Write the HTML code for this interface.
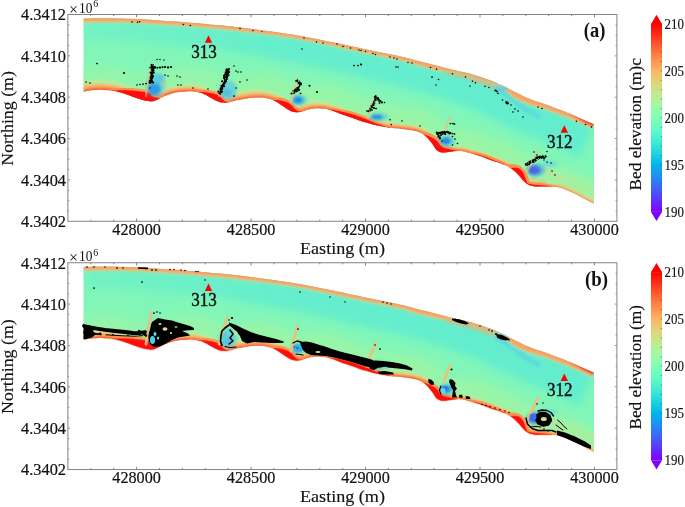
<!DOCTYPE html>
<html><head><meta charset="utf-8"><style>
    html,body{margin:0;padding:0;background:#fff;}
    svg{display:block;}
    text{font-family:"Liberation Serif",serif;fill:#111;}
    .tl{font-size:16px;stroke:#111;stroke-width:0.2px;}
    .ex{font-size:14px;}
    .sup{font-size:10px;}
    .at{font-size:17px;stroke:#111;stroke-width:0.15px;}
    .pl{font-size:20.5px;font-weight:bold;}
    .cl{font-size:15px;stroke:#111;stroke-width:0.15px;}
    .st{font-size:19.5px;stroke:#111;stroke-width:0.45px;}
    </style></head>
<body><svg width="685" height="507" viewBox="0 0 685 507">
<defs>
    <linearGradient id="upg" gradientUnits="userSpaceOnUse" x1="83" y1="0" x2="594" y2="0"><stop offset="0" stop-color="#50e8dc" stop-opacity="0.3"/><stop offset="0.4" stop-color="#50e8dc" stop-opacity="0.58"/><stop offset="1" stop-color="#50e8dc" stop-opacity="0.62"/></linearGradient>
    <linearGradient id="lowg" gradientUnits="userSpaceOnUse" x1="83" y1="0" x2="594" y2="0"><stop offset="0" stop-color="#a6f49c" stop-opacity="0.45"/><stop offset="0.5" stop-color="#a6f49c" stop-opacity="0.6"/><stop offset="1" stop-color="#a6f49c" stop-opacity="0.65"/></linearGradient>
    <filter id="blur6" x="-50%" y="-50%" width="200%" height="200%"><feGaussianBlur stdDeviation="6"/></filter>
    <filter id="blur4" x="-20%" y="-20%" width="140%" height="140%"><feGaussianBlur stdDeviation="4"/></filter>
    <filter id="blur08" x="-10%" y="-10%" width="120%" height="120%"><feGaussianBlur stdDeviation="0.8"/></filter>
    <filter id="blur1" x="-10%" y="-10%" width="120%" height="120%"><feGaussianBlur stdDeviation="1"/></filter>
    <filter id="blur05" x="-10%" y="-10%" width="120%" height="120%"><feGaussianBlur stdDeviation="0.5"/></filter>
    <filter id="blur15" x="-50%" y="-50%" width="200%" height="200%"><feGaussianBlur stdDeviation="1.5"/></filter>
    </defs>
<g>
<clipPath id="paclip"><path d="M83.50 18.60 C86.08 18.55 93.25 18.33 99.00 18.30 C104.75 18.27 111.67 18.28 118.00 18.40 C124.33 18.52 130.67 18.70 137.00 19.00 C143.33 19.30 149.67 19.78 156.00 20.20 C162.33 20.62 168.67 21.03 175.00 21.50 C181.33 21.97 188.17 22.52 194.00 23.00 C199.83 23.48 205.60 24.02 210.00 24.40 C214.40 24.78 215.25 24.77 220.40 25.30 C225.55 25.83 234.08 26.78 240.90 27.60 C247.72 28.42 254.50 29.32 261.30 30.20 C268.10 31.08 274.88 31.90 281.70 32.90 C288.52 33.90 295.38 34.98 302.20 36.20 C309.02 37.42 316.30 38.93 322.60 40.20 C328.90 41.47 334.60 42.67 340.00 43.80 C345.40 44.93 350.00 45.93 355.00 47.00 C360.00 48.07 365.83 49.33 370.00 50.20 C374.17 51.07 375.83 51.35 380.00 52.20 C384.17 53.05 390.33 54.30 395.00 55.30 C399.67 56.30 403.83 57.17 408.00 58.20 C412.17 59.23 416.33 60.55 420.00 61.50 C423.67 62.45 426.67 63.08 430.00 63.90 C433.33 64.72 435.83 65.35 440.00 66.40 C444.17 67.45 450.83 69.17 455.00 70.20 C459.17 71.23 461.67 71.75 465.00 72.60 C468.33 73.45 471.67 74.32 475.00 75.30 C478.33 76.28 481.67 77.35 485.00 78.50 C488.33 79.65 492.17 81.03 495.00 82.20 C497.83 83.37 499.50 84.28 502.00 85.50 C504.50 86.72 507.00 88.02 510.00 89.50 C513.00 90.98 516.67 92.82 520.00 94.40 C523.33 95.98 526.67 97.63 530.00 99.00 C533.33 100.37 536.67 101.45 540.00 102.60 C543.33 103.75 546.67 104.70 550.00 105.90 C553.33 107.10 556.67 108.48 560.00 109.80 C563.33 111.12 567.50 112.77 570.00 113.80 C572.50 114.83 573.33 115.25 575.00 116.00 C576.67 116.75 577.83 117.33 580.00 118.30 C582.17 119.27 585.67 120.80 588.00 121.80 C590.33 122.80 593.00 123.88 594.00 124.30 L594.00 203.60 C592.93 203.07 589.88 201.60 587.60 200.40 C585.32 199.20 582.73 197.67 580.30 196.40 C577.87 195.13 575.43 193.92 573.00 192.80 C570.57 191.68 568.13 190.63 565.70 189.70 C563.27 188.77 560.83 187.73 558.40 187.20 C555.97 186.67 553.78 186.62 551.10 186.50 C548.42 186.38 545.22 186.55 542.30 186.50 C539.38 186.45 536.03 186.57 533.60 186.20 C531.17 185.83 529.40 185.22 527.70 184.30 C526.00 183.38 524.85 182.17 523.40 180.70 C521.95 179.23 520.47 177.08 519.00 175.50 C517.53 173.92 516.55 172.77 514.60 171.20 C512.65 169.63 509.73 167.48 507.30 166.10 C504.87 164.72 502.22 163.72 500.00 162.90 C497.78 162.08 497.33 162.37 494.00 161.20 C490.67 160.03 484.37 157.37 480.00 155.90 C475.63 154.43 471.30 153.27 467.80 152.40 C464.30 151.53 462.22 150.78 459.00 150.70 C455.78 150.62 451.42 151.62 448.50 151.90 C445.58 152.18 443.53 152.75 441.50 152.40 C439.47 152.05 437.75 151.12 436.30 149.80 C434.85 148.48 434.18 146.38 432.80 144.50 C431.42 142.62 429.57 140.20 428.00 138.50 C426.43 136.80 425.13 135.48 423.40 134.30 C421.67 133.12 419.78 132.13 417.60 131.40 C415.42 130.67 412.73 130.32 410.30 129.90 C407.87 129.48 405.43 129.18 403.00 128.90 C400.57 128.62 398.13 128.45 395.70 128.20 C393.27 127.95 390.83 127.72 388.40 127.40 C385.97 127.08 383.53 126.73 381.10 126.30 C378.67 125.87 376.23 125.42 373.80 124.80 C371.37 124.18 368.93 123.33 366.50 122.60 C364.07 121.87 361.63 121.20 359.20 120.40 C356.77 119.60 354.33 118.65 351.90 117.80 C349.47 116.95 347.03 116.20 344.60 115.30 C342.17 114.40 339.40 113.22 337.30 112.40 C335.20 111.58 334.10 111.02 332.00 110.40 C329.90 109.78 327.13 109.07 324.70 108.70 C322.27 108.33 319.83 108.15 317.40 108.20 C314.97 108.25 312.53 108.50 310.10 109.00 C307.67 109.50 305.00 110.67 302.80 111.20 C300.60 111.73 298.85 112.20 296.90 112.20 C294.95 112.20 293.28 112.10 291.10 111.20 C288.92 110.30 286.23 108.38 283.80 106.80 C281.37 105.22 278.93 103.03 276.50 101.70 C274.07 100.37 271.63 99.48 269.20 98.80 C266.77 98.12 264.33 97.80 261.90 97.60 C259.47 97.40 257.03 97.45 254.60 97.60 C252.17 97.75 250.13 98.08 247.30 98.50 C244.47 98.92 240.43 99.53 237.60 100.10 C234.77 100.67 232.73 101.48 230.30 101.90 C227.87 102.32 225.43 102.85 223.00 102.60 C220.57 102.35 218.13 101.43 215.70 100.40 C213.27 99.37 210.83 97.67 208.40 96.40 C205.97 95.13 203.53 93.63 201.10 92.80 C198.67 91.97 196.23 91.63 193.80 91.40 C191.37 91.17 188.93 91.30 186.50 91.40 C184.07 91.50 181.63 91.67 179.20 92.00 C176.77 92.33 174.33 92.72 171.90 93.40 C169.47 94.08 167.03 95.05 164.60 96.10 C162.17 97.15 159.33 98.83 157.30 99.70 C155.27 100.57 154.00 101.08 152.40 101.30 C150.80 101.52 150.03 101.43 147.70 101.00 C145.37 100.57 141.90 99.77 138.40 98.70 C134.90 97.63 130.60 95.87 126.70 94.60 C122.80 93.33 118.88 91.88 115.00 91.10 C111.12 90.32 107.28 90.03 103.40 89.90 C99.52 89.77 95.02 90.00 91.70 90.30 C88.38 90.60 84.87 91.47 83.50 91.70 Z"/></clipPath>
<path d="M83.50 18.60 C86.08 18.55 93.25 18.33 99.00 18.30 C104.75 18.27 111.67 18.28 118.00 18.40 C124.33 18.52 130.67 18.70 137.00 19.00 C143.33 19.30 149.67 19.78 156.00 20.20 C162.33 20.62 168.67 21.03 175.00 21.50 C181.33 21.97 188.17 22.52 194.00 23.00 C199.83 23.48 205.60 24.02 210.00 24.40 C214.40 24.78 215.25 24.77 220.40 25.30 C225.55 25.83 234.08 26.78 240.90 27.60 C247.72 28.42 254.50 29.32 261.30 30.20 C268.10 31.08 274.88 31.90 281.70 32.90 C288.52 33.90 295.38 34.98 302.20 36.20 C309.02 37.42 316.30 38.93 322.60 40.20 C328.90 41.47 334.60 42.67 340.00 43.80 C345.40 44.93 350.00 45.93 355.00 47.00 C360.00 48.07 365.83 49.33 370.00 50.20 C374.17 51.07 375.83 51.35 380.00 52.20 C384.17 53.05 390.33 54.30 395.00 55.30 C399.67 56.30 403.83 57.17 408.00 58.20 C412.17 59.23 416.33 60.55 420.00 61.50 C423.67 62.45 426.67 63.08 430.00 63.90 C433.33 64.72 435.83 65.35 440.00 66.40 C444.17 67.45 450.83 69.17 455.00 70.20 C459.17 71.23 461.67 71.75 465.00 72.60 C468.33 73.45 471.67 74.32 475.00 75.30 C478.33 76.28 481.67 77.35 485.00 78.50 C488.33 79.65 492.17 81.03 495.00 82.20 C497.83 83.37 499.50 84.28 502.00 85.50 C504.50 86.72 507.00 88.02 510.00 89.50 C513.00 90.98 516.67 92.82 520.00 94.40 C523.33 95.98 526.67 97.63 530.00 99.00 C533.33 100.37 536.67 101.45 540.00 102.60 C543.33 103.75 546.67 104.70 550.00 105.90 C553.33 107.10 556.67 108.48 560.00 109.80 C563.33 111.12 567.50 112.77 570.00 113.80 C572.50 114.83 573.33 115.25 575.00 116.00 C576.67 116.75 577.83 117.33 580.00 118.30 C582.17 119.27 585.67 120.80 588.00 121.80 C590.33 122.80 593.00 123.88 594.00 124.30 L594.00 203.60 C592.93 203.07 589.88 201.60 587.60 200.40 C585.32 199.20 582.73 197.67 580.30 196.40 C577.87 195.13 575.43 193.92 573.00 192.80 C570.57 191.68 568.13 190.63 565.70 189.70 C563.27 188.77 560.83 187.73 558.40 187.20 C555.97 186.67 553.78 186.62 551.10 186.50 C548.42 186.38 545.22 186.55 542.30 186.50 C539.38 186.45 536.03 186.57 533.60 186.20 C531.17 185.83 529.40 185.22 527.70 184.30 C526.00 183.38 524.85 182.17 523.40 180.70 C521.95 179.23 520.47 177.08 519.00 175.50 C517.53 173.92 516.55 172.77 514.60 171.20 C512.65 169.63 509.73 167.48 507.30 166.10 C504.87 164.72 502.22 163.72 500.00 162.90 C497.78 162.08 497.33 162.37 494.00 161.20 C490.67 160.03 484.37 157.37 480.00 155.90 C475.63 154.43 471.30 153.27 467.80 152.40 C464.30 151.53 462.22 150.78 459.00 150.70 C455.78 150.62 451.42 151.62 448.50 151.90 C445.58 152.18 443.53 152.75 441.50 152.40 C439.47 152.05 437.75 151.12 436.30 149.80 C434.85 148.48 434.18 146.38 432.80 144.50 C431.42 142.62 429.57 140.20 428.00 138.50 C426.43 136.80 425.13 135.48 423.40 134.30 C421.67 133.12 419.78 132.13 417.60 131.40 C415.42 130.67 412.73 130.32 410.30 129.90 C407.87 129.48 405.43 129.18 403.00 128.90 C400.57 128.62 398.13 128.45 395.70 128.20 C393.27 127.95 390.83 127.72 388.40 127.40 C385.97 127.08 383.53 126.73 381.10 126.30 C378.67 125.87 376.23 125.42 373.80 124.80 C371.37 124.18 368.93 123.33 366.50 122.60 C364.07 121.87 361.63 121.20 359.20 120.40 C356.77 119.60 354.33 118.65 351.90 117.80 C349.47 116.95 347.03 116.20 344.60 115.30 C342.17 114.40 339.40 113.22 337.30 112.40 C335.20 111.58 334.10 111.02 332.00 110.40 C329.90 109.78 327.13 109.07 324.70 108.70 C322.27 108.33 319.83 108.15 317.40 108.20 C314.97 108.25 312.53 108.50 310.10 109.00 C307.67 109.50 305.00 110.67 302.80 111.20 C300.60 111.73 298.85 112.20 296.90 112.20 C294.95 112.20 293.28 112.10 291.10 111.20 C288.92 110.30 286.23 108.38 283.80 106.80 C281.37 105.22 278.93 103.03 276.50 101.70 C274.07 100.37 271.63 99.48 269.20 98.80 C266.77 98.12 264.33 97.80 261.90 97.60 C259.47 97.40 257.03 97.45 254.60 97.60 C252.17 97.75 250.13 98.08 247.30 98.50 C244.47 98.92 240.43 99.53 237.60 100.10 C234.77 100.67 232.73 101.48 230.30 101.90 C227.87 102.32 225.43 102.85 223.00 102.60 C220.57 102.35 218.13 101.43 215.70 100.40 C213.27 99.37 210.83 97.67 208.40 96.40 C205.97 95.13 203.53 93.63 201.10 92.80 C198.67 91.97 196.23 91.63 193.80 91.40 C191.37 91.17 188.93 91.30 186.50 91.40 C184.07 91.50 181.63 91.67 179.20 92.00 C176.77 92.33 174.33 92.72 171.90 93.40 C169.47 94.08 167.03 95.05 164.60 96.10 C162.17 97.15 159.33 98.83 157.30 99.70 C155.27 100.57 154.00 101.08 152.40 101.30 C150.80 101.52 150.03 101.43 147.70 101.00 C145.37 100.57 141.90 99.77 138.40 98.70 C134.90 97.63 130.60 95.87 126.70 94.60 C122.80 93.33 118.88 91.88 115.00 91.10 C111.12 90.32 107.28 90.03 103.40 89.90 C99.52 89.77 95.02 90.00 91.70 90.30 C88.38 90.60 84.87 91.47 83.50 91.70 Z" fill="#82f6b8"/>
<g clip-path="url(#paclip)">
<g filter="url(#blur4)">
<path d="M85.7 103.5 L86.7 103.3 L87.9 103.1 L89.1 102.8 L90.4 102.6 L91.7 102.4 L92.8 102.2 L94.3 102.1 L96.0 102.0 L97.8 101.9 L99.6 101.9 L101.4 101.9 L103.0 101.9 L104.7 102.0 L106.4 102.1 L108.0 102.2 L109.6 102.4 L111.1 102.6 L112.6 102.9 L114.0 103.2 L115.5 103.6 L117.2 104.1 L119.0 104.7 L121.0 105.3 L122.9 106.0 L124.7 106.6 L126.6 107.3 L128.6 108.0 L130.6 108.7 L132.7 109.5 L134.9 110.2 L136.9 110.8 L138.8 111.3 L140.7 111.7 L142.4 112.2 L144.0 112.5 L145.5 112.8 L146.7 113.0 L148.0 113.2 L149.5 113.4 L151.1 113.4 L152.6 113.3 L154.1 113.2 L155.6 112.9 L157.2 112.5 L158.6 112.1 L159.8 111.6 L160.9 111.2 L162.1 110.7 L163.6 110.0 L165.0 109.3 L166.3 108.6 L167.5 108.0 L168.6 107.5 L169.4 107.1 L170.4 106.7 L171.5 106.2 L172.5 105.8 L173.4 105.5 L174.3 105.2 L175.1 105.0 L175.9 104.7 L176.8 104.6 L177.7 104.4 L178.7 104.2 L179.7 104.0 L180.8 103.9 L181.8 103.8 L182.8 103.7 L183.8 103.6 L184.8 103.5 L185.9 103.4 L187.0 103.4 L188.2 103.3 L189.3 103.3 L190.3 103.3 L191.2 103.3 L192.0 103.3 L192.7 103.3 L193.7 103.4 L194.5 103.6 L195.3 103.7 L196.0 103.8 L196.7 104.0 L197.2 104.1 L197.6 104.3 L198.3 104.6 L199.2 105.1 L200.2 105.6 L201.5 106.3 L202.8 107.0 L203.7 107.5 L204.8 108.1 L206.0 108.8 L207.4 109.7 L209.1 110.6 L210.9 111.4 L212.4 112.0 L214.0 112.6 L215.7 113.2 L217.5 113.8 L219.6 114.2 L221.8 114.5 L224.1 114.7 L226.3 114.6 L228.1 114.4 L229.8 114.2 L231.2 113.9 L232.4 113.7 L234.1 113.4 L235.7 113.0 L237.0 112.6 L238.1 112.3 L239.1 112.1 L240.0 111.9 L241.3 111.6 L242.8 111.4 L244.4 111.1 L246.0 110.8 L247.6 110.6 L249.1 110.4 L250.4 110.2 L251.6 110.0 L252.7 109.8 L253.6 109.7 L254.5 109.6 L255.4 109.6 L256.4 109.5 L257.4 109.5 L258.3 109.5 L259.2 109.5 L260.1 109.5 L260.9 109.6 L261.9 109.6 L262.8 109.8 L263.7 109.9 L264.5 110.0 L265.3 110.2 L266.0 110.4 L266.8 110.6 L267.7 110.9 L268.5 111.2 L269.3 111.5 L270.0 111.8 L270.7 112.2 L271.2 112.5 L272.0 113.0 L273.0 113.8 L274.2 114.7 L275.6 115.7 L277.2 116.8 L278.4 117.6 L279.7 118.5 L281.1 119.4 L282.7 120.4 L284.5 121.3 L286.5 122.3 L288.5 123.0 L290.4 123.6 L292.3 123.9 L294.1 124.1 L295.6 124.2 L297.0 124.2 L298.8 124.1 L300.5 123.9 L302.0 123.7 L303.4 123.4 L304.5 123.1 L305.7 122.8 L307.4 122.4 L308.9 121.9 L310.2 121.5 L311.2 121.1 L312.0 120.9 L312.6 120.7 L313.3 120.6 L314.2 120.5 L315.0 120.4 L315.9 120.3 L316.8 120.2 L317.6 120.2 L318.5 120.2 L319.3 120.2 L320.2 120.3 L321.1 120.3 L322.0 120.4 L322.9 120.6 L323.7 120.7 L324.7 120.9 L325.7 121.1 L326.7 121.4 L327.7 121.6 L328.6 121.9 L329.2 122.1 L329.7 122.3 L330.2 122.5 L330.9 122.8 L331.8 123.1 L332.9 123.6 L333.9 124.0 L335.1 124.4 L336.3 124.9 L337.6 125.5 L339.0 126.0 L340.4 126.6 L341.8 127.1 L343.2 127.5 L344.4 128.0 L345.7 128.4 L346.8 128.7 L347.9 129.1 L349.1 129.5 L350.2 129.9 L351.4 130.4 L352.7 130.9 L354.1 131.3 L355.4 131.8 L356.8 132.2 L358.2 132.7 L359.5 133.0 L360.7 133.4 L361.9 133.7 L363.0 134.1 L364.1 134.4 L365.3 134.8 L366.6 135.2 L367.9 135.6 L369.3 136.0 L370.8 136.4 L372.3 136.8 L373.7 137.1 L375.1 137.4 L376.4 137.6 L377.7 137.9 L379.0 138.1 L380.3 138.3 L381.7 138.6 L383.0 138.8 L384.3 139.0 L385.6 139.1 L386.9 139.3 L388.2 139.5 L389.5 139.6 L390.8 139.8 L392.0 139.9 L393.3 140.0 L394.5 140.1 L395.8 140.3 L397.1 140.4 L398.3 140.5 L399.4 140.6 L400.6 140.7 L401.6 140.8 L402.8 141.0 L403.9 141.1 L405.1 141.2 L406.2 141.4 L407.2 141.6 L408.3 141.7 L409.6 141.9 L410.8 142.1 L411.9 142.3 L412.7 142.5 L413.4 142.7 L413.8 142.8 L414.3 143.0 L414.8 143.2 L415.3 143.4 L415.7 143.6 L416.2 143.9 L416.6 144.2 L416.9 144.4 L417.2 144.7 L417.6 145.0 L418.0 145.4 L418.5 145.9 L419.1 146.6 L419.7 147.2 L420.4 148.0 L421.1 148.9 L421.8 149.8 L422.5 150.7 L423.1 151.5 L423.2 151.8 L423.5 152.3 L424.1 153.3 L424.9 154.7 L426.3 156.6 L428.1 158.6 L429.7 159.9 L431.4 161.1 L433.2 162.2 L435.2 163.0 L437.3 163.7 L439.5 164.2 L442.1 164.5 L444.3 164.5 L446.1 164.3 L447.5 164.1 L448.6 164.0 L449.8 163.8 L451.7 163.6 L453.6 163.3 L455.4 163.0 L456.9 162.8 L458.1 162.7 L458.7 162.7 L459.3 162.7 L459.9 162.8 L460.7 163.0 L461.7 163.2 L463.1 163.6 L464.9 164.0 L466.6 164.5 L468.4 165.0 L470.3 165.5 L472.2 166.0 L474.2 166.6 L476.2 167.3 L478.2 168.0 L480.5 168.9 L483.0 169.8 L485.5 170.8 L487.8 171.7 L490.0 172.5 L492.0 173.2 L493.6 173.6 L494.8 173.9 L495.4 174.0 L495.6 174.1 L495.9 174.2 L496.9 174.6 L497.9 174.9 L498.9 175.3 L499.8 175.7 L500.6 176.1 L501.4 176.5 L502.2 177.0 L503.1 177.6 L504.2 178.4 L505.2 179.1 L506.2 179.9 L507.1 180.5 L507.6 181.0 L508.1 181.4 L508.4 181.8 L508.9 182.3 L509.5 182.9 L510.1 183.6 L510.6 184.1 L511.1 184.8 L511.8 185.6 L512.7 186.7 L513.7 187.8 L514.8 189.1 L515.6 189.9 L516.5 190.7 L517.5 191.7 L518.8 192.8 L520.3 193.8 L522.0 194.8 L523.5 195.6 L525.0 196.3 L526.6 196.9 L528.3 197.4 L530.1 197.8 L531.9 198.1 L533.9 198.3 L535.8 198.4 L537.6 198.5 L539.2 198.5 L540.8 198.5 L542.2 198.5 L543.8 198.5 L545.4 198.5 L546.9 198.5 L548.3 198.5 L549.6 198.5 L550.6 198.5 L551.9 198.5 L553.0 198.6 L553.9 198.7 L554.6 198.7 L555.3 198.8 L555.8 198.9 L556.4 199.1 L557.1 199.3 L558.0 199.6 L559.0 200.0 L560.1 200.4 L561.4 200.9 L562.5 201.3 L563.6 201.8 L564.6 202.2 L565.7 202.7 L566.9 203.2 L568.0 203.7 L569.1 204.2 L570.2 204.7 L571.3 205.3 L572.5 205.9 L573.6 206.4 L574.7 207.0 L575.8 207.6 L576.9 208.2 L578.1 208.9 L579.4 209.6 L580.7 210.3 L582.0 211.0 L583.3 211.7 L584.7 212.4 L585.9 213.0 L587.1 213.6 L588.0 214.0 L588.7 214.3 L602.9 185.7 L602.1 185.3 L601.2 184.8 L600.1 184.3 L599.0 183.8 L597.9 183.2 L596.9 182.7 L596.0 182.2 L595.0 181.6 L593.8 181.0 L592.5 180.2 L591.1 179.4 L589.6 178.6 L588.2 177.9 L586.9 177.3 L585.5 176.6 L584.2 175.9 L582.8 175.2 L581.4 174.6 L580.0 173.9 L578.6 173.3 L577.2 172.7 L575.8 172.1 L574.4 171.5 L573.0 170.9 L571.8 170.5 L570.5 169.9 L568.9 169.3 L567.1 168.7 L565.1 168.1 L562.7 167.5 L560.5 167.0 L558.4 166.7 L556.5 166.5 L554.8 166.4 L553.3 166.3 L551.9 166.2 L550.0 166.1 L548.2 166.1 L546.5 166.1 L545.0 166.1 L543.7 166.1 L542.5 166.1 L540.9 166.0 L539.4 166.0 L538.1 166.0 L537.1 165.9 L536.6 165.9 L536.6 165.9 L536.5 165.8 L536.6 165.8 L536.8 165.9 L537.1 166.0 L537.3 166.1 L537.6 166.2 L538.3 166.6 L538.8 167.0 L539.1 167.2 L539.1 167.2 L538.8 166.8 L538.3 166.3 L538.2 166.2 L538.0 165.9 L537.4 165.2 L536.6 164.2 L535.6 162.9 L534.4 161.5 L533.6 160.6 L532.8 159.8 L531.8 158.7 L530.6 157.5 L529.2 156.2 L527.7 155.0 L526.3 153.8 L524.8 152.7 L523.2 151.5 L521.5 150.3 L519.7 149.1 L517.7 147.8 L515.6 146.7 L513.6 145.7 L511.8 144.9 L510.1 144.2 L508.6 143.6 L507.2 143.0 L505.1 142.3 L503.1 141.8 L502.0 141.5 L501.7 141.4 L501.6 141.4 L501.0 141.2 L499.7 140.6 L497.6 139.8 L495.2 138.8 L492.5 137.7 L489.7 136.6 L486.9 135.6 L484.3 134.7 L481.8 133.9 L479.4 133.2 L477.2 132.5 L475.0 131.9 L473.1 131.4 L471.6 131.0 L470.0 130.6 L468.0 130.1 L465.6 129.6 L462.7 129.2 L459.5 129.0 L455.9 129.0 L452.9 129.3 L450.5 129.6 L448.5 129.9 L447.0 130.1 L446.1 130.2 L444.3 130.4 L442.8 130.6 L442.1 130.6 L442.3 130.6 L443.4 130.6 L445.1 130.8 L446.4 131.1 L447.6 131.4 L448.7 131.9 L449.6 132.5 L450.4 133.0 L451.3 133.7 L452.8 135.4 L453.6 136.5 L453.6 136.6 L453.1 135.7 L452.1 133.9 L450.6 131.7 L449.7 130.3 L448.7 129.1 L447.7 127.8 L446.6 126.4 L445.5 125.1 L444.2 123.7 L443.2 122.5 L442.1 121.4 L440.8 120.1 L439.3 118.8 L437.6 117.5 L435.8 116.2 L434.2 115.1 L432.4 114.0 L430.6 113.0 L428.7 112.1 L426.7 111.3 L424.5 110.5 L422.1 109.8 L420.0 109.3 L418.1 108.9 L416.4 108.6 L415.1 108.4 L413.9 108.2 L412.5 107.9 L411.0 107.7 L409.6 107.5 L408.2 107.3 L406.8 107.1 L405.5 106.9 L404.0 106.8 L402.6 106.6 L401.3 106.5 L400.1 106.3 L399.0 106.2 L397.9 106.1 L396.7 106.0 L395.5 105.8 L394.4 105.7 L393.3 105.5 L392.3 105.4 L391.3 105.2 L390.2 105.1 L389.1 104.9 L388.1 104.7 L387.0 104.5 L386.0 104.4 L385.0 104.2 L383.9 103.9 L382.9 103.7 L381.9 103.5 L381.0 103.3 L380.1 103.1 L379.4 102.8 L378.7 102.6 L377.9 102.4 L376.9 102.0 L375.8 101.6 L374.5 101.2 L373.1 100.7 L371.7 100.3 L370.5 99.9 L369.3 99.5 L368.3 99.2 L367.3 98.8 L366.4 98.5 L365.5 98.2 L364.6 97.8 L363.5 97.4 L362.3 96.9 L361.0 96.4 L359.6 95.9 L358.1 95.4 L356.8 94.9 L355.6 94.5 L354.5 94.1 L353.6 93.7 L352.7 93.4 L351.8 93.0 L350.8 92.6 L349.6 92.1 L348.4 91.6 L347.2 91.0 L345.9 90.5 L345.2 90.2 L344.4 89.9 L343.4 89.4 L342.1 88.9 L340.4 88.3 L338.7 87.7 L337.2 87.3 L335.7 86.8 L334.0 86.4 L332.2 86.0 L330.3 85.6 L328.3 85.2 L326.4 84.9 L324.6 84.7 L322.7 84.5 L320.8 84.4 L318.9 84.3 L316.9 84.3 L315.0 84.4 L313.1 84.5 L311.2 84.6 L309.2 84.9 L307.3 85.2 L305.1 85.6 L302.5 86.2 L300.4 86.8 L298.7 87.4 L297.6 87.7 L297.0 87.9 L296.9 87.9 L296.1 88.1 L295.5 88.3 L295.3 88.3 L295.5 88.3 L296.1 88.2 L296.7 88.2 L296.6 88.2 L296.9 88.2 L297.6 88.3 L298.5 88.5 L299.5 88.7 L300.3 89.0 L301.0 89.3 L300.9 89.3 L300.4 89.0 L299.5 88.4 L298.3 87.6 L297.1 86.8 L296.5 86.4 L295.7 85.8 L294.5 84.9 L292.9 83.7 L290.7 82.3 L288.1 80.7 L285.8 79.5 L283.7 78.5 L281.5 77.6 L279.5 76.9 L277.6 76.2 L275.6 75.7 L273.4 75.1 L271.3 74.7 L269.3 74.3 L267.3 74.0 L265.5 73.8 L263.8 73.7 L261.9 73.5 L260.0 73.5 L258.1 73.5 L256.4 73.5 L254.7 73.6 L253.1 73.6 L251.3 73.8 L249.6 74.0 L248.0 74.2 L246.5 74.4 L245.1 74.6 L243.8 74.8 L242.2 75.0 L240.5 75.3 L238.6 75.6 L236.7 75.9 L234.8 76.2 L232.8 76.6 L230.6 77.1 L228.7 77.6 L227.3 77.9 L226.5 78.2 L226.2 78.3 L226.0 78.3 L224.9 78.5 L224.0 78.6 L223.7 78.7 L223.8 78.7 L224.4 78.7 L225.4 78.7 L226.2 78.8 L226.6 78.9 L226.7 78.9 L226.4 78.8 L225.9 78.6 L225.2 78.4 L225.3 78.4 L224.9 78.2 L224.2 77.8 L223.0 77.1 L221.4 76.2 L219.7 75.2 L218.6 74.6 L217.4 74.0 L215.9 73.2 L214.0 72.2 L211.7 71.2 L208.9 70.1 L206.3 69.3 L203.9 68.7 L201.7 68.2 L199.6 67.9 L197.7 67.7 L196.0 67.5 L193.8 67.3 L191.7 67.3 L189.8 67.3 L188.2 67.3 L186.7 67.4 L185.5 67.4 L184.0 67.5 L182.5 67.6 L181.0 67.7 L179.3 67.8 L177.7 68.0 L176.0 68.2 L174.5 68.4 L172.9 68.7 L171.2 69.0 L169.4 69.3 L167.5 69.8 L165.4 70.3 L163.4 70.9 L161.6 71.5 L159.8 72.2 L158.1 72.8 L156.6 73.4 L155.0 74.1 L153.0 75.0 L151.2 75.9 L149.7 76.7 L148.6 77.3 L147.9 77.6 L147.7 77.7 L147.1 77.9 L146.8 78.1 L146.9 78.0 L147.4 77.9 L148.3 77.7 L149.1 77.5 L149.7 77.5 L150.8 77.4 L152.0 77.5 L152.7 77.5 L152.7 77.5 L152.1 77.4 L151.3 77.2 L150.3 77.0 L149.2 76.8 L147.9 76.5 L146.7 76.1 L145.4 75.8 L144.3 75.4 L142.8 74.9 L141.0 74.2 L138.9 73.4 L136.6 72.6 L134.2 71.8 L132.3 71.2 L130.3 70.5 L128.1 69.8 L125.6 69.0 L122.8 68.3 L119.8 67.6 L116.9 67.1 L114.1 66.7 L111.5 66.4 L109.0 66.2 L106.5 66.0 L104.2 65.9 L101.5 65.9 L98.9 65.9 L96.4 66.0 L94.0 66.1 L91.7 66.2 L89.4 66.4 L86.8 66.7 L84.4 67.1 L82.3 67.5 L80.7 67.8 L79.6 68.0 L79.2 68.1 Z" fill="url(#lowg)"/>
<path d="M83.2 6.6 L84.9 6.6 L87.1 6.5 L89.8 6.4 L92.8 6.4 L95.9 6.3 L98.9 6.3 L101.9 6.3 L105.1 6.3 L108.3 6.3 L111.6 6.3 L115.0 6.4 L118.2 6.4 L121.4 6.5 L124.6 6.5 L127.9 6.6 L131.1 6.7 L134.3 6.9 L137.6 7.0 L140.8 7.2 L144.1 7.4 L147.3 7.6 L150.5 7.8 L153.6 8.0 L156.8 8.2 L160.0 8.4 L163.1 8.6 L166.3 8.9 L169.5 9.1 L172.7 9.3 L175.9 9.5 L179.1 9.8 L182.4 10.0 L185.6 10.3 L188.9 10.5 L192.0 10.8 L195.0 11.0 L197.9 11.3 L200.8 11.5 L203.6 11.8 L206.3 12.0 L208.8 12.2 L211.0 12.4 L212.9 12.6 L214.4 12.7 L215.9 12.8 L217.4 13.0 L219.3 13.1 L221.6 13.4 L224.5 13.7 L227.8 14.0 L231.4 14.4 L235.1 14.8 L238.8 15.3 L242.3 15.7 L245.8 16.1 L249.2 16.5 L252.6 17.0 L256.1 17.4 L259.5 17.9 L262.8 18.3 L266.2 18.7 L269.6 19.2 L273.0 19.6 L276.5 20.1 L279.9 20.5 L283.4 21.0 L286.9 21.5 L290.4 22.1 L293.8 22.6 L297.3 23.2 L300.8 23.8 L304.3 24.4 L307.9 25.0 L311.4 25.7 L314.9 26.4 L318.4 27.1 L321.8 27.8 L325.0 28.4 L328.1 29.1 L331.1 29.7 L334.1 30.3 L336.9 30.9 L339.7 31.5 L342.5 32.1 L345.1 32.6 L347.7 33.2 L350.2 33.7 L352.6 34.2 L355.0 34.7 L357.5 35.3 L360.1 35.8 L362.7 36.4 L365.3 36.9 L367.9 37.5 L370.3 38.0 L372.4 38.5 L374.3 38.8 L375.9 39.1 L377.3 39.4 L378.8 39.7 L380.5 40.0 L382.4 40.4 L384.6 40.9 L387.1 41.4 L389.7 41.9 L392.4 42.5 L395.0 43.0 L397.5 43.6 L399.8 44.1 L402.0 44.5 L404.3 45.0 L406.5 45.5 L408.7 46.0 L410.9 46.6 L413.2 47.1 L415.4 47.7 L417.5 48.3 L419.5 48.9 L421.3 49.4 L423.0 49.9 L424.7 50.3 L426.3 50.7 L427.9 51.1 L429.5 51.4 L431.1 51.8 L432.8 52.2 L434.5 52.6 L436.0 53.0 L437.6 53.4 L439.2 53.8 L441.0 54.3 L442.9 54.8 L445.2 55.3 L447.8 56.0 L450.5 56.7 L453.1 57.4 L455.7 58.0 L457.9 58.6 L459.8 59.0 L461.5 59.4 L463.0 59.8 L464.6 60.2 L466.2 60.5 L468.0 61.0 L469.7 61.4 L471.4 61.9 L473.1 62.3 L474.8 62.8 L476.6 63.3 L478.4 63.8 L480.1 64.3 L481.9 64.9 L483.7 65.4 L485.4 66.0 L487.2 66.6 L488.9 67.2 L490.7 67.8 L492.5 68.4 L494.3 69.1 L496.1 69.8 L497.9 70.4 L499.6 71.1 L501.2 71.8 L502.6 72.4 L503.9 73.0 L505.0 73.6 L506.1 74.2 L507.3 74.7 L508.6 75.4 L509.9 76.0 L511.2 76.7 L512.5 77.4 L513.9 78.0 L515.3 78.7 L516.9 79.5 L518.5 80.3 L520.2 81.1 L521.9 82.0 L523.5 82.8 L525.2 83.6 L526.8 84.4 L528.5 85.2 L530.1 85.9 L531.6 86.6 L533.1 87.3 L534.6 87.9 L536.0 88.5 L537.5 89.0 L539.0 89.6 L540.6 90.1 L542.2 90.7 L543.9 91.2 L545.4 91.8 L547.0 92.3 L548.6 92.8 L550.4 93.4 L552.2 94.0 L554.1 94.6 L555.9 95.3 L557.7 96.0 L559.4 96.6 L561.1 97.3 L562.8 98.0 L564.4 98.6 L566.1 99.3 L567.9 100.0 L569.8 100.8 L571.5 101.5 L573.1 102.1 L574.6 102.7 L575.8 103.2 L576.8 103.7 L577.7 104.1 L578.5 104.4 L579.2 104.7 L579.9 105.1 L580.8 105.5 L581.6 105.8 L582.4 106.2 L583.2 106.6 L584.0 106.9 L584.9 107.3 L586.0 107.9 L587.4 108.4 L588.7 109.0 L590.2 109.7 L591.5 110.2 L592.7 110.8 L593.8 111.2 L595.0 111.7 L596.1 112.2 L597.1 112.6 L597.9 112.9 L598.6 113.2 L580.2 157.6 L579.7 157.3 L578.8 157.0 L577.7 156.5 L576.5 156.0 L575.2 155.5 L573.8 154.9 L572.5 154.3 L571.0 153.6 L569.5 153.0 L568.1 152.3 L566.7 151.7 L565.4 151.1 L564.1 150.5 L563.0 150.0 L562.1 149.5 L561.4 149.2 L560.8 148.9 L560.2 148.6 L559.4 148.2 L558.7 147.9 L558.2 147.6 L557.7 147.4 L557.2 147.1 L556.4 146.8 L555.2 146.3 L553.8 145.6 L552.1 144.9 L550.4 144.2 L548.7 143.4 L547.0 142.7 L545.2 142.0 L543.6 141.3 L542.0 140.6 L540.6 140.0 L539.3 139.4 L538.1 138.9 L537.1 138.5 L535.8 138.0 L534.4 137.5 L532.7 136.9 L530.8 136.2 L528.7 135.5 L527.1 134.9 L525.4 134.3 L523.5 133.5 L521.5 132.8 L519.3 131.9 L516.9 130.9 L514.6 129.9 L512.4 128.9 L510.4 127.9 L508.6 127.0 L506.9 126.1 L505.3 125.3 L503.4 124.4 L501.6 123.5 L499.8 122.5 L498.1 121.6 L496.4 120.8 L494.9 120.0 L493.3 119.2 L491.8 118.5 L490.5 117.8 L489.3 117.1 L488.1 116.6 L487.0 116.0 L485.7 115.4 L484.6 114.8 L483.8 114.4 L483.2 114.1 L482.7 113.9 L482.1 113.6 L481.1 113.2 L479.9 112.7 L478.5 112.1 L477.0 111.5 L475.5 110.9 L474.0 110.3 L472.6 109.7 L471.2 109.2 L469.8 108.6 L468.4 108.1 L467.0 107.5 L465.7 107.0 L464.3 106.5 L463.0 106.0 L461.5 105.5 L460.1 105.0 L458.6 104.5 L457.0 104.0 L455.7 103.5 L454.5 103.1 L453.0 102.7 L451.4 102.1 L449.5 101.6 L447.4 100.9 L445.1 100.1 L442.5 99.3 L439.8 98.4 L437.2 97.6 L434.7 96.8 L432.5 96.1 L430.6 95.5 L428.9 95.0 L427.3 94.5 L425.8 94.1 L424.4 93.6 L422.8 93.2 L421.4 92.8 L419.9 92.4 L418.3 92.0 L416.5 91.6 L414.6 91.1 L412.4 90.5 L410.2 89.9 L408.0 89.3 L406.0 88.7 L404.1 88.2 L402.4 87.7 L400.8 87.3 L399.0 86.8 L397.2 86.4 L395.3 85.9 L393.2 85.4 L391.1 84.9 L388.8 84.4 L386.4 83.9 L383.9 83.3 L381.3 82.7 L378.8 82.1 L376.3 81.6 L374.1 81.1 L372.3 80.7 L370.8 80.3 L369.4 80.0 L367.8 79.7 L366.1 79.3 L364.0 78.8 L361.8 78.3 L359.3 77.7 L356.7 77.1 L354.1 76.5 L351.5 75.8 L349.0 75.2 L346.5 74.6 L344.1 74.1 L341.6 73.5 L339.2 72.9 L336.7 72.3 L334.1 71.7 L331.4 71.1 L328.7 70.4 L325.9 69.8 L323.0 69.2 L320.1 68.5 L317.0 67.8 L313.8 67.1 L310.5 66.4 L307.1 65.7 L303.8 65.0 L300.5 64.4 L297.3 63.8 L294.0 63.2 L290.8 62.6 L287.5 62.0 L284.3 61.5 L281.0 60.9 L277.7 60.3 L274.5 59.7 L271.3 59.1 L268.0 58.5 L264.7 57.9 L261.3 57.3 L257.9 56.6 L254.5 56.0 L251.1 55.4 L247.8 54.7 L244.5 54.1 L241.2 53.5 L237.9 52.9 L234.4 52.3 L230.9 51.7 L227.3 51.1 L223.8 50.5 L220.6 50.0 L217.9 49.6 L215.8 49.3 L214.3 49.1 L213.0 49.0 L211.7 48.8 L210.0 48.6 L207.9 48.4 L205.6 48.2 L203.1 47.9 L200.4 47.7 L197.7 47.4 L194.9 47.2 L192.0 46.9 L189.1 46.6 L186.0 46.4 L182.8 46.1 L179.6 45.8 L176.4 45.5 L173.3 45.2 L170.1 44.9 L167.0 44.6 L163.9 44.4 L160.8 44.1 L157.6 43.8 L154.5 43.5 L151.3 43.2 L148.1 42.9 L145.0 42.6 L141.9 42.4 L138.9 42.1 L135.9 41.9 L132.9 41.6 L129.8 41.4 L126.8 41.3 L123.7 41.1 L120.7 41.0 L117.6 40.8 L114.5 40.7 L111.3 40.6 L108.2 40.5 L105.1 40.5 L102.0 40.4 L99.1 40.4 L96.3 40.4 L93.4 40.4 L90.6 40.5 L87.9 40.5 L85.7 40.6 L84.0 40.6 Z" fill="url(#upg)"/>
</g>
<g filter="url(#blur15)">
<path d="M497 88 L510 98 L525 109 L540 117" fill="none" stroke="#5ccce4" stroke-width="5" opacity="0.6"/>
<ellipse cx="578" cy="188" rx="22" ry="9" fill="#a8f09c" opacity="0.7" transform="rotate(25 578 188)"/>
<path d="M545 170 L553 174 L562 179" fill="none" stroke="#e8c890" stroke-width="3" opacity="0.6"/>
<ellipse cx="533" cy="178.5" rx="3" ry="2" fill="#f0b878" opacity="0.8"/>
<ellipse cx="542" cy="183" rx="5" ry="2" fill="#f4a870" opacity="0.8"/>
</g>
<g filter="url(#blur08)">
<path d="M84.0 94.7 L84.9 94.5 L86.1 94.2 L87.4 94.0 L88.9 93.7 L90.4 93.5 L92.0 93.3 L93.7 93.1 L95.5 93.0 L97.5 92.9 L99.4 92.9 L101.4 92.9 L103.3 92.9 L105.2 93.0 L107.1 93.1 L108.9 93.2 L110.8 93.4 L112.6 93.7 L114.4 94.0 L116.2 94.5 L118.1 95.0 L119.9 95.5 L121.9 96.2 L123.8 96.8 L125.8 97.4 L127.7 98.1 L129.7 98.8 L131.7 99.5 L133.7 100.3 L135.6 101.0 L137.5 101.6 L139.3 102.1 L141.1 102.6 L142.8 103.0 L144.4 103.4 L145.8 103.7 L147.1 103.9 L148.2 104.1 L149.2 104.3 L150.1 104.4 L151.0 104.4 L151.9 104.4 L152.8 104.3 L153.8 104.1 L154.7 103.9 L155.7 103.6 L156.6 103.2 L157.5 102.9 L158.5 102.5 L159.7 101.9 L160.9 101.3 L162.2 100.6 L163.4 100.0 L164.7 99.4 L165.8 98.8 L167.0 98.4 L168.1 97.9 L169.3 97.4 L170.5 97.0 L171.6 96.6 L172.7 96.3 L173.8 96.0 L175.0 95.7 L176.1 95.5 L177.2 95.3 L178.4 95.1 L179.6 95.0 L180.8 94.8 L181.9 94.7 L183.1 94.6 L184.3 94.5 L185.4 94.5 L186.6 94.4 L187.8 94.3 L189.0 94.3 L190.2 94.3 L191.3 94.3 L192.4 94.3 L193.5 94.4 L194.7 94.5 L195.8 94.7 L196.9 94.8 L198.0 95.0 L199.1 95.3 L200.1 95.6 L201.1 96.0 L202.2 96.5 L203.4 97.1 L204.5 97.7 L205.8 98.4 L207.0 99.0 L208.1 99.7 L209.3 100.4 L210.5 101.1 L211.8 101.8 L213.1 102.5 L214.5 103.2 L215.8 103.7 L217.1 104.2 L218.4 104.7 L219.8 105.1 L221.2 105.4 L222.7 105.6 L224.2 105.7 L225.6 105.6 L227.0 105.5 L228.3 105.3 L229.6 105.1 L230.8 104.9 L232.2 104.6 L233.4 104.3 L234.6 103.9 L235.8 103.6 L237.0 103.3 L238.2 103.0 L239.6 102.8 L241.2 102.5 L242.9 102.2 L244.6 101.9 L246.2 101.7 L247.7 101.5 L249.1 101.3 L250.3 101.1 L251.5 100.9 L252.6 100.8 L253.7 100.7 L254.8 100.6 L256.0 100.5 L257.1 100.5 L258.3 100.5 L259.4 100.5 L260.5 100.5 L261.7 100.6 L262.8 100.7 L264.0 100.8 L265.1 101.0 L266.2 101.2 L267.3 101.4 L268.4 101.7 L269.5 102.0 L270.6 102.4 L271.8 102.8 L272.9 103.3 L274.0 103.8 L275.0 104.3 L276.1 105.0 L277.2 105.7 L278.4 106.6 L279.6 107.5 L280.8 108.4 L282.1 109.3 L283.4 110.1 L284.6 111.0 L285.9 111.8 L287.3 112.6 L288.6 113.3 L289.9 114.0 L291.2 114.4 L292.5 114.8 L293.6 115.0 L294.8 115.1 L295.9 115.2 L296.9 115.2 L298.1 115.2 L299.2 115.0 L300.3 114.8 L301.4 114.6 L302.4 114.4 L303.5 114.1 L304.8 113.8 L306.1 113.4 L307.3 112.9 L308.5 112.5 L309.7 112.2 L310.7 111.9 L311.8 111.7 L312.9 111.6 L314.1 111.4 L315.2 111.3 L316.3 111.2 L317.5 111.2 L318.6 111.2 L319.7 111.2 L320.8 111.3 L322.0 111.4 L323.1 111.5 L324.2 111.7 L325.4 111.9 L326.6 112.1 L327.8 112.4 L329.0 112.7 L330.1 113.0 L331.1 113.3 L332.0 113.6 L332.8 113.8 L333.5 114.1 L334.3 114.4 L335.2 114.8 L336.2 115.2 L337.3 115.6 L338.5 116.1 L339.7 116.6 L341.0 117.1 L342.3 117.6 L343.6 118.1 L344.8 118.6 L346.1 119.0 L347.3 119.4 L348.5 119.8 L349.7 120.2 L350.9 120.6 L352.1 121.1 L353.3 121.5 L354.5 121.9 L355.8 122.4 L357.0 122.8 L358.3 123.2 L359.5 123.7 L360.8 124.0 L362.0 124.4 L363.2 124.8 L364.4 125.1 L365.6 125.5 L366.8 125.8 L368.0 126.2 L369.3 126.6 L370.5 127.0 L371.8 127.4 L373.1 127.7 L374.3 128.0 L375.6 128.3 L376.9 128.6 L378.1 128.8 L379.3 129.0 L380.6 129.3 L381.8 129.5 L383.1 129.7 L384.3 129.9 L385.5 130.0 L386.8 130.2 L388.0 130.4 L389.3 130.5 L390.5 130.7 L391.7 130.8 L393.0 130.9 L394.2 131.1 L395.4 131.2 L396.6 131.3 L397.9 131.4 L399.1 131.5 L400.3 131.6 L401.5 131.8 L402.7 131.9 L403.9 132.0 L405.1 132.2 L406.3 132.3 L407.4 132.5 L408.6 132.7 L409.8 132.9 L411.0 133.1 L412.3 133.3 L413.5 133.5 L414.6 133.7 L415.7 134.0 L416.7 134.2 L417.6 134.6 L418.5 135.0 L419.3 135.4 L420.1 135.8 L420.9 136.3 L421.7 136.8 L422.4 137.3 L423.1 137.8 L423.7 138.4 L424.4 139.0 L425.1 139.7 L425.8 140.5 L426.5 141.4 L427.3 142.3 L428.1 143.3 L428.9 144.3 L429.7 145.3 L430.4 146.3 L430.9 147.0 L431.4 147.9 L431.9 148.8 L432.5 149.9 L433.3 151.0 L434.3 152.0 L435.2 152.8 L436.2 153.5 L437.3 154.1 L438.5 154.7 L439.7 155.1 L441.0 155.4 L442.4 155.5 L443.7 155.5 L445.0 155.4 L446.3 155.2 L447.5 155.0 L448.8 154.9 L450.5 154.7 L452.3 154.4 L454.1 154.1 L455.8 153.9 L457.5 153.7 L458.9 153.7 L460.2 153.8 L461.4 153.9 L462.6 154.2 L463.9 154.5 L465.4 154.9 L467.1 155.3 L468.9 155.8 L470.8 156.3 L472.8 156.8 L474.8 157.4 L476.9 158.1 L479.0 158.7 L481.3 159.5 L483.8 160.5 L486.3 161.5 L488.8 162.4 L491.0 163.3 L493.0 164.0 L494.6 164.5 L495.8 164.9 L496.8 165.1 L497.5 165.3 L498.2 165.4 L499.0 165.7 L500.1 166.1 L501.2 166.6 L502.4 167.1 L503.6 167.6 L504.7 168.1 L505.8 168.7 L507.0 169.4 L508.2 170.2 L509.4 171.0 L510.6 171.9 L511.7 172.7 L512.7 173.5 L513.5 174.2 L514.2 174.8 L514.8 175.5 L515.5 176.1 L516.1 176.8 L516.8 177.5 L517.4 178.3 L518.1 179.1 L518.9 180.0 L519.6 181.0 L520.4 181.9 L521.2 182.8 L522.0 183.5 L522.7 184.2 L523.5 185.0 L524.3 185.7 L525.2 186.3 L526.3 186.9 L527.3 187.4 L528.3 187.9 L529.4 188.3 L530.6 188.7 L531.8 188.9 L533.2 189.2 L534.6 189.3 L536.2 189.4 L537.7 189.5 L539.3 189.5 L540.8 189.5 L542.3 189.5 L543.8 189.5 L545.3 189.5 L546.8 189.5 L548.3 189.5 L549.7 189.5 L551.0 189.5 L552.3 189.6 L553.5 189.6 L554.6 189.7 L555.7 189.8 L556.7 189.9 L557.8 190.1 L558.8 190.4 L559.9 190.7 L561.0 191.1 L562.2 191.6 L563.4 192.0 L564.6 192.5 L565.8 193.0 L567.0 193.4 L568.2 193.9 L569.4 194.5 L570.6 195.0 L571.7 195.5 L572.9 196.1 L574.1 196.6 L575.3 197.2 L576.5 197.8 L577.7 198.4 L578.9 199.1 L580.1 199.7 L581.3 200.4 L582.5 201.0 L583.8 201.7 L585.0 202.4 L586.2 203.1 L587.4 203.7 L588.7 204.3 L589.9 204.9 L591.1 205.5 L592.0 206.0 L592.7 206.3 L595.6 200.5 L594.9 200.1 L593.9 199.7 L592.8 199.1 L591.6 198.5 L590.4 197.9 L589.2 197.3 L588.1 196.7 L587.0 196.0 L585.7 195.3 L584.5 194.6 L583.2 193.9 L582.0 193.2 L580.7 192.6 L579.5 191.9 L578.3 191.3 L577.0 190.7 L575.8 190.0 L574.5 189.4 L573.3 188.9 L572.1 188.3 L570.8 187.7 L569.6 187.2 L568.3 186.7 L567.1 186.1 L565.9 185.7 L564.6 185.2 L563.4 184.7 L562.0 184.2 L560.7 183.8 L559.2 183.4 L557.8 183.1 L556.5 182.9 L555.2 182.8 L553.9 182.7 L552.6 182.6 L551.3 182.5 L549.8 182.5 L548.3 182.5 L546.7 182.5 L545.2 182.5 L543.8 182.5 L542.3 182.5 L540.8 182.4 L539.3 182.4 L537.8 182.4 L536.5 182.3 L535.2 182.2 L534.2 182.0 L533.3 181.8 L532.5 181.6 L531.7 181.3 L531.1 181.0 L530.5 180.7 L529.8 180.4 L529.4 180.0 L528.9 179.7 L528.5 179.3 L528.0 178.8 L527.4 178.1 L526.8 177.4 L526.2 176.8 L525.6 176.0 L524.9 175.2 L524.2 174.2 L523.4 173.2 L522.6 172.2 L521.9 171.4 L521.2 170.7 L520.5 169.9 L519.7 169.1 L518.7 168.2 L517.7 167.3 L516.6 166.4 L515.4 165.5 L514.0 164.5 L512.6 163.5 L511.2 162.6 L509.8 161.8 L508.3 161.0 L506.9 160.3 L505.5 159.7 L504.2 159.1 L502.9 158.6 L501.7 158.2 L500.4 157.8 L499.4 157.5 L498.5 157.3 L497.8 157.1 L496.9 156.9 L495.7 156.5 L493.9 155.8 L491.7 155.0 L489.2 154.0 L486.6 153.0 L484.0 152.0 L481.6 151.2 L479.3 150.4 L477.1 149.7 L474.9 149.1 L472.8 148.5 L470.9 148.0 L469.0 147.6 L467.4 147.1 L465.9 146.7 L464.4 146.4 L462.8 146.1 L461.0 145.8 L459.1 145.7 L457.0 145.7 L454.9 145.9 L452.9 146.1 L451.0 146.4 L449.3 146.6 L447.9 146.7 L446.4 146.8 L445.1 146.9 L444.0 147.0 L443.3 147.0 L442.7 147.0 L442.4 146.9 L442.0 146.8 L441.6 146.6 L441.3 146.4 L440.9 146.2 L440.5 145.9 L440.2 145.6 L440.2 145.5 L439.9 145.1 L439.6 144.5 L439.1 143.6 L438.4 142.4 L437.6 141.1 L436.8 140.0 L436.0 138.9 L435.1 137.8 L434.2 136.6 L433.3 135.5 L432.4 134.5 L431.6 133.6 L430.7 132.7 L429.9 131.8 L428.9 131.0 L427.9 130.1 L426.8 129.4 L425.7 128.6 L424.6 128.0 L423.4 127.3 L422.1 126.7 L420.8 126.2 L419.5 125.7 L418.0 125.3 L416.6 124.9 L415.1 124.6 L413.8 124.4 L412.5 124.2 L411.3 124.0 L410.0 123.8 L408.7 123.6 L407.4 123.4 L406.2 123.2 L404.9 123.1 L403.7 122.9 L402.4 122.8 L401.1 122.7 L399.9 122.6 L398.7 122.5 L397.5 122.3 L396.3 122.2 L395.1 122.1 L393.9 122.0 L392.7 121.9 L391.5 121.7 L390.3 121.6 L389.2 121.4 L388.0 121.3 L386.8 121.1 L385.6 120.9 L384.5 120.7 L383.3 120.5 L382.2 120.3 L381.0 120.1 L379.8 119.9 L378.7 119.6 L377.5 119.4 L376.4 119.1 L375.3 118.8 L374.3 118.5 L373.2 118.2 L372.0 117.8 L370.8 117.4 L369.6 117.0 L368.3 116.5 L367.1 116.1 L365.9 115.7 L364.7 115.4 L363.5 115.0 L362.4 114.6 L361.2 114.2 L360.1 113.8 L359.0 113.4 L357.8 112.9 L356.6 112.4 L355.4 112.0 L354.1 111.5 L352.8 111.0 L351.6 110.6 L350.4 110.1 L349.2 109.7 L348.1 109.3 L347.0 108.9 L345.8 108.4 L344.6 107.9 L343.4 107.4 L342.2 106.9 L341.0 106.4 L339.8 105.9 L338.9 105.6 L338.1 105.2 L337.2 104.8 L336.3 104.5 L335.2 104.1 L334.0 103.7 L332.8 103.3 L331.5 103.0 L330.1 102.6 L328.7 102.3 L327.2 101.9 L325.8 101.6 L324.4 101.3 L323.0 101.1 L321.6 100.9 L320.1 100.7 L318.7 100.6 L317.2 100.5 L315.8 100.5 L314.4 100.5 L312.9 100.6 L311.4 100.7 L310.0 100.9 L308.4 101.2 L306.8 101.6 L305.2 102.0 L303.8 102.5 L302.6 102.9 L301.6 103.2 L300.8 103.4 L299.9 103.7 L299.0 103.9 L298.3 104.0 L297.7 104.1 L297.3 104.2 L296.8 104.2 L296.2 104.2 L295.6 104.2 L295.3 104.1 L294.9 104.1 L294.6 104.0 L294.2 103.8 L293.6 103.6 L292.8 103.1 L291.8 102.5 L290.7 101.8 L289.5 100.9 L288.2 100.1 L287.2 99.5 L286.2 98.7 L284.9 97.7 L283.6 96.7 L282.1 95.7 L280.4 94.7 L278.8 93.9 L277.3 93.2 L275.7 92.6 L274.3 92.0 L272.8 91.5 L271.3 91.1 L269.8 90.7 L268.3 90.3 L266.8 90.0 L265.4 89.7 L263.9 89.5 L262.6 89.3 L261.1 89.1 L259.6 88.9 L258.2 88.8 L256.8 88.7 L255.4 88.6 L254.0 88.6 L252.6 88.6 L251.2 88.6 L249.9 88.6 L248.6 88.7 L247.2 88.8 L245.9 88.9 L244.3 89.0 L242.6 89.2 L240.9 89.4 L239.1 89.7 L237.3 90.0 L235.6 90.3 L233.9 90.7 L232.4 91.2 L231.1 91.5 L230.1 91.9 L229.3 92.1 L228.6 92.4 L227.4 92.6 L226.3 92.9 L225.5 93.1 L224.8 93.2 L224.3 93.4 L223.9 93.4 L223.5 93.4 L222.8 93.4 L222.1 93.3 L221.2 93.1 L220.2 92.8 L219.2 92.4 L218.3 92.2 L217.4 91.7 L216.3 91.2 L215.1 90.6 L213.7 89.8 L212.3 89.1 L211.1 88.6 L209.8 88.0 L208.5 87.3 L207.0 86.6 L205.4 85.9 L203.7 85.2 L202.0 84.7 L200.4 84.3 L198.9 84.0 L197.4 83.8 L195.9 83.6 L194.5 83.4 L193.0 83.3 L191.5 83.3 L190.0 83.3 L188.7 83.3 L187.4 83.4 L186.2 83.4 L184.9 83.5 L183.6 83.5 L182.2 83.6 L180.9 83.8 L179.5 83.9 L178.1 84.1 L176.8 84.3 L175.5 84.5 L174.1 84.7 L172.7 85.0 L171.2 85.3 L169.7 85.7 L168.3 86.1 L166.8 86.6 L165.4 87.1 L164.1 87.7 L162.7 88.2 L161.4 88.8 L159.9 89.5 L158.4 90.2 L157.1 90.8 L155.9 91.4 L154.9 91.9 L154.1 92.2 L153.2 92.6 L152.5 92.8 L152.0 93.0 L151.7 93.0 L151.5 93.1 L151.3 93.1 L151.0 93.1 L150.9 93.0 L150.9 93.0 L150.7 92.9 L150.2 92.8 L149.3 92.6 L148.2 92.3 L146.9 92.0 L145.6 91.5 L144.1 91.1 L142.6 90.6 L141.1 90.0 L139.5 89.4 L137.8 88.7 L135.9 87.9 L133.9 87.0 L131.9 86.2 L129.7 85.4 L127.9 84.7 L125.9 83.9 L123.8 83.2 L121.7 82.5 L119.4 81.9 L117.0 81.3 L114.7 80.9 L112.4 80.5 L110.2 80.2 L108.0 80.0 L105.8 79.8 L103.7 79.6 L101.5 79.5 L99.2 79.4 L96.9 79.4 L94.7 79.4 L92.7 79.4 L90.7 79.5 L88.6 79.7 L86.6 80.0 L84.8 80.3 L83.3 80.5 L82.2 80.8 L81.5 80.9 Z" fill="#b4f09a" opacity="0.8"/>
<path d="M84.0 94.7 L84.9 94.5 L86.1 94.2 L87.4 94.0 L88.9 93.7 L90.4 93.5 L92.0 93.3 L93.7 93.1 L95.5 93.0 L97.5 92.9 L99.4 92.9 L101.4 92.9 L103.3 92.9 L105.2 93.0 L107.1 93.1 L108.9 93.2 L110.8 93.4 L112.6 93.7 L114.4 94.0 L116.2 94.5 L118.1 95.0 L119.9 95.5 L121.9 96.2 L123.8 96.8 L125.8 97.4 L127.7 98.1 L129.7 98.8 L131.7 99.5 L133.7 100.3 L135.6 101.0 L137.5 101.6 L139.3 102.1 L141.1 102.6 L142.8 103.0 L144.4 103.4 L145.8 103.7 L147.1 103.9 L148.2 104.1 L149.2 104.3 L150.1 104.4 L151.0 104.4 L151.9 104.4 L152.8 104.3 L153.8 104.1 L154.7 103.9 L155.7 103.6 L156.6 103.2 L157.5 102.9 L158.5 102.5 L159.7 101.9 L160.9 101.3 L162.2 100.6 L163.4 100.0 L164.7 99.4 L165.8 98.8 L167.0 98.4 L168.1 97.9 L169.3 97.4 L170.5 97.0 L171.6 96.6 L172.7 96.3 L173.8 96.0 L175.0 95.7 L176.1 95.5 L177.2 95.3 L178.4 95.1 L179.6 95.0 L180.8 94.8 L181.9 94.7 L183.1 94.6 L184.3 94.5 L185.4 94.5 L186.6 94.4 L187.8 94.3 L189.0 94.3 L190.2 94.3 L191.3 94.3 L192.4 94.3 L193.5 94.4 L194.7 94.5 L195.8 94.7 L196.9 94.8 L198.0 95.0 L199.1 95.3 L200.1 95.6 L201.1 96.0 L202.2 96.5 L203.4 97.1 L204.5 97.7 L205.8 98.4 L207.0 99.0 L208.1 99.7 L209.3 100.4 L210.5 101.1 L211.8 101.8 L213.1 102.5 L214.5 103.2 L215.8 103.7 L217.1 104.2 L218.4 104.7 L219.8 105.1 L221.2 105.4 L222.7 105.6 L224.2 105.7 L225.6 105.6 L227.0 105.5 L228.3 105.3 L229.6 105.1 L230.8 104.9 L232.2 104.6 L233.4 104.3 L234.6 103.9 L235.8 103.6 L237.0 103.3 L238.2 103.0 L239.6 102.8 L241.2 102.5 L242.9 102.2 L244.6 101.9 L246.2 101.7 L247.7 101.5 L249.1 101.3 L250.3 101.1 L251.5 100.9 L252.6 100.8 L253.7 100.7 L254.8 100.6 L256.0 100.5 L257.1 100.5 L258.3 100.5 L259.4 100.5 L260.5 100.5 L261.7 100.6 L262.8 100.7 L264.0 100.8 L265.1 101.0 L266.2 101.2 L267.3 101.4 L268.4 101.7 L269.5 102.0 L270.6 102.4 L271.8 102.8 L272.9 103.3 L274.0 103.8 L275.0 104.3 L276.1 105.0 L277.2 105.7 L278.4 106.6 L279.6 107.5 L280.8 108.4 L282.1 109.3 L283.4 110.1 L284.6 111.0 L285.9 111.8 L287.3 112.6 L288.6 113.3 L289.9 114.0 L291.2 114.4 L292.5 114.8 L293.6 115.0 L294.8 115.1 L295.9 115.2 L296.9 115.2 L298.1 115.2 L299.2 115.0 L300.3 114.8 L301.4 114.6 L302.4 114.4 L303.5 114.1 L304.8 113.8 L306.1 113.4 L307.3 112.9 L308.5 112.5 L309.7 112.2 L310.7 111.9 L311.8 111.7 L312.9 111.6 L314.1 111.4 L315.2 111.3 L316.3 111.2 L317.5 111.2 L318.6 111.2 L319.7 111.2 L320.8 111.3 L322.0 111.4 L323.1 111.5 L324.2 111.7 L325.4 111.9 L326.6 112.1 L327.8 112.4 L329.0 112.7 L330.1 113.0 L331.1 113.3 L332.0 113.6 L332.8 113.8 L333.5 114.1 L334.3 114.4 L335.2 114.8 L336.2 115.2 L337.3 115.6 L338.5 116.1 L339.7 116.6 L341.0 117.1 L342.3 117.6 L343.6 118.1 L344.8 118.6 L346.1 119.0 L347.3 119.4 L348.5 119.8 L349.7 120.2 L350.9 120.6 L352.1 121.1 L353.3 121.5 L354.5 121.9 L355.8 122.4 L357.0 122.8 L358.3 123.2 L359.5 123.7 L360.8 124.0 L362.0 124.4 L363.2 124.8 L364.4 125.1 L365.6 125.5 L366.8 125.8 L368.0 126.2 L369.3 126.6 L370.5 127.0 L371.8 127.4 L373.1 127.7 L374.3 128.0 L375.6 128.3 L376.9 128.6 L378.1 128.8 L379.3 129.0 L380.6 129.3 L381.8 129.5 L383.1 129.7 L384.3 129.9 L385.5 130.0 L386.8 130.2 L388.0 130.4 L389.3 130.5 L390.5 130.7 L391.7 130.8 L393.0 130.9 L394.2 131.1 L395.4 131.2 L396.6 131.3 L397.9 131.4 L399.1 131.5 L400.3 131.6 L401.5 131.8 L402.7 131.9 L403.9 132.0 L405.1 132.2 L406.3 132.3 L407.4 132.5 L408.6 132.7 L409.8 132.9 L411.0 133.1 L412.3 133.3 L413.5 133.5 L414.6 133.7 L415.7 134.0 L416.7 134.2 L417.6 134.6 L418.5 135.0 L419.3 135.4 L420.1 135.8 L420.9 136.3 L421.7 136.8 L422.4 137.3 L423.1 137.8 L423.7 138.4 L424.4 139.0 L425.1 139.7 L425.8 140.5 L426.5 141.4 L427.3 142.3 L428.1 143.3 L428.9 144.3 L429.7 145.3 L430.4 146.3 L430.9 147.0 L431.4 147.9 L431.9 148.8 L432.5 149.9 L433.3 151.0 L434.3 152.0 L435.2 152.8 L436.2 153.5 L437.3 154.1 L438.5 154.7 L439.7 155.1 L441.0 155.4 L442.4 155.5 L443.7 155.5 L445.0 155.4 L446.3 155.2 L447.5 155.0 L448.8 154.9 L450.5 154.7 L452.3 154.4 L454.1 154.1 L455.8 153.9 L457.5 153.7 L458.9 153.7 L460.2 153.8 L461.4 153.9 L462.6 154.2 L463.9 154.5 L465.4 154.9 L467.1 155.3 L468.9 155.8 L470.8 156.3 L472.8 156.8 L474.8 157.4 L476.9 158.1 L479.0 158.7 L481.3 159.5 L483.8 160.5 L486.3 161.5 L488.8 162.4 L491.0 163.3 L493.0 164.0 L494.6 164.5 L495.8 164.9 L496.8 165.1 L497.5 165.3 L498.2 165.4 L499.0 165.7 L500.1 166.1 L501.2 166.6 L502.4 167.1 L503.6 167.6 L504.7 168.1 L505.8 168.7 L507.0 169.4 L508.2 170.2 L509.4 171.0 L510.6 171.9 L511.7 172.7 L512.7 173.5 L513.5 174.2 L514.2 174.8 L514.8 175.5 L515.5 176.1 L516.1 176.8 L516.8 177.5 L517.4 178.3 L518.1 179.1 L518.9 180.0 L519.6 181.0 L520.4 181.9 L521.2 182.8 L522.0 183.5 L522.7 184.2 L523.5 185.0 L524.3 185.7 L525.2 186.3 L526.3 186.9 L527.3 187.4 L528.3 187.9 L529.4 188.3 L530.6 188.7 L531.8 188.9 L533.2 189.2 L534.6 189.3 L536.2 189.4 L537.7 189.5 L539.3 189.5 L540.8 189.5 L542.3 189.5 L543.8 189.5 L545.3 189.5 L546.8 189.5 L548.3 189.5 L549.7 189.5 L551.0 189.5 L552.3 189.6 L553.5 189.6 L554.6 189.7 L555.7 189.8 L556.7 189.9 L557.8 190.1 L558.8 190.4 L559.9 190.7 L561.0 191.1 L562.2 191.6 L563.4 192.0 L564.6 192.5 L565.8 193.0 L567.0 193.4 L568.2 193.9 L569.4 194.5 L570.6 195.0 L571.7 195.5 L572.9 196.1 L574.1 196.6 L575.3 197.2 L576.5 197.8 L577.7 198.4 L578.9 199.1 L580.1 199.7 L581.3 200.4 L582.5 201.0 L583.8 201.7 L585.0 202.4 L586.2 203.1 L587.4 203.7 L588.7 204.3 L589.9 204.9 L591.1 205.5 L592.0 206.0 L592.7 206.3 L595.1 201.4 L594.4 201.0 L593.5 200.6 L592.4 200.0 L591.2 199.4 L589.9 198.8 L588.8 198.2 L587.6 197.6 L586.5 196.9 L585.2 196.2 L584.0 195.5 L582.7 194.8 L581.5 194.1 L580.3 193.5 L579.0 192.9 L577.8 192.2 L576.6 191.6 L575.3 191.0 L574.1 190.4 L572.9 189.8 L571.6 189.3 L570.4 188.7 L569.2 188.2 L567.9 187.7 L566.7 187.2 L565.5 186.7 L564.2 186.2 L563.0 185.7 L561.7 185.3 L560.4 184.9 L559.0 184.5 L557.6 184.3 L556.3 184.1 L555.1 183.9 L553.8 183.8 L552.5 183.8 L551.2 183.7 L549.8 183.7 L548.3 183.7 L546.7 183.7 L545.2 183.7 L543.8 183.7 L542.3 183.7 L540.8 183.7 L539.3 183.6 L537.8 183.6 L536.4 183.5 L535.1 183.4 L534.0 183.3 L533.0 183.0 L532.1 182.8 L531.3 182.5 L530.6 182.2 L529.9 181.9 L529.2 181.5 L528.6 181.2 L528.1 180.8 L527.6 180.3 L527.0 179.8 L526.4 179.1 L525.7 178.4 L525.1 177.7 L524.5 176.9 L523.8 176.1 L523.1 175.1 L522.3 174.2 L521.5 173.2 L520.8 172.4 L520.1 171.7 L519.4 170.9 L518.6 170.2 L517.8 169.3 L516.8 168.5 L515.7 167.6 L514.5 166.7 L513.2 165.7 L511.8 164.8 L510.4 163.9 L509.0 163.1 L507.7 162.3 L506.3 161.7 L504.9 161.1 L503.6 160.5 L502.4 160.1 L501.2 159.6 L500.0 159.2 L499.0 159.0 L498.2 158.8 L497.4 158.6 L496.5 158.3 L495.2 157.9 L493.4 157.2 L491.1 156.4 L488.7 155.4 L486.1 154.4 L483.5 153.4 L481.1 152.6 L478.9 151.9 L476.7 151.2 L474.5 150.6 L472.5 150.0 L470.5 149.5 L468.7 149.0 L467.0 148.6 L465.5 148.2 L464.1 147.8 L462.5 147.5 L460.9 147.3 L459.1 147.2 L457.1 147.2 L455.1 147.4 L453.1 147.7 L451.3 147.9 L449.6 148.1 L448.1 148.3 L446.6 148.4 L445.3 148.6 L444.2 148.7 L443.4 148.8 L442.7 148.8 L442.1 148.7 L441.5 148.5 L441.0 148.3 L440.4 148.1 L439.9 147.7 L439.4 147.4 L438.9 147.0 L438.7 146.7 L438.3 146.2 L437.9 145.4 L437.4 144.5 L436.8 143.4 L436.0 142.2 L435.2 141.2 L434.4 140.1 L433.6 139.0 L432.7 137.9 L431.8 136.8 L430.9 135.8 L430.1 134.9 L429.3 134.1 L428.5 133.3 L427.6 132.5 L426.7 131.7 L425.7 131.0 L424.6 130.3 L423.6 129.7 L422.5 129.1 L421.3 128.6 L420.1 128.1 L418.9 127.6 L417.5 127.2 L416.1 126.9 L414.8 126.6 L413.5 126.4 L412.2 126.2 L411.0 126.0 L409.7 125.7 L408.4 125.6 L407.2 125.4 L405.9 125.2 L404.7 125.1 L403.5 124.9 L402.2 124.8 L400.9 124.7 L399.7 124.6 L398.5 124.4 L397.3 124.3 L396.1 124.2 L394.9 124.1 L393.7 124.0 L392.5 123.8 L391.3 123.7 L390.1 123.6 L388.9 123.4 L387.7 123.3 L386.5 123.1 L385.3 122.9 L384.2 122.7 L383.0 122.5 L381.8 122.3 L380.6 122.1 L379.4 121.9 L378.2 121.6 L377.1 121.4 L375.9 121.1 L374.8 120.8 L373.7 120.5 L372.6 120.2 L371.4 119.8 L370.2 119.4 L369.0 119.0 L367.7 118.6 L366.5 118.2 L365.2 117.9 L364.0 117.5 L362.9 117.1 L361.7 116.7 L360.5 116.4 L359.4 115.9 L358.2 115.5 L357.0 115.1 L355.8 114.6 L354.6 114.2 L353.3 113.7 L352.1 113.3 L350.9 112.8 L349.6 112.4 L348.5 112.0 L347.3 111.6 L346.1 111.1 L345.0 110.7 L343.7 110.2 L342.5 109.7 L341.3 109.2 L340.1 108.7 L338.9 108.2 L338.0 107.9 L337.2 107.5 L336.3 107.2 L335.4 106.8 L334.4 106.4 L333.3 106.1 L332.1 105.7 L330.8 105.4 L329.5 105.1 L328.2 104.7 L326.8 104.4 L325.4 104.2 L324.1 103.9 L322.7 103.8 L321.4 103.6 L320.0 103.5 L318.7 103.4 L317.3 103.4 L315.9 103.4 L314.6 103.4 L313.2 103.5 L311.8 103.7 L310.5 103.8 L309.1 104.1 L307.5 104.5 L306.1 104.9 L304.8 105.3 L303.5 105.7 L302.5 106.1 L301.6 106.3 L300.5 106.5 L299.6 106.8 L298.8 106.9 L298.1 107.0 L297.5 107.1 L296.9 107.1 L296.1 107.0 L295.4 107.0 L294.8 106.9 L294.3 106.8 L293.7 106.6 L293.1 106.4 L292.4 106.0 L291.4 105.5 L290.4 104.8 L289.2 104.0 L288.0 103.2 L286.8 102.3 L285.7 101.6 L284.6 100.7 L283.4 99.8 L282.1 98.8 L280.7 97.9 L279.1 96.9 L277.7 96.2 L276.3 95.5 L274.8 94.9 L273.4 94.4 L272.1 93.9 L270.7 93.5 L269.2 93.1 L267.8 92.8 L266.4 92.6 L265.0 92.3 L263.7 92.2 L262.3 92.0 L261.0 91.9 L259.6 91.8 L258.2 91.8 L256.9 91.8 L255.6 91.8 L254.2 91.9 L252.9 91.9 L251.6 92.0 L250.3 92.2 L249.1 92.3 L247.8 92.5 L246.4 92.6 L244.9 92.8 L243.2 93.1 L241.5 93.3 L239.7 93.6 L238.0 93.9 L236.4 94.2 L234.8 94.6 L233.4 95.0 L232.2 95.3 L231.1 95.7 L230.2 95.9 L229.3 96.1 L228.1 96.4 L226.9 96.6 L225.9 96.8 L225.0 96.9 L224.3 97.0 L223.6 97.0 L222.8 97.0 L222.0 96.8 L221.0 96.6 L220.0 96.3 L218.9 95.9 L217.8 95.5 L216.9 95.1 L215.8 94.6 L214.7 94.0 L213.5 93.3 L212.2 92.6 L210.8 91.9 L209.6 91.3 L208.4 90.6 L207.1 90.0 L205.7 89.3 L204.3 88.7 L202.7 88.1 L201.2 87.6 L199.8 87.2 L198.3 87.0 L196.9 86.7 L195.6 86.6 L194.3 86.4 L192.8 86.3 L191.4 86.3 L190.1 86.3 L188.8 86.3 L187.5 86.4 L186.3 86.4 L185.0 86.5 L183.7 86.5 L182.5 86.6 L181.2 86.7 L179.8 86.9 L178.5 87.0 L177.3 87.2 L176.0 87.4 L174.6 87.7 L173.3 87.9 L171.9 88.2 L170.5 88.6 L169.2 89.0 L167.8 89.4 L166.5 89.9 L165.2 90.4 L163.9 91.0 L162.6 91.5 L161.2 92.2 L159.8 92.8 L158.5 93.5 L157.3 94.1 L156.2 94.6 L155.3 95.0 L154.4 95.4 L153.6 95.7 L153.0 95.9 L152.5 96.0 L152.1 96.1 L151.7 96.1 L151.2 96.1 L150.9 96.1 L150.7 96.1 L150.3 96.0 L149.6 95.9 L148.7 95.7 L147.5 95.4 L146.2 95.1 L144.8 94.7 L143.3 94.2 L141.7 93.7 L140.1 93.1 L138.5 92.5 L136.7 91.8 L134.8 91.0 L132.8 90.2 L130.7 89.4 L128.7 88.6 L126.8 87.9 L124.8 87.2 L122.8 86.5 L120.7 85.9 L118.5 85.2 L116.3 84.7 L114.1 84.3 L111.9 84.0 L109.8 83.7 L107.7 83.5 L105.7 83.4 L103.6 83.3 L101.4 83.2 L99.3 83.1 L97.1 83.2 L95.0 83.2 L92.9 83.3 L91.0 83.4 L89.1 83.6 L87.2 83.9 L85.5 84.2 L84.1 84.5 L83.0 84.7 L82.2 84.8 Z" fill="#ecc67e"/>
<path d="M84.0 94.7 L84.9 94.5 L86.1 94.2 L87.4 94.0 L88.9 93.7 L90.4 93.5 L92.0 93.3 L93.7 93.1 L95.5 93.0 L97.5 92.9 L99.4 92.9 L101.4 92.9 L103.3 92.9 L105.2 93.0 L107.1 93.1 L108.9 93.2 L110.8 93.4 L112.6 93.7 L114.4 94.0 L116.2 94.5 L118.1 95.0 L119.9 95.5 L121.9 96.2 L123.8 96.8 L125.8 97.4 L127.7 98.1 L129.7 98.8 L131.7 99.5 L133.7 100.3 L135.6 101.0 L137.5 101.6 L139.3 102.1 L141.1 102.6 L142.8 103.0 L144.4 103.4 L145.8 103.7 L147.1 103.9 L148.2 104.1 L149.2 104.3 L150.1 104.4 L151.0 104.4 L151.9 104.4 L152.8 104.3 L153.8 104.1 L154.7 103.9 L155.7 103.6 L156.6 103.2 L157.5 102.9 L158.5 102.5 L159.7 101.9 L160.9 101.3 L162.2 100.6 L163.4 100.0 L164.7 99.4 L165.8 98.8 L167.0 98.4 L168.1 97.9 L169.3 97.4 L170.5 97.0 L171.6 96.6 L172.7 96.3 L173.8 96.0 L175.0 95.7 L176.1 95.5 L177.2 95.3 L178.4 95.1 L179.6 95.0 L180.8 94.8 L181.9 94.7 L183.1 94.6 L184.3 94.5 L185.4 94.5 L186.6 94.4 L187.8 94.3 L189.0 94.3 L190.2 94.3 L191.3 94.3 L192.4 94.3 L193.5 94.4 L194.7 94.5 L195.8 94.7 L196.9 94.8 L198.0 95.0 L199.1 95.3 L200.1 95.6 L201.1 96.0 L202.2 96.5 L203.4 97.1 L204.5 97.7 L205.8 98.4 L207.0 99.0 L208.1 99.7 L209.3 100.4 L210.5 101.1 L211.8 101.8 L213.1 102.5 L214.5 103.2 L215.8 103.7 L217.1 104.2 L218.4 104.7 L219.8 105.1 L221.2 105.4 L222.7 105.6 L224.2 105.7 L225.6 105.6 L227.0 105.5 L228.3 105.3 L229.6 105.1 L230.8 104.9 L232.2 104.6 L233.4 104.3 L234.6 103.9 L235.8 103.6 L237.0 103.3 L238.2 103.0 L239.6 102.8 L241.2 102.5 L242.9 102.2 L244.6 101.9 L246.2 101.7 L247.7 101.5 L249.1 101.3 L250.3 101.1 L251.5 100.9 L252.6 100.8 L253.7 100.7 L254.8 100.6 L256.0 100.5 L257.1 100.5 L258.3 100.5 L259.4 100.5 L260.5 100.5 L261.7 100.6 L262.8 100.7 L264.0 100.8 L265.1 101.0 L266.2 101.2 L267.3 101.4 L268.4 101.7 L269.5 102.0 L270.6 102.4 L271.8 102.8 L272.9 103.3 L274.0 103.8 L275.0 104.3 L276.1 105.0 L277.2 105.7 L278.4 106.6 L279.6 107.5 L280.8 108.4 L282.1 109.3 L283.4 110.1 L284.6 111.0 L285.9 111.8 L287.3 112.6 L288.6 113.3 L289.9 114.0 L291.2 114.4 L292.5 114.8 L293.6 115.0 L294.8 115.1 L295.9 115.2 L296.9 115.2 L298.1 115.2 L299.2 115.0 L300.3 114.8 L301.4 114.6 L302.4 114.4 L303.5 114.1 L304.8 113.8 L306.1 113.4 L307.3 112.9 L308.5 112.5 L309.7 112.2 L310.7 111.9 L311.8 111.7 L312.9 111.6 L314.1 111.4 L315.2 111.3 L316.3 111.2 L317.5 111.2 L318.6 111.2 L319.7 111.2 L320.8 111.3 L322.0 111.4 L323.1 111.5 L324.2 111.7 L325.4 111.9 L326.6 112.1 L327.8 112.4 L329.0 112.7 L330.1 113.0 L331.1 113.3 L332.0 113.6 L332.8 113.8 L333.5 114.1 L334.3 114.4 L335.2 114.8 L336.2 115.2 L337.3 115.6 L338.5 116.1 L339.7 116.6 L341.0 117.1 L342.3 117.6 L343.6 118.1 L344.8 118.6 L346.1 119.0 L347.3 119.4 L348.5 119.8 L349.7 120.2 L350.9 120.6 L352.1 121.1 L353.3 121.5 L354.5 121.9 L355.8 122.4 L357.0 122.8 L358.3 123.2 L359.5 123.7 L360.8 124.0 L362.0 124.4 L363.2 124.8 L364.4 125.1 L365.6 125.5 L366.8 125.8 L368.0 126.2 L369.3 126.6 L370.5 127.0 L371.8 127.4 L373.1 127.7 L374.3 128.0 L375.6 128.3 L376.9 128.6 L378.1 128.8 L379.3 129.0 L380.6 129.3 L381.8 129.5 L383.1 129.7 L384.3 129.9 L385.5 130.0 L386.8 130.2 L388.0 130.4 L389.3 130.5 L390.5 130.7 L391.7 130.8 L393.0 130.9 L394.2 131.1 L395.4 131.2 L396.6 131.3 L397.9 131.4 L399.1 131.5 L400.3 131.6 L401.5 131.8 L402.7 131.9 L403.9 132.0 L405.1 132.2 L406.3 132.3 L407.4 132.5 L408.6 132.7 L409.8 132.9 L411.0 133.1 L412.3 133.3 L413.5 133.5 L414.6 133.7 L415.7 134.0 L416.7 134.2 L417.6 134.6 L418.5 135.0 L419.3 135.4 L420.1 135.8 L420.9 136.3 L421.7 136.8 L422.4 137.3 L423.1 137.8 L423.7 138.4 L424.4 139.0 L425.1 139.7 L425.8 140.5 L426.5 141.4 L427.3 142.3 L428.1 143.3 L428.9 144.3 L429.7 145.3 L430.4 146.3 L430.9 147.0 L431.4 147.9 L431.9 148.8 L432.5 149.9 L433.3 151.0 L434.3 152.0 L435.2 152.8 L436.2 153.5 L437.3 154.1 L438.5 154.7 L439.7 155.1 L441.0 155.4 L442.4 155.5 L443.7 155.5 L445.0 155.4 L446.3 155.2 L447.5 155.0 L448.8 154.9 L450.5 154.7 L452.3 154.4 L454.1 154.1 L455.8 153.9 L457.5 153.7 L458.9 153.7 L460.2 153.8 L461.4 153.9 L462.6 154.2 L463.9 154.5 L465.4 154.9 L467.1 155.3 L468.9 155.8 L470.8 156.3 L472.8 156.8 L474.8 157.4 L476.9 158.1 L479.0 158.7 L481.3 159.5 L483.8 160.5 L486.3 161.5 L488.8 162.4 L491.0 163.3 L493.0 164.0 L494.6 164.5 L495.8 164.9 L496.8 165.1 L497.5 165.3 L498.2 165.4 L499.0 165.7 L500.1 166.1 L501.2 166.6 L502.4 167.1 L503.6 167.6 L504.7 168.1 L505.8 168.7 L507.0 169.4 L508.2 170.2 L509.4 171.0 L510.6 171.9 L511.7 172.7 L512.7 173.5 L513.5 174.2 L514.2 174.8 L514.8 175.5 L515.5 176.1 L516.1 176.8 L516.8 177.5 L517.4 178.3 L518.1 179.1 L518.9 180.0 L519.6 181.0 L520.4 181.9 L521.2 182.8 L522.0 183.5 L522.7 184.2 L523.5 185.0 L524.3 185.7 L525.2 186.3 L526.3 186.9 L527.3 187.4 L528.3 187.9 L529.4 188.3 L530.6 188.7 L531.8 188.9 L533.2 189.2 L534.6 189.3 L536.2 189.4 L537.7 189.5 L539.3 189.5 L540.8 189.5 L542.3 189.5 L543.8 189.5 L545.3 189.5 L546.8 189.5 L548.3 189.5 L549.7 189.5 L551.0 189.5 L552.3 189.6 L553.5 189.6 L554.6 189.7 L555.7 189.8 L556.7 189.9 L557.8 190.1 L558.8 190.4 L559.9 190.7 L561.0 191.1 L562.2 191.6 L563.4 192.0 L564.6 192.5 L565.8 193.0 L567.0 193.4 L568.2 193.9 L569.4 194.5 L570.6 195.0 L571.7 195.5 L572.9 196.1 L574.1 196.6 L575.3 197.2 L576.5 197.8 L577.7 198.4 L578.9 199.1 L580.1 199.7 L581.3 200.4 L582.5 201.0 L583.8 201.7 L585.0 202.4 L586.2 203.1 L587.4 203.7 L588.7 204.3 L589.9 204.9 L591.1 205.5 L592.0 206.0 L592.7 206.3 L594.4 202.7 L593.8 202.4 L592.8 201.9 L591.7 201.4 L590.5 200.8 L589.2 200.1 L588.1 199.5 L586.9 198.9 L585.7 198.2 L584.5 197.6 L583.3 196.9 L582.0 196.2 L580.8 195.5 L579.5 194.9 L578.3 194.3 L577.1 193.6 L575.9 193.0 L574.6 192.5 L573.4 191.9 L572.2 191.3 L571.0 190.8 L569.7 190.3 L568.5 189.7 L567.3 189.2 L566.1 188.7 L564.9 188.2 L563.7 187.7 L562.4 187.2 L561.2 186.8 L559.9 186.3 L558.7 186.0 L557.4 185.7 L556.2 185.5 L555.0 185.3 L553.7 185.2 L552.5 185.1 L551.2 185.0 L549.7 184.9 L548.3 184.9 L546.8 184.9 L545.3 184.9 L543.8 184.9 L542.3 184.9 L540.8 184.9 L539.3 184.8 L537.8 184.8 L536.4 184.7 L535.0 184.6 L533.9 184.5 L532.8 184.3 L531.8 184.0 L530.9 183.7 L530.1 183.4 L529.4 183.0 L528.6 182.6 L527.9 182.2 L527.3 181.8 L526.7 181.2 L526.1 180.7 L525.5 180.0 L524.8 179.3 L524.2 178.6 L523.5 177.8 L522.8 176.9 L522.1 175.9 L521.3 175.0 L520.6 174.1 L519.9 173.3 L519.2 172.6 L518.5 171.8 L517.8 171.1 L516.9 170.3 L516.0 169.5 L514.9 168.6 L513.7 167.7 L512.4 166.8 L511.1 165.9 L509.7 165.0 L508.4 164.2 L507.1 163.5 L505.7 162.8 L504.4 162.3 L503.1 161.7 L501.9 161.3 L500.7 160.8 L499.6 160.5 L498.7 160.2 L497.9 160.0 L497.1 159.8 L496.1 159.6 L494.7 159.1 L492.9 158.4 L490.7 157.6 L488.2 156.6 L485.6 155.6 L483.1 154.7 L480.7 153.8 L478.5 153.1 L476.3 152.4 L474.2 151.8 L472.1 151.2 L470.2 150.7 L468.3 150.3 L466.7 149.9 L465.2 149.5 L463.8 149.1 L462.3 148.8 L460.7 148.6 L459.0 148.5 L457.2 148.5 L455.2 148.7 L453.3 148.9 L451.5 149.2 L449.7 149.4 L448.2 149.6 L446.8 149.7 L445.5 149.8 L444.4 150.0 L443.4 150.0 L442.6 150.0 L441.9 149.9 L441.2 149.7 L440.5 149.5 L439.9 149.1 L439.2 148.8 L438.7 148.3 L438.1 147.9 L437.7 147.4 L437.3 146.8 L436.9 146.0 L436.4 145.1 L435.7 144.0 L435.0 142.9 L434.3 141.9 L433.5 140.8 L432.6 139.7 L431.8 138.6 L430.9 137.6 L430.1 136.6 L429.3 135.8 L428.5 134.9 L427.7 134.2 L426.8 133.4 L425.9 132.7 L425.0 132.0 L424.0 131.3 L423.0 130.7 L421.9 130.2 L420.8 129.7 L419.7 129.2 L418.5 128.7 L417.2 128.4 L415.9 128.0 L414.6 127.8 L413.3 127.5 L412.0 127.3 L410.8 127.1 L409.5 126.9 L408.3 126.7 L407.0 126.6 L405.8 126.4 L404.6 126.3 L403.3 126.1 L402.1 126.0 L400.8 125.9 L399.6 125.7 L398.4 125.6 L397.2 125.5 L396.0 125.4 L394.8 125.3 L393.6 125.2 L392.3 125.0 L391.1 124.9 L390.0 124.8 L388.8 124.6 L387.6 124.5 L386.4 124.3 L385.2 124.1 L384.0 123.9 L382.8 123.7 L381.6 123.5 L380.4 123.3 L379.2 123.1 L378.0 122.9 L376.8 122.6 L375.7 122.3 L374.5 122.1 L373.4 121.7 L372.2 121.4 L371.0 121.0 L369.8 120.6 L368.6 120.2 L367.3 119.9 L366.1 119.5 L364.9 119.1 L363.7 118.8 L362.5 118.4 L361.3 118.0 L360.1 117.6 L358.9 117.2 L357.8 116.8 L356.6 116.4 L355.3 115.9 L354.1 115.5 L352.9 115.0 L351.6 114.6 L350.4 114.2 L349.2 113.8 L348.0 113.4 L346.8 112.9 L345.6 112.5 L344.4 112.1 L343.2 111.6 L341.9 111.1 L340.7 110.5 L339.5 110.1 L338.4 109.6 L337.5 109.2 L336.6 108.9 L335.8 108.5 L334.9 108.2 L333.9 107.9 L332.9 107.5 L331.7 107.2 L330.5 106.9 L329.2 106.5 L327.8 106.2 L326.5 105.9 L325.2 105.7 L323.9 105.5 L322.6 105.3 L321.3 105.2 L320.0 105.1 L318.7 105.1 L317.3 105.1 L316.0 105.1 L314.7 105.2 L313.4 105.3 L312.1 105.4 L310.8 105.6 L309.4 105.9 L308.0 106.2 L306.6 106.6 L305.3 107.0 L304.1 107.5 L303.0 107.8 L302.0 108.1 L301.0 108.3 L300.0 108.5 L299.1 108.7 L298.4 108.8 L297.6 108.9 L296.9 108.9 L296.0 108.9 L295.3 108.9 L294.6 108.8 L293.9 108.6 L293.2 108.4 L292.4 108.1 L291.5 107.7 L290.5 107.1 L289.3 106.4 L288.2 105.6 L286.9 104.8 L285.7 104.0 L284.6 103.2 L283.4 102.3 L282.2 101.4 L280.9 100.4 L279.6 99.5 L278.2 98.7 L276.8 97.9 L275.5 97.3 L274.1 96.7 L272.8 96.3 L271.5 95.8 L270.1 95.4 L268.8 95.1 L267.4 94.8 L266.1 94.6 L264.8 94.4 L263.5 94.2 L262.2 94.1 L260.9 94.0 L259.5 94.0 L258.2 93.9 L256.9 94.0 L255.7 94.0 L254.4 94.1 L253.1 94.1 L251.9 94.3 L250.6 94.4 L249.4 94.6 L248.1 94.8 L246.8 95.0 L245.3 95.2 L243.6 95.4 L241.9 95.7 L240.1 96.0 L238.5 96.3 L236.9 96.6 L235.4 96.9 L234.1 97.3 L232.8 97.6 L231.7 97.9 L230.7 98.2 L229.7 98.4 L228.5 98.6 L227.3 98.9 L226.2 99.0 L225.2 99.2 L224.2 99.2 L223.3 99.2 L222.4 99.1 L221.4 98.8 L220.4 98.6 L219.3 98.2 L218.2 97.8 L217.0 97.3 L216.0 96.9 L214.9 96.3 L213.7 95.6 L212.5 94.9 L211.2 94.2 L209.9 93.5 L208.7 92.9 L207.5 92.3 L206.2 91.6 L204.9 90.9 L203.6 90.3 L202.1 89.8 L200.7 89.3 L199.4 89.0 L198.0 88.7 L196.7 88.5 L195.4 88.3 L194.1 88.2 L192.7 88.1 L191.4 88.1 L190.1 88.1 L188.8 88.1 L187.6 88.2 L186.4 88.2 L185.1 88.3 L183.9 88.3 L182.6 88.4 L181.3 88.5 L180.0 88.7 L178.8 88.8 L177.5 89.0 L176.3 89.2 L175.0 89.4 L173.7 89.7 L172.4 90.0 L171.0 90.3 L169.7 90.7 L168.4 91.1 L167.1 91.6 L165.8 92.1 L164.6 92.6 L163.3 93.2 L162.0 93.8 L160.6 94.4 L159.3 95.1 L158.1 95.7 L157.0 96.3 L156.0 96.7 L155.1 97.1 L154.3 97.4 L153.6 97.6 L153.0 97.8 L152.5 97.9 L151.9 98.0 L151.4 98.1 L151.0 98.1 L150.6 98.0 L150.0 98.0 L149.3 97.8 L148.3 97.6 L147.1 97.4 L145.8 97.1 L144.3 96.7 L142.7 96.2 L141.1 95.7 L139.5 95.2 L137.8 94.6 L135.9 93.9 L134.0 93.2 L132.0 92.4 L129.9 91.6 L127.9 90.9 L126.0 90.2 L124.0 89.6 L122.0 88.9 L120.0 88.2 L117.9 87.7 L115.8 87.2 L113.7 86.8 L111.6 86.5 L109.6 86.3 L107.6 86.1 L105.5 85.9 L103.5 85.8 L101.4 85.8 L99.3 85.8 L97.2 85.8 L95.1 85.9 L93.1 86.0 L91.3 86.2 L89.5 86.4 L87.7 86.6 L86.1 86.9 L84.7 87.2 L83.5 87.4 L82.7 87.6 Z" fill="#fd9c5a"/>
<path d="M84.0 94.7 L84.9 94.5 L86.1 94.2 L87.4 94.0 L88.9 93.7 L90.4 93.5 L92.0 93.3 L93.7 93.1 L95.5 93.0 L97.5 92.9 L99.4 92.9 L101.4 92.9 L103.3 92.9 L105.2 93.0 L107.1 93.1 L108.9 93.2 L110.8 93.4 L112.6 93.7 L114.4 94.0 L116.2 94.5 L118.1 95.0 L119.9 95.5 L121.9 96.2 L123.8 96.8 L125.8 97.4 L127.7 98.1 L129.7 98.8 L131.7 99.5 L133.7 100.3 L135.6 101.0 L137.5 101.6 L139.3 102.1 L141.1 102.6 L142.8 103.0 L144.4 103.4 L145.8 103.7 L147.1 103.9 L148.2 104.1 L149.2 104.3 L150.1 104.4 L151.0 104.4 L151.9 104.4 L152.8 104.3 L153.8 104.1 L154.7 103.9 L155.7 103.6 L156.6 103.2 L157.5 102.9 L158.5 102.5 L159.7 101.9 L160.9 101.3 L162.2 100.6 L163.4 100.0 L164.7 99.4 L165.8 98.8 L167.0 98.4 L168.1 97.9 L169.3 97.4 L170.5 97.0 L171.6 96.6 L172.7 96.3 L173.8 96.0 L175.0 95.7 L176.1 95.5 L177.2 95.3 L178.4 95.1 L179.6 95.0 L180.8 94.8 L181.9 94.7 L183.1 94.6 L184.3 94.5 L185.4 94.5 L186.6 94.4 L187.8 94.3 L189.0 94.3 L190.2 94.3 L191.3 94.3 L192.4 94.3 L193.5 94.4 L194.7 94.5 L195.8 94.7 L196.9 94.8 L198.0 95.0 L199.1 95.3 L200.1 95.6 L201.1 96.0 L202.2 96.5 L203.4 97.1 L204.5 97.7 L205.8 98.4 L207.0 99.0 L208.1 99.7 L209.3 100.4 L210.5 101.1 L211.8 101.8 L213.1 102.5 L214.5 103.2 L215.8 103.7 L217.1 104.2 L218.4 104.7 L219.8 105.1 L221.2 105.4 L222.7 105.6 L224.2 105.7 L225.6 105.6 L227.0 105.5 L228.3 105.3 L229.6 105.1 L230.8 104.9 L232.2 104.6 L233.4 104.3 L234.6 103.9 L235.8 103.6 L237.0 103.3 L238.2 103.0 L239.6 102.8 L241.2 102.5 L242.9 102.2 L244.6 101.9 L246.2 101.7 L247.7 101.5 L249.1 101.3 L250.3 101.1 L251.5 100.9 L252.6 100.8 L253.7 100.7 L254.8 100.6 L256.0 100.5 L257.1 100.5 L258.3 100.5 L259.4 100.5 L260.5 100.5 L261.7 100.6 L262.8 100.7 L264.0 100.8 L265.1 101.0 L266.2 101.2 L267.3 101.4 L268.4 101.7 L269.5 102.0 L270.6 102.4 L271.8 102.8 L272.9 103.3 L274.0 103.8 L275.0 104.3 L276.1 105.0 L277.2 105.7 L278.4 106.6 L279.6 107.5 L280.8 108.4 L282.1 109.3 L283.4 110.1 L284.6 111.0 L285.9 111.8 L287.3 112.6 L288.6 113.3 L289.9 114.0 L291.2 114.4 L292.5 114.8 L293.6 115.0 L294.8 115.1 L295.9 115.2 L296.9 115.2 L298.1 115.2 L299.2 115.0 L300.3 114.8 L301.4 114.6 L302.4 114.4 L303.5 114.1 L304.8 113.8 L306.1 113.4 L307.3 112.9 L308.5 112.5 L309.7 112.2 L310.7 111.9 L311.8 111.7 L312.9 111.6 L314.1 111.4 L315.2 111.3 L316.3 111.2 L317.5 111.2 L318.6 111.2 L319.7 111.2 L320.8 111.3 L322.0 111.4 L323.1 111.5 L324.2 111.7 L325.4 111.9 L326.6 112.1 L327.8 112.4 L329.0 112.7 L330.1 113.0 L331.1 113.3 L332.0 113.6 L332.8 113.8 L333.5 114.1 L334.3 114.4 L335.2 114.8 L336.2 115.2 L337.3 115.6 L338.5 116.1 L339.7 116.6 L341.0 117.1 L342.3 117.6 L343.6 118.1 L344.8 118.6 L346.1 119.0 L347.3 119.4 L348.5 119.8 L349.7 120.2 L350.9 120.6 L352.1 121.1 L353.3 121.5 L354.5 121.9 L355.8 122.4 L357.0 122.8 L358.3 123.2 L359.5 123.7 L360.8 124.0 L362.0 124.4 L363.2 124.8 L364.4 125.1 L365.6 125.5 L366.8 125.8 L368.0 126.2 L369.3 126.6 L370.5 127.0 L371.8 127.4 L373.1 127.7 L374.3 128.0 L375.6 128.3 L376.9 128.6 L378.1 128.8 L379.3 129.0 L380.6 129.3 L381.8 129.5 L383.1 129.7 L384.3 129.9 L385.5 130.0 L386.8 130.2 L388.0 130.4 L389.3 130.5 L390.5 130.7 L391.7 130.8 L393.0 130.9 L394.2 131.1 L395.4 131.2 L396.6 131.3 L397.9 131.4 L399.1 131.5 L400.3 131.6 L401.5 131.8 L402.7 131.9 L403.9 132.0 L405.1 132.2 L406.3 132.3 L407.4 132.5 L408.6 132.7 L409.8 132.9 L411.0 133.1 L412.3 133.3 L413.5 133.5 L414.6 133.7 L415.7 134.0 L416.7 134.2 L417.6 134.6 L418.5 135.0 L419.3 135.4 L420.1 135.8 L420.9 136.3 L421.7 136.8 L422.4 137.3 L423.1 137.8 L423.7 138.4 L424.4 139.0 L425.1 139.7 L425.8 140.5 L426.5 141.4 L427.3 142.3 L428.1 143.3 L428.9 144.3 L429.7 145.3 L430.4 146.3 L430.9 147.0 L431.4 147.9 L431.9 148.8 L432.5 149.9 L433.3 151.0 L434.3 152.0 L435.2 152.8 L436.2 153.5 L437.3 154.1 L438.5 154.7 L439.7 155.1 L441.0 155.4 L442.4 155.5 L443.7 155.5 L445.0 155.4 L446.3 155.2 L447.5 155.0 L448.8 154.9 L450.5 154.7 L452.3 154.4 L454.1 154.1 L455.8 153.9 L457.5 153.7 L458.9 153.7 L460.2 153.8 L461.4 153.9 L462.6 154.2 L463.9 154.5 L465.4 154.9 L467.1 155.3 L468.9 155.8 L470.8 156.3 L472.8 156.8 L474.8 157.4 L476.9 158.1 L479.0 158.7 L481.3 159.5 L483.8 160.5 L486.3 161.5 L488.8 162.4 L491.0 163.3 L493.0 164.0 L494.6 164.5 L495.8 164.9 L496.8 165.1 L497.5 165.3 L498.2 165.4 L499.0 165.7 L500.1 166.1 L501.2 166.6 L502.4 167.1 L503.6 167.6 L504.7 168.1 L505.8 168.7 L507.0 169.4 L508.2 170.2 L509.4 171.0 L510.6 171.9 L511.7 172.7 L512.7 173.5 L513.5 174.2 L514.2 174.8 L514.8 175.5 L515.5 176.1 L516.1 176.8 L516.8 177.5 L517.4 178.3 L518.1 179.1 L518.9 180.0 L519.6 181.0 L520.4 181.9 L521.2 182.8 L522.0 183.5 L522.7 184.2 L523.5 185.0 L524.3 185.7 L525.2 186.3 L526.3 186.9 L527.3 187.4 L528.3 187.9 L529.4 188.3 L530.6 188.7 L531.8 188.9 L533.2 189.2 L534.6 189.3 L536.2 189.4 L537.7 189.5 L539.3 189.5 L540.8 189.5 L542.3 189.5 L543.8 189.5 L545.3 189.5 L546.8 189.5 L548.3 189.5 L549.7 189.5 L551.0 189.5 L552.3 189.6 L553.5 189.6 L554.6 189.7 L555.7 189.8 L556.7 189.9 L557.8 190.1 L558.8 190.4 L559.9 190.7 L561.0 191.1 L562.2 191.6 L563.4 192.0 L564.6 192.5 L565.8 193.0 L567.0 193.4 L568.2 193.9 L569.4 194.5 L570.6 195.0 L571.7 195.5 L572.9 196.1 L574.1 196.6 L575.3 197.2 L576.5 197.8 L577.7 198.4 L578.9 199.1 L580.1 199.7 L581.3 200.4 L582.5 201.0 L583.8 201.7 L585.0 202.4 L586.2 203.1 L587.4 203.7 L588.7 204.3 L589.9 204.9 L591.1 205.5 L592.0 206.0 L592.7 206.3 L593.8 204.0 L593.1 203.7 L592.2 203.2 L591.0 202.7 L589.8 202.1 L588.6 201.5 L587.4 200.8 L586.2 200.2 L585.0 199.5 L583.8 198.9 L582.5 198.2 L581.3 197.5 L580.1 196.8 L578.9 196.2 L577.6 195.6 L576.4 195.0 L575.2 194.4 L574.0 193.8 L572.8 193.3 L571.6 192.7 L570.4 192.2 L569.2 191.6 L567.9 191.1 L566.7 190.6 L565.5 190.2 L564.3 189.7 L563.1 189.2 L561.9 188.7 L560.7 188.2 L559.5 187.8 L558.3 187.4 L557.2 187.1 L556.0 186.9 L554.8 186.7 L553.7 186.5 L552.4 186.4 L551.1 186.2 L549.7 186.1 L548.3 186.0 L546.8 186.0 L545.3 186.0 L543.8 186.0 L542.3 186.0 L540.8 186.0 L539.3 186.0 L537.8 185.9 L536.3 185.9 L534.9 185.8 L533.7 185.6 L532.6 185.4 L531.5 185.2 L530.6 184.9 L529.7 184.5 L528.8 184.2 L528.0 183.7 L527.3 183.3 L526.6 182.8 L525.9 182.2 L525.3 181.6 L524.6 180.9 L523.9 180.2 L523.2 179.4 L522.5 178.6 L521.8 177.7 L521.0 176.8 L520.3 175.9 L519.6 175.0 L518.9 174.2 L518.2 173.5 L517.5 172.8 L516.8 172.1 L516.0 171.4 L515.1 170.6 L514.0 169.7 L512.9 168.8 L511.6 167.9 L510.3 167.0 L509.0 166.2 L507.7 165.4 L506.4 164.7 L505.2 164.1 L503.9 163.6 L502.6 163.0 L501.4 162.6 L500.3 162.1 L499.2 161.8 L498.4 161.6 L497.6 161.4 L496.7 161.2 L495.7 160.9 L494.3 160.4 L492.4 159.8 L490.2 158.9 L487.7 157.9 L485.1 156.9 L482.6 156.0 L480.3 155.1 L478.1 154.4 L475.9 153.8 L473.8 153.2 L471.8 152.6 L469.8 152.1 L468.0 151.6 L466.4 151.2 L464.9 150.8 L463.5 150.5 L462.1 150.2 L460.6 150.0 L459.0 149.9 L457.3 149.9 L455.4 150.1 L453.5 150.4 L451.7 150.6 L450.0 150.9 L448.4 151.1 L447.0 151.2 L445.7 151.4 L444.6 151.5 L443.5 151.6 L442.6 151.6 L441.6 151.5 L440.8 151.3 L439.9 151.0 L439.1 150.6 L438.3 150.2 L437.6 149.7 L436.9 149.1 L436.4 148.5 L435.9 147.7 L435.4 146.9 L434.8 145.9 L434.3 144.9 L433.6 143.9 L432.9 142.9 L432.1 141.9 L431.2 140.8 L430.4 139.8 L429.6 138.8 L428.7 137.8 L428.0 137.0 L427.2 136.2 L426.4 135.5 L425.7 134.8 L424.8 134.1 L424.0 133.5 L423.0 132.9 L422.1 132.3 L421.1 131.8 L420.1 131.3 L419.0 130.9 L417.9 130.5 L416.7 130.1 L415.5 129.8 L414.2 129.5 L413.0 129.3 L411.7 129.1 L410.5 128.9 L409.2 128.7 L408.0 128.5 L406.8 128.4 L405.6 128.2 L404.3 128.1 L403.1 127.9 L401.9 127.8 L400.7 127.7 L399.4 127.5 L398.2 127.4 L397.0 127.3 L395.8 127.2 L394.6 127.1 L393.4 127.0 L392.2 126.8 L390.9 126.7 L389.7 126.6 L388.5 126.4 L387.3 126.2 L386.1 126.1 L384.9 125.9 L383.7 125.7 L382.5 125.5 L381.3 125.3 L380.1 125.1 L378.9 124.8 L377.7 124.6 L376.5 124.3 L375.3 124.1 L374.1 123.8 L372.9 123.5 L371.7 123.1 L370.5 122.7 L369.3 122.3 L368.0 121.9 L366.8 121.5 L365.6 121.2 L364.4 120.8 L363.2 120.4 L362.0 120.1 L360.8 119.7 L359.6 119.3 L358.4 118.9 L357.2 118.5 L356.0 118.0 L354.7 117.6 L353.5 117.1 L352.3 116.7 L351.1 116.2 L349.9 115.8 L348.6 115.4 L347.4 115.0 L346.2 114.6 L345.0 114.1 L343.8 113.7 L342.6 113.2 L341.3 112.6 L340.1 112.1 L338.9 111.6 L337.8 111.2 L336.8 110.8 L336.0 110.5 L335.1 110.1 L334.3 109.8 L333.4 109.5 L332.4 109.2 L331.2 108.8 L330.0 108.5 L328.8 108.2 L327.5 107.9 L326.2 107.7 L324.9 107.5 L323.6 107.3 L322.4 107.2 L321.1 107.1 L319.9 107.1 L318.6 107.1 L317.4 107.1 L316.1 107.2 L314.9 107.3 L313.6 107.4 L312.4 107.6 L311.1 107.8 L309.9 108.0 L308.6 108.3 L307.3 108.7 L306.0 109.1 L304.8 109.5 L303.6 109.9 L302.6 110.2 L301.5 110.5 L300.5 110.7 L299.6 110.9 L298.7 111.0 L297.8 111.1 L296.9 111.1 L296.0 111.1 L295.1 111.1 L294.2 111.0 L293.4 110.8 L292.5 110.6 L291.5 110.2 L290.5 109.7 L289.3 109.1 L288.1 108.3 L286.9 107.5 L285.7 106.7 L284.4 105.8 L283.3 105.0 L282.1 104.1 L280.8 103.2 L279.6 102.3 L278.4 101.4 L277.1 100.7 L275.8 100.0 L274.5 99.4 L273.3 98.9 L272.0 98.4 L270.8 98.0 L269.5 97.6 L268.3 97.3 L267.0 97.1 L265.7 96.8 L264.5 96.7 L263.2 96.5 L262.0 96.4 L260.7 96.3 L259.5 96.3 L258.2 96.3 L257.0 96.3 L255.8 96.3 L254.5 96.4 L253.3 96.5 L252.1 96.6 L250.9 96.8 L249.7 96.9 L248.5 97.1 L247.1 97.3 L245.6 97.5 L244.0 97.8 L242.3 98.1 L240.5 98.3 L238.9 98.6 L237.4 98.9 L236.0 99.2 L234.7 99.6 L233.5 99.9 L232.3 100.2 L231.2 100.5 L230.1 100.7 L228.9 100.9 L227.7 101.1 L226.5 101.3 L225.3 101.4 L224.2 101.4 L223.1 101.4 L222.0 101.2 L220.9 100.9 L219.7 100.6 L218.6 100.2 L217.4 99.7 L216.2 99.2 L215.1 98.7 L213.9 98.1 L212.7 97.4 L211.5 96.7 L210.3 95.9 L209.0 95.3 L207.8 94.6 L206.6 94.0 L205.4 93.3 L204.1 92.7 L202.8 92.1 L201.5 91.6 L200.2 91.2 L199.0 90.8 L197.7 90.6 L196.4 90.4 L195.2 90.2 L193.9 90.1 L192.6 90.0 L191.4 90.0 L190.1 90.0 L188.9 90.0 L187.7 90.0 L186.4 90.1 L185.2 90.1 L184.0 90.2 L182.7 90.3 L181.5 90.4 L180.3 90.5 L179.0 90.6 L177.8 90.8 L176.5 91.0 L175.3 91.2 L174.0 91.5 L172.8 91.7 L171.5 92.1 L170.3 92.4 L169.0 92.9 L167.8 93.3 L166.5 93.8 L165.3 94.3 L164.0 94.8 L162.7 95.4 L161.4 96.1 L160.2 96.7 L158.9 97.4 L157.8 97.9 L156.7 98.4 L155.8 98.8 L155.0 99.1 L154.2 99.4 L153.5 99.6 L152.9 99.8 L152.2 99.9 L151.5 100.0 L151.0 100.0 L150.4 100.0 L149.8 99.9 L149.0 99.8 L148.0 99.6 L146.7 99.4 L145.3 99.0 L143.8 98.7 L142.2 98.3 L140.5 97.8 L138.8 97.3 L137.1 96.7 L135.2 96.1 L133.2 95.3 L131.2 94.6 L129.2 93.9 L127.2 93.2 L125.2 92.5 L123.3 91.9 L121.3 91.2 L119.3 90.6 L117.3 90.1 L115.3 89.6 L113.3 89.3 L111.3 89.0 L109.3 88.8 L107.4 88.6 L105.4 88.5 L103.4 88.4 L101.4 88.3 L99.3 88.3 L97.3 88.4 L95.3 88.5 L93.3 88.6 L91.6 88.7 L89.8 88.9 L88.1 89.2 L86.6 89.5 L85.2 89.7 L84.0 90.0 L83.2 90.1 Z" fill="#ff4a2c"/>
<path d="M83.4 15.6 L85.1 15.6 L87.3 15.5 L90.0 15.4 L92.9 15.4 L96.0 15.3 L99.0 15.3 L102.0 15.3 L105.1 15.3 L108.3 15.3 L111.6 15.3 L114.8 15.4 L118.1 15.4 L121.2 15.5 L124.4 15.5 L127.6 15.6 L130.8 15.7 L134.0 15.9 L137.1 16.0 L140.3 16.2 L143.5 16.4 L146.7 16.6 L149.9 16.8 L153.0 17.0 L156.2 17.2 L159.4 17.4 L162.5 17.6 L165.7 17.8 L168.9 18.1 L172.0 18.3 L175.2 18.5 L178.4 18.7 L181.7 19.0 L184.9 19.3 L188.1 19.5 L191.3 19.8 L194.2 20.0 L197.2 20.3 L200.0 20.5 L202.8 20.7 L205.5 21.0 L208.0 21.2 L210.3 21.4 L212.2 21.6 L213.7 21.7 L215.2 21.8 L216.7 21.9 L218.4 22.1 L220.7 22.3 L223.6 22.6 L226.8 23.0 L230.4 23.4 L234.0 23.8 L237.7 24.2 L241.3 24.6 L244.7 25.0 L248.1 25.5 L251.5 25.9 L254.9 26.3 L258.3 26.8 L261.7 27.2 L265.1 27.7 L268.5 28.1 L271.9 28.5 L275.3 29.0 L278.7 29.4 L282.1 29.9 L285.6 30.4 L289.0 31.0 L292.4 31.5 L295.9 32.1 L299.3 32.6 L302.7 33.2 L306.2 33.9 L309.7 34.6 L313.2 35.2 L316.6 35.9 L320.0 36.6 L323.2 37.3 L326.3 37.9 L329.3 38.5 L332.2 39.1 L335.1 39.7 L337.9 40.3 L340.6 40.9 L343.3 41.4 L345.8 42.0 L348.3 42.5 L350.7 43.0 L353.2 43.5 L355.6 44.1 L358.2 44.6 L360.8 45.2 L363.4 45.7 L366.0 46.3 L368.4 46.8 L370.6 47.3 L372.5 47.6 L374.1 48.0 L375.6 48.3 L377.1 48.6 L378.7 48.9 L380.6 49.3 L382.8 49.7 L385.3 50.2 L387.9 50.8 L390.6 51.3 L393.2 51.8 L395.6 52.4 L397.9 52.9 L400.1 53.3 L402.3 53.8 L404.5 54.3 L406.6 54.8 L408.7 55.3 L410.9 55.8 L413.0 56.4 L415.0 57.0 L417.0 57.6 L418.9 58.1 L420.8 58.6 L422.5 59.0 L424.2 59.4 L425.8 59.8 L427.4 60.2 L429.0 60.6 L430.7 61.0 L432.3 61.4 L433.9 61.8 L435.4 62.2 L437.0 62.6 L438.8 63.0 L440.7 63.5 L443.0 64.1 L445.6 64.7 L448.2 65.4 L450.9 66.1 L453.5 66.7 L455.7 67.3 L457.7 67.8 L459.4 68.2 L461.0 68.5 L462.5 68.9 L464.1 69.3 L465.7 69.7 L467.4 70.1 L469.1 70.6 L470.8 71.0 L472.5 71.5 L474.2 71.9 L475.8 72.4 L477.5 72.9 L479.2 73.4 L480.9 74.0 L482.6 74.5 L484.3 75.1 L486.0 75.7 L487.7 76.3 L489.5 76.9 L491.2 77.5 L493.0 78.2 L494.6 78.8 L496.1 79.4 L497.5 80.0 L498.8 80.6 L499.9 81.1 L501.0 81.7 L502.1 82.2 L503.3 82.8 L504.6 83.4 L505.9 84.1 L507.2 84.7 L508.5 85.4 L509.9 86.1 L511.3 86.8 L512.9 87.6 L514.5 88.4 L516.2 89.2 L517.9 90.1 L519.6 90.9 L521.3 91.7 L523.0 92.5 L524.6 93.3 L526.3 94.1 L527.9 94.8 L529.5 95.5 L531.1 96.2 L532.7 96.9 L534.4 97.5 L536.0 98.1 L537.6 98.6 L539.3 99.2 L541.0 99.8 L542.6 100.3 L544.2 100.8 L545.9 101.4 L547.6 101.9 L549.3 102.5 L551.0 103.1 L552.7 103.7 L554.4 104.4 L556.1 105.0 L557.8 105.7 L559.4 106.4 L561.1 107.0 L562.8 107.7 L564.6 108.4 L566.4 109.1 L568.2 109.8 L569.8 110.5 L571.1 111.0 L572.3 111.5 L573.2 111.9 L574.0 112.3 L574.8 112.6 L575.5 112.9 L576.2 113.3 L577.1 113.6 L577.8 114.0 L578.6 114.4 L579.4 114.7 L580.2 115.1 L581.2 115.6 L582.4 116.1 L583.7 116.7 L585.1 117.3 L586.6 117.9 L587.9 118.5 L589.2 119.0 L590.4 119.5 L591.5 120.0 L592.6 120.5 L593.7 120.9 L594.5 121.3 L595.1 121.5 L592.0 129.1 L591.4 128.8 L590.5 128.5 L589.5 128.1 L588.4 127.6 L587.2 127.1 L586.0 126.6 L584.7 126.0 L583.3 125.4 L581.9 124.8 L580.4 124.2 L579.1 123.6 L577.9 123.0 L576.8 122.6 L575.9 122.2 L575.1 121.8 L574.4 121.4 L573.6 121.1 L572.9 120.7 L572.1 120.4 L571.4 120.1 L570.7 119.8 L569.9 119.4 L569.1 119.1 L568.0 118.7 L566.6 118.1 L565.1 117.5 L563.3 116.9 L561.5 116.2 L559.7 115.5 L558.0 114.8 L556.3 114.2 L554.7 113.5 L553.0 112.9 L551.3 112.3 L549.7 111.7 L548.1 111.1 L546.5 110.6 L544.9 110.1 L543.3 109.6 L541.6 109.1 L539.9 108.6 L538.1 108.0 L536.4 107.6 L534.7 107.1 L533.0 106.6 L531.2 106.0 L529.4 105.4 L527.6 104.7 L525.9 104.0 L524.1 103.3 L522.3 102.5 L520.6 101.8 L518.9 101.1 L517.2 100.3 L515.4 99.5 L513.8 98.6 L512.2 97.3 L510.8 95.9 L509.4 94.6 L508.1 93.4 L506.7 92.5 L505.3 91.7 L504.1 90.7 L503.0 89.7 L502.0 88.7 L500.9 87.7 L499.8 86.9 L498.7 86.3 L497.7 85.8 L496.6 85.2 L495.5 84.6 L494.3 84.0 L492.8 83.4 L491.2 82.9 L489.4 82.4 L487.6 82.0 L485.8 81.6 L484.1 81.1 L482.5 80.5 L480.8 79.9 L479.2 79.4 L477.5 78.9 L475.9 78.4 L474.2 77.9 L472.6 77.4 L471.0 77.0 L469.3 76.5 L467.6 76.1 L466.0 75.6 L464.3 75.2 L462.8 74.8 L461.2 74.5 L459.7 74.1 L458.1 73.7 L456.3 73.3 L454.4 72.8 L452.1 72.3 L449.5 71.8 L446.6 71.8 L443.7 71.9 L441.0 72.0 L438.7 71.6 L436.7 71.1 L435.0 70.7 L433.4 70.3 L431.9 69.9 L430.3 69.5 L428.7 69.0 L427.1 68.6 L425.5 68.2 L423.9 67.8 L422.3 67.4 L420.5 67.0 L418.7 66.5 L416.7 66.0 L414.8 65.4 L412.8 64.8 L410.8 64.1 L408.8 63.5 L406.8 62.9 L404.8 62.3 L402.8 61.8 L400.7 61.2 L398.6 60.8 L396.3 60.3 L394.0 59.8 L391.6 59.3 L389.0 58.7 L386.4 58.2 L383.8 57.7 L381.3 57.2 L379.1 56.7 L377.2 56.3 L375.6 56.0 L374.1 55.7 L372.6 55.4 L371.0 55.1 L369.1 54.7 L366.8 54.2 L364.4 53.7 L361.8 53.2 L359.2 52.6 L356.6 52.0 L354.0 51.5 L351.6 51.0 L349.1 50.4 L346.7 49.9 L344.2 49.4 L341.7 48.9 L339.1 48.3 L336.3 47.7 L333.5 47.1 L330.7 46.5 L327.8 45.9 L324.8 45.3 L321.7 44.6 L318.5 44.0 L315.1 43.3 L311.7 42.5 L308.3 41.8 L304.8 41.2 L301.4 40.5 L298.0 39.9 L294.7 39.4 L291.3 38.8 L287.9 38.3 L284.5 37.8 L281.1 37.3 L277.7 36.8 L274.3 36.3 L270.9 35.9 L267.5 35.5 L264.1 35.1 L260.7 34.6 L257.3 34.2 L253.9 33.8 L250.5 33.3 L247.1 32.9 L243.8 32.5 L240.4 32.1 L236.8 31.7 L233.2 31.3 L229.5 30.9 L226.0 30.5 L222.7 30.1 L219.9 29.9 L217.7 29.6 L216.0 29.5 L214.6 29.4 L213.2 29.3 L211.6 29.1 L209.6 29.0 L207.3 28.8 L204.8 28.6 L202.1 28.3 L199.4 28.1 L196.5 27.8 L193.6 27.6 L190.6 27.4 L187.5 27.1 L184.3 26.9 L181.1 26.6 L177.8 26.4 L174.7 26.2 L171.5 26.0 L168.3 25.8 L165.2 25.6 L162.0 25.4 L158.9 25.2 L155.7 25.0 L152.5 24.8 L149.3 24.6 L146.2 24.3 L143.0 24.1 L139.9 24.0 L136.8 23.8 L133.6 23.7 L130.5 23.5 L127.4 23.4 L124.2 23.3 L121.1 23.3 L117.9 23.2 L114.7 23.1 L111.5 23.1 L108.3 23.1 L105.1 23.1 L102.0 23.1 L99.0 23.1 L96.1 23.1 L93.1 23.2 L90.2 23.2 L87.5 23.3 L85.3 23.4 L83.6 23.4 Z" fill="#d8d890" opacity="0.7"/>
<path d="M83.4 15.6 L85.1 15.6 L87.3 15.5 L90.0 15.4 L92.9 15.4 L96.0 15.3 L99.0 15.3 L102.0 15.3 L105.1 15.3 L108.3 15.3 L111.6 15.3 L114.8 15.4 L118.1 15.4 L121.2 15.5 L124.4 15.5 L127.6 15.6 L130.8 15.7 L134.0 15.9 L137.1 16.0 L140.3 16.2 L143.5 16.4 L146.7 16.6 L149.9 16.8 L153.0 17.0 L156.2 17.2 L159.4 17.4 L162.5 17.6 L165.7 17.8 L168.9 18.1 L172.0 18.3 L175.2 18.5 L178.4 18.7 L181.7 19.0 L184.9 19.3 L188.1 19.5 L191.3 19.8 L194.2 20.0 L197.2 20.3 L200.0 20.5 L202.8 20.7 L205.5 21.0 L208.0 21.2 L210.3 21.4 L212.2 21.6 L213.7 21.7 L215.2 21.8 L216.7 21.9 L218.4 22.1 L220.7 22.3 L223.6 22.6 L226.8 23.0 L230.4 23.4 L234.0 23.8 L237.7 24.2 L241.3 24.6 L244.7 25.0 L248.1 25.5 L251.5 25.9 L254.9 26.3 L258.3 26.8 L261.7 27.2 L265.1 27.7 L268.5 28.1 L271.9 28.5 L275.3 29.0 L278.7 29.4 L282.1 29.9 L285.6 30.4 L289.0 31.0 L292.4 31.5 L295.9 32.1 L299.3 32.6 L302.7 33.2 L306.2 33.9 L309.7 34.6 L313.2 35.2 L316.6 35.9 L320.0 36.6 L323.2 37.3 L326.3 37.9 L329.3 38.5 L332.2 39.1 L335.1 39.7 L337.9 40.3 L340.6 40.9 L343.3 41.4 L345.8 42.0 L348.3 42.5 L350.7 43.0 L353.2 43.5 L355.6 44.1 L358.2 44.6 L360.8 45.2 L363.4 45.7 L366.0 46.3 L368.4 46.8 L370.6 47.3 L372.5 47.6 L374.1 48.0 L375.6 48.3 L377.1 48.6 L378.7 48.9 L380.6 49.3 L382.8 49.7 L385.3 50.2 L387.9 50.8 L390.6 51.3 L393.2 51.8 L395.6 52.4 L397.9 52.9 L400.1 53.3 L402.3 53.8 L404.5 54.3 L406.6 54.8 L408.7 55.3 L410.9 55.8 L413.0 56.4 L415.0 57.0 L417.0 57.6 L418.9 58.1 L420.8 58.6 L422.5 59.0 L424.2 59.4 L425.8 59.8 L427.4 60.2 L429.0 60.6 L430.7 61.0 L432.3 61.4 L433.9 61.8 L435.4 62.2 L437.0 62.6 L438.8 63.0 L440.7 63.5 L443.0 64.1 L445.6 64.7 L448.2 65.4 L450.9 66.1 L453.5 66.7 L455.7 67.3 L457.7 67.8 L459.4 68.2 L461.0 68.5 L462.5 68.9 L464.1 69.3 L465.7 69.7 L467.4 70.1 L469.1 70.6 L470.8 71.0 L472.5 71.5 L474.2 71.9 L475.8 72.4 L477.5 72.9 L479.2 73.4 L480.9 74.0 L482.6 74.5 L484.3 75.1 L486.0 75.7 L487.7 76.3 L489.5 76.9 L491.2 77.5 L493.0 78.2 L494.6 78.8 L496.1 79.4 L497.5 80.0 L498.8 80.6 L499.9 81.1 L501.0 81.7 L502.1 82.2 L503.3 82.8 L504.6 83.4 L505.9 84.1 L507.2 84.7 L508.5 85.4 L509.9 86.1 L511.3 86.8 L512.9 87.6 L514.5 88.4 L516.2 89.2 L517.9 90.1 L519.6 90.9 L521.3 91.7 L523.0 92.5 L524.6 93.3 L526.3 94.1 L527.9 94.8 L529.5 95.5 L531.1 96.2 L532.7 96.9 L534.4 97.5 L536.0 98.1 L537.6 98.6 L539.3 99.2 L541.0 99.8 L542.6 100.3 L544.2 100.8 L545.9 101.4 L547.6 101.9 L549.3 102.5 L551.0 103.1 L552.7 103.7 L554.4 104.4 L556.1 105.0 L557.8 105.7 L559.4 106.4 L561.1 107.0 L562.8 107.7 L564.6 108.4 L566.4 109.1 L568.2 109.8 L569.8 110.5 L571.1 111.0 L572.3 111.5 L573.2 111.9 L574.0 112.3 L574.8 112.6 L575.5 112.9 L576.2 113.3 L577.1 113.6 L577.8 114.0 L578.6 114.4 L579.4 114.7 L580.2 115.1 L581.2 115.6 L582.4 116.1 L583.7 116.7 L585.1 117.3 L586.6 117.9 L587.9 118.5 L589.2 119.0 L590.4 119.5 L591.5 120.0 L592.6 120.5 L593.7 120.9 L594.5 121.3 L595.1 121.5 L592.6 127.6 L592.0 127.4 L591.1 127.0 L590.1 126.6 L589.0 126.1 L587.8 125.6 L586.6 125.1 L585.3 124.6 L583.9 124.0 L582.5 123.3 L581.1 122.7 L579.7 122.1 L578.5 121.6 L577.5 121.1 L576.6 120.7 L575.8 120.3 L575.0 120.0 L574.3 119.6 L573.5 119.3 L572.7 118.9 L572.0 118.6 L571.3 118.3 L570.6 118.0 L569.7 117.6 L568.6 117.2 L567.2 116.6 L565.7 116.0 L563.9 115.4 L562.1 114.7 L560.3 114.0 L558.6 113.3 L556.9 112.7 L555.2 112.0 L553.6 111.4 L551.9 110.8 L550.3 110.2 L548.7 109.6 L547.1 109.1 L545.4 108.6 L543.8 108.0 L542.1 107.5 L540.4 107.0 L538.7 106.5 L537.0 106.1 L535.3 105.6 L533.5 105.1 L531.8 104.5 L530.0 103.9 L528.3 103.3 L526.5 102.5 L524.7 101.8 L523.0 101.1 L521.3 100.4 L519.5 99.6 L517.9 98.9 L516.1 98.1 L514.5 97.1 L512.9 95.9 L511.5 94.5 L510.1 93.2 L508.8 92.0 L507.4 91.0 L506.1 90.3 L504.8 89.3 L503.7 88.3 L502.7 87.3 L501.6 86.3 L500.5 85.5 L499.4 84.9 L498.3 84.5 L497.1 84.1 L495.9 83.8 L494.5 83.4 L493.0 82.9 L491.4 82.4 L489.6 81.9 L487.8 81.5 L486.0 81.1 L484.3 80.6 L482.6 80.0 L481.0 79.5 L479.3 78.9 L477.7 78.4 L476.0 77.9 L474.4 77.4 L472.7 76.9 L471.1 76.5 L469.4 76.0 L467.8 75.6 L466.1 75.2 L464.5 74.7 L462.9 74.3 L461.3 74.0 L459.8 73.6 L458.2 73.2 L456.4 72.8 L454.5 72.3 L452.2 71.8 L449.6 71.2 L446.8 70.9 L444.0 70.8 L441.4 70.5 L439.1 70.1 L437.1 69.6 L435.4 69.1 L433.8 68.7 L432.2 68.3 L430.7 67.9 L429.1 67.5 L427.5 67.1 L425.9 66.7 L424.3 66.3 L422.6 65.9 L420.9 65.4 L419.1 65.0 L417.2 64.5 L415.2 63.9 L413.2 63.2 L411.2 62.6 L409.2 61.9 L407.2 61.3 L405.2 60.7 L403.1 60.2 L401.0 59.7 L398.9 59.2 L396.7 58.7 L394.4 58.2 L391.9 57.7 L389.4 57.2 L386.7 56.6 L384.1 56.1 L381.6 55.6 L379.4 55.1 L377.5 54.8 L375.9 54.4 L374.4 54.2 L372.9 53.9 L371.3 53.5 L369.4 53.1 L367.2 52.7 L364.7 52.2 L362.2 51.6 L359.6 51.0 L356.9 50.5 L354.4 49.9 L351.9 49.4 L349.5 48.9 L347.0 48.4 L344.6 47.8 L342.0 47.3 L339.4 46.7 L336.7 46.2 L333.9 45.6 L331.0 45.0 L328.1 44.3 L325.1 43.7 L322.0 43.1 L318.8 42.4 L315.5 41.7 L312.0 41.0 L308.6 40.3 L305.1 39.6 L301.7 39.0 L298.3 38.4 L294.9 37.8 L291.5 37.2 L288.1 36.7 L284.7 36.2 L281.3 35.7 L277.9 35.2 L274.5 34.8 L271.1 34.3 L267.7 33.9 L264.3 33.5 L260.9 33.0 L257.5 32.6 L254.1 32.2 L250.7 31.7 L247.3 31.3 L243.9 30.9 L240.6 30.5 L237.0 30.1 L233.4 29.7 L229.7 29.3 L226.2 28.9 L222.9 28.6 L220.1 28.3 L217.9 28.0 L216.1 27.9 L214.7 27.8 L213.3 27.7 L211.7 27.5 L209.7 27.4 L207.4 27.2 L204.9 27.0 L202.3 26.7 L199.5 26.5 L196.6 26.2 L193.8 26.0 L190.8 25.8 L187.6 25.5 L184.4 25.3 L181.2 25.0 L178.0 24.8 L174.8 24.6 L171.6 24.4 L168.4 24.2 L165.3 24.0 L162.1 23.8 L159.0 23.6 L155.8 23.4 L152.6 23.2 L149.4 23.0 L146.3 22.7 L143.1 22.5 L140.0 22.4 L136.8 22.2 L133.7 22.1 L130.6 21.9 L127.4 21.8 L124.2 21.7 L121.1 21.7 L117.9 21.6 L114.8 21.5 L111.5 21.5 L108.3 21.5 L105.1 21.5 L102.0 21.5 L99.0 21.5 L96.1 21.5 L93.1 21.6 L90.1 21.6 L87.5 21.7 L85.2 21.8 L83.6 21.8 Z" fill="#fca262"/>
<path d="M83.4 15.6 L85.1 15.6 L87.3 15.5 L90.0 15.4 L92.9 15.4 L96.0 15.3 L99.0 15.3 L102.0 15.3 L105.1 15.3 L108.3 15.3 L111.6 15.3 L114.8 15.4 L118.1 15.4 L121.2 15.5 L124.4 15.5 L127.6 15.6 L130.8 15.7 L134.0 15.9 L137.1 16.0 L140.3 16.2 L143.5 16.4 L146.7 16.6 L149.9 16.8 L153.0 17.0 L156.2 17.2 L159.4 17.4 L162.5 17.6 L165.7 17.8 L168.9 18.1 L172.0 18.3 L175.2 18.5 L178.4 18.7 L181.7 19.0 L184.9 19.3 L188.1 19.5 L191.3 19.8 L194.2 20.0 L197.2 20.3 L200.0 20.5 L202.8 20.7 L205.5 21.0 L208.0 21.2 L210.3 21.4 L212.2 21.6 L213.7 21.7 L215.2 21.8 L216.7 21.9 L218.4 22.1 L220.7 22.3 L223.6 22.6 L226.8 23.0 L230.4 23.4 L234.0 23.8 L237.7 24.2 L241.3 24.6 L244.7 25.0 L248.1 25.5 L251.5 25.9 L254.9 26.3 L258.3 26.8 L261.7 27.2 L265.1 27.7 L268.5 28.1 L271.9 28.5 L275.3 29.0 L278.7 29.4 L282.1 29.9 L285.6 30.4 L289.0 31.0 L292.4 31.5 L295.9 32.1 L299.3 32.6 L302.7 33.2 L306.2 33.9 L309.7 34.6 L313.2 35.2 L316.6 35.9 L320.0 36.6 L323.2 37.3 L326.3 37.9 L329.3 38.5 L332.2 39.1 L335.1 39.7 L337.9 40.3 L340.6 40.9 L343.3 41.4 L345.8 42.0 L348.3 42.5 L350.7 43.0 L353.2 43.5 L355.6 44.1 L358.2 44.6 L360.8 45.2 L363.4 45.7 L366.0 46.3 L368.4 46.8 L370.6 47.3 L372.5 47.6 L374.1 48.0 L375.6 48.3 L377.1 48.6 L378.7 48.9 L380.6 49.3 L382.8 49.7 L385.3 50.2 L387.9 50.8 L390.6 51.3 L393.2 51.8 L395.6 52.4 L397.9 52.9 L400.1 53.3 L402.3 53.8 L404.5 54.3 L406.6 54.8 L408.7 55.3 L410.9 55.8 L413.0 56.4 L415.0 57.0 L417.0 57.6 L418.9 58.1 L420.8 58.6 L422.5 59.0 L424.2 59.4 L425.8 59.8 L427.4 60.2 L429.0 60.6 L430.7 61.0 L432.3 61.4 L433.9 61.8 L435.4 62.2 L437.0 62.6 L438.8 63.0 L440.7 63.5 L443.0 64.1 L445.6 64.7 L448.2 65.4 L450.9 66.1 L453.5 66.7 L455.7 67.3 L457.7 67.8 L459.4 68.2 L461.0 68.5 L462.5 68.9 L464.1 69.3 L465.7 69.7 L467.4 70.1 L469.1 70.6 L470.8 71.0 L472.5 71.5 L474.2 71.9 L475.8 72.4 L477.5 72.9 L479.2 73.4 L480.9 74.0 L482.6 74.5 L484.3 75.1 L486.0 75.7 L487.7 76.3 L489.5 76.9 L491.2 77.5 L493.0 78.2 L494.6 78.8 L496.1 79.4 L497.5 80.0 L498.8 80.6 L499.9 81.1 L501.0 81.7 L502.1 82.2 L503.3 82.8 L504.6 83.4 L505.9 84.1 L507.2 84.7 L508.5 85.4 L509.9 86.1 L511.3 86.8 L512.9 87.6 L514.5 88.4 L516.2 89.2 L517.9 90.1 L519.6 90.9 L521.3 91.7 L523.0 92.5 L524.6 93.3 L526.3 94.1 L527.9 94.8 L529.5 95.5 L531.1 96.2 L532.7 96.9 L534.4 97.5 L536.0 98.1 L537.6 98.6 L539.3 99.2 L541.0 99.8 L542.6 100.3 L544.2 100.8 L545.9 101.4 L547.6 101.9 L549.3 102.5 L551.0 103.1 L552.7 103.7 L554.4 104.4 L556.1 105.0 L557.8 105.7 L559.4 106.4 L561.1 107.0 L562.8 107.7 L564.6 108.4 L566.4 109.1 L568.2 109.8 L569.8 110.5 L571.1 111.0 L572.3 111.5 L573.2 111.9 L574.0 112.3 L574.8 112.6 L575.5 112.9 L576.2 113.3 L577.1 113.6 L577.8 114.0 L578.6 114.4 L579.4 114.7 L580.2 115.1 L581.2 115.6 L582.4 116.1 L583.7 116.7 L585.1 117.3 L586.6 117.9 L587.9 118.5 L589.2 119.0 L590.4 119.5 L591.5 120.0 L592.6 120.5 L593.7 120.9 L594.5 121.3 L595.1 121.5 L593.0 126.7 L592.4 126.4 L591.5 126.0 L590.6 125.5 L589.5 125.0 L588.3 124.3 L587.2 123.7 L585.9 123.1 L584.6 122.5 L583.2 121.7 L581.9 120.8 L580.7 119.9 L579.6 119.2 L578.6 118.6 L577.8 118.2 L577.0 117.8 L576.2 117.4 L575.5 117.0 L574.8 116.5 L574.0 116.0 L573.4 115.6 L572.7 115.2 L572.0 114.7 L571.2 114.1 L570.2 113.4 L568.9 112.6 L567.4 111.8 L565.7 111.0 L563.9 110.3 L562.1 109.6 L560.4 108.9 L558.7 108.2 L557.0 107.5 L555.4 106.9 L553.7 106.2 L552.0 105.6 L550.3 105.0 L548.7 104.4 L547.0 103.8 L545.3 103.3 L543.6 102.7 L542.0 102.2 L540.3 101.7 L538.7 101.1 L537.0 100.5 L535.3 99.9 L533.7 99.3 L532.0 98.7 L530.4 98.1 L528.7 97.4 L527.1 96.6 L525.4 95.9 L523.8 95.1 L522.1 94.3 L520.4 93.5 L518.7 92.7 L517.0 91.9 L515.3 91.0 L513.6 90.2 L512.0 89.4 L510.4 88.6 L509.0 87.9 L507.6 87.2 L506.3 86.5 L505.0 85.9 L503.7 85.2 L502.4 84.6 L501.3 84.0 L500.1 83.5 L499.1 82.9 L497.9 82.4 L496.7 81.8 L495.4 81.3 L493.9 80.7 L492.2 80.0 L490.5 79.4 L488.8 78.8 L487.0 78.1 L485.3 77.6 L483.7 77.0 L482.0 76.4 L480.3 75.9 L478.6 75.4 L477.0 74.8 L475.3 74.3 L473.6 73.9 L471.9 73.4 L470.3 72.9 L468.6 72.5 L466.9 72.1 L465.2 71.6 L463.6 71.2 L462.1 70.9 L460.5 70.5 L458.9 70.1 L457.2 69.7 L455.2 69.2 L453.0 68.7 L450.4 68.0 L447.7 67.3 L445.1 66.7 L442.5 66.0 L440.2 65.4 L438.3 64.9 L436.5 64.5 L434.9 64.1 L433.4 63.7 L431.8 63.3 L430.2 62.9 L428.6 62.5 L427.0 62.2 L425.4 61.8 L423.7 61.4 L422.0 61.0 L420.3 60.5 L418.4 60.0 L416.5 59.5 L414.5 58.9 L412.4 58.3 L410.3 57.8 L408.2 57.2 L406.1 56.7 L404.0 56.2 L401.9 55.8 L399.7 55.3 L397.5 54.8 L395.2 54.3 L392.8 53.8 L390.2 53.3 L387.5 52.7 L384.9 52.2 L382.4 51.7 L380.2 51.2 L378.3 50.8 L376.7 50.5 L375.2 50.2 L373.7 49.9 L372.1 49.6 L370.2 49.2 L368.0 48.8 L365.6 48.2 L363.0 47.7 L360.4 47.1 L357.8 46.6 L355.2 46.0 L352.7 45.5 L350.3 45.0 L347.9 44.4 L345.4 43.9 L342.8 43.4 L340.2 42.8 L337.5 42.2 L334.7 41.7 L331.8 41.1 L328.9 40.5 L325.9 39.8 L322.8 39.2 L319.6 38.6 L316.2 37.9 L312.8 37.2 L309.3 36.5 L305.8 35.8 L302.4 35.2 L299.0 34.6 L295.5 34.0 L292.1 33.5 L288.7 32.9 L285.3 32.4 L281.8 31.9 L278.4 31.4 L275.0 31.0 L271.6 30.5 L268.2 30.1 L264.8 29.6 L261.4 29.2 L258.0 28.8 L254.6 28.3 L251.2 27.9 L247.8 27.4 L244.4 27.0 L241.0 26.6 L237.5 26.2 L233.8 25.8 L230.1 25.3 L226.6 25.0 L223.3 24.6 L220.5 24.3 L218.2 24.1 L216.5 23.9 L215.0 23.8 L213.6 23.7 L212.0 23.6 L210.1 23.4 L207.8 23.2 L205.3 23.0 L202.6 22.7 L199.9 22.5 L197.0 22.2 L194.1 22.0 L191.1 21.8 L188.0 21.5 L184.8 21.2 L181.5 21.0 L178.3 20.7 L175.1 20.5 L171.9 20.3 L168.7 20.1 L165.6 19.8 L162.4 19.6 L159.2 19.4 L156.1 19.2 L152.9 19.0 L149.7 18.8 L146.6 18.6 L143.4 18.4 L140.2 18.2 L137.0 18.0 L133.9 17.9 L130.7 17.7 L127.5 17.6 L124.4 17.5 L121.2 17.5 L118.0 17.4 L114.8 17.3 L111.5 17.3 L108.3 17.3 L105.1 17.3 L102.0 17.3 L99.0 17.3 L96.0 17.3 L93.0 17.4 L90.0 17.4 L87.4 17.5 L85.1 17.6 L83.5 17.6 Z" fill="#ff3a22"/>
<path d="M446 72.8 L455 75 L465 77.4 L475 80.3 L485 83.5 L492 86.2 L497 89" fill="none" stroke="#f8aa68" stroke-width="2"/>
</g>
<g filter="url(#blur05)">
<path d="M106.13 93.03 L107.06 93.09 L107.99 93.16 L108.91 93.24 L109.83 93.34 L110.75 93.45 L111.67 93.57 L112.58 93.71 L113.49 93.87 L114.40 94.04 L115.30 94.23 L116.21 94.45 L117.13 94.69 L118.06 94.96 L118.99 95.23 L119.94 95.53 L120.89 95.84 L121.85 96.15 L122.82 96.47 L123.80 96.80 L124.78 97.13 L125.76 97.45 L126.72 97.77 L127.69 98.10 L128.67 98.45 L129.66 98.81 L130.67 99.17 L131.67 99.54 L132.67 99.91 L133.67 100.27 L134.65 100.62 L135.63 100.96 L136.59 101.27 L137.52 101.57 L138.43 101.84 L139.33 102.10 L140.22 102.34 L141.09 102.58 L141.94 102.80 L142.78 103.00 L143.59 103.20 L144.37 103.38 L145.12 103.54 L145.84 103.69 L146.52 103.83 L147.15 103.95 L147.72 104.05 L148.25 104.15 L148.74 104.23 L149.21 104.29 L149.66 104.35 L150.12 104.39 L150.57 104.41 L151.01 104.41 L151.46 104.40 L151.91 104.37 L152.35 104.33 L152.81 104.27 L153.30 104.20 L153.79 104.10 L154.27 103.99 L154.74 103.87 L155.20 103.73 L155.66 103.58 L156.11 103.42 L156.57 103.25 L157.02 103.07 L157.49 102.88 L157.97 102.67 L158.50 102.45 L159.08 102.19 L159.68 101.91 L160.30 101.60 L160.92 101.28 L161.55 100.96 L162.19 100.63 L162.82 100.30 L163.44 99.98 L164.06 99.67 L164.66 99.37 L165.24 99.10 L165.80 98.85 L166.38 98.60 L166.97 98.35 L167.56 98.11 L166.36 95.17 L165.64 95.16 L164.90 95.12 L164.14 95.06 L163.35 94.99 L162.51 94.92 L161.66 94.85 L160.79 94.78 L159.92 94.71 L159.06 94.63 L158.23 94.55 L157.42 94.46 L156.67 94.36 L155.97 94.23 L155.36 94.09 L154.80 93.94 L154.23 93.82 L153.69 93.71 L153.20 93.60 L152.78 93.48 L152.41 93.36 L152.11 93.22 L151.86 93.07 L151.66 92.91 L151.50 92.74 L151.38 92.57 L151.27 92.39 L151.14 92.22 L150.98 92.07 L150.88 91.93 L150.86 91.79 L150.91 91.66 L150.97 91.54 L151.02 91.43 L151.02 91.32 L150.93 91.20 L150.76 91.07 L150.48 90.92 L150.11 90.76 L149.65 90.59 L149.15 90.43 L148.60 90.28 L148.01 90.15 L147.37 90.02 L146.70 89.89 L146.00 89.76 L145.27 89.63 L144.51 89.50 L143.74 89.38 L142.95 89.26 L142.15 89.15 L141.36 89.05 L140.57 88.96 L139.72 88.86 L138.81 88.75 L137.84 88.63 L136.82 88.50 L135.76 88.38 L134.66 88.27 L133.53 88.16 L132.38 88.07 L131.22 87.99 L130.05 87.93 L128.91 87.90 L127.83 87.90 L126.77 87.91 L125.68 87.92 L124.57 87.93 L123.46 87.95 L122.33 87.97 L121.19 88.01 L120.06 88.06 L118.92 88.13 L117.78 88.22 L116.65 88.33 L115.54 88.46 L114.45 88.62 L113.38 88.79 L112.33 88.97 L111.30 89.16 L110.28 89.35 L109.27 89.54 L108.27 89.72 L107.29 89.88 L106.31 90.00 Z" fill="#ff8a48" opacity="0.9"/>
<path d="M191.32 94.27 L191.88 94.29 L192.43 94.31 L192.98 94.34 L193.53 94.39 L194.10 94.44 L194.68 94.51 L195.25 94.58 L195.81 94.65 L196.37 94.74 L196.92 94.83 L197.47 94.93 L198.01 95.05 L198.55 95.17 L199.08 95.31 L199.60 95.47 L200.12 95.64 L200.63 95.82 L201.15 96.03 L201.68 96.27 L202.23 96.52 L202.79 96.80 L203.36 97.10 L203.94 97.41 L204.54 97.73 L205.14 98.06 L205.76 98.39 L206.38 98.73 L206.99 99.05 L207.57 99.36 L208.14 99.67 L208.72 100.01 L209.31 100.36 L209.92 100.71 L210.54 101.08 L211.17 101.44 L211.81 101.81 L212.47 102.17 L213.14 102.51 L213.82 102.85 L214.51 103.15 L215.16 103.43 L215.80 103.69 L216.44 103.94 L217.10 104.19 L217.76 104.43 L218.44 104.65 L219.12 104.86 L219.81 105.05 L220.52 105.22 L221.23 105.37 L221.96 105.49 L222.70 105.58 L223.45 105.64 L224.20 105.66 L224.93 105.65 L225.64 105.61 L226.34 105.55 L227.02 105.48 L227.69 105.38 L228.34 105.28 L228.98 105.18 L229.60 105.07 L230.21 104.96 L230.83 104.85 L231.49 104.73 L232.15 104.59 L232.79 104.43 L233.41 104.27 L234.02 104.11 L234.61 103.95 L235.19 103.78 L235.77 103.62 L234.99 100.73 L234.38 100.85 L233.77 100.93 L233.15 100.97 L232.53 100.96 L231.92 100.91 L231.30 100.81 L230.68 100.67 L230.04 100.48 L229.38 100.25 L228.71 100.01 L228.05 99.75 L227.41 99.47 L226.78 99.17 L226.19 98.85 L225.63 98.50 L225.12 98.14 L224.66 97.77 L224.25 97.38 L223.91 96.99 L223.61 96.60 L223.31 96.22 L223.02 95.84 L222.71 95.46 L222.40 95.10 L222.06 94.76 L221.71 94.42 L221.32 94.10 L220.91 93.80 L220.47 93.51 L220.00 93.24 L219.49 92.99 L219.00 92.79 L218.59 92.63 L218.18 92.48 L217.71 92.31 L217.19 92.12 L216.63 91.92 L216.01 91.71 L215.35 91.49 L214.65 91.27 L213.92 91.05 L213.14 90.84 L212.33 90.64 L211.54 90.48 L210.83 90.38 L210.14 90.30 L209.41 90.21 L208.66 90.12 L207.89 90.03 L207.10 89.95 L206.29 89.87 L205.48 89.80 L204.65 89.75 L203.82 89.72 L202.98 89.71 L202.16 89.74 L201.36 89.79 L200.59 89.88 L199.85 89.98 L199.12 90.09 L198.41 90.22 L197.72 90.35 L197.05 90.48 L196.39 90.61 L195.74 90.73 L195.09 90.85 L194.46 90.95 L193.83 91.04 L193.21 91.12 L192.59 91.18 L191.98 91.23 L191.37 91.26 Z" fill="#ff8a48" opacity="0.9"/>
<path d="M265.65 101.07 L266.20 101.18 L266.75 101.29 L267.30 101.41 L267.85 101.54 L268.40 101.69 L268.96 101.85 L269.52 102.02 L270.09 102.20 L270.65 102.39 L271.21 102.59 L271.76 102.80 L272.32 103.02 L272.87 103.26 L273.42 103.50 L273.96 103.76 L274.51 104.04 L275.05 104.32 L275.56 104.62 L276.09 104.95 L276.63 105.31 L277.19 105.71 L277.77 106.12 L278.35 106.56 L278.96 107.01 L279.57 107.47 L280.20 107.94 L280.84 108.41 L281.49 108.87 L282.14 109.30 L282.76 109.71 L283.38 110.11 L284.00 110.53 L284.64 110.95 L285.29 111.37 L285.94 111.79 L286.60 112.20 L287.26 112.60 L287.93 112.98 L288.60 113.34 L289.27 113.67 L289.95 113.97 L290.60 114.22 L291.23 114.44 L291.86 114.63 L292.47 114.78 L293.06 114.91 L293.65 115.01 L294.22 115.08 L294.78 115.13 L295.32 115.17 L295.86 115.19 L296.38 115.20 L296.92 115.20 L297.50 115.19 L298.09 115.15 L298.66 115.10 L299.23 115.03 L299.78 114.94 L300.32 114.85 L300.85 114.74 L301.38 114.62 L301.91 114.50 L302.44 114.38 L302.97 114.25 L303.53 114.11 L304.16 113.95 L304.80 113.76 L305.44 113.56 L306.08 113.35 L306.70 113.14 L307.32 112.93 L307.93 112.73 L308.52 112.53 L307.61 109.65 L306.95 109.76 L306.28 109.83 L305.60 109.88 L304.92 109.89 L304.26 109.87 L303.61 109.81 L302.99 109.73 L302.40 109.61 L301.81 109.48 L301.23 109.35 L300.67 109.21 L300.13 109.06 L299.63 108.89 L299.15 108.72 L298.70 108.53 L298.28 108.33 L297.90 108.11 L297.54 107.88 L297.21 107.64 L296.87 107.38 L296.48 107.12 L296.10 106.86 L295.76 106.60 L295.47 106.35 L295.22 106.10 L295.00 105.85 L294.81 105.60 L294.64 105.35 L294.48 105.10 L294.32 104.85 L294.14 104.59 L293.96 104.32 L293.77 104.05 L293.53 103.76 L293.22 103.43 L292.84 103.07 L292.41 102.70 L291.93 102.31 L291.41 101.91 L290.85 101.51 L290.24 101.11 L289.60 100.73 L288.92 100.36 L288.28 100.05 L287.71 99.81 L287.14 99.60 L286.51 99.36 L285.83 99.11 L285.09 98.84 L284.32 98.57 L283.50 98.31 L282.65 98.05 L281.76 97.81 L280.84 97.59 L279.90 97.41 L278.95 97.27 L278.05 97.20 L277.19 97.18 L276.34 97.18 L275.50 97.22 L274.68 97.28 L273.88 97.35 L273.10 97.44 L272.33 97.54 L271.59 97.65 L270.86 97.75 L270.14 97.85 L269.44 97.94 L268.75 98.01 L268.08 98.08 L267.42 98.12 L266.78 98.14 L266.16 98.11 Z" fill="#ff8a48" opacity="0.9"/>
<path d="M321.97 111.38 L322.54 111.44 L323.11 111.51 L323.68 111.58 L324.25 111.67 L324.81 111.76 L325.39 111.86 L325.98 111.97 L326.57 112.10 L327.17 112.23 L327.78 112.37 L328.37 112.52 L328.96 112.67 L329.54 112.82 L330.10 112.98 L330.64 113.13 L331.15 113.28 L331.61 113.42 L332.03 113.55 L332.42 113.69 L332.80 113.82 L333.16 113.96 L333.54 114.11 L333.92 114.26 L334.32 114.43 L334.74 114.60 L335.19 114.79 L335.68 114.99 L336.20 115.19 L336.73 115.40 L337.28 115.62 L337.86 115.85 L338.46 116.09 L339.07 116.34 L339.70 116.60 L340.34 116.86 L340.98 117.12 L341.63 117.37 L342.28 117.63 L342.92 117.87 L343.56 118.11 L344.19 118.34 L344.82 118.57 L345.44 118.79 L346.07 119.00 L346.68 119.21 L347.30 119.41 L347.91 119.62 L348.52 119.82 L349.12 120.02 L349.72 120.22 L350.32 120.43 L350.91 120.63 L351.50 120.84 L352.10 121.05 L352.70 121.27 L353.30 121.49 L353.91 121.71 L354.52 121.94 L355.14 122.16 L355.75 122.38 L356.38 122.60 L357.00 122.82 L357.63 123.04 L358.26 123.25 L358.89 123.45 L359.52 123.65 L360.15 123.85 L360.77 124.04 L361.39 124.22 L362.00 124.40 L362.61 124.58 L363.22 124.76 L363.83 124.94 L364.44 125.12 L365.04 125.29 L365.63 125.47 L366.23 125.65 L366.82 125.84 L367.42 126.03 L368.03 126.22 L368.64 126.41 L369.25 126.61 L369.88 126.80 L370.50 126.99 L371.13 127.18 L371.77 127.36 L372.41 127.54 L373.06 127.71 L373.70 127.87 L374.34 128.02 L374.97 128.16 L375.60 128.30 L376.23 128.43 L376.86 128.56 L377.49 128.68 L378.11 128.80 L378.73 128.92 L379.35 129.03 L379.96 129.14 L380.58 129.25 L381.20 129.36 L381.82 129.47 L382.44 129.57 L383.07 129.67 L383.69 129.77 L384.31 129.86 L384.93 129.95 L385.55 130.04 L386.16 130.13 L386.78 130.21 L387.40 130.29 L388.02 130.38 L388.64 130.45 L389.26 130.53 L389.88 130.60 L390.50 130.67 L391.12 130.74 L391.73 130.81 L392.35 130.87 L392.96 130.94 L393.57 131.00 L394.18 131.06 L394.79 131.12 L395.40 131.18 L395.70 128.17 L395.10 128.03 L394.50 127.88 L393.90 127.72 L393.31 127.56 L392.71 127.39 L392.11 127.22 L391.52 127.04 L390.93 126.86 L390.34 126.67 L389.75 126.48 L389.16 126.28 L388.57 126.08 L387.98 125.88 L387.39 125.68 L386.81 125.47 L386.22 125.26 L385.64 125.05 L385.06 124.83 L384.48 124.62 L383.90 124.40 L383.32 124.18 L382.74 123.96 L382.17 123.73 L381.60 123.50 L381.02 123.27 L380.44 123.04 L379.86 122.81 L379.29 122.58 L378.72 122.35 L378.15 122.12 L377.59 121.89 L377.03 121.65 L376.48 121.42 L375.93 121.18 L375.38 120.94 L374.84 120.69 L374.32 120.45 L373.79 120.20 L373.25 119.94 L372.70 119.67 L372.15 119.41 L371.59 119.14 L371.02 118.86 L370.45 118.59 L369.86 118.31 L369.26 118.04 L368.65 117.77 L368.04 117.50 L367.43 117.25 L366.83 117.00 L366.23 116.75 L365.64 116.52 L365.05 116.28 L364.46 116.05 L363.88 115.83 L363.31 115.61 L362.74 115.39 L362.18 115.17 L361.62 114.95 L361.06 114.74 L360.51 114.52 L359.95 114.30 L359.39 114.08 L358.81 113.85 L358.23 113.63 L357.63 113.40 L357.03 113.17 L356.42 112.94 L355.81 112.72 L355.18 112.50 L354.54 112.28 L353.90 112.08 L353.25 111.88 L352.61 111.70 L351.97 111.52 L351.34 111.36 L350.71 111.20 L350.09 111.06 L349.48 110.92 L348.86 110.78 L348.26 110.66 L347.65 110.53 L347.05 110.41 L346.45 110.29 L345.85 110.17 L345.22 110.04 L344.57 109.91 L343.91 109.77 L343.24 109.64 L342.57 109.51 L341.90 109.38 L341.24 109.25 L340.58 109.13 L339.93 109.01 L339.31 108.91 L338.71 108.81 L338.18 108.73 L337.68 108.66 L337.21 108.59 L336.75 108.52 L336.30 108.44 L335.83 108.37 L335.36 108.30 L334.88 108.23 L334.37 108.16 L333.84 108.11 L333.29 108.06 L332.70 108.03 L332.10 108.01 L331.48 107.99 L330.84 107.98 L330.18 107.98 L329.51 107.98 L328.83 107.99 L328.14 108.00 L327.45 108.02 L326.77 108.05 L326.09 108.08 L325.43 108.12 L324.78 108.17 L324.15 108.22 L323.52 108.27 L322.89 108.32 L322.27 108.36 Z" fill="#ff8a48" opacity="0.9"/>
<path d="M416.19 134.10 L416.65 134.25 L417.12 134.41 L417.58 134.58 L418.03 134.76 L418.46 134.95 L418.89 135.15 L419.32 135.36 L419.73 135.57 L420.14 135.80 L420.54 136.03 L420.93 136.27 L421.32 136.52 L421.70 136.77 L422.06 137.03 L422.41 137.28 L422.74 137.55 L423.07 137.82 L423.39 138.10 L423.71 138.40 L424.04 138.71 L424.37 139.04 L424.71 139.38 L425.06 139.75 L425.42 140.13 L425.79 140.53 L426.15 140.93 L426.53 141.36 L426.92 141.82 L427.31 142.30 L427.71 142.79 L428.12 143.29 L428.51 143.80 L428.91 144.31 L429.30 144.82 L429.67 145.32 L430.04 145.81 L430.36 146.25 L430.64 146.64 L430.89 147.03 L431.13 147.45 L431.38 147.89 L431.64 148.35 L431.91 148.84 L432.21 149.35 L432.52 149.87 L432.88 150.41 L433.29 150.95 L433.75 151.49 L434.26 152.00 L434.74 152.42 L435.22 152.80 L435.72 153.17 L436.23 153.51 L436.76 153.84 L437.32 154.13 L437.89 154.41 L438.48 154.66 L439.08 154.88 L439.70 155.07 L440.34 155.23 L441.01 155.36 L441.70 155.45 L442.41 155.50 L443.09 155.51 L443.75 155.48 L444.39 155.43 L445.02 155.37 L445.64 155.29 L446.25 155.21 L446.87 155.12 L447.49 155.04 L448.13 154.96 L448.83 154.88 L449.62 154.79 L450.49 154.68 L451.37 154.55 L452.26 154.41 L453.17 154.27 L454.07 154.13 L454.97 154.00 L455.85 153.89 L456.69 153.80 L457.50 153.73 L458.24 153.70 L458.94 153.70 L459.60 153.73 L460.23 153.78 L460.84 153.85 L461.43 153.94 L462.03 154.05 L462.64 154.18 L463.27 154.33 L463.98 151.42 L463.31 151.19 L462.65 150.93 L461.99 150.65 L461.31 150.36 L460.60 150.06 L459.84 149.75 L459.03 149.43 L458.14 149.12 L457.19 148.81 L456.20 148.51 L455.18 148.22 L454.15 147.94 L453.12 147.66 L452.11 147.39 L451.13 147.12 L450.21 146.87 L449.35 146.61 L448.59 146.36 L447.87 146.12 L447.09 145.92 L446.30 145.75 L445.57 145.60 L444.91 145.46 L444.33 145.33 L443.83 145.20 L443.43 145.07 L443.13 144.93 L442.93 144.80 L442.83 144.66 L442.82 144.53 L442.83 144.42 L442.80 144.30 L442.74 144.19 L442.69 144.09 L442.65 144.00 L442.61 143.92 L442.57 143.84 L442.52 143.77 L442.47 143.70 L442.41 143.62 L442.33 143.54 L442.25 143.46 L442.23 143.43 L442.33 143.54 L442.43 143.66 L442.44 143.69 L442.36 143.61 L442.22 143.42 L442.01 143.13 L441.75 142.73 L441.43 142.24 L441.05 141.67 L440.59 141.03 L440.06 140.34 L439.50 139.69 L438.99 139.17 L438.50 138.71 L437.98 138.24 L437.43 137.77 L436.86 137.31 L436.27 136.85 L435.66 136.40 L435.04 135.96 L434.41 135.53 L433.77 135.12 L433.13 134.73 L432.50 134.38 L431.90 134.08 L431.32 133.80 L430.74 133.53 L430.16 133.27 L429.57 133.02 L428.97 132.78 L428.36 132.55 L427.74 132.34 L427.11 132.16 L426.47 131.99 L425.82 131.84 L425.16 131.73 L424.51 131.64 L423.87 131.57 L423.22 131.51 L422.58 131.47 L421.94 131.43 L421.31 131.41 L420.68 131.40 L420.06 131.39 L419.44 131.39 L418.83 131.37 L418.23 131.35 L417.63 131.31 L417.04 131.22 Z" fill="#ff8a48" opacity="0.9"/>
<path d="M465.40 154.88 L466.21 155.09 L467.07 155.31 L467.96 155.53 L468.87 155.76 L469.81 156.01 L470.77 156.26 L471.75 156.53 L472.76 156.81 L473.78 157.10 L474.82 157.41 L475.87 157.72 L476.92 158.05 L477.98 158.39 L479.04 158.74 L480.13 159.12 L481.29 159.54 L482.50 159.99 L483.75 160.47 L485.02 160.96 L486.29 161.46 L487.55 161.95 L488.77 162.43 L489.94 162.88 L491.04 163.31 L492.07 163.69 L493.01 164.03 L493.84 164.31 L494.58 164.55 L495.23 164.73 L495.81 164.89 L496.32 165.01 L496.77 165.11 L497.16 165.20 L497.51 165.27 L497.83 165.35 L498.16 165.45 L498.53 165.56 L498.98 165.72 L499.52 165.92 L500.08 166.13 L500.66 166.35 L501.23 166.58 L501.82 166.81 L502.40 167.05 L502.98 167.30 L503.57 167.56 L504.14 167.83 L504.71 168.11 L505.27 168.41 L505.82 168.71 L506.38 169.03 L506.96 169.39 L507.56 169.77 L508.17 170.18 L508.78 170.60 L510.56 168.03 L509.99 167.47 L509.42 166.91 L508.85 166.37 L508.28 165.85 L507.72 165.36 L507.15 164.89 L506.58 164.44 L505.99 164.00 L505.40 163.57 L504.81 163.16 L504.21 162.77 L503.62 162.39 L503.03 162.02 L502.46 161.67 L501.89 161.34 L501.34 161.02 L500.79 160.72 L500.24 160.43 L499.73 160.19 L499.25 159.99 L498.80 159.82 L498.39 159.67 L498.01 159.53 L497.63 159.38 L497.24 159.23 L496.81 159.05 L496.31 158.83 L495.72 158.57 L495.03 158.26 L494.21 157.88 L493.27 157.45 L492.22 156.98 L491.09 156.49 L489.88 155.99 L488.63 155.50 L487.33 155.02 L486.02 154.57 L484.70 154.16 L483.40 153.79 L482.13 153.46 L480.92 153.19 L479.75 152.96 L478.59 152.77 L477.43 152.60 L476.29 152.46 L475.16 152.34 L474.05 152.24 L472.96 152.16 L471.89 152.10 L470.85 152.05 L469.83 152.02 L468.85 151.99 L467.91 151.98 L467.01 151.96 L466.17 151.94 Z" fill="#ff8a48" opacity="0.9"/>
<path d="M502.98 167.30 L503.57 167.56 L504.14 167.83 L504.71 168.11 L505.27 168.41 L505.82 168.71 L506.38 169.03 L506.96 169.39 L507.56 169.77 L508.17 170.18 L508.78 170.60 L509.40 171.03 L510.00 171.46 L510.59 171.90 L511.17 172.33 L511.72 172.75 L512.24 173.15 L512.72 173.53 L513.15 173.89 L513.53 174.22 L513.89 174.53 L514.22 174.84 L514.54 175.15 L514.85 175.45 L515.15 175.76 L515.46 176.09 L515.77 176.42 L516.09 176.77 L516.44 177.15 L516.78 177.52 L517.12 177.89 L517.45 178.27 L517.79 178.68 L518.14 179.11 L518.50 179.56 L518.87 180.02 L519.24 180.49 L519.63 180.96 L520.02 181.43 L520.42 181.90 L520.84 182.36 L521.25 182.79 L521.62 183.17 L521.98 183.53 L522.34 183.89 L522.70 184.24 L523.08 184.60 L523.47 184.96 L523.88 185.31 L524.31 185.65 L524.76 185.99 L525.24 186.32 L525.75 186.64 L526.26 186.93 L526.77 187.20 L527.28 187.45 L527.80 187.68 L528.33 187.91 L528.88 188.11 L529.44 188.31 L530.02 188.49 L530.61 188.65 L531.21 188.80 L531.84 188.94 L532.49 189.06 L533.17 189.17 L533.89 189.26 L534.64 189.34 L534.89 186.33 L534.25 186.11 L533.66 185.80 L533.12 185.45 L532.62 185.08 L532.17 184.69 L531.75 184.29 L531.37 183.89 L531.02 183.48 L530.71 183.07 L530.42 182.66 L530.16 182.25 L529.92 181.85 L529.69 181.44 L529.48 181.03 L529.33 180.65 L529.21 180.30 L529.10 179.95 L529.01 179.61 L528.91 179.27 L528.80 178.92 L528.68 178.56 L528.54 178.17 L528.38 177.77 L528.19 177.34 L527.98 176.88 L527.79 176.44 L527.64 176.05 L527.50 175.66 L527.33 175.23 L527.14 174.77 L526.91 174.28 L526.66 173.77 L526.38 173.24 L526.08 172.69 L525.74 172.12 L525.38 171.55 L524.97 170.97 L524.57 170.42 L524.22 169.97 L523.91 169.57 L523.58 169.17 L523.24 168.76 L522.86 168.35 L522.46 167.93 L522.02 167.51 L521.53 167.08 L521.01 166.67 L520.44 166.27 L519.82 165.90 L519.15 165.55 L518.45 165.26 L517.70 165.00 L516.89 164.77 L516.02 164.58 L515.11 164.42 L514.16 164.31 L513.18 164.24 L512.18 164.20 L511.19 164.20 L510.20 164.22 L509.24 164.26 L508.31 164.32 L507.42 164.39 L506.56 164.47 L505.73 164.53 L504.94 164.56 L504.21 164.52 Z" fill="#ff8a48" opacity="0.9"/>
<path d="M516.09 176.77 L516.44 177.15 L516.78 177.52 L517.12 177.89 L517.45 178.27 L517.79 178.68 L518.14 179.11 L518.50 179.56 L518.87 180.02 L519.24 180.49 L519.63 180.96 L520.02 181.43 L520.42 181.90 L520.84 182.36 L521.25 182.79 L521.62 183.17 L521.98 183.53 L522.34 183.89 L522.70 184.24 L523.08 184.60 L523.47 184.96 L523.88 185.31 L524.31 185.65 L524.76 185.99 L525.24 186.32 L525.75 186.64 L526.26 186.93 L526.77 187.20 L527.28 187.45 L527.80 187.68 L528.33 187.91 L528.88 188.11 L529.44 188.31 L530.02 188.49 L530.61 188.65 L531.21 188.80 L531.84 188.94 L532.49 189.06 L533.17 189.17 L533.89 189.26 L534.64 189.34 L535.40 189.39 L536.17 189.43 L536.94 189.45 L537.72 189.47 L538.50 189.48 L539.28 189.48 L540.04 189.48 L540.80 189.49 L541.53 189.49 L542.26 189.50 L543.02 189.51 L543.79 189.51 L544.55 189.50 L545.32 189.50 L546.08 189.49 L546.83 189.47 L547.57 189.47 L548.29 189.46 L549.00 189.46 L549.68 189.46 L550.34 189.48 L550.98 189.50 L551.63 189.53 L552.27 189.55 L552.89 189.58 L553.48 189.61 L554.05 189.64 L554.61 189.68 L555.15 189.73 L555.68 189.79 L556.20 189.85 L556.72 189.93 L557.23 190.02 L557.81 187.02 L557.24 186.76 L556.66 186.51 L556.08 186.28 L555.50 186.06 L554.91 185.86 L554.31 185.66 L553.71 185.46 L553.09 185.27 L552.47 185.09 L551.83 184.90 L551.17 184.71 L550.47 184.53 L549.75 184.35 L549.01 184.18 L548.26 184.02 L547.51 183.87 L546.75 183.73 L545.99 183.59 L545.24 183.46 L544.50 183.34 L543.77 183.22 L543.06 183.10 L542.34 182.99 L541.60 182.88 L540.83 182.79 L540.06 182.70 L539.30 182.62 L538.56 182.56 L537.83 182.49 L537.13 182.43 L536.45 182.38 L535.82 182.32 L535.23 182.27 L534.69 182.21 L534.19 182.15 L533.71 182.08 L533.24 182.02 L532.80 181.97 L532.37 181.91 L531.97 181.86 L531.57 181.80 L531.19 181.75 L530.81 181.68 L530.44 181.62 L530.06 181.54 L529.68 181.46 L529.30 181.37 L528.95 181.28 L528.62 181.19 L528.29 181.09 L527.96 180.96 L527.62 180.82 L527.27 180.65 L526.91 180.46 L526.54 180.26 L526.15 180.03 L525.74 179.78 L525.32 179.52 L524.89 179.26 L524.46 179.00 L524.03 178.72 L523.59 178.40 L523.13 178.07 L522.67 177.72 L522.20 177.35 L521.72 176.98 L521.24 176.61 L520.75 176.24 L520.26 175.88 L519.78 175.54 L519.30 175.23 L518.83 174.94 L518.39 174.66 Z" fill="#ff8a48" opacity="0.9"/>
<path d="M111.67 93.57 L112.58 93.71 L113.49 93.87 L114.40 94.04 L115.30 94.23 L116.21 94.45 L117.13 94.69 L118.06 94.96 L118.99 95.23 L119.94 95.53 L120.89 95.84 L121.85 96.15 L122.82 96.47 L123.80 96.80 L124.78 97.13 L125.76 97.45 L126.72 97.77 L127.69 98.10 L128.67 98.45 L129.66 98.81 L130.67 99.17 L131.67 99.54 L132.67 99.91 L133.67 100.27 L134.65 100.62 L135.63 100.96 L136.59 101.27 L137.52 101.57 L138.43 101.84 L139.33 102.10 L140.22 102.34 L141.09 102.58 L141.94 102.80 L142.78 103.00 L143.59 103.20 L144.37 103.38 L145.12 103.54 L145.84 103.69 L146.52 103.83 L147.15 103.95 L147.72 104.05 L148.25 104.15 L148.74 104.23 L149.21 104.29 L149.66 104.35 L150.12 104.39 L150.57 104.41 L151.01 104.41 L151.46 104.40 L151.91 104.37 L152.35 104.33 L152.81 104.27 L153.30 104.20 L153.79 104.10 L154.27 103.99 L154.74 103.87 L155.20 103.73 L155.66 103.58 L156.11 103.42 L156.57 103.25 L157.02 103.07 L157.49 102.88 L157.97 102.67 L158.50 102.45 L159.08 102.19 L159.68 101.91 L160.30 101.60 L160.92 101.28 L161.55 100.96 L162.19 100.63 L160.78 97.92 L160.01 97.99 L159.24 97.99 L158.47 97.94 L157.72 97.85 L157.03 97.73 L156.38 97.58 L155.76 97.42 L155.17 97.28 L154.63 97.13 L154.13 96.97 L153.68 96.80 L153.28 96.63 L152.92 96.44 L152.60 96.25 L152.32 96.04 L152.06 95.83 L151.83 95.61 L151.58 95.38 L151.32 95.17 L151.13 94.97 L151.01 94.79 L150.93 94.61 L150.88 94.44 L150.82 94.27 L150.73 94.10 L150.57 93.92 L150.35 93.73 L150.04 93.53 L149.65 93.32 L149.18 93.11 L148.66 92.91 L148.10 92.73 L147.48 92.59 L146.83 92.46 L146.13 92.32 L145.41 92.19 L144.65 92.06 L143.87 91.93 L143.08 91.81 L142.26 91.69 L141.44 91.58 L140.62 91.48 L139.79 91.38 L138.91 91.27 L137.97 91.16 L136.97 91.04 L135.94 90.92 L134.87 90.80 L133.77 90.69 L132.65 90.59 L131.51 90.51 L130.37 90.43 L129.22 90.38 L128.10 90.35 L127.03 90.34 L125.96 90.33 L124.88 90.33 L123.78 90.32 L122.69 90.31 L121.59 90.31 L120.49 90.32 L119.40 90.33 L118.31 90.36 L117.23 90.39 L116.17 90.43 L115.12 90.49 L114.10 90.54 L113.09 90.59 L112.10 90.59 Z" fill="#ff0a0a"/>
<path d="M196.92 94.83 L197.47 94.93 L198.01 95.05 L198.55 95.17 L199.08 95.31 L199.60 95.47 L200.12 95.64 L200.63 95.82 L201.15 96.03 L201.68 96.27 L202.23 96.52 L202.79 96.80 L203.36 97.10 L203.94 97.41 L204.54 97.73 L205.14 98.06 L205.76 98.39 L206.38 98.73 L206.99 99.05 L207.57 99.36 L208.14 99.67 L208.72 100.01 L209.31 100.36 L209.92 100.71 L210.54 101.08 L211.17 101.44 L211.81 101.81 L212.47 102.17 L213.14 102.51 L213.82 102.85 L214.51 103.15 L215.16 103.43 L215.80 103.69 L216.44 103.94 L217.10 104.19 L217.76 104.43 L218.44 104.65 L219.12 104.86 L219.81 105.05 L220.52 105.22 L221.23 105.37 L221.96 105.49 L222.70 105.58 L223.45 105.64 L224.20 105.66 L224.93 105.65 L225.64 105.61 L226.34 105.55 L227.02 105.48 L227.69 105.38 L228.34 105.28 L228.98 105.18 L228.47 102.18 L227.84 102.16 L227.21 102.07 L226.58 101.92 L225.95 101.70 L225.35 101.42 L224.77 101.09 L224.23 100.71 L223.73 100.29 L223.28 99.85 L222.85 99.38 L222.44 98.90 L222.05 98.42 L221.66 97.94 L221.27 97.49 L220.87 97.05 L220.45 96.63 L220.01 96.25 L219.55 95.90 L219.06 95.58 L218.53 95.30 L218.00 95.08 L217.53 94.90 L217.05 94.72 L216.53 94.54 L215.96 94.35 L215.35 94.15 L214.70 93.95 L214.03 93.75 L213.31 93.55 L212.58 93.36 L211.81 93.19 L211.03 93.03 L210.26 92.90 L209.53 92.82 L208.81 92.74 L208.08 92.66 L207.33 92.57 L206.58 92.49 L205.81 92.40 L205.05 92.32 L204.30 92.24 L203.54 92.18 L202.80 92.12 L202.07 92.08 L201.36 92.04 L200.67 92.02 L200.00 92.01 L199.34 91.99 L198.70 91.96 L198.07 91.92 L197.45 91.86 Z" fill="#ff0a0a"/>
<path d="M271.21 102.59 L271.76 102.80 L272.32 103.02 L272.87 103.26 L273.42 103.50 L273.96 103.76 L274.51 104.04 L275.05 104.32 L275.56 104.62 L276.09 104.95 L276.63 105.31 L277.19 105.71 L277.77 106.12 L278.35 106.56 L278.96 107.01 L279.57 107.47 L280.20 107.94 L280.84 108.41 L281.49 108.87 L282.14 109.30 L282.76 109.71 L283.38 110.11 L284.00 110.53 L284.64 110.95 L285.29 111.37 L285.94 111.79 L286.60 112.20 L287.26 112.60 L287.93 112.98 L288.60 113.34 L289.27 113.67 L289.95 113.97 L290.60 114.22 L291.23 114.44 L291.86 114.63 L292.47 114.78 L293.06 114.91 L293.65 115.01 L294.22 115.08 L294.78 115.13 L295.32 115.17 L295.86 115.19 L296.38 115.20 L296.92 115.20 L297.50 115.19 L298.09 115.15 L298.66 115.10 L299.23 115.03 L299.78 114.94 L300.32 114.85 L300.85 114.74 L301.38 114.62 L301.91 114.50 L302.44 114.38 L301.73 111.44 L301.20 111.49 L300.68 111.49 L300.17 111.46 L299.66 111.40 L299.17 111.31 L298.68 111.19 L298.22 111.03 L297.76 110.85 L297.32 110.64 L296.89 110.41 L296.44 110.15 L296.01 109.90 L295.61 109.63 L295.23 109.36 L294.89 109.08 L294.57 108.79 L294.27 108.49 L293.99 108.18 L293.72 107.87 L293.45 107.54 L293.18 107.20 L292.91 106.86 L292.63 106.50 L292.31 106.12 L291.95 105.72 L291.54 105.30 L291.08 104.87 L290.59 104.44 L290.05 104.02 L289.47 103.60 L288.86 103.20 L288.21 102.82 L287.52 102.48 L286.85 102.20 L286.22 101.98 L285.57 101.78 L284.88 101.58 L284.13 101.37 L283.35 101.16 L282.54 100.96 L281.70 100.76 L280.84 100.58 L279.97 100.42 L279.10 100.29 L278.23 100.18 L277.38 100.11 L276.56 100.08 L275.78 100.05 L275.02 100.03 L274.29 100.00 L273.58 99.96 L272.90 99.88 L272.25 99.76 Z" fill="#ff0a0a"/>
<path d="M327.78 112.37 L328.37 112.52 L328.96 112.67 L329.54 112.82 L330.10 112.98 L330.64 113.13 L331.15 113.28 L331.61 113.42 L332.03 113.55 L332.42 113.69 L332.80 113.82 L333.16 113.96 L333.54 114.11 L333.92 114.26 L334.32 114.43 L334.74 114.60 L335.19 114.79 L335.68 114.99 L336.20 115.19 L336.73 115.40 L337.28 115.62 L337.86 115.85 L338.46 116.09 L339.07 116.34 L339.70 116.60 L340.34 116.86 L340.98 117.12 L341.63 117.37 L342.28 117.63 L342.92 117.87 L343.56 118.11 L344.19 118.34 L344.82 118.57 L345.44 118.79 L346.07 119.00 L346.68 119.21 L347.30 119.41 L347.91 119.62 L348.52 119.82 L349.12 120.02 L349.72 120.22 L350.32 120.43 L350.91 120.63 L351.50 120.84 L352.10 121.05 L352.70 121.27 L353.30 121.49 L353.91 121.71 L354.52 121.94 L355.14 122.16 L355.75 122.38 L356.38 122.60 L357.00 122.82 L357.63 123.04 L358.26 123.25 L358.89 123.45 L359.52 123.65 L360.15 123.85 L360.77 124.04 L361.39 124.22 L362.00 124.40 L362.61 124.58 L363.22 124.76 L363.83 124.94 L364.44 125.12 L365.04 125.29 L365.63 125.47 L366.23 125.65 L366.82 125.84 L367.42 126.03 L368.03 126.22 L368.64 126.41 L369.25 126.61 L369.88 126.80 L370.50 126.99 L371.13 127.18 L371.77 127.36 L372.41 127.54 L373.06 127.71 L373.70 127.87 L374.34 128.02 L374.97 128.16 L375.60 128.30 L376.23 128.43 L376.86 128.56 L377.49 128.68 L378.11 128.80 L378.73 128.92 L379.35 129.03 L379.96 129.14 L380.58 129.25 L381.20 129.36 L381.82 129.47 L382.44 129.57 L383.07 129.67 L383.69 129.77 L384.31 129.86 L384.93 129.95 L385.55 130.04 L386.16 130.13 L386.78 130.21 L387.40 130.29 L388.02 130.38 L388.64 130.45 L389.26 130.53 L389.62 127.53 L389.02 127.40 L388.42 127.25 L387.82 127.11 L387.22 126.95 L386.63 126.79 L386.03 126.63 L385.43 126.46 L384.84 126.29 L384.25 126.12 L383.65 125.94 L383.06 125.76 L382.47 125.57 L381.88 125.39 L381.30 125.19 L380.71 125.00 L380.12 124.80 L379.53 124.61 L378.94 124.41 L378.36 124.21 L377.77 124.01 L377.19 123.80 L376.61 123.59 L376.04 123.38 L375.47 123.16 L374.89 122.94 L374.33 122.72 L373.77 122.49 L373.21 122.26 L372.64 122.02 L372.07 121.77 L371.50 121.52 L370.93 121.27 L370.35 121.01 L369.76 120.75 L369.17 120.50 L368.57 120.24 L367.97 119.99 L367.36 119.74 L366.76 119.51 L366.16 119.27 L365.56 119.04 L364.96 118.82 L364.37 118.59 L363.78 118.37 L363.19 118.16 L362.60 117.94 L362.02 117.73 L361.44 117.51 L360.86 117.30 L360.29 117.09 L359.72 116.87 L359.14 116.65 L358.56 116.43 L357.97 116.20 L357.38 115.97 L356.78 115.75 L356.18 115.52 L355.57 115.29 L354.95 115.07 L354.33 114.85 L353.71 114.64 L353.08 114.43 L352.44 114.24 L351.81 114.05 L351.18 113.88 L350.56 113.71 L349.93 113.55 L349.31 113.40 L348.69 113.25 L348.07 113.11 L347.46 112.96 L346.84 112.83 L346.23 112.69 L345.62 112.55 L345.00 112.41 L344.36 112.26 L343.70 112.11 L343.04 111.95 L342.37 111.80 L341.71 111.65 L341.04 111.49 L340.38 111.35 L339.74 111.21 L339.11 111.07 L338.50 110.94 L337.92 110.83 L337.38 110.72 L336.89 110.62 L336.42 110.52 L335.97 110.43 L335.52 110.33 L335.08 110.24 L334.64 110.15 L334.19 110.07 L333.73 109.99 L333.24 109.91 L332.73 109.84 L332.18 109.78 L331.61 109.72 L331.02 109.66 L330.40 109.60 L329.77 109.54 L329.13 109.47 L328.49 109.41 Z" fill="#ff0a0a"/>
<path d="M421.70 136.77 L422.06 137.03 L422.41 137.28 L422.74 137.55 L423.07 137.82 L423.39 138.10 L423.71 138.40 L424.04 138.71 L424.37 139.04 L424.71 139.38 L425.06 139.75 L425.42 140.13 L425.79 140.53 L426.15 140.93 L426.53 141.36 L426.92 141.82 L427.31 142.30 L427.71 142.79 L428.12 143.29 L428.51 143.80 L428.91 144.31 L429.30 144.82 L429.67 145.32 L430.04 145.81 L430.36 146.25 L430.64 146.64 L430.89 147.03 L431.13 147.45 L431.38 147.89 L431.64 148.35 L431.91 148.84 L432.21 149.35 L432.52 149.87 L432.88 150.41 L433.29 150.95 L433.75 151.49 L434.26 152.00 L434.74 152.42 L435.22 152.80 L435.72 153.17 L436.23 153.51 L436.76 153.84 L437.32 154.13 L437.89 154.41 L438.48 154.66 L439.08 154.88 L439.70 155.07 L440.34 155.23 L441.01 155.36 L441.70 155.45 L442.41 155.50 L443.09 155.51 L443.75 155.48 L444.39 155.43 L445.02 155.37 L445.64 155.29 L446.25 155.21 L446.87 155.12 L447.49 155.04 L448.13 154.96 L448.83 154.88 L449.62 154.79 L450.49 154.68 L451.37 154.55 L452.26 154.41 L453.17 154.27 L454.07 154.13 L454.97 154.00 L455.85 153.89 L456.69 153.80 L457.50 153.73 L457.30 150.67 L456.39 150.58 L455.44 150.45 L454.47 150.30 L453.48 150.12 L452.50 149.93 L451.54 149.73 L450.61 149.51 L449.73 149.29 L448.92 149.07 L448.16 148.84 L447.40 148.63 L446.64 148.45 L445.93 148.29 L445.28 148.14 L444.68 148.00 L444.14 147.86 L443.68 147.72 L443.28 147.57 L442.97 147.42 L442.73 147.27 L442.55 147.12 L442.41 146.97 L442.23 146.81 L442.05 146.66 L441.88 146.51 L441.72 146.37 L441.57 146.23 L441.42 146.09 L441.28 145.95 L441.12 145.82 L440.97 145.68 L440.81 145.53 L440.64 145.37 L440.52 145.26 L440.50 145.24 L440.47 145.22 L440.38 145.13 L440.24 144.96 L440.04 144.71 L439.79 144.38 L439.51 143.98 L439.17 143.51 L438.79 142.99 L438.34 142.43 L437.83 141.83 L437.29 141.28 L436.76 140.82 L436.24 140.40 L435.68 139.98 L435.09 139.57 L434.48 139.16 L433.85 138.76 L433.21 138.37 L432.55 138.00 L431.89 137.64 L431.24 137.31 L430.59 136.99 L429.96 136.71 L429.36 136.46 L428.78 136.22 L428.21 135.99 L427.65 135.77 L427.10 135.56 L426.56 135.36 L426.02 135.16 L425.49 134.98 L424.97 134.80 L424.45 134.62 L423.94 134.44 L423.44 134.25 Z" fill="#ff0a0a"/>
<path d="M471.75 156.53 L472.76 156.81 L473.78 157.10 L474.82 157.41 L475.87 157.72 L476.92 158.05 L477.98 158.39 L479.04 158.74 L480.13 159.12 L481.29 159.54 L482.50 159.99 L483.75 160.47 L485.02 160.96 L486.29 161.46 L487.55 161.95 L488.77 162.43 L489.94 162.88 L491.04 163.31 L492.07 163.69 L493.01 164.03 L493.84 164.31 L494.58 164.55 L495.23 164.73 L495.81 164.89 L496.32 165.01 L496.77 165.11 L497.16 165.20 L497.51 165.27 L497.83 165.35 L498.16 165.45 L498.53 165.56 L498.98 165.72 L499.52 165.92 L500.08 166.13 L500.66 166.35 L501.23 166.58 L501.82 166.81 L502.40 167.05 L502.98 167.30 L503.57 167.56 L504.82 164.82 L504.22 164.49 L503.61 164.18 L503.01 163.87 L502.42 163.58 L501.83 163.30 L501.25 163.03 L500.69 162.77 L500.14 162.52 L499.62 162.30 L499.15 162.12 L498.72 161.97 L498.32 161.84 L497.93 161.73 L497.54 161.61 L497.14 161.50 L496.70 161.36 L496.21 161.20 L495.65 161.01 L495.00 160.77 L494.25 160.48 L493.38 160.13 L492.41 159.72 L491.33 159.28 L490.18 158.81 L488.97 158.32 L487.72 157.83 L486.43 157.34 L485.14 156.87 L483.85 156.42 L482.58 156.00 L481.36 155.63 L480.20 155.30 L479.08 155.00 L477.97 154.73 L476.86 154.47 L475.76 154.23 L474.68 154.00 L473.61 153.79 L472.56 153.59 Z" fill="#ff0a0a"/>
<path d="M508.78 170.60 L509.40 171.03 L510.00 171.46 L510.59 171.90 L511.17 172.33 L511.72 172.75 L512.24 173.15 L512.72 173.53 L513.15 173.89 L513.53 174.22 L513.89 174.53 L514.22 174.84 L514.54 175.15 L514.85 175.45 L515.15 175.76 L515.46 176.09 L515.77 176.42 L516.09 176.77 L516.44 177.15 L516.78 177.52 L517.12 177.89 L517.45 178.27 L517.79 178.68 L518.14 179.11 L518.50 179.56 L518.87 180.02 L519.24 180.49 L519.63 180.96 L520.02 181.43 L520.42 181.90 L520.84 182.36 L521.25 182.79 L521.62 183.17 L521.98 183.53 L522.34 183.89 L522.70 184.24 L523.08 184.60 L523.47 184.96 L523.88 185.31 L524.31 185.65 L524.76 185.99 L525.24 186.32 L525.75 186.64 L526.26 186.93 L526.77 187.20 L527.28 187.45 L527.80 187.68 L529.00 184.93 L528.60 184.65 L528.24 184.30 L527.91 183.92 L527.61 183.52 L527.35 183.11 L527.13 182.70 L526.93 182.29 L526.74 181.87 L526.57 181.44 L526.41 181.01 L526.24 180.56 L526.07 180.10 L525.90 179.63 L525.71 179.13 L525.53 178.64 L525.37 178.16 L525.22 177.67 L525.05 177.17 L524.87 176.64 L524.67 176.10 L524.45 175.54 L524.21 174.98 L523.95 174.41 L523.67 173.84 L523.35 173.26 L523.01 172.70 L522.66 172.16 L522.34 171.70 L522.05 171.29 L521.74 170.88 L521.41 170.48 L521.06 170.09 L520.68 169.69 L520.26 169.30 L519.78 168.94 L519.25 168.62 L518.65 168.33 L517.98 168.10 L517.24 167.93 L516.42 167.84 L515.54 167.80 L514.59 167.81 L513.59 167.86 L512.57 167.93 L511.57 167.97 L510.62 167.94 Z" fill="#ff0a0a"/>
<path d="M521.98 183.53 L522.34 183.89 L522.70 184.24 L523.08 184.60 L523.47 184.96 L523.88 185.31 L524.31 185.65 L524.76 185.99 L525.24 186.32 L525.75 186.64 L526.26 186.93 L526.77 187.20 L527.28 187.45 L527.80 187.68 L528.33 187.91 L528.88 188.11 L529.44 188.31 L530.02 188.49 L530.61 188.65 L531.21 188.80 L531.84 188.94 L532.49 189.06 L533.17 189.17 L533.89 189.26 L534.64 189.34 L535.40 189.39 L536.17 189.43 L536.94 189.45 L537.72 189.47 L538.50 189.48 L539.28 189.48 L540.04 189.48 L540.80 189.49 L541.53 189.49 L542.26 189.50 L543.02 189.51 L543.79 189.51 L544.55 189.50 L545.32 189.50 L546.08 189.49 L546.83 189.47 L547.57 189.47 L548.29 189.46 L549.00 189.46 L549.68 189.46 L550.34 189.48 L550.98 189.50 L551.63 189.53 L551.76 186.49 L551.10 186.37 L550.42 186.26 L549.72 186.15 L549.00 186.04 L548.27 185.95 L547.53 185.86 L546.78 185.77 L546.02 185.69 L545.27 185.61 L544.52 185.53 L543.78 185.46 L543.04 185.38 L542.31 185.30 L541.57 185.23 L540.82 185.16 L540.06 185.10 L539.29 185.05 L538.54 185.00 L537.79 184.95 L537.06 184.91 L536.35 184.86 L535.67 184.81 L535.02 184.76 L534.41 184.69 L533.83 184.62 L533.28 184.55 L532.74 184.47 L532.23 184.40 L531.74 184.33 L531.26 184.26 L530.80 184.18 L530.34 184.09 L529.89 184.00 L529.45 183.89 L529.01 183.78 L528.56 183.66 L528.12 183.53 L527.69 183.39 L527.28 183.23 L526.87 183.06 L526.48 182.87 L526.09 182.66 L525.70 182.43 L525.31 182.19 L524.92 181.94 L524.52 181.67 L524.12 181.39 Z" fill="#ff0a0a"/>
</g>
</g>
<g filter="url(#blur15)">
<ellipse cx="156" cy="85" rx="10" ry="12" fill="#5cc8e0" opacity="0.55"/>
<ellipse cx="154" cy="89" rx="7" ry="6.5" fill="#2a94e6" opacity="0.9"/>
<ellipse cx="159" cy="79" rx="6" ry="5.5" fill="#50c4e8" opacity="0.8"/>
<ellipse cx="164" cy="82" rx="2.5" ry="2" fill="#f0b070" opacity="0.6"/>
<ellipse cx="228" cy="90" rx="9" ry="10" fill="#5ccce0" opacity="0.8"/>
<ellipse cx="227" cy="93" rx="5" ry="4" fill="#48b4e4" opacity="0.6"/>
<ellipse cx="299" cy="100" rx="8" ry="5.5" fill="#4cc0e6" opacity="0.6"/>
<ellipse cx="298" cy="100" rx="5" ry="3.5" fill="#1a88e6" opacity="0.95"/>
<ellipse cx="379" cy="117" rx="10" ry="4.5" fill="#50c4e6" opacity="0.5"/>
<ellipse cx="377" cy="117" rx="6" ry="2.6" fill="#1a88e6" opacity="0.95"/>
<ellipse cx="447" cy="141" rx="8" ry="6" fill="#50c4e6" opacity="0.6"/>
<ellipse cx="446" cy="141" rx="5" ry="3.5" fill="#1a80e8" opacity="0.95"/>
<ellipse cx="536" cy="170" rx="9" ry="6.5" fill="#3c9ce8" opacity="0.6"/>
<ellipse cx="534" cy="170" rx="6.5" ry="4.5" fill="#4462ea" opacity="0.95"/>
<ellipse cx="550" cy="164" rx="8" ry="3" fill="#60d0e4" opacity="0.6"/>
<ellipse cx="501" cy="89" rx="7" ry="2.5" fill="#60c8e8" opacity="0.8"/>
</g>
<g fill="none" stroke="#f2bc78" stroke-linecap="round" opacity="0.6" filter="url(#blur05)">
<path d="M151.5 64.0 L148.0 80.0 L146.0 96.0" stroke-width="2.2"/>
<path d="M227.5 69.0 L223.0 82.0 L219.0 96.0" stroke-width="2.2"/>
<path d="M297.5 78.0 L294.0 90.0 L291.0 103.0" stroke-width="2.2"/>
<path d="M375.5 95.0 L371.0 106.0 L366.5 118.0" stroke-width="2.2"/>
<path d="M450.0 117.0 L447.0 125.0 L444.0 133.0" stroke-width="2.2"/>
<path d="M538.0 150.0 L533.0 160.0 L527.0 172.0" stroke-width="2.2"/>
</g>
<g fill="#000"><ellipse cx="152" cy="67.00" rx="1.68" ry="1.52"/><ellipse cx="154.5" cy="67.50" rx="1.26" ry="1.14"/><ellipse cx="153" cy="70.00" rx="1.37" ry="1.23"/><ellipse cx="152" cy="73.00" rx="1.47" ry="1.33"/><ellipse cx="151.5" cy="76.00" rx="1.26" ry="1.14"/><ellipse cx="151" cy="78.50" rx="1.37" ry="1.23"/><ellipse cx="151.5" cy="81.00" rx="1.37" ry="1.23"/><ellipse cx="150" cy="82.50" rx="1.47" ry="1.33"/><ellipse cx="153" cy="82.50" rx="1.16" ry="1.04"/><ellipse cx="155" cy="67.50" rx="1.26" ry="1.14"/><ellipse cx="157.5" cy="67.80" rx="1.05" ry="0.95"/><ellipse cx="160" cy="67.50" rx="1.16" ry="1.04"/><ellipse cx="162.5" cy="67.20" rx="1.05" ry="0.95"/><ellipse cx="165" cy="67.00" rx="1.16" ry="1.04"/><ellipse cx="168" cy="67.40" rx="1.16" ry="1.04"/><ellipse cx="171" cy="67.00" rx="1.16" ry="1.04"/><ellipse cx="157" cy="59.50" rx="0.73" ry="0.66"/><ellipse cx="160" cy="59.50" rx="0.73" ry="0.66"/><ellipse cx="164" cy="60.00" rx="0.73" ry="0.66"/><ellipse cx="146" cy="83.50" rx="0.95" ry="0.85"/><ellipse cx="143" cy="84.00" rx="0.95" ry="0.85"/><ellipse cx="140" cy="84.50" rx="0.84" ry="0.76"/><ellipse cx="137" cy="85.00" rx="0.84" ry="0.76"/><ellipse cx="97" cy="63.50" rx="0.95" ry="0.85"/><ellipse cx="124" cy="73.00" rx="1.05" ry="0.95"/><ellipse cx="86" cy="82.00" rx="0.84" ry="0.76"/><ellipse cx="90" cy="83.00" rx="0.84" ry="0.76"/><ellipse cx="165" cy="75.00" rx="0.84" ry="0.76"/><ellipse cx="168" cy="76.00" rx="0.84" ry="0.76"/><ellipse cx="177" cy="76.00" rx="0.84" ry="0.76"/><ellipse cx="180" cy="77.00" rx="0.84" ry="0.76"/><ellipse cx="178" cy="85.00" rx="0.84" ry="0.76"/><ellipse cx="181" cy="85.00" rx="0.84" ry="0.76"/><ellipse cx="193" cy="88.00" rx="0.84" ry="0.76"/><ellipse cx="150" cy="88.00" rx="0.73" ry="0.66"/><ellipse cx="132" cy="21.90" rx="0.84" ry="0.76"/><ellipse cx="137.5" cy="22.20" rx="0.84" ry="0.76"/><ellipse cx="139.6" cy="21.70" rx="0.84" ry="0.76"/><ellipse cx="183.4" cy="24.50" rx="0.84" ry="0.76"/><ellipse cx="190.4" cy="25.60" rx="0.84" ry="0.76"/><ellipse cx="240" cy="28.50" rx="0.73" ry="0.66"/><ellipse cx="253" cy="30.50" rx="0.73" ry="0.66"/><ellipse cx="262" cy="31.50" rx="0.63" ry="0.57"/><ellipse cx="227" cy="70.00" rx="1.68" ry="1.52"/><ellipse cx="228.5" cy="72.00" rx="1.58" ry="1.42"/><ellipse cx="227" cy="74.50" rx="1.58" ry="1.42"/><ellipse cx="226.5" cy="77.00" rx="1.47" ry="1.33"/><ellipse cx="225.5" cy="80.00" rx="1.37" ry="1.23"/><ellipse cx="224.5" cy="83.00" rx="1.26" ry="1.14"/><ellipse cx="223" cy="86.00" rx="1.26" ry="1.14"/><ellipse cx="222" cy="89.00" rx="1.16" ry="1.04"/><ellipse cx="221" cy="91.50" rx="1.16" ry="1.04"/><ellipse cx="219.5" cy="93.50" rx="1.05" ry="0.95"/><ellipse cx="234" cy="66.00" rx="0.84" ry="0.76"/><ellipse cx="236" cy="71.00" rx="0.84" ry="0.76"/><ellipse cx="238" cy="72.00" rx="0.84" ry="0.76"/><ellipse cx="241" cy="72.00" rx="0.84" ry="0.76"/><ellipse cx="240" cy="82.00" rx="0.84" ry="0.76"/><ellipse cx="247" cy="80.00" rx="0.84" ry="0.76"/><ellipse cx="208" cy="89.00" rx="0.84" ry="0.76"/><ellipse cx="236" cy="88.00" rx="0.84" ry="0.76"/><ellipse cx="234" cy="96.00" rx="0.95" ry="0.85"/><ellipse cx="229" cy="75.00" rx="0.73" ry="0.66"/><ellipse cx="296.2" cy="80.90" rx="1.05" ry="0.95"/><ellipse cx="300.3" cy="84.10" rx="1.68" ry="1.52"/><ellipse cx="298.5" cy="83.00" rx="1.05" ry="0.95"/><ellipse cx="296" cy="89.60" rx="1.47" ry="1.33"/><ellipse cx="299" cy="90.00" rx="1.16" ry="1.04"/><ellipse cx="291.5" cy="93.50" rx="1.05" ry="0.95"/><ellipse cx="300.5" cy="93.30" rx="0.95" ry="0.85"/><ellipse cx="309.5" cy="85.70" rx="1.05" ry="0.95"/><ellipse cx="317" cy="92.00" rx="1.05" ry="0.95"/><ellipse cx="293" cy="91.00" rx="0.84" ry="0.76"/><ellipse cx="354" cy="65.50" rx="0.95" ry="0.85"/><ellipse cx="358" cy="65.50" rx="0.95" ry="0.85"/><ellipse cx="361" cy="64.50" rx="1.16" ry="1.04"/><ellipse cx="302" cy="49.00" rx="0.73" ry="0.66"/><ellipse cx="396" cy="67.00" rx="0.84" ry="0.76"/><ellipse cx="398" cy="67.00" rx="0.84" ry="0.76"/><ellipse cx="304" cy="38.00" rx="0.73" ry="0.66"/><ellipse cx="316.5" cy="42.00" rx="0.73" ry="0.66"/><ellipse cx="323" cy="43.00" rx="0.73" ry="0.66"/><ellipse cx="337" cy="44.00" rx="0.73" ry="0.66"/><ellipse cx="343" cy="46.50" rx="0.73" ry="0.66"/><ellipse cx="350.5" cy="48.00" rx="0.73" ry="0.66"/><ellipse cx="359" cy="50.00" rx="0.73" ry="0.66"/><ellipse cx="361" cy="50.50" rx="0.73" ry="0.66"/><ellipse cx="365.5" cy="51.50" rx="0.73" ry="0.66"/><ellipse cx="373" cy="53.50" rx="0.73" ry="0.66"/><ellipse cx="375.5" cy="54.50" rx="0.73" ry="0.66"/><ellipse cx="390" cy="57.00" rx="0.73" ry="0.66"/><ellipse cx="394" cy="58.00" rx="0.73" ry="0.66"/><ellipse cx="397" cy="59.00" rx="0.73" ry="0.66"/><ellipse cx="408" cy="62.50" rx="0.73" ry="0.66"/><ellipse cx="412" cy="63.00" rx="0.73" ry="0.66"/><ellipse cx="375.5" cy="96.50" rx="1.05" ry="0.95"/><ellipse cx="377.5" cy="99.00" rx="1.26" ry="1.14"/><ellipse cx="379" cy="100.00" rx="1.05" ry="0.95"/><ellipse cx="380.5" cy="101.00" rx="1.16" ry="1.04"/><ellipse cx="382" cy="102.50" rx="1.05" ry="0.95"/><ellipse cx="379.5" cy="103.00" rx="0.95" ry="0.85"/><ellipse cx="373.5" cy="105.00" rx="1.16" ry="1.04"/><ellipse cx="372" cy="107.00" rx="1.05" ry="0.95"/><ellipse cx="374" cy="108.00" rx="1.05" ry="0.95"/><ellipse cx="376" cy="108.50" rx="0.95" ry="0.85"/><ellipse cx="367" cy="111.00" rx="0.95" ry="0.85"/><ellipse cx="372" cy="110.00" rx="0.95" ry="0.85"/><ellipse cx="384.5" cy="102.50" rx="0.84" ry="0.76"/><ellipse cx="390" cy="119.70" rx="0.84" ry="0.76"/><ellipse cx="402" cy="121.00" rx="0.84" ry="0.76"/><ellipse cx="391.3" cy="124.40" rx="0.84" ry="0.76"/><ellipse cx="420" cy="126.00" rx="0.84" ry="0.76"/><ellipse cx="437.5" cy="133.50" rx="1.26" ry="1.14"/><ellipse cx="440" cy="133.00" rx="1.26" ry="1.14"/><ellipse cx="442.5" cy="132.50" rx="1.26" ry="1.14"/><ellipse cx="445" cy="132.50" rx="1.26" ry="1.14"/><ellipse cx="447.5" cy="132.00" rx="1.37" ry="1.23"/><ellipse cx="450" cy="133.00" rx="1.37" ry="1.23"/><ellipse cx="438.5" cy="136.00" rx="1.16" ry="1.04"/><ellipse cx="440" cy="138.50" rx="1.05" ry="0.95"/><ellipse cx="441" cy="135.00" rx="1.05" ry="0.95"/><ellipse cx="450.5" cy="123.50" rx="0.95" ry="0.85"/><ellipse cx="453" cy="123.50" rx="0.95" ry="0.85"/><ellipse cx="454.5" cy="124.00" rx="0.95" ry="0.85"/><ellipse cx="452.5" cy="133.50" rx="0.95" ry="0.85"/><ellipse cx="454.5" cy="134.00" rx="0.95" ry="0.85"/><ellipse cx="452.5" cy="136.50" rx="0.84" ry="0.76"/><ellipse cx="455" cy="139.00" rx="0.84" ry="0.76"/><ellipse cx="442" cy="141.00" rx="0.84" ry="0.76"/><ellipse cx="452.5" cy="145.00" rx="0.84" ry="0.76"/><ellipse cx="457.5" cy="143.50" rx="0.84" ry="0.76"/><ellipse cx="495.5" cy="90.50" rx="1.16" ry="1.04"/><ellipse cx="497" cy="91.50" rx="0.95" ry="0.85"/><ellipse cx="498" cy="93.50" rx="0.84" ry="0.76"/><ellipse cx="502.5" cy="100.00" rx="0.84" ry="0.76"/><ellipse cx="507" cy="103.00" rx="1.47" ry="1.33"/><ellipse cx="511" cy="105.00" rx="0.84" ry="0.76"/><ellipse cx="515" cy="109.00" rx="0.84" ry="0.76"/><ellipse cx="513" cy="112.00" rx="0.84" ry="0.76"/><ellipse cx="518" cy="111.00" rx="0.84" ry="0.76"/><ellipse cx="523" cy="117.00" rx="0.84" ry="0.76"/><ellipse cx="538" cy="107.00" rx="0.84" ry="0.76"/><ellipse cx="542" cy="108.50" rx="0.84" ry="0.76"/><ellipse cx="465.5" cy="77.00" rx="0.84" ry="0.76"/><ellipse cx="472.5" cy="81.30" rx="0.84" ry="0.76"/><ellipse cx="475.5" cy="82.80" rx="0.84" ry="0.76"/><ellipse cx="485" cy="86.30" rx="0.84" ry="0.76"/><ellipse cx="489" cy="87.50" rx="0.73" ry="0.66"/><ellipse cx="452.5" cy="73.80" rx="0.84" ry="0.76"/><ellipse cx="430.5" cy="67.50" rx="0.84" ry="0.76"/><ellipse cx="436.5" cy="69.30" rx="0.84" ry="0.76"/><ellipse cx="438.5" cy="79.50" rx="0.84" ry="0.76"/><ellipse cx="576.4" cy="121.30" rx="0.84" ry="0.76"/><ellipse cx="585.5" cy="124.50" rx="0.84" ry="0.76"/><ellipse cx="591.4" cy="126.90" rx="0.84" ry="0.76"/><ellipse cx="470" cy="86.00" rx="0.73" ry="0.66"/><ellipse cx="432" cy="77.00" rx="0.95" ry="0.85"/><ellipse cx="436" cy="85.00" rx="0.73" ry="0.66"/><ellipse cx="526" cy="165.00" rx="0.95" ry="0.85"/><ellipse cx="528" cy="164.00" rx="0.95" ry="0.85"/><ellipse cx="530" cy="163.00" rx="1.05" ry="0.95"/><ellipse cx="533" cy="161.00" rx="1.05" ry="0.95"/><ellipse cx="535" cy="159.50" rx="1.16" ry="1.04"/><ellipse cx="537" cy="158.00" rx="1.26" ry="1.14"/><ellipse cx="539.5" cy="157.00" rx="1.37" ry="1.23"/><ellipse cx="541.5" cy="157.50" rx="1.26" ry="1.14"/><ellipse cx="543.5" cy="157.00" rx="1.05" ry="0.95"/><ellipse cx="546" cy="156.50" rx="0.95" ry="0.85"/><ellipse cx="534" cy="152.00" rx="0.84" ry="0.76"/><ellipse cx="537" cy="155.00" rx="0.84" ry="0.76"/><ellipse cx="547" cy="151.50" rx="0.73" ry="0.66"/><ellipse cx="547" cy="162.00" rx="0.84" ry="0.76"/><ellipse cx="551" cy="163.00" rx="0.84" ry="0.76"/><ellipse cx="552" cy="171.00" rx="0.84" ry="0.76"/><ellipse cx="555" cy="175.00" rx="0.84" ry="0.76"/><ellipse cx="544" cy="160.00" rx="0.73" ry="0.66"/></g>
<g fill="#000"><ellipse cx="151.9" cy="64.50" rx="0.69" ry="0.63"/><ellipse cx="151.4" cy="64.80" rx="0.92" ry="0.84"/><ellipse cx="153.4" cy="65.00" rx="0.70" ry="0.64"/><ellipse cx="152.3" cy="65.90" rx="0.78" ry="0.70"/><ellipse cx="151.7" cy="66.80" rx="0.87" ry="0.79"/><ellipse cx="150.0" cy="67.80" rx="0.81" ry="0.73"/><ellipse cx="153.2" cy="67.40" rx="1.09" ry="0.99"/><ellipse cx="153.4" cy="68.20" rx="0.85" ry="0.77"/><ellipse cx="151.9" cy="68.70" rx="0.77" ry="0.69"/><ellipse cx="151.7" cy="69.50" rx="0.97" ry="0.87"/><ellipse cx="152.6" cy="70.20" rx="1.03" ry="0.93"/><ellipse cx="153.4" cy="70.80" rx="1.12" ry="1.02"/><ellipse cx="151.3" cy="71.20" rx="0.72" ry="0.66"/><ellipse cx="152.6" cy="71.50" rx="0.91" ry="0.83"/><ellipse cx="153.9" cy="72.70" rx="0.96" ry="0.86"/><ellipse cx="150.4" cy="72.60" rx="0.98" ry="0.88"/><ellipse cx="151.5" cy="73.50" rx="1.16" ry="1.04"/><ellipse cx="151.9" cy="73.60" rx="1.03" ry="0.93"/><ellipse cx="151.4" cy="74.50" rx="0.81" ry="0.73"/><ellipse cx="152.0" cy="74.70" rx="0.90" ry="0.82"/><ellipse cx="152.5" cy="75.40" rx="1.06" ry="0.96"/><ellipse cx="152.7" cy="76.20" rx="1.11" ry="1.01"/><ellipse cx="152.9" cy="76.80" rx="1.12" ry="1.02"/><ellipse cx="150.4" cy="77.10" rx="0.88" ry="0.80"/><ellipse cx="152.1" cy="78.20" rx="0.73" ry="0.66"/><ellipse cx="152.3" cy="78.30" rx="0.91" ry="0.83"/><ellipse cx="150.8" cy="78.70" rx="0.88" ry="0.80"/><ellipse cx="151.7" cy="79.90" rx="1.02" ry="0.92"/><ellipse cx="151.2" cy="80.20" rx="0.68" ry="0.62"/><ellipse cx="149.8" cy="80.80" rx="1.08" ry="0.98"/><ellipse cx="151.5" cy="81.10" rx="1.00" ry="0.90"/><ellipse cx="152.5" cy="81.80" rx="0.75" ry="0.67"/><ellipse cx="151.4" cy="82.20" rx="0.73" ry="0.66"/><ellipse cx="229.0" cy="69.00" rx="1.14" ry="1.04"/><ellipse cx="226.7" cy="69.30" rx="0.86" ry="0.78"/><ellipse cx="227.6" cy="70.40" rx="1.21" ry="1.09"/><ellipse cx="227.3" cy="70.40" rx="0.72" ry="0.66"/><ellipse cx="227.5" cy="71.50" rx="0.76" ry="0.68"/><ellipse cx="229.0" cy="72.10" rx="0.75" ry="0.67"/><ellipse cx="226.4" cy="72.20" rx="1.20" ry="1.08"/><ellipse cx="225.4" cy="72.30" rx="0.87" ry="0.79"/><ellipse cx="228.0" cy="73.60" rx="1.09" ry="0.99"/><ellipse cx="227.0" cy="74.20" rx="1.20" ry="1.08"/><ellipse cx="225.2" cy="74.30" rx="1.07" ry="0.97"/><ellipse cx="227.3" cy="75.10" rx="0.68" ry="0.62"/><ellipse cx="227.8" cy="75.70" rx="1.04" ry="0.94"/><ellipse cx="224.3" cy="75.70" rx="1.20" ry="1.08"/><ellipse cx="224.0" cy="75.80" rx="0.79" ry="0.71"/><ellipse cx="226.6" cy="77.60" rx="1.16" ry="1.04"/><ellipse cx="224.1" cy="77.30" rx="1.10" ry="1.00"/><ellipse cx="226.9" cy="79.00" rx="1.09" ry="0.99"/><ellipse cx="224.1" cy="78.20" rx="1.09" ry="0.99"/><ellipse cx="225.7" cy="79.70" rx="0.88" ry="0.80"/><ellipse cx="225.3" cy="80.00" rx="0.77" ry="0.69"/><ellipse cx="225.6" cy="81.00" rx="1.10" ry="1.00"/><ellipse cx="225.8" cy="81.60" rx="1.02" ry="0.92"/><ellipse cx="224.7" cy="81.40" rx="0.68" ry="0.62"/><ellipse cx="222.2" cy="81.30" rx="1.18" ry="1.06"/><ellipse cx="224.2" cy="82.70" rx="0.79" ry="0.71"/><ellipse cx="224.3" cy="83.20" rx="0.99" ry="0.89"/><ellipse cx="224.1" cy="83.70" rx="1.16" ry="1.04"/><ellipse cx="223.5" cy="84.40" rx="1.16" ry="1.04"/><ellipse cx="223.3" cy="84.70" rx="0.96" ry="0.86"/><ellipse cx="222.2" cy="85.10" rx="0.77" ry="0.69"/><ellipse cx="224.3" cy="86.30" rx="0.92" ry="0.84"/><ellipse cx="221.3" cy="85.80" rx="0.95" ry="0.85"/><ellipse cx="221.9" cy="86.40" rx="0.98" ry="0.88"/><ellipse cx="222.4" cy="87.90" rx="0.95" ry="0.85"/><ellipse cx="221.4" cy="88.00" rx="0.91" ry="0.83"/><ellipse cx="220.8" cy="88.20" rx="1.04" ry="0.94"/><ellipse cx="221.2" cy="89.00" rx="1.18" ry="1.06"/><ellipse cx="220.2" cy="89.40" rx="0.81" ry="0.73"/><ellipse cx="220.5" cy="90.10" rx="0.75" ry="0.67"/><ellipse cx="221.7" cy="90.80" rx="0.80" ry="0.72"/><ellipse cx="221.8" cy="91.90" rx="1.16" ry="1.04"/><ellipse cx="221.3" cy="92.30" rx="0.75" ry="0.67"/><ellipse cx="218.5" cy="91.60" rx="1.19" ry="1.07"/><ellipse cx="219.8" cy="93.30" rx="1.11" ry="1.01"/><ellipse cx="220.4" cy="93.90" rx="0.85" ry="0.77"/><ellipse cx="297.5" cy="79.70" rx="0.57" ry="0.51"/><ellipse cx="297.2" cy="80.20" rx="0.70" ry="0.64"/><ellipse cx="297.4" cy="80.80" rx="1.00" ry="0.90"/><ellipse cx="297.7" cy="81.50" rx="0.67" ry="0.61"/><ellipse cx="299.4" cy="81.00" rx="0.62" ry="0.56"/><ellipse cx="299.1" cy="82.30" rx="0.67" ry="0.61"/><ellipse cx="299.9" cy="82.20" rx="0.87" ry="0.79"/><ellipse cx="299.8" cy="82.60" rx="0.75" ry="0.67"/><ellipse cx="300.7" cy="83.00" rx="0.91" ry="0.83"/><ellipse cx="301.1" cy="84.20" rx="0.95" ry="0.85"/><ellipse cx="299.8" cy="84.60" rx="0.97" ry="0.87"/><ellipse cx="299.8" cy="85.30" rx="0.66" ry="0.60"/><ellipse cx="299.9" cy="85.60" rx="0.65" ry="0.59"/><ellipse cx="299.3" cy="86.40" rx="0.68" ry="0.62"/><ellipse cx="298.6" cy="86.40" rx="0.57" ry="0.51"/><ellipse cx="298.7" cy="87.40" rx="0.81" ry="0.73"/><ellipse cx="298.9" cy="88.10" rx="0.61" ry="0.55"/><ellipse cx="297.3" cy="87.70" rx="0.93" ry="0.85"/><ellipse cx="298.0" cy="88.70" rx="1.00" ry="0.90"/><ellipse cx="298.0" cy="89.30" rx="0.84" ry="0.76"/><ellipse cx="297.4" cy="89.30" rx="0.62" ry="0.56"/><ellipse cx="297.7" cy="90.70" rx="0.63" ry="0.57"/><ellipse cx="297.3" cy="91.30" rx="0.86" ry="0.78"/><ellipse cx="296.3" cy="91.00" rx="0.77" ry="0.69"/><ellipse cx="296.1" cy="91.50" rx="0.99" ry="0.89"/><ellipse cx="294.6" cy="90.30" rx="0.99" ry="0.89"/><ellipse cx="295.0" cy="91.70" rx="0.72" ry="0.66"/><ellipse cx="294.4" cy="91.90" rx="0.79" ry="0.71"/><ellipse cx="294.4" cy="93.00" rx="0.73" ry="0.66"/><ellipse cx="293.8" cy="93.40" rx="0.66" ry="0.60"/><ellipse cx="375.8" cy="96.10" rx="0.83" ry="0.75"/><ellipse cx="375.6" cy="96.30" rx="0.68" ry="0.62"/><ellipse cx="374.5" cy="96.90" rx="0.83" ry="0.75"/><ellipse cx="376.7" cy="98.10" rx="0.82" ry="0.74"/><ellipse cx="375.1" cy="97.80" rx="0.78" ry="0.70"/><ellipse cx="375.4" cy="98.90" rx="0.90" ry="0.82"/><ellipse cx="375.1" cy="99.30" rx="0.85" ry="0.77"/><ellipse cx="375.2" cy="99.70" rx="0.70" ry="0.64"/><ellipse cx="375.8" cy="100.60" rx="0.82" ry="0.74"/><ellipse cx="374.5" cy="100.80" rx="0.55" ry="0.49"/><ellipse cx="374.0" cy="101.20" rx="0.78" ry="0.70"/><ellipse cx="373.7" cy="102.00" rx="0.65" ry="0.59"/><ellipse cx="374.9" cy="102.90" rx="0.63" ry="0.57"/><ellipse cx="373.8" cy="102.70" rx="0.71" ry="0.65"/><ellipse cx="373.8" cy="103.70" rx="0.82" ry="0.74"/><ellipse cx="372.9" cy="103.60" rx="0.65" ry="0.59"/><ellipse cx="372.5" cy="104.30" rx="0.55" ry="0.49"/><ellipse cx="373.5" cy="105.60" rx="0.85" ry="0.77"/><ellipse cx="372.0" cy="105.30" rx="0.75" ry="0.67"/><ellipse cx="372.0" cy="106.30" rx="0.63" ry="0.57"/><ellipse cx="371.3" cy="105.70" rx="0.75" ry="0.67"/><ellipse cx="371.3" cy="106.60" rx="0.66" ry="0.60"/><ellipse cx="372.1" cy="107.60" rx="0.80" ry="0.72"/><ellipse cx="371.6" cy="108.80" rx="0.60" ry="0.54"/><ellipse cx="370.1" cy="108.20" rx="0.85" ry="0.77"/><ellipse cx="370.9" cy="109.20" rx="0.56" ry="0.50"/><ellipse cx="370.7" cy="110.00" rx="0.67" ry="0.61"/><ellipse cx="370.0" cy="110.10" rx="0.91" ry="0.83"/><ellipse cx="370.1" cy="111.10" rx="0.60" ry="0.54"/><ellipse cx="368.2" cy="110.30" rx="0.67" ry="0.61"/><ellipse cx="368.5" cy="111.50" rx="0.80" ry="0.72"/><ellipse cx="377.1" cy="97.70" rx="0.54" ry="0.48"/><ellipse cx="378.1" cy="97.80" rx="0.91" ry="0.83"/><ellipse cx="378.0" cy="98.50" rx="0.60" ry="0.54"/><ellipse cx="378.6" cy="99.30" rx="0.86" ry="0.78"/><ellipse cx="378.7" cy="100.00" rx="0.75" ry="0.67"/><ellipse cx="378.5" cy="100.40" rx="0.70" ry="0.64"/><ellipse cx="379.2" cy="100.60" rx="0.54" ry="0.48"/><ellipse cx="379.0" cy="101.30" rx="0.66" ry="0.60"/><ellipse cx="380.6" cy="101.20" rx="0.63" ry="0.57"/><ellipse cx="380.3" cy="101.80" rx="0.68" ry="0.62"/><ellipse cx="436.7" cy="132.40" rx="1.03" ry="0.93"/><ellipse cx="437.4" cy="133.70" rx="1.07" ry="0.97"/><ellipse cx="437.9" cy="133.10" rx="0.64" ry="0.58"/><ellipse cx="438.5" cy="132.70" rx="0.71" ry="0.65"/><ellipse cx="439.6" cy="133.60" rx="0.79" ry="0.71"/><ellipse cx="439.9" cy="132.90" rx="0.76" ry="0.68"/><ellipse cx="440.2" cy="132.20" rx="0.65" ry="0.59"/><ellipse cx="441.2" cy="133.30" rx="0.69" ry="0.63"/><ellipse cx="441.5" cy="132.30" rx="0.81" ry="0.73"/><ellipse cx="442.6" cy="134.50" rx="0.61" ry="0.55"/><ellipse cx="442.8" cy="131.80" rx="0.82" ry="0.74"/><ellipse cx="443.1" cy="133.00" rx="1.04" ry="0.94"/><ellipse cx="444.2" cy="134.00" rx="0.71" ry="0.65"/><ellipse cx="444.4" cy="131.70" rx="0.92" ry="0.84"/><ellipse cx="445.3" cy="134.20" rx="0.96" ry="0.86"/><ellipse cx="445.8" cy="132.50" rx="0.97" ry="0.87"/><ellipse cx="446.7" cy="132.20" rx="0.73" ry="0.66"/><ellipse cx="446.9" cy="131.90" rx="0.92" ry="0.84"/><ellipse cx="447.4" cy="131.80" rx="0.87" ry="0.79"/><ellipse cx="448.0" cy="132.70" rx="0.60" ry="0.54"/><ellipse cx="448.8" cy="132.70" rx="0.90" ry="0.82"/><ellipse cx="449.3" cy="133.90" rx="0.71" ry="0.65"/><ellipse cx="437.2" cy="134.30" rx="0.56" ry="0.50"/><ellipse cx="438.3" cy="134.50" rx="0.66" ry="0.60"/><ellipse cx="438.4" cy="135.10" rx="0.56" ry="0.50"/><ellipse cx="438.9" cy="135.60" rx="0.63" ry="0.57"/><ellipse cx="438.4" cy="136.50" rx="0.63" ry="0.57"/><ellipse cx="438.1" cy="137.30" rx="0.64" ry="0.58"/><ellipse cx="440.0" cy="137.00" rx="0.96" ry="0.86"/><ellipse cx="439.4" cy="137.70" rx="0.72" ry="0.66"/><ellipse cx="439.7" cy="138.40" rx="0.71" ry="0.65"/><ellipse cx="525.9" cy="164.10" rx="0.61" ry="0.55"/><ellipse cx="525.8" cy="163.90" rx="1.00" ry="0.90"/><ellipse cx="527.6" cy="165.20" rx="0.73" ry="0.66"/><ellipse cx="527.3" cy="163.60" rx="0.60" ry="0.54"/><ellipse cx="528.1" cy="164.20" rx="0.73" ry="0.66"/><ellipse cx="527.8" cy="162.70" rx="0.75" ry="0.67"/><ellipse cx="529.4" cy="164.60" rx="0.68" ry="0.62"/><ellipse cx="529.5" cy="162.90" rx="0.79" ry="0.71"/><ellipse cx="529.4" cy="161.60" rx="1.01" ry="0.91"/><ellipse cx="530.0" cy="161.90" rx="0.60" ry="0.54"/><ellipse cx="531.1" cy="162.10" rx="0.60" ry="0.54"/><ellipse cx="530.6" cy="161.00" rx="0.70" ry="0.64"/><ellipse cx="532.6" cy="162.10" rx="0.71" ry="0.65"/><ellipse cx="533.2" cy="162.20" rx="0.91" ry="0.83"/><ellipse cx="532.6" cy="160.30" rx="0.93" ry="0.85"/><ellipse cx="534.1" cy="162.00" rx="0.60" ry="0.54"/><ellipse cx="533.6" cy="160.10" rx="1.03" ry="0.93"/><ellipse cx="534.2" cy="159.80" rx="0.81" ry="0.73"/><ellipse cx="535.4" cy="161.00" rx="0.92" ry="0.84"/><ellipse cx="536.1" cy="160.40" rx="0.73" ry="0.66"/><ellipse cx="535.7" cy="159.00" rx="0.62" ry="0.56"/><ellipse cx="536.2" cy="158.10" rx="0.61" ry="0.55"/><ellipse cx="536.4" cy="157.50" rx="1.04" ry="0.94"/><ellipse cx="538.3" cy="159.20" rx="0.62" ry="0.56"/><ellipse cx="537.5" cy="157.30" rx="0.79" ry="0.71"/><ellipse cx="538.1" cy="157.30" rx="0.89" ry="0.81"/><ellipse cx="539.5" cy="158.30" rx="0.64" ry="0.58"/><ellipse cx="539.8" cy="158.10" rx="0.76" ry="0.68"/><ellipse cx="539.9" cy="157.50" rx="0.69" ry="0.63"/><ellipse cx="540.8" cy="156.10" rx="0.73" ry="0.66"/><ellipse cx="541.5" cy="156.60" rx="0.69" ry="0.63"/><ellipse cx="542.0" cy="158.00" rx="0.63" ry="0.57"/><ellipse cx="542.6" cy="156.90" rx="1.01" ry="0.91"/><ellipse cx="542.8" cy="155.30" rx="0.67" ry="0.61"/><ellipse cx="543.8" cy="158.20" rx="0.76" ry="0.68"/><ellipse cx="544.3" cy="157.50" rx="0.95" ry="0.85"/><ellipse cx="544.7" cy="157.90" rx="0.87" ry="0.79"/><ellipse cx="545.3" cy="155.60" rx="0.68" ry="0.62"/><ellipse cx="505.8" cy="101.70" rx="0.62" ry="0.56"/><ellipse cx="506.4" cy="101.60" rx="0.61" ry="0.55"/><ellipse cx="506.5" cy="102.50" rx="0.77" ry="0.69"/><ellipse cx="507.2" cy="102.20" rx="0.77" ry="0.69"/><ellipse cx="507.1" cy="103.40" rx="0.83" ry="0.75"/><ellipse cx="508.0" cy="103.40" rx="0.93" ry="0.85"/></g>
</g>
<g transform="translate(0 248.25)">
<clipPath id="pbclip"><path d="M83.50 18.60 C86.08 18.55 93.25 18.33 99.00 18.30 C104.75 18.27 111.67 18.28 118.00 18.40 C124.33 18.52 130.67 18.70 137.00 19.00 C143.33 19.30 149.67 19.78 156.00 20.20 C162.33 20.62 168.67 21.03 175.00 21.50 C181.33 21.97 188.17 22.52 194.00 23.00 C199.83 23.48 205.60 24.02 210.00 24.40 C214.40 24.78 215.25 24.77 220.40 25.30 C225.55 25.83 234.08 26.78 240.90 27.60 C247.72 28.42 254.50 29.32 261.30 30.20 C268.10 31.08 274.88 31.90 281.70 32.90 C288.52 33.90 295.38 34.98 302.20 36.20 C309.02 37.42 316.30 38.93 322.60 40.20 C328.90 41.47 334.60 42.67 340.00 43.80 C345.40 44.93 350.00 45.93 355.00 47.00 C360.00 48.07 365.83 49.33 370.00 50.20 C374.17 51.07 375.83 51.35 380.00 52.20 C384.17 53.05 390.33 54.30 395.00 55.30 C399.67 56.30 403.83 57.17 408.00 58.20 C412.17 59.23 416.33 60.55 420.00 61.50 C423.67 62.45 426.67 63.08 430.00 63.90 C433.33 64.72 435.83 65.35 440.00 66.40 C444.17 67.45 450.83 69.17 455.00 70.20 C459.17 71.23 461.67 71.75 465.00 72.60 C468.33 73.45 471.67 74.32 475.00 75.30 C478.33 76.28 481.67 77.35 485.00 78.50 C488.33 79.65 492.17 81.03 495.00 82.20 C497.83 83.37 499.50 84.28 502.00 85.50 C504.50 86.72 507.00 88.02 510.00 89.50 C513.00 90.98 516.67 92.82 520.00 94.40 C523.33 95.98 526.67 97.63 530.00 99.00 C533.33 100.37 536.67 101.45 540.00 102.60 C543.33 103.75 546.67 104.70 550.00 105.90 C553.33 107.10 556.67 108.48 560.00 109.80 C563.33 111.12 567.50 112.77 570.00 113.80 C572.50 114.83 573.33 115.25 575.00 116.00 C576.67 116.75 577.83 117.33 580.00 118.30 C582.17 119.27 585.67 120.80 588.00 121.80 C590.33 122.80 593.00 123.88 594.00 124.30 L594.00 203.60 C592.93 203.07 589.88 201.60 587.60 200.40 C585.32 199.20 582.73 197.67 580.30 196.40 C577.87 195.13 575.43 193.92 573.00 192.80 C570.57 191.68 568.13 190.63 565.70 189.70 C563.27 188.77 560.83 187.73 558.40 187.20 C555.97 186.67 553.78 186.62 551.10 186.50 C548.42 186.38 545.22 186.55 542.30 186.50 C539.38 186.45 536.03 186.57 533.60 186.20 C531.17 185.83 529.40 185.22 527.70 184.30 C526.00 183.38 524.85 182.17 523.40 180.70 C521.95 179.23 520.47 177.08 519.00 175.50 C517.53 173.92 516.55 172.77 514.60 171.20 C512.65 169.63 509.73 167.48 507.30 166.10 C504.87 164.72 502.22 163.72 500.00 162.90 C497.78 162.08 497.33 162.37 494.00 161.20 C490.67 160.03 484.37 157.37 480.00 155.90 C475.63 154.43 471.30 153.27 467.80 152.40 C464.30 151.53 462.22 150.78 459.00 150.70 C455.78 150.62 451.42 151.62 448.50 151.90 C445.58 152.18 443.53 152.75 441.50 152.40 C439.47 152.05 437.75 151.12 436.30 149.80 C434.85 148.48 434.18 146.38 432.80 144.50 C431.42 142.62 429.57 140.20 428.00 138.50 C426.43 136.80 425.13 135.48 423.40 134.30 C421.67 133.12 419.78 132.13 417.60 131.40 C415.42 130.67 412.73 130.32 410.30 129.90 C407.87 129.48 405.43 129.18 403.00 128.90 C400.57 128.62 398.13 128.45 395.70 128.20 C393.27 127.95 390.83 127.72 388.40 127.40 C385.97 127.08 383.53 126.73 381.10 126.30 C378.67 125.87 376.23 125.42 373.80 124.80 C371.37 124.18 368.93 123.33 366.50 122.60 C364.07 121.87 361.63 121.20 359.20 120.40 C356.77 119.60 354.33 118.65 351.90 117.80 C349.47 116.95 347.03 116.20 344.60 115.30 C342.17 114.40 339.40 113.22 337.30 112.40 C335.20 111.58 334.10 111.02 332.00 110.40 C329.90 109.78 327.13 109.07 324.70 108.70 C322.27 108.33 319.83 108.15 317.40 108.20 C314.97 108.25 312.53 108.50 310.10 109.00 C307.67 109.50 305.00 110.67 302.80 111.20 C300.60 111.73 298.85 112.20 296.90 112.20 C294.95 112.20 293.28 112.10 291.10 111.20 C288.92 110.30 286.23 108.38 283.80 106.80 C281.37 105.22 278.93 103.03 276.50 101.70 C274.07 100.37 271.63 99.48 269.20 98.80 C266.77 98.12 264.33 97.80 261.90 97.60 C259.47 97.40 257.03 97.45 254.60 97.60 C252.17 97.75 250.13 98.08 247.30 98.50 C244.47 98.92 240.43 99.53 237.60 100.10 C234.77 100.67 232.73 101.48 230.30 101.90 C227.87 102.32 225.43 102.85 223.00 102.60 C220.57 102.35 218.13 101.43 215.70 100.40 C213.27 99.37 210.83 97.67 208.40 96.40 C205.97 95.13 203.53 93.63 201.10 92.80 C198.67 91.97 196.23 91.63 193.80 91.40 C191.37 91.17 188.93 91.30 186.50 91.40 C184.07 91.50 181.63 91.67 179.20 92.00 C176.77 92.33 174.33 92.72 171.90 93.40 C169.47 94.08 167.03 95.05 164.60 96.10 C162.17 97.15 159.33 98.83 157.30 99.70 C155.27 100.57 154.00 101.08 152.40 101.30 C150.80 101.52 150.03 101.43 147.70 101.00 C145.37 100.57 141.90 99.77 138.40 98.70 C134.90 97.63 130.60 95.87 126.70 94.60 C122.80 93.33 118.88 91.88 115.00 91.10 C111.12 90.32 107.28 90.03 103.40 89.90 C99.52 89.77 95.02 90.00 91.70 90.30 C88.38 90.60 84.87 91.47 83.50 91.70 Z"/></clipPath>
<path d="M83.50 18.60 C86.08 18.55 93.25 18.33 99.00 18.30 C104.75 18.27 111.67 18.28 118.00 18.40 C124.33 18.52 130.67 18.70 137.00 19.00 C143.33 19.30 149.67 19.78 156.00 20.20 C162.33 20.62 168.67 21.03 175.00 21.50 C181.33 21.97 188.17 22.52 194.00 23.00 C199.83 23.48 205.60 24.02 210.00 24.40 C214.40 24.78 215.25 24.77 220.40 25.30 C225.55 25.83 234.08 26.78 240.90 27.60 C247.72 28.42 254.50 29.32 261.30 30.20 C268.10 31.08 274.88 31.90 281.70 32.90 C288.52 33.90 295.38 34.98 302.20 36.20 C309.02 37.42 316.30 38.93 322.60 40.20 C328.90 41.47 334.60 42.67 340.00 43.80 C345.40 44.93 350.00 45.93 355.00 47.00 C360.00 48.07 365.83 49.33 370.00 50.20 C374.17 51.07 375.83 51.35 380.00 52.20 C384.17 53.05 390.33 54.30 395.00 55.30 C399.67 56.30 403.83 57.17 408.00 58.20 C412.17 59.23 416.33 60.55 420.00 61.50 C423.67 62.45 426.67 63.08 430.00 63.90 C433.33 64.72 435.83 65.35 440.00 66.40 C444.17 67.45 450.83 69.17 455.00 70.20 C459.17 71.23 461.67 71.75 465.00 72.60 C468.33 73.45 471.67 74.32 475.00 75.30 C478.33 76.28 481.67 77.35 485.00 78.50 C488.33 79.65 492.17 81.03 495.00 82.20 C497.83 83.37 499.50 84.28 502.00 85.50 C504.50 86.72 507.00 88.02 510.00 89.50 C513.00 90.98 516.67 92.82 520.00 94.40 C523.33 95.98 526.67 97.63 530.00 99.00 C533.33 100.37 536.67 101.45 540.00 102.60 C543.33 103.75 546.67 104.70 550.00 105.90 C553.33 107.10 556.67 108.48 560.00 109.80 C563.33 111.12 567.50 112.77 570.00 113.80 C572.50 114.83 573.33 115.25 575.00 116.00 C576.67 116.75 577.83 117.33 580.00 118.30 C582.17 119.27 585.67 120.80 588.00 121.80 C590.33 122.80 593.00 123.88 594.00 124.30 L594.00 203.60 C592.93 203.07 589.88 201.60 587.60 200.40 C585.32 199.20 582.73 197.67 580.30 196.40 C577.87 195.13 575.43 193.92 573.00 192.80 C570.57 191.68 568.13 190.63 565.70 189.70 C563.27 188.77 560.83 187.73 558.40 187.20 C555.97 186.67 553.78 186.62 551.10 186.50 C548.42 186.38 545.22 186.55 542.30 186.50 C539.38 186.45 536.03 186.57 533.60 186.20 C531.17 185.83 529.40 185.22 527.70 184.30 C526.00 183.38 524.85 182.17 523.40 180.70 C521.95 179.23 520.47 177.08 519.00 175.50 C517.53 173.92 516.55 172.77 514.60 171.20 C512.65 169.63 509.73 167.48 507.30 166.10 C504.87 164.72 502.22 163.72 500.00 162.90 C497.78 162.08 497.33 162.37 494.00 161.20 C490.67 160.03 484.37 157.37 480.00 155.90 C475.63 154.43 471.30 153.27 467.80 152.40 C464.30 151.53 462.22 150.78 459.00 150.70 C455.78 150.62 451.42 151.62 448.50 151.90 C445.58 152.18 443.53 152.75 441.50 152.40 C439.47 152.05 437.75 151.12 436.30 149.80 C434.85 148.48 434.18 146.38 432.80 144.50 C431.42 142.62 429.57 140.20 428.00 138.50 C426.43 136.80 425.13 135.48 423.40 134.30 C421.67 133.12 419.78 132.13 417.60 131.40 C415.42 130.67 412.73 130.32 410.30 129.90 C407.87 129.48 405.43 129.18 403.00 128.90 C400.57 128.62 398.13 128.45 395.70 128.20 C393.27 127.95 390.83 127.72 388.40 127.40 C385.97 127.08 383.53 126.73 381.10 126.30 C378.67 125.87 376.23 125.42 373.80 124.80 C371.37 124.18 368.93 123.33 366.50 122.60 C364.07 121.87 361.63 121.20 359.20 120.40 C356.77 119.60 354.33 118.65 351.90 117.80 C349.47 116.95 347.03 116.20 344.60 115.30 C342.17 114.40 339.40 113.22 337.30 112.40 C335.20 111.58 334.10 111.02 332.00 110.40 C329.90 109.78 327.13 109.07 324.70 108.70 C322.27 108.33 319.83 108.15 317.40 108.20 C314.97 108.25 312.53 108.50 310.10 109.00 C307.67 109.50 305.00 110.67 302.80 111.20 C300.60 111.73 298.85 112.20 296.90 112.20 C294.95 112.20 293.28 112.10 291.10 111.20 C288.92 110.30 286.23 108.38 283.80 106.80 C281.37 105.22 278.93 103.03 276.50 101.70 C274.07 100.37 271.63 99.48 269.20 98.80 C266.77 98.12 264.33 97.80 261.90 97.60 C259.47 97.40 257.03 97.45 254.60 97.60 C252.17 97.75 250.13 98.08 247.30 98.50 C244.47 98.92 240.43 99.53 237.60 100.10 C234.77 100.67 232.73 101.48 230.30 101.90 C227.87 102.32 225.43 102.85 223.00 102.60 C220.57 102.35 218.13 101.43 215.70 100.40 C213.27 99.37 210.83 97.67 208.40 96.40 C205.97 95.13 203.53 93.63 201.10 92.80 C198.67 91.97 196.23 91.63 193.80 91.40 C191.37 91.17 188.93 91.30 186.50 91.40 C184.07 91.50 181.63 91.67 179.20 92.00 C176.77 92.33 174.33 92.72 171.90 93.40 C169.47 94.08 167.03 95.05 164.60 96.10 C162.17 97.15 159.33 98.83 157.30 99.70 C155.27 100.57 154.00 101.08 152.40 101.30 C150.80 101.52 150.03 101.43 147.70 101.00 C145.37 100.57 141.90 99.77 138.40 98.70 C134.90 97.63 130.60 95.87 126.70 94.60 C122.80 93.33 118.88 91.88 115.00 91.10 C111.12 90.32 107.28 90.03 103.40 89.90 C99.52 89.77 95.02 90.00 91.70 90.30 C88.38 90.60 84.87 91.47 83.50 91.70 Z" fill="#82f6b8"/>
<g clip-path="url(#pbclip)">
<g filter="url(#blur4)">
<path d="M85.7 103.5 L86.7 103.3 L87.9 103.1 L89.1 102.8 L90.4 102.6 L91.7 102.4 L92.8 102.2 L94.3 102.1 L96.0 102.0 L97.8 101.9 L99.6 101.9 L101.4 101.9 L103.0 101.9 L104.7 102.0 L106.4 102.1 L108.0 102.2 L109.6 102.4 L111.1 102.6 L112.6 102.9 L114.0 103.2 L115.5 103.6 L117.2 104.1 L119.0 104.7 L121.0 105.3 L122.9 106.0 L124.7 106.6 L126.6 107.3 L128.6 108.0 L130.6 108.7 L132.7 109.5 L134.9 110.2 L136.9 110.8 L138.8 111.3 L140.7 111.7 L142.4 112.2 L144.0 112.5 L145.5 112.8 L146.7 113.0 L148.0 113.2 L149.5 113.4 L151.1 113.4 L152.6 113.3 L154.1 113.2 L155.6 112.9 L157.2 112.5 L158.6 112.1 L159.8 111.6 L160.9 111.2 L162.1 110.7 L163.6 110.0 L165.0 109.3 L166.3 108.6 L167.5 108.0 L168.6 107.5 L169.4 107.1 L170.4 106.7 L171.5 106.2 L172.5 105.8 L173.4 105.5 L174.3 105.2 L175.1 105.0 L175.9 104.7 L176.8 104.6 L177.7 104.4 L178.7 104.2 L179.7 104.0 L180.8 103.9 L181.8 103.8 L182.8 103.7 L183.8 103.6 L184.8 103.5 L185.9 103.4 L187.0 103.4 L188.2 103.3 L189.3 103.3 L190.3 103.3 L191.2 103.3 L192.0 103.3 L192.7 103.3 L193.7 103.4 L194.5 103.6 L195.3 103.7 L196.0 103.8 L196.7 104.0 L197.2 104.1 L197.6 104.3 L198.3 104.6 L199.2 105.1 L200.2 105.6 L201.5 106.3 L202.8 107.0 L203.7 107.5 L204.8 108.1 L206.0 108.8 L207.4 109.7 L209.1 110.6 L210.9 111.4 L212.4 112.0 L214.0 112.6 L215.7 113.2 L217.5 113.8 L219.6 114.2 L221.8 114.5 L224.1 114.7 L226.3 114.6 L228.1 114.4 L229.8 114.2 L231.2 113.9 L232.4 113.7 L234.1 113.4 L235.7 113.0 L237.0 112.6 L238.1 112.3 L239.1 112.1 L240.0 111.9 L241.3 111.6 L242.8 111.4 L244.4 111.1 L246.0 110.8 L247.6 110.6 L249.1 110.4 L250.4 110.2 L251.6 110.0 L252.7 109.8 L253.6 109.7 L254.5 109.6 L255.4 109.6 L256.4 109.5 L257.4 109.5 L258.3 109.5 L259.2 109.5 L260.1 109.5 L260.9 109.6 L261.9 109.6 L262.8 109.8 L263.7 109.9 L264.5 110.0 L265.3 110.2 L266.0 110.4 L266.8 110.6 L267.7 110.9 L268.5 111.2 L269.3 111.5 L270.0 111.8 L270.7 112.2 L271.2 112.5 L272.0 113.0 L273.0 113.8 L274.2 114.7 L275.6 115.7 L277.2 116.8 L278.4 117.6 L279.7 118.5 L281.1 119.4 L282.7 120.4 L284.5 121.3 L286.5 122.3 L288.5 123.0 L290.4 123.6 L292.3 123.9 L294.1 124.1 L295.6 124.2 L297.0 124.2 L298.8 124.1 L300.5 123.9 L302.0 123.7 L303.4 123.4 L304.5 123.1 L305.7 122.8 L307.4 122.4 L308.9 121.9 L310.2 121.5 L311.2 121.1 L312.0 120.9 L312.6 120.7 L313.3 120.6 L314.2 120.5 L315.0 120.4 L315.9 120.3 L316.8 120.2 L317.6 120.2 L318.5 120.2 L319.3 120.2 L320.2 120.3 L321.1 120.3 L322.0 120.4 L322.9 120.6 L323.7 120.7 L324.7 120.9 L325.7 121.1 L326.7 121.4 L327.7 121.6 L328.6 121.9 L329.2 122.1 L329.7 122.3 L330.2 122.5 L330.9 122.8 L331.8 123.1 L332.9 123.6 L333.9 124.0 L335.1 124.4 L336.3 124.9 L337.6 125.5 L339.0 126.0 L340.4 126.6 L341.8 127.1 L343.2 127.5 L344.4 128.0 L345.7 128.4 L346.8 128.7 L347.9 129.1 L349.1 129.5 L350.2 129.9 L351.4 130.4 L352.7 130.9 L354.1 131.3 L355.4 131.8 L356.8 132.2 L358.2 132.7 L359.5 133.0 L360.7 133.4 L361.9 133.7 L363.0 134.1 L364.1 134.4 L365.3 134.8 L366.6 135.2 L367.9 135.6 L369.3 136.0 L370.8 136.4 L372.3 136.8 L373.7 137.1 L375.1 137.4 L376.4 137.6 L377.7 137.9 L379.0 138.1 L380.3 138.3 L381.7 138.6 L383.0 138.8 L384.3 139.0 L385.6 139.1 L386.9 139.3 L388.2 139.5 L389.5 139.6 L390.8 139.8 L392.0 139.9 L393.3 140.0 L394.5 140.1 L395.8 140.3 L397.1 140.4 L398.3 140.5 L399.4 140.6 L400.6 140.7 L401.6 140.8 L402.8 141.0 L403.9 141.1 L405.1 141.2 L406.2 141.4 L407.2 141.6 L408.3 141.7 L409.6 141.9 L410.8 142.1 L411.9 142.3 L412.7 142.5 L413.4 142.7 L413.8 142.8 L414.3 143.0 L414.8 143.2 L415.3 143.4 L415.7 143.6 L416.2 143.9 L416.6 144.2 L416.9 144.4 L417.2 144.7 L417.6 145.0 L418.0 145.4 L418.5 145.9 L419.1 146.6 L419.7 147.2 L420.4 148.0 L421.1 148.9 L421.8 149.8 L422.5 150.7 L423.1 151.5 L423.2 151.8 L423.5 152.3 L424.1 153.3 L424.9 154.7 L426.3 156.6 L428.1 158.6 L429.7 159.9 L431.4 161.1 L433.2 162.2 L435.2 163.0 L437.3 163.7 L439.5 164.2 L442.1 164.5 L444.3 164.5 L446.1 164.3 L447.5 164.1 L448.6 164.0 L449.8 163.8 L451.7 163.6 L453.6 163.3 L455.4 163.0 L456.9 162.8 L458.1 162.7 L458.7 162.7 L459.3 162.7 L459.9 162.8 L460.7 163.0 L461.7 163.2 L463.1 163.6 L464.9 164.0 L466.6 164.5 L468.4 165.0 L470.3 165.5 L472.2 166.0 L474.2 166.6 L476.2 167.3 L478.2 168.0 L480.5 168.9 L483.0 169.8 L485.5 170.8 L487.8 171.7 L490.0 172.5 L492.0 173.2 L493.6 173.6 L494.8 173.9 L495.4 174.0 L495.6 174.1 L495.9 174.2 L496.9 174.6 L497.9 174.9 L498.9 175.3 L499.8 175.7 L500.6 176.1 L501.4 176.5 L502.2 177.0 L503.1 177.6 L504.2 178.4 L505.2 179.1 L506.2 179.9 L507.1 180.5 L507.6 181.0 L508.1 181.4 L508.4 181.8 L508.9 182.3 L509.5 182.9 L510.1 183.6 L510.6 184.1 L511.1 184.8 L511.8 185.6 L512.7 186.7 L513.7 187.8 L514.8 189.1 L515.6 189.9 L516.5 190.7 L517.5 191.7 L518.8 192.8 L520.3 193.8 L522.0 194.8 L523.5 195.6 L525.0 196.3 L526.6 196.9 L528.3 197.4 L530.1 197.8 L531.9 198.1 L533.9 198.3 L535.8 198.4 L537.6 198.5 L539.2 198.5 L540.8 198.5 L542.2 198.5 L543.8 198.5 L545.4 198.5 L546.9 198.5 L548.3 198.5 L549.6 198.5 L550.6 198.5 L551.9 198.5 L553.0 198.6 L553.9 198.7 L554.6 198.7 L555.3 198.8 L555.8 198.9 L556.4 199.1 L557.1 199.3 L558.0 199.6 L559.0 200.0 L560.1 200.4 L561.4 200.9 L562.5 201.3 L563.6 201.8 L564.6 202.2 L565.7 202.7 L566.9 203.2 L568.0 203.7 L569.1 204.2 L570.2 204.7 L571.3 205.3 L572.5 205.9 L573.6 206.4 L574.7 207.0 L575.8 207.6 L576.9 208.2 L578.1 208.9 L579.4 209.6 L580.7 210.3 L582.0 211.0 L583.3 211.7 L584.7 212.4 L585.9 213.0 L587.1 213.6 L588.0 214.0 L588.7 214.3 L602.9 185.7 L602.1 185.3 L601.2 184.8 L600.1 184.3 L599.0 183.8 L597.9 183.2 L596.9 182.7 L596.0 182.2 L595.0 181.6 L593.8 181.0 L592.5 180.2 L591.1 179.4 L589.6 178.6 L588.2 177.9 L586.9 177.3 L585.5 176.6 L584.2 175.9 L582.8 175.2 L581.4 174.6 L580.0 173.9 L578.6 173.3 L577.2 172.7 L575.8 172.1 L574.4 171.5 L573.0 170.9 L571.8 170.5 L570.5 169.9 L568.9 169.3 L567.1 168.7 L565.1 168.1 L562.7 167.5 L560.5 167.0 L558.4 166.7 L556.5 166.5 L554.8 166.4 L553.3 166.3 L551.9 166.2 L550.0 166.1 L548.2 166.1 L546.5 166.1 L545.0 166.1 L543.7 166.1 L542.5 166.1 L540.9 166.0 L539.4 166.0 L538.1 166.0 L537.1 165.9 L536.6 165.9 L536.6 165.9 L536.5 165.8 L536.6 165.8 L536.8 165.9 L537.1 166.0 L537.3 166.1 L537.6 166.2 L538.3 166.6 L538.8 167.0 L539.1 167.2 L539.1 167.2 L538.8 166.8 L538.3 166.3 L538.2 166.2 L538.0 165.9 L537.4 165.2 L536.6 164.2 L535.6 162.9 L534.4 161.5 L533.6 160.6 L532.8 159.8 L531.8 158.7 L530.6 157.5 L529.2 156.2 L527.7 155.0 L526.3 153.8 L524.8 152.7 L523.2 151.5 L521.5 150.3 L519.7 149.1 L517.7 147.8 L515.6 146.7 L513.6 145.7 L511.8 144.9 L510.1 144.2 L508.6 143.6 L507.2 143.0 L505.1 142.3 L503.1 141.8 L502.0 141.5 L501.7 141.4 L501.6 141.4 L501.0 141.2 L499.7 140.6 L497.6 139.8 L495.2 138.8 L492.5 137.7 L489.7 136.6 L486.9 135.6 L484.3 134.7 L481.8 133.9 L479.4 133.2 L477.2 132.5 L475.0 131.9 L473.1 131.4 L471.6 131.0 L470.0 130.6 L468.0 130.1 L465.6 129.6 L462.7 129.2 L459.5 129.0 L455.9 129.0 L452.9 129.3 L450.5 129.6 L448.5 129.9 L447.0 130.1 L446.1 130.2 L444.3 130.4 L442.8 130.6 L442.1 130.6 L442.3 130.6 L443.4 130.6 L445.1 130.8 L446.4 131.1 L447.6 131.4 L448.7 131.9 L449.6 132.5 L450.4 133.0 L451.3 133.7 L452.8 135.4 L453.6 136.5 L453.6 136.6 L453.1 135.7 L452.1 133.9 L450.6 131.7 L449.7 130.3 L448.7 129.1 L447.7 127.8 L446.6 126.4 L445.5 125.1 L444.2 123.7 L443.2 122.5 L442.1 121.4 L440.8 120.1 L439.3 118.8 L437.6 117.5 L435.8 116.2 L434.2 115.1 L432.4 114.0 L430.6 113.0 L428.7 112.1 L426.7 111.3 L424.5 110.5 L422.1 109.8 L420.0 109.3 L418.1 108.9 L416.4 108.6 L415.1 108.4 L413.9 108.2 L412.5 107.9 L411.0 107.7 L409.6 107.5 L408.2 107.3 L406.8 107.1 L405.5 106.9 L404.0 106.8 L402.6 106.6 L401.3 106.5 L400.1 106.3 L399.0 106.2 L397.9 106.1 L396.7 106.0 L395.5 105.8 L394.4 105.7 L393.3 105.5 L392.3 105.4 L391.3 105.2 L390.2 105.1 L389.1 104.9 L388.1 104.7 L387.0 104.5 L386.0 104.4 L385.0 104.2 L383.9 103.9 L382.9 103.7 L381.9 103.5 L381.0 103.3 L380.1 103.1 L379.4 102.8 L378.7 102.6 L377.9 102.4 L376.9 102.0 L375.8 101.6 L374.5 101.2 L373.1 100.7 L371.7 100.3 L370.5 99.9 L369.3 99.5 L368.3 99.2 L367.3 98.8 L366.4 98.5 L365.5 98.2 L364.6 97.8 L363.5 97.4 L362.3 96.9 L361.0 96.4 L359.6 95.9 L358.1 95.4 L356.8 94.9 L355.6 94.5 L354.5 94.1 L353.6 93.7 L352.7 93.4 L351.8 93.0 L350.8 92.6 L349.6 92.1 L348.4 91.6 L347.2 91.0 L345.9 90.5 L345.2 90.2 L344.4 89.9 L343.4 89.4 L342.1 88.9 L340.4 88.3 L338.7 87.7 L337.2 87.3 L335.7 86.8 L334.0 86.4 L332.2 86.0 L330.3 85.6 L328.3 85.2 L326.4 84.9 L324.6 84.7 L322.7 84.5 L320.8 84.4 L318.9 84.3 L316.9 84.3 L315.0 84.4 L313.1 84.5 L311.2 84.6 L309.2 84.9 L307.3 85.2 L305.1 85.6 L302.5 86.2 L300.4 86.8 L298.7 87.4 L297.6 87.7 L297.0 87.9 L296.9 87.9 L296.1 88.1 L295.5 88.3 L295.3 88.3 L295.5 88.3 L296.1 88.2 L296.7 88.2 L296.6 88.2 L296.9 88.2 L297.6 88.3 L298.5 88.5 L299.5 88.7 L300.3 89.0 L301.0 89.3 L300.9 89.3 L300.4 89.0 L299.5 88.4 L298.3 87.6 L297.1 86.8 L296.5 86.4 L295.7 85.8 L294.5 84.9 L292.9 83.7 L290.7 82.3 L288.1 80.7 L285.8 79.5 L283.7 78.5 L281.5 77.6 L279.5 76.9 L277.6 76.2 L275.6 75.7 L273.4 75.1 L271.3 74.7 L269.3 74.3 L267.3 74.0 L265.5 73.8 L263.8 73.7 L261.9 73.5 L260.0 73.5 L258.1 73.5 L256.4 73.5 L254.7 73.6 L253.1 73.6 L251.3 73.8 L249.6 74.0 L248.0 74.2 L246.5 74.4 L245.1 74.6 L243.8 74.8 L242.2 75.0 L240.5 75.3 L238.6 75.6 L236.7 75.9 L234.8 76.2 L232.8 76.6 L230.6 77.1 L228.7 77.6 L227.3 77.9 L226.5 78.2 L226.2 78.3 L226.0 78.3 L224.9 78.5 L224.0 78.6 L223.7 78.7 L223.8 78.7 L224.4 78.7 L225.4 78.7 L226.2 78.8 L226.6 78.9 L226.7 78.9 L226.4 78.8 L225.9 78.6 L225.2 78.4 L225.3 78.4 L224.9 78.2 L224.2 77.8 L223.0 77.1 L221.4 76.2 L219.7 75.2 L218.6 74.6 L217.4 74.0 L215.9 73.2 L214.0 72.2 L211.7 71.2 L208.9 70.1 L206.3 69.3 L203.9 68.7 L201.7 68.2 L199.6 67.9 L197.7 67.7 L196.0 67.5 L193.8 67.3 L191.7 67.3 L189.8 67.3 L188.2 67.3 L186.7 67.4 L185.5 67.4 L184.0 67.5 L182.5 67.6 L181.0 67.7 L179.3 67.8 L177.7 68.0 L176.0 68.2 L174.5 68.4 L172.9 68.7 L171.2 69.0 L169.4 69.3 L167.5 69.8 L165.4 70.3 L163.4 70.9 L161.6 71.5 L159.8 72.2 L158.1 72.8 L156.6 73.4 L155.0 74.1 L153.0 75.0 L151.2 75.9 L149.7 76.7 L148.6 77.3 L147.9 77.6 L147.7 77.7 L147.1 77.9 L146.8 78.1 L146.9 78.0 L147.4 77.9 L148.3 77.7 L149.1 77.5 L149.7 77.5 L150.8 77.4 L152.0 77.5 L152.7 77.5 L152.7 77.5 L152.1 77.4 L151.3 77.2 L150.3 77.0 L149.2 76.8 L147.9 76.5 L146.7 76.1 L145.4 75.8 L144.3 75.4 L142.8 74.9 L141.0 74.2 L138.9 73.4 L136.6 72.6 L134.2 71.8 L132.3 71.2 L130.3 70.5 L128.1 69.8 L125.6 69.0 L122.8 68.3 L119.8 67.6 L116.9 67.1 L114.1 66.7 L111.5 66.4 L109.0 66.2 L106.5 66.0 L104.2 65.9 L101.5 65.9 L98.9 65.9 L96.4 66.0 L94.0 66.1 L91.7 66.2 L89.4 66.4 L86.8 66.7 L84.4 67.1 L82.3 67.5 L80.7 67.8 L79.6 68.0 L79.2 68.1 Z" fill="url(#lowg)"/>
<path d="M83.2 6.6 L84.9 6.6 L87.1 6.5 L89.8 6.4 L92.8 6.4 L95.9 6.3 L98.9 6.3 L101.9 6.3 L105.1 6.3 L108.3 6.3 L111.6 6.3 L115.0 6.4 L118.2 6.4 L121.4 6.5 L124.6 6.5 L127.9 6.6 L131.1 6.7 L134.3 6.9 L137.6 7.0 L140.8 7.2 L144.1 7.4 L147.3 7.6 L150.5 7.8 L153.6 8.0 L156.8 8.2 L160.0 8.4 L163.1 8.6 L166.3 8.9 L169.5 9.1 L172.7 9.3 L175.9 9.5 L179.1 9.8 L182.4 10.0 L185.6 10.3 L188.9 10.5 L192.0 10.8 L195.0 11.0 L197.9 11.3 L200.8 11.5 L203.6 11.8 L206.3 12.0 L208.8 12.2 L211.0 12.4 L212.9 12.6 L214.4 12.7 L215.9 12.8 L217.4 13.0 L219.3 13.1 L221.6 13.4 L224.5 13.7 L227.8 14.0 L231.4 14.4 L235.1 14.8 L238.8 15.3 L242.3 15.7 L245.8 16.1 L249.2 16.5 L252.6 17.0 L256.1 17.4 L259.5 17.9 L262.8 18.3 L266.2 18.7 L269.6 19.2 L273.0 19.6 L276.5 20.1 L279.9 20.5 L283.4 21.0 L286.9 21.5 L290.4 22.1 L293.8 22.6 L297.3 23.2 L300.8 23.8 L304.3 24.4 L307.9 25.0 L311.4 25.7 L314.9 26.4 L318.4 27.1 L321.8 27.8 L325.0 28.4 L328.1 29.1 L331.1 29.7 L334.1 30.3 L336.9 30.9 L339.7 31.5 L342.5 32.1 L345.1 32.6 L347.7 33.2 L350.2 33.7 L352.6 34.2 L355.0 34.7 L357.5 35.3 L360.1 35.8 L362.7 36.4 L365.3 36.9 L367.9 37.5 L370.3 38.0 L372.4 38.5 L374.3 38.8 L375.9 39.1 L377.3 39.4 L378.8 39.7 L380.5 40.0 L382.4 40.4 L384.6 40.9 L387.1 41.4 L389.7 41.9 L392.4 42.5 L395.0 43.0 L397.5 43.6 L399.8 44.1 L402.0 44.5 L404.3 45.0 L406.5 45.5 L408.7 46.0 L410.9 46.6 L413.2 47.1 L415.4 47.7 L417.5 48.3 L419.5 48.9 L421.3 49.4 L423.0 49.9 L424.7 50.3 L426.3 50.7 L427.9 51.1 L429.5 51.4 L431.1 51.8 L432.8 52.2 L434.5 52.6 L436.0 53.0 L437.6 53.4 L439.2 53.8 L441.0 54.3 L442.9 54.8 L445.2 55.3 L447.8 56.0 L450.5 56.7 L453.1 57.4 L455.7 58.0 L457.9 58.6 L459.8 59.0 L461.5 59.4 L463.0 59.8 L464.6 60.2 L466.2 60.5 L468.0 61.0 L469.7 61.4 L471.4 61.9 L473.1 62.3 L474.8 62.8 L476.6 63.3 L478.4 63.8 L480.1 64.3 L481.9 64.9 L483.7 65.4 L485.4 66.0 L487.2 66.6 L488.9 67.2 L490.7 67.8 L492.5 68.4 L494.3 69.1 L496.1 69.8 L497.9 70.4 L499.6 71.1 L501.2 71.8 L502.6 72.4 L503.9 73.0 L505.0 73.6 L506.1 74.2 L507.3 74.7 L508.6 75.4 L509.9 76.0 L511.2 76.7 L512.5 77.4 L513.9 78.0 L515.3 78.7 L516.9 79.5 L518.5 80.3 L520.2 81.1 L521.9 82.0 L523.5 82.8 L525.2 83.6 L526.8 84.4 L528.5 85.2 L530.1 85.9 L531.6 86.6 L533.1 87.3 L534.6 87.9 L536.0 88.5 L537.5 89.0 L539.0 89.6 L540.6 90.1 L542.2 90.7 L543.9 91.2 L545.4 91.8 L547.0 92.3 L548.6 92.8 L550.4 93.4 L552.2 94.0 L554.1 94.6 L555.9 95.3 L557.7 96.0 L559.4 96.6 L561.1 97.3 L562.8 98.0 L564.4 98.6 L566.1 99.3 L567.9 100.0 L569.8 100.8 L571.5 101.5 L573.1 102.1 L574.6 102.7 L575.8 103.2 L576.8 103.7 L577.7 104.1 L578.5 104.4 L579.2 104.7 L579.9 105.1 L580.8 105.5 L581.6 105.8 L582.4 106.2 L583.2 106.6 L584.0 106.9 L584.9 107.3 L586.0 107.9 L587.4 108.4 L588.7 109.0 L590.2 109.7 L591.5 110.2 L592.7 110.8 L593.8 111.2 L595.0 111.7 L596.1 112.2 L597.1 112.6 L597.9 112.9 L598.6 113.2 L580.2 157.6 L579.7 157.3 L578.8 157.0 L577.7 156.5 L576.5 156.0 L575.2 155.5 L573.8 154.9 L572.5 154.3 L571.0 153.6 L569.5 153.0 L568.1 152.3 L566.7 151.7 L565.4 151.1 L564.1 150.5 L563.0 150.0 L562.1 149.5 L561.4 149.2 L560.8 148.9 L560.2 148.6 L559.4 148.2 L558.7 147.9 L558.2 147.6 L557.7 147.4 L557.2 147.1 L556.4 146.8 L555.2 146.3 L553.8 145.6 L552.1 144.9 L550.4 144.2 L548.7 143.4 L547.0 142.7 L545.2 142.0 L543.6 141.3 L542.0 140.6 L540.6 140.0 L539.3 139.4 L538.1 138.9 L537.1 138.5 L535.8 138.0 L534.4 137.5 L532.7 136.9 L530.8 136.2 L528.7 135.5 L527.1 134.9 L525.4 134.3 L523.5 133.5 L521.5 132.8 L519.3 131.9 L516.9 130.9 L514.6 129.9 L512.4 128.9 L510.4 127.9 L508.6 127.0 L506.9 126.1 L505.3 125.3 L503.4 124.4 L501.6 123.5 L499.8 122.5 L498.1 121.6 L496.4 120.8 L494.9 120.0 L493.3 119.2 L491.8 118.5 L490.5 117.8 L489.3 117.1 L488.1 116.6 L487.0 116.0 L485.7 115.4 L484.6 114.8 L483.8 114.4 L483.2 114.1 L482.7 113.9 L482.1 113.6 L481.1 113.2 L479.9 112.7 L478.5 112.1 L477.0 111.5 L475.5 110.9 L474.0 110.3 L472.6 109.7 L471.2 109.2 L469.8 108.6 L468.4 108.1 L467.0 107.5 L465.7 107.0 L464.3 106.5 L463.0 106.0 L461.5 105.5 L460.1 105.0 L458.6 104.5 L457.0 104.0 L455.7 103.5 L454.5 103.1 L453.0 102.7 L451.4 102.1 L449.5 101.6 L447.4 100.9 L445.1 100.1 L442.5 99.3 L439.8 98.4 L437.2 97.6 L434.7 96.8 L432.5 96.1 L430.6 95.5 L428.9 95.0 L427.3 94.5 L425.8 94.1 L424.4 93.6 L422.8 93.2 L421.4 92.8 L419.9 92.4 L418.3 92.0 L416.5 91.6 L414.6 91.1 L412.4 90.5 L410.2 89.9 L408.0 89.3 L406.0 88.7 L404.1 88.2 L402.4 87.7 L400.8 87.3 L399.0 86.8 L397.2 86.4 L395.3 85.9 L393.2 85.4 L391.1 84.9 L388.8 84.4 L386.4 83.9 L383.9 83.3 L381.3 82.7 L378.8 82.1 L376.3 81.6 L374.1 81.1 L372.3 80.7 L370.8 80.3 L369.4 80.0 L367.8 79.7 L366.1 79.3 L364.0 78.8 L361.8 78.3 L359.3 77.7 L356.7 77.1 L354.1 76.5 L351.5 75.8 L349.0 75.2 L346.5 74.6 L344.1 74.1 L341.6 73.5 L339.2 72.9 L336.7 72.3 L334.1 71.7 L331.4 71.1 L328.7 70.4 L325.9 69.8 L323.0 69.2 L320.1 68.5 L317.0 67.8 L313.8 67.1 L310.5 66.4 L307.1 65.7 L303.8 65.0 L300.5 64.4 L297.3 63.8 L294.0 63.2 L290.8 62.6 L287.5 62.0 L284.3 61.5 L281.0 60.9 L277.7 60.3 L274.5 59.7 L271.3 59.1 L268.0 58.5 L264.7 57.9 L261.3 57.3 L257.9 56.6 L254.5 56.0 L251.1 55.4 L247.8 54.7 L244.5 54.1 L241.2 53.5 L237.9 52.9 L234.4 52.3 L230.9 51.7 L227.3 51.1 L223.8 50.5 L220.6 50.0 L217.9 49.6 L215.8 49.3 L214.3 49.1 L213.0 49.0 L211.7 48.8 L210.0 48.6 L207.9 48.4 L205.6 48.2 L203.1 47.9 L200.4 47.7 L197.7 47.4 L194.9 47.2 L192.0 46.9 L189.1 46.6 L186.0 46.4 L182.8 46.1 L179.6 45.8 L176.4 45.5 L173.3 45.2 L170.1 44.9 L167.0 44.6 L163.9 44.4 L160.8 44.1 L157.6 43.8 L154.5 43.5 L151.3 43.2 L148.1 42.9 L145.0 42.6 L141.9 42.4 L138.9 42.1 L135.9 41.9 L132.9 41.6 L129.8 41.4 L126.8 41.3 L123.7 41.1 L120.7 41.0 L117.6 40.8 L114.5 40.7 L111.3 40.6 L108.2 40.5 L105.1 40.5 L102.0 40.4 L99.1 40.4 L96.3 40.4 L93.4 40.4 L90.6 40.5 L87.9 40.5 L85.7 40.6 L84.0 40.6 Z" fill="url(#upg)"/>
</g>
<g filter="url(#blur15)">
<path d="M497 88 L510 98 L525 109 L540 117" fill="none" stroke="#5ccce4" stroke-width="5" opacity="0.6"/>
<ellipse cx="578" cy="188" rx="22" ry="9" fill="#a8f09c" opacity="0.7" transform="rotate(25 578 188)"/>
<path d="M545 170 L553 174 L562 179" fill="none" stroke="#e8c890" stroke-width="3" opacity="0.6"/>
<ellipse cx="533" cy="178.5" rx="3" ry="2" fill="#f0b878" opacity="0.8"/>
<ellipse cx="542" cy="183" rx="5" ry="2" fill="#f4a870" opacity="0.8"/>
</g>
<g filter="url(#blur08)">
<path d="M84.0 94.7 L84.9 94.5 L86.1 94.2 L87.4 94.0 L88.9 93.7 L90.4 93.5 L92.0 93.3 L93.7 93.1 L95.5 93.0 L97.5 92.9 L99.4 92.9 L101.4 92.9 L103.3 92.9 L105.2 93.0 L107.1 93.1 L108.9 93.2 L110.8 93.4 L112.6 93.7 L114.4 94.0 L116.2 94.5 L118.1 95.0 L119.9 95.5 L121.9 96.2 L123.8 96.8 L125.8 97.4 L127.7 98.1 L129.7 98.8 L131.7 99.5 L133.7 100.3 L135.6 101.0 L137.5 101.6 L139.3 102.1 L141.1 102.6 L142.8 103.0 L144.4 103.4 L145.8 103.7 L147.1 103.9 L148.2 104.1 L149.2 104.3 L150.1 104.4 L151.0 104.4 L151.9 104.4 L152.8 104.3 L153.8 104.1 L154.7 103.9 L155.7 103.6 L156.6 103.2 L157.5 102.9 L158.5 102.5 L159.7 101.9 L160.9 101.3 L162.2 100.6 L163.4 100.0 L164.7 99.4 L165.8 98.8 L167.0 98.4 L168.1 97.9 L169.3 97.4 L170.5 97.0 L171.6 96.6 L172.7 96.3 L173.8 96.0 L175.0 95.7 L176.1 95.5 L177.2 95.3 L178.4 95.1 L179.6 95.0 L180.8 94.8 L181.9 94.7 L183.1 94.6 L184.3 94.5 L185.4 94.5 L186.6 94.4 L187.8 94.3 L189.0 94.3 L190.2 94.3 L191.3 94.3 L192.4 94.3 L193.5 94.4 L194.7 94.5 L195.8 94.7 L196.9 94.8 L198.0 95.0 L199.1 95.3 L200.1 95.6 L201.1 96.0 L202.2 96.5 L203.4 97.1 L204.5 97.7 L205.8 98.4 L207.0 99.0 L208.1 99.7 L209.3 100.4 L210.5 101.1 L211.8 101.8 L213.1 102.5 L214.5 103.2 L215.8 103.7 L217.1 104.2 L218.4 104.7 L219.8 105.1 L221.2 105.4 L222.7 105.6 L224.2 105.7 L225.6 105.6 L227.0 105.5 L228.3 105.3 L229.6 105.1 L230.8 104.9 L232.2 104.6 L233.4 104.3 L234.6 103.9 L235.8 103.6 L237.0 103.3 L238.2 103.0 L239.6 102.8 L241.2 102.5 L242.9 102.2 L244.6 101.9 L246.2 101.7 L247.7 101.5 L249.1 101.3 L250.3 101.1 L251.5 100.9 L252.6 100.8 L253.7 100.7 L254.8 100.6 L256.0 100.5 L257.1 100.5 L258.3 100.5 L259.4 100.5 L260.5 100.5 L261.7 100.6 L262.8 100.7 L264.0 100.8 L265.1 101.0 L266.2 101.2 L267.3 101.4 L268.4 101.7 L269.5 102.0 L270.6 102.4 L271.8 102.8 L272.9 103.3 L274.0 103.8 L275.0 104.3 L276.1 105.0 L277.2 105.7 L278.4 106.6 L279.6 107.5 L280.8 108.4 L282.1 109.3 L283.4 110.1 L284.6 111.0 L285.9 111.8 L287.3 112.6 L288.6 113.3 L289.9 114.0 L291.2 114.4 L292.5 114.8 L293.6 115.0 L294.8 115.1 L295.9 115.2 L296.9 115.2 L298.1 115.2 L299.2 115.0 L300.3 114.8 L301.4 114.6 L302.4 114.4 L303.5 114.1 L304.8 113.8 L306.1 113.4 L307.3 112.9 L308.5 112.5 L309.7 112.2 L310.7 111.9 L311.8 111.7 L312.9 111.6 L314.1 111.4 L315.2 111.3 L316.3 111.2 L317.5 111.2 L318.6 111.2 L319.7 111.2 L320.8 111.3 L322.0 111.4 L323.1 111.5 L324.2 111.7 L325.4 111.9 L326.6 112.1 L327.8 112.4 L329.0 112.7 L330.1 113.0 L331.1 113.3 L332.0 113.6 L332.8 113.8 L333.5 114.1 L334.3 114.4 L335.2 114.8 L336.2 115.2 L337.3 115.6 L338.5 116.1 L339.7 116.6 L341.0 117.1 L342.3 117.6 L343.6 118.1 L344.8 118.6 L346.1 119.0 L347.3 119.4 L348.5 119.8 L349.7 120.2 L350.9 120.6 L352.1 121.1 L353.3 121.5 L354.5 121.9 L355.8 122.4 L357.0 122.8 L358.3 123.2 L359.5 123.7 L360.8 124.0 L362.0 124.4 L363.2 124.8 L364.4 125.1 L365.6 125.5 L366.8 125.8 L368.0 126.2 L369.3 126.6 L370.5 127.0 L371.8 127.4 L373.1 127.7 L374.3 128.0 L375.6 128.3 L376.9 128.6 L378.1 128.8 L379.3 129.0 L380.6 129.3 L381.8 129.5 L383.1 129.7 L384.3 129.9 L385.5 130.0 L386.8 130.2 L388.0 130.4 L389.3 130.5 L390.5 130.7 L391.7 130.8 L393.0 130.9 L394.2 131.1 L395.4 131.2 L396.6 131.3 L397.9 131.4 L399.1 131.5 L400.3 131.6 L401.5 131.8 L402.7 131.9 L403.9 132.0 L405.1 132.2 L406.3 132.3 L407.4 132.5 L408.6 132.7 L409.8 132.9 L411.0 133.1 L412.3 133.3 L413.5 133.5 L414.6 133.7 L415.7 134.0 L416.7 134.2 L417.6 134.6 L418.5 135.0 L419.3 135.4 L420.1 135.8 L420.9 136.3 L421.7 136.8 L422.4 137.3 L423.1 137.8 L423.7 138.4 L424.4 139.0 L425.1 139.7 L425.8 140.5 L426.5 141.4 L427.3 142.3 L428.1 143.3 L428.9 144.3 L429.7 145.3 L430.4 146.3 L430.9 147.0 L431.4 147.9 L431.9 148.8 L432.5 149.9 L433.3 151.0 L434.3 152.0 L435.2 152.8 L436.2 153.5 L437.3 154.1 L438.5 154.7 L439.7 155.1 L441.0 155.4 L442.4 155.5 L443.7 155.5 L445.0 155.4 L446.3 155.2 L447.5 155.0 L448.8 154.9 L450.5 154.7 L452.3 154.4 L454.1 154.1 L455.8 153.9 L457.5 153.7 L458.9 153.7 L460.2 153.8 L461.4 153.9 L462.6 154.2 L463.9 154.5 L465.4 154.9 L467.1 155.3 L468.9 155.8 L470.8 156.3 L472.8 156.8 L474.8 157.4 L476.9 158.1 L479.0 158.7 L481.3 159.5 L483.8 160.5 L486.3 161.5 L488.8 162.4 L491.0 163.3 L493.0 164.0 L494.6 164.5 L495.8 164.9 L496.8 165.1 L497.5 165.3 L498.2 165.4 L499.0 165.7 L500.1 166.1 L501.2 166.6 L502.4 167.1 L503.6 167.6 L504.7 168.1 L505.8 168.7 L507.0 169.4 L508.2 170.2 L509.4 171.0 L510.6 171.9 L511.7 172.7 L512.7 173.5 L513.5 174.2 L514.2 174.8 L514.8 175.5 L515.5 176.1 L516.1 176.8 L516.8 177.5 L517.4 178.3 L518.1 179.1 L518.9 180.0 L519.6 181.0 L520.4 181.9 L521.2 182.8 L522.0 183.5 L522.7 184.2 L523.5 185.0 L524.3 185.7 L525.2 186.3 L526.3 186.9 L527.3 187.4 L528.3 187.9 L529.4 188.3 L530.6 188.7 L531.8 188.9 L533.2 189.2 L534.6 189.3 L536.2 189.4 L537.7 189.5 L539.3 189.5 L540.8 189.5 L542.3 189.5 L543.8 189.5 L545.3 189.5 L546.8 189.5 L548.3 189.5 L549.7 189.5 L551.0 189.5 L552.3 189.6 L553.5 189.6 L554.6 189.7 L555.7 189.8 L556.7 189.9 L557.8 190.1 L558.8 190.4 L559.9 190.7 L561.0 191.1 L562.2 191.6 L563.4 192.0 L564.6 192.5 L565.8 193.0 L567.0 193.4 L568.2 193.9 L569.4 194.5 L570.6 195.0 L571.7 195.5 L572.9 196.1 L574.1 196.6 L575.3 197.2 L576.5 197.8 L577.7 198.4 L578.9 199.1 L580.1 199.7 L581.3 200.4 L582.5 201.0 L583.8 201.7 L585.0 202.4 L586.2 203.1 L587.4 203.7 L588.7 204.3 L589.9 204.9 L591.1 205.5 L592.0 206.0 L592.7 206.3 L595.6 200.5 L594.9 200.1 L593.9 199.7 L592.8 199.1 L591.6 198.5 L590.4 197.9 L589.2 197.3 L588.1 196.7 L587.0 196.0 L585.7 195.3 L584.5 194.6 L583.2 193.9 L582.0 193.2 L580.7 192.6 L579.5 191.9 L578.3 191.3 L577.0 190.7 L575.8 190.0 L574.5 189.4 L573.3 188.9 L572.1 188.3 L570.8 187.7 L569.6 187.2 L568.3 186.7 L567.1 186.1 L565.9 185.7 L564.6 185.2 L563.4 184.7 L562.0 184.2 L560.7 183.8 L559.2 183.4 L557.8 183.1 L556.5 182.9 L555.2 182.8 L553.9 182.7 L552.6 182.6 L551.3 182.5 L549.8 182.5 L548.3 182.5 L546.7 182.5 L545.2 182.5 L543.8 182.5 L542.3 182.5 L540.8 182.4 L539.3 182.4 L537.8 182.4 L536.5 182.3 L535.2 182.2 L534.2 182.0 L533.3 181.8 L532.5 181.6 L531.7 181.3 L531.1 181.0 L530.5 180.7 L529.8 180.4 L529.4 180.0 L528.9 179.7 L528.5 179.3 L528.0 178.8 L527.4 178.1 L526.8 177.4 L526.2 176.8 L525.6 176.0 L524.9 175.2 L524.2 174.2 L523.4 173.2 L522.6 172.2 L521.9 171.4 L521.2 170.7 L520.5 169.9 L519.7 169.1 L518.7 168.2 L517.7 167.3 L516.6 166.4 L515.4 165.5 L514.0 164.5 L512.6 163.5 L511.2 162.6 L509.8 161.8 L508.3 161.0 L506.9 160.3 L505.5 159.7 L504.2 159.1 L502.9 158.6 L501.7 158.2 L500.4 157.8 L499.4 157.5 L498.5 157.3 L497.8 157.1 L496.9 156.9 L495.7 156.5 L493.9 155.8 L491.7 155.0 L489.2 154.0 L486.6 153.0 L484.0 152.0 L481.6 151.2 L479.3 150.4 L477.1 149.7 L474.9 149.1 L472.8 148.5 L470.9 148.0 L469.0 147.6 L467.4 147.1 L465.9 146.7 L464.4 146.4 L462.8 146.1 L461.0 145.8 L459.1 145.7 L457.0 145.7 L454.9 145.9 L452.9 146.1 L451.0 146.4 L449.3 146.6 L447.9 146.7 L446.4 146.8 L445.1 146.9 L444.0 147.0 L443.3 147.0 L442.7 147.0 L442.4 146.9 L442.0 146.8 L441.6 146.6 L441.3 146.4 L440.9 146.2 L440.5 145.9 L440.2 145.6 L440.2 145.5 L439.9 145.1 L439.6 144.5 L439.1 143.6 L438.4 142.4 L437.6 141.1 L436.8 140.0 L436.0 138.9 L435.1 137.8 L434.2 136.6 L433.3 135.5 L432.4 134.5 L431.6 133.6 L430.7 132.7 L429.9 131.8 L428.9 131.0 L427.9 130.1 L426.8 129.4 L425.7 128.6 L424.6 128.0 L423.4 127.3 L422.1 126.7 L420.8 126.2 L419.5 125.7 L418.0 125.3 L416.6 124.9 L415.1 124.6 L413.8 124.4 L412.5 124.2 L411.3 124.0 L410.0 123.8 L408.7 123.6 L407.4 123.4 L406.2 123.2 L404.9 123.1 L403.7 122.9 L402.4 122.8 L401.1 122.7 L399.9 122.6 L398.7 122.5 L397.5 122.3 L396.3 122.2 L395.1 122.1 L393.9 122.0 L392.7 121.9 L391.5 121.7 L390.3 121.6 L389.2 121.4 L388.0 121.3 L386.8 121.1 L385.6 120.9 L384.5 120.7 L383.3 120.5 L382.2 120.3 L381.0 120.1 L379.8 119.9 L378.7 119.6 L377.5 119.4 L376.4 119.1 L375.3 118.8 L374.3 118.5 L373.2 118.2 L372.0 117.8 L370.8 117.4 L369.6 117.0 L368.3 116.5 L367.1 116.1 L365.9 115.7 L364.7 115.4 L363.5 115.0 L362.4 114.6 L361.2 114.2 L360.1 113.8 L359.0 113.4 L357.8 112.9 L356.6 112.4 L355.4 112.0 L354.1 111.5 L352.8 111.0 L351.6 110.6 L350.4 110.1 L349.2 109.7 L348.1 109.3 L347.0 108.9 L345.8 108.4 L344.6 107.9 L343.4 107.4 L342.2 106.9 L341.0 106.4 L339.8 105.9 L338.9 105.6 L338.1 105.2 L337.2 104.8 L336.3 104.5 L335.2 104.1 L334.0 103.7 L332.8 103.3 L331.5 103.0 L330.1 102.6 L328.7 102.3 L327.2 101.9 L325.8 101.6 L324.4 101.3 L323.0 101.1 L321.6 100.9 L320.1 100.7 L318.7 100.6 L317.2 100.5 L315.8 100.5 L314.4 100.5 L312.9 100.6 L311.4 100.7 L310.0 100.9 L308.4 101.2 L306.8 101.6 L305.2 102.0 L303.8 102.5 L302.6 102.9 L301.6 103.2 L300.8 103.4 L299.9 103.7 L299.0 103.9 L298.3 104.0 L297.7 104.1 L297.3 104.2 L296.8 104.2 L296.2 104.2 L295.6 104.2 L295.3 104.1 L294.9 104.1 L294.6 104.0 L294.2 103.8 L293.6 103.6 L292.8 103.1 L291.8 102.5 L290.7 101.8 L289.5 100.9 L288.2 100.1 L287.2 99.5 L286.2 98.7 L284.9 97.7 L283.6 96.7 L282.1 95.7 L280.4 94.7 L278.8 93.9 L277.3 93.2 L275.7 92.6 L274.3 92.0 L272.8 91.5 L271.3 91.1 L269.8 90.7 L268.3 90.3 L266.8 90.0 L265.4 89.7 L263.9 89.5 L262.6 89.3 L261.1 89.1 L259.6 88.9 L258.2 88.8 L256.8 88.7 L255.4 88.6 L254.0 88.6 L252.6 88.6 L251.2 88.6 L249.9 88.6 L248.6 88.7 L247.2 88.8 L245.9 88.9 L244.3 89.0 L242.6 89.2 L240.9 89.4 L239.1 89.7 L237.3 90.0 L235.6 90.3 L233.9 90.7 L232.4 91.2 L231.1 91.5 L230.1 91.9 L229.3 92.1 L228.6 92.4 L227.4 92.6 L226.3 92.9 L225.5 93.1 L224.8 93.2 L224.3 93.4 L223.9 93.4 L223.5 93.4 L222.8 93.4 L222.1 93.3 L221.2 93.1 L220.2 92.8 L219.2 92.4 L218.3 92.2 L217.4 91.7 L216.3 91.2 L215.1 90.6 L213.7 89.8 L212.3 89.1 L211.1 88.6 L209.8 88.0 L208.5 87.3 L207.0 86.6 L205.4 85.9 L203.7 85.2 L202.0 84.7 L200.4 84.3 L198.9 84.0 L197.4 83.8 L195.9 83.6 L194.5 83.4 L193.0 83.3 L191.5 83.3 L190.0 83.3 L188.7 83.3 L187.4 83.4 L186.2 83.4 L184.9 83.5 L183.6 83.5 L182.2 83.6 L180.9 83.8 L179.5 83.9 L178.1 84.1 L176.8 84.3 L175.5 84.5 L174.1 84.7 L172.7 85.0 L171.2 85.3 L169.7 85.7 L168.3 86.1 L166.8 86.6 L165.4 87.1 L164.1 87.7 L162.7 88.2 L161.4 88.8 L159.9 89.5 L158.4 90.2 L157.1 90.8 L155.9 91.4 L154.9 91.9 L154.1 92.2 L153.2 92.6 L152.5 92.8 L152.0 93.0 L151.7 93.0 L151.5 93.1 L151.3 93.1 L151.0 93.1 L150.9 93.0 L150.9 93.0 L150.7 92.9 L150.2 92.8 L149.3 92.6 L148.2 92.3 L146.9 92.0 L145.6 91.5 L144.1 91.1 L142.6 90.6 L141.1 90.0 L139.5 89.4 L137.8 88.7 L135.9 87.9 L133.9 87.0 L131.9 86.2 L129.7 85.4 L127.9 84.7 L125.9 83.9 L123.8 83.2 L121.7 82.5 L119.4 81.9 L117.0 81.3 L114.7 80.9 L112.4 80.5 L110.2 80.2 L108.0 80.0 L105.8 79.8 L103.7 79.6 L101.5 79.5 L99.2 79.4 L96.9 79.4 L94.7 79.4 L92.7 79.4 L90.7 79.5 L88.6 79.7 L86.6 80.0 L84.8 80.3 L83.3 80.5 L82.2 80.8 L81.5 80.9 Z" fill="#b4f09a" opacity="0.8"/>
<path d="M84.0 94.7 L84.9 94.5 L86.1 94.2 L87.4 94.0 L88.9 93.7 L90.4 93.5 L92.0 93.3 L93.7 93.1 L95.5 93.0 L97.5 92.9 L99.4 92.9 L101.4 92.9 L103.3 92.9 L105.2 93.0 L107.1 93.1 L108.9 93.2 L110.8 93.4 L112.6 93.7 L114.4 94.0 L116.2 94.5 L118.1 95.0 L119.9 95.5 L121.9 96.2 L123.8 96.8 L125.8 97.4 L127.7 98.1 L129.7 98.8 L131.7 99.5 L133.7 100.3 L135.6 101.0 L137.5 101.6 L139.3 102.1 L141.1 102.6 L142.8 103.0 L144.4 103.4 L145.8 103.7 L147.1 103.9 L148.2 104.1 L149.2 104.3 L150.1 104.4 L151.0 104.4 L151.9 104.4 L152.8 104.3 L153.8 104.1 L154.7 103.9 L155.7 103.6 L156.6 103.2 L157.5 102.9 L158.5 102.5 L159.7 101.9 L160.9 101.3 L162.2 100.6 L163.4 100.0 L164.7 99.4 L165.8 98.8 L167.0 98.4 L168.1 97.9 L169.3 97.4 L170.5 97.0 L171.6 96.6 L172.7 96.3 L173.8 96.0 L175.0 95.7 L176.1 95.5 L177.2 95.3 L178.4 95.1 L179.6 95.0 L180.8 94.8 L181.9 94.7 L183.1 94.6 L184.3 94.5 L185.4 94.5 L186.6 94.4 L187.8 94.3 L189.0 94.3 L190.2 94.3 L191.3 94.3 L192.4 94.3 L193.5 94.4 L194.7 94.5 L195.8 94.7 L196.9 94.8 L198.0 95.0 L199.1 95.3 L200.1 95.6 L201.1 96.0 L202.2 96.5 L203.4 97.1 L204.5 97.7 L205.8 98.4 L207.0 99.0 L208.1 99.7 L209.3 100.4 L210.5 101.1 L211.8 101.8 L213.1 102.5 L214.5 103.2 L215.8 103.7 L217.1 104.2 L218.4 104.7 L219.8 105.1 L221.2 105.4 L222.7 105.6 L224.2 105.7 L225.6 105.6 L227.0 105.5 L228.3 105.3 L229.6 105.1 L230.8 104.9 L232.2 104.6 L233.4 104.3 L234.6 103.9 L235.8 103.6 L237.0 103.3 L238.2 103.0 L239.6 102.8 L241.2 102.5 L242.9 102.2 L244.6 101.9 L246.2 101.7 L247.7 101.5 L249.1 101.3 L250.3 101.1 L251.5 100.9 L252.6 100.8 L253.7 100.7 L254.8 100.6 L256.0 100.5 L257.1 100.5 L258.3 100.5 L259.4 100.5 L260.5 100.5 L261.7 100.6 L262.8 100.7 L264.0 100.8 L265.1 101.0 L266.2 101.2 L267.3 101.4 L268.4 101.7 L269.5 102.0 L270.6 102.4 L271.8 102.8 L272.9 103.3 L274.0 103.8 L275.0 104.3 L276.1 105.0 L277.2 105.7 L278.4 106.6 L279.6 107.5 L280.8 108.4 L282.1 109.3 L283.4 110.1 L284.6 111.0 L285.9 111.8 L287.3 112.6 L288.6 113.3 L289.9 114.0 L291.2 114.4 L292.5 114.8 L293.6 115.0 L294.8 115.1 L295.9 115.2 L296.9 115.2 L298.1 115.2 L299.2 115.0 L300.3 114.8 L301.4 114.6 L302.4 114.4 L303.5 114.1 L304.8 113.8 L306.1 113.4 L307.3 112.9 L308.5 112.5 L309.7 112.2 L310.7 111.9 L311.8 111.7 L312.9 111.6 L314.1 111.4 L315.2 111.3 L316.3 111.2 L317.5 111.2 L318.6 111.2 L319.7 111.2 L320.8 111.3 L322.0 111.4 L323.1 111.5 L324.2 111.7 L325.4 111.9 L326.6 112.1 L327.8 112.4 L329.0 112.7 L330.1 113.0 L331.1 113.3 L332.0 113.6 L332.8 113.8 L333.5 114.1 L334.3 114.4 L335.2 114.8 L336.2 115.2 L337.3 115.6 L338.5 116.1 L339.7 116.6 L341.0 117.1 L342.3 117.6 L343.6 118.1 L344.8 118.6 L346.1 119.0 L347.3 119.4 L348.5 119.8 L349.7 120.2 L350.9 120.6 L352.1 121.1 L353.3 121.5 L354.5 121.9 L355.8 122.4 L357.0 122.8 L358.3 123.2 L359.5 123.7 L360.8 124.0 L362.0 124.4 L363.2 124.8 L364.4 125.1 L365.6 125.5 L366.8 125.8 L368.0 126.2 L369.3 126.6 L370.5 127.0 L371.8 127.4 L373.1 127.7 L374.3 128.0 L375.6 128.3 L376.9 128.6 L378.1 128.8 L379.3 129.0 L380.6 129.3 L381.8 129.5 L383.1 129.7 L384.3 129.9 L385.5 130.0 L386.8 130.2 L388.0 130.4 L389.3 130.5 L390.5 130.7 L391.7 130.8 L393.0 130.9 L394.2 131.1 L395.4 131.2 L396.6 131.3 L397.9 131.4 L399.1 131.5 L400.3 131.6 L401.5 131.8 L402.7 131.9 L403.9 132.0 L405.1 132.2 L406.3 132.3 L407.4 132.5 L408.6 132.7 L409.8 132.9 L411.0 133.1 L412.3 133.3 L413.5 133.5 L414.6 133.7 L415.7 134.0 L416.7 134.2 L417.6 134.6 L418.5 135.0 L419.3 135.4 L420.1 135.8 L420.9 136.3 L421.7 136.8 L422.4 137.3 L423.1 137.8 L423.7 138.4 L424.4 139.0 L425.1 139.7 L425.8 140.5 L426.5 141.4 L427.3 142.3 L428.1 143.3 L428.9 144.3 L429.7 145.3 L430.4 146.3 L430.9 147.0 L431.4 147.9 L431.9 148.8 L432.5 149.9 L433.3 151.0 L434.3 152.0 L435.2 152.8 L436.2 153.5 L437.3 154.1 L438.5 154.7 L439.7 155.1 L441.0 155.4 L442.4 155.5 L443.7 155.5 L445.0 155.4 L446.3 155.2 L447.5 155.0 L448.8 154.9 L450.5 154.7 L452.3 154.4 L454.1 154.1 L455.8 153.9 L457.5 153.7 L458.9 153.7 L460.2 153.8 L461.4 153.9 L462.6 154.2 L463.9 154.5 L465.4 154.9 L467.1 155.3 L468.9 155.8 L470.8 156.3 L472.8 156.8 L474.8 157.4 L476.9 158.1 L479.0 158.7 L481.3 159.5 L483.8 160.5 L486.3 161.5 L488.8 162.4 L491.0 163.3 L493.0 164.0 L494.6 164.5 L495.8 164.9 L496.8 165.1 L497.5 165.3 L498.2 165.4 L499.0 165.7 L500.1 166.1 L501.2 166.6 L502.4 167.1 L503.6 167.6 L504.7 168.1 L505.8 168.7 L507.0 169.4 L508.2 170.2 L509.4 171.0 L510.6 171.9 L511.7 172.7 L512.7 173.5 L513.5 174.2 L514.2 174.8 L514.8 175.5 L515.5 176.1 L516.1 176.8 L516.8 177.5 L517.4 178.3 L518.1 179.1 L518.9 180.0 L519.6 181.0 L520.4 181.9 L521.2 182.8 L522.0 183.5 L522.7 184.2 L523.5 185.0 L524.3 185.7 L525.2 186.3 L526.3 186.9 L527.3 187.4 L528.3 187.9 L529.4 188.3 L530.6 188.7 L531.8 188.9 L533.2 189.2 L534.6 189.3 L536.2 189.4 L537.7 189.5 L539.3 189.5 L540.8 189.5 L542.3 189.5 L543.8 189.5 L545.3 189.5 L546.8 189.5 L548.3 189.5 L549.7 189.5 L551.0 189.5 L552.3 189.6 L553.5 189.6 L554.6 189.7 L555.7 189.8 L556.7 189.9 L557.8 190.1 L558.8 190.4 L559.9 190.7 L561.0 191.1 L562.2 191.6 L563.4 192.0 L564.6 192.5 L565.8 193.0 L567.0 193.4 L568.2 193.9 L569.4 194.5 L570.6 195.0 L571.7 195.5 L572.9 196.1 L574.1 196.6 L575.3 197.2 L576.5 197.8 L577.7 198.4 L578.9 199.1 L580.1 199.7 L581.3 200.4 L582.5 201.0 L583.8 201.7 L585.0 202.4 L586.2 203.1 L587.4 203.7 L588.7 204.3 L589.9 204.9 L591.1 205.5 L592.0 206.0 L592.7 206.3 L595.1 201.4 L594.4 201.0 L593.5 200.6 L592.4 200.0 L591.2 199.4 L589.9 198.8 L588.8 198.2 L587.6 197.6 L586.5 196.9 L585.2 196.2 L584.0 195.5 L582.7 194.8 L581.5 194.1 L580.3 193.5 L579.0 192.9 L577.8 192.2 L576.6 191.6 L575.3 191.0 L574.1 190.4 L572.9 189.8 L571.6 189.3 L570.4 188.7 L569.2 188.2 L567.9 187.7 L566.7 187.2 L565.5 186.7 L564.2 186.2 L563.0 185.7 L561.7 185.3 L560.4 184.9 L559.0 184.5 L557.6 184.3 L556.3 184.1 L555.1 183.9 L553.8 183.8 L552.5 183.8 L551.2 183.7 L549.8 183.7 L548.3 183.7 L546.7 183.7 L545.2 183.7 L543.8 183.7 L542.3 183.7 L540.8 183.7 L539.3 183.6 L537.8 183.6 L536.4 183.5 L535.1 183.4 L534.0 183.3 L533.0 183.0 L532.1 182.8 L531.3 182.5 L530.6 182.2 L529.9 181.9 L529.2 181.5 L528.6 181.2 L528.1 180.8 L527.6 180.3 L527.0 179.8 L526.4 179.1 L525.7 178.4 L525.1 177.7 L524.5 176.9 L523.8 176.1 L523.1 175.1 L522.3 174.2 L521.5 173.2 L520.8 172.4 L520.1 171.7 L519.4 170.9 L518.6 170.2 L517.8 169.3 L516.8 168.5 L515.7 167.6 L514.5 166.7 L513.2 165.7 L511.8 164.8 L510.4 163.9 L509.0 163.1 L507.7 162.3 L506.3 161.7 L504.9 161.1 L503.6 160.5 L502.4 160.1 L501.2 159.6 L500.0 159.2 L499.0 159.0 L498.2 158.8 L497.4 158.6 L496.5 158.3 L495.2 157.9 L493.4 157.2 L491.1 156.4 L488.7 155.4 L486.1 154.4 L483.5 153.4 L481.1 152.6 L478.9 151.9 L476.7 151.2 L474.5 150.6 L472.5 150.0 L470.5 149.5 L468.7 149.0 L467.0 148.6 L465.5 148.2 L464.1 147.8 L462.5 147.5 L460.9 147.3 L459.1 147.2 L457.1 147.2 L455.1 147.4 L453.1 147.7 L451.3 147.9 L449.6 148.1 L448.1 148.3 L446.6 148.4 L445.3 148.6 L444.2 148.7 L443.4 148.8 L442.7 148.8 L442.1 148.7 L441.5 148.5 L441.0 148.3 L440.4 148.1 L439.9 147.7 L439.4 147.4 L438.9 147.0 L438.7 146.7 L438.3 146.2 L437.9 145.4 L437.4 144.5 L436.8 143.4 L436.0 142.2 L435.2 141.2 L434.4 140.1 L433.6 139.0 L432.7 137.9 L431.8 136.8 L430.9 135.8 L430.1 134.9 L429.3 134.1 L428.5 133.3 L427.6 132.5 L426.7 131.7 L425.7 131.0 L424.6 130.3 L423.6 129.7 L422.5 129.1 L421.3 128.6 L420.1 128.1 L418.9 127.6 L417.5 127.2 L416.1 126.9 L414.8 126.6 L413.5 126.4 L412.2 126.2 L411.0 126.0 L409.7 125.7 L408.4 125.6 L407.2 125.4 L405.9 125.2 L404.7 125.1 L403.5 124.9 L402.2 124.8 L400.9 124.7 L399.7 124.6 L398.5 124.4 L397.3 124.3 L396.1 124.2 L394.9 124.1 L393.7 124.0 L392.5 123.8 L391.3 123.7 L390.1 123.6 L388.9 123.4 L387.7 123.3 L386.5 123.1 L385.3 122.9 L384.2 122.7 L383.0 122.5 L381.8 122.3 L380.6 122.1 L379.4 121.9 L378.2 121.6 L377.1 121.4 L375.9 121.1 L374.8 120.8 L373.7 120.5 L372.6 120.2 L371.4 119.8 L370.2 119.4 L369.0 119.0 L367.7 118.6 L366.5 118.2 L365.2 117.9 L364.0 117.5 L362.9 117.1 L361.7 116.7 L360.5 116.4 L359.4 115.9 L358.2 115.5 L357.0 115.1 L355.8 114.6 L354.6 114.2 L353.3 113.7 L352.1 113.3 L350.9 112.8 L349.6 112.4 L348.5 112.0 L347.3 111.6 L346.1 111.1 L345.0 110.7 L343.7 110.2 L342.5 109.7 L341.3 109.2 L340.1 108.7 L338.9 108.2 L338.0 107.9 L337.2 107.5 L336.3 107.2 L335.4 106.8 L334.4 106.4 L333.3 106.1 L332.1 105.7 L330.8 105.4 L329.5 105.1 L328.2 104.7 L326.8 104.4 L325.4 104.2 L324.1 103.9 L322.7 103.8 L321.4 103.6 L320.0 103.5 L318.7 103.4 L317.3 103.4 L315.9 103.4 L314.6 103.4 L313.2 103.5 L311.8 103.7 L310.5 103.8 L309.1 104.1 L307.5 104.5 L306.1 104.9 L304.8 105.3 L303.5 105.7 L302.5 106.1 L301.6 106.3 L300.5 106.5 L299.6 106.8 L298.8 106.9 L298.1 107.0 L297.5 107.1 L296.9 107.1 L296.1 107.0 L295.4 107.0 L294.8 106.9 L294.3 106.8 L293.7 106.6 L293.1 106.4 L292.4 106.0 L291.4 105.5 L290.4 104.8 L289.2 104.0 L288.0 103.2 L286.8 102.3 L285.7 101.6 L284.6 100.7 L283.4 99.8 L282.1 98.8 L280.7 97.9 L279.1 96.9 L277.7 96.2 L276.3 95.5 L274.8 94.9 L273.4 94.4 L272.1 93.9 L270.7 93.5 L269.2 93.1 L267.8 92.8 L266.4 92.6 L265.0 92.3 L263.7 92.2 L262.3 92.0 L261.0 91.9 L259.6 91.8 L258.2 91.8 L256.9 91.8 L255.6 91.8 L254.2 91.9 L252.9 91.9 L251.6 92.0 L250.3 92.2 L249.1 92.3 L247.8 92.5 L246.4 92.6 L244.9 92.8 L243.2 93.1 L241.5 93.3 L239.7 93.6 L238.0 93.9 L236.4 94.2 L234.8 94.6 L233.4 95.0 L232.2 95.3 L231.1 95.7 L230.2 95.9 L229.3 96.1 L228.1 96.4 L226.9 96.6 L225.9 96.8 L225.0 96.9 L224.3 97.0 L223.6 97.0 L222.8 97.0 L222.0 96.8 L221.0 96.6 L220.0 96.3 L218.9 95.9 L217.8 95.5 L216.9 95.1 L215.8 94.6 L214.7 94.0 L213.5 93.3 L212.2 92.6 L210.8 91.9 L209.6 91.3 L208.4 90.6 L207.1 90.0 L205.7 89.3 L204.3 88.7 L202.7 88.1 L201.2 87.6 L199.8 87.2 L198.3 87.0 L196.9 86.7 L195.6 86.6 L194.3 86.4 L192.8 86.3 L191.4 86.3 L190.1 86.3 L188.8 86.3 L187.5 86.4 L186.3 86.4 L185.0 86.5 L183.7 86.5 L182.5 86.6 L181.2 86.7 L179.8 86.9 L178.5 87.0 L177.3 87.2 L176.0 87.4 L174.6 87.7 L173.3 87.9 L171.9 88.2 L170.5 88.6 L169.2 89.0 L167.8 89.4 L166.5 89.9 L165.2 90.4 L163.9 91.0 L162.6 91.5 L161.2 92.2 L159.8 92.8 L158.5 93.5 L157.3 94.1 L156.2 94.6 L155.3 95.0 L154.4 95.4 L153.6 95.7 L153.0 95.9 L152.5 96.0 L152.1 96.1 L151.7 96.1 L151.2 96.1 L150.9 96.1 L150.7 96.1 L150.3 96.0 L149.6 95.9 L148.7 95.7 L147.5 95.4 L146.2 95.1 L144.8 94.7 L143.3 94.2 L141.7 93.7 L140.1 93.1 L138.5 92.5 L136.7 91.8 L134.8 91.0 L132.8 90.2 L130.7 89.4 L128.7 88.6 L126.8 87.9 L124.8 87.2 L122.8 86.5 L120.7 85.9 L118.5 85.2 L116.3 84.7 L114.1 84.3 L111.9 84.0 L109.8 83.7 L107.7 83.5 L105.7 83.4 L103.6 83.3 L101.4 83.2 L99.3 83.1 L97.1 83.2 L95.0 83.2 L92.9 83.3 L91.0 83.4 L89.1 83.6 L87.2 83.9 L85.5 84.2 L84.1 84.5 L83.0 84.7 L82.2 84.8 Z" fill="#ecc67e"/>
<path d="M84.0 94.7 L84.9 94.5 L86.1 94.2 L87.4 94.0 L88.9 93.7 L90.4 93.5 L92.0 93.3 L93.7 93.1 L95.5 93.0 L97.5 92.9 L99.4 92.9 L101.4 92.9 L103.3 92.9 L105.2 93.0 L107.1 93.1 L108.9 93.2 L110.8 93.4 L112.6 93.7 L114.4 94.0 L116.2 94.5 L118.1 95.0 L119.9 95.5 L121.9 96.2 L123.8 96.8 L125.8 97.4 L127.7 98.1 L129.7 98.8 L131.7 99.5 L133.7 100.3 L135.6 101.0 L137.5 101.6 L139.3 102.1 L141.1 102.6 L142.8 103.0 L144.4 103.4 L145.8 103.7 L147.1 103.9 L148.2 104.1 L149.2 104.3 L150.1 104.4 L151.0 104.4 L151.9 104.4 L152.8 104.3 L153.8 104.1 L154.7 103.9 L155.7 103.6 L156.6 103.2 L157.5 102.9 L158.5 102.5 L159.7 101.9 L160.9 101.3 L162.2 100.6 L163.4 100.0 L164.7 99.4 L165.8 98.8 L167.0 98.4 L168.1 97.9 L169.3 97.4 L170.5 97.0 L171.6 96.6 L172.7 96.3 L173.8 96.0 L175.0 95.7 L176.1 95.5 L177.2 95.3 L178.4 95.1 L179.6 95.0 L180.8 94.8 L181.9 94.7 L183.1 94.6 L184.3 94.5 L185.4 94.5 L186.6 94.4 L187.8 94.3 L189.0 94.3 L190.2 94.3 L191.3 94.3 L192.4 94.3 L193.5 94.4 L194.7 94.5 L195.8 94.7 L196.9 94.8 L198.0 95.0 L199.1 95.3 L200.1 95.6 L201.1 96.0 L202.2 96.5 L203.4 97.1 L204.5 97.7 L205.8 98.4 L207.0 99.0 L208.1 99.7 L209.3 100.4 L210.5 101.1 L211.8 101.8 L213.1 102.5 L214.5 103.2 L215.8 103.7 L217.1 104.2 L218.4 104.7 L219.8 105.1 L221.2 105.4 L222.7 105.6 L224.2 105.7 L225.6 105.6 L227.0 105.5 L228.3 105.3 L229.6 105.1 L230.8 104.9 L232.2 104.6 L233.4 104.3 L234.6 103.9 L235.8 103.6 L237.0 103.3 L238.2 103.0 L239.6 102.8 L241.2 102.5 L242.9 102.2 L244.6 101.9 L246.2 101.7 L247.7 101.5 L249.1 101.3 L250.3 101.1 L251.5 100.9 L252.6 100.8 L253.7 100.7 L254.8 100.6 L256.0 100.5 L257.1 100.5 L258.3 100.5 L259.4 100.5 L260.5 100.5 L261.7 100.6 L262.8 100.7 L264.0 100.8 L265.1 101.0 L266.2 101.2 L267.3 101.4 L268.4 101.7 L269.5 102.0 L270.6 102.4 L271.8 102.8 L272.9 103.3 L274.0 103.8 L275.0 104.3 L276.1 105.0 L277.2 105.7 L278.4 106.6 L279.6 107.5 L280.8 108.4 L282.1 109.3 L283.4 110.1 L284.6 111.0 L285.9 111.8 L287.3 112.6 L288.6 113.3 L289.9 114.0 L291.2 114.4 L292.5 114.8 L293.6 115.0 L294.8 115.1 L295.9 115.2 L296.9 115.2 L298.1 115.2 L299.2 115.0 L300.3 114.8 L301.4 114.6 L302.4 114.4 L303.5 114.1 L304.8 113.8 L306.1 113.4 L307.3 112.9 L308.5 112.5 L309.7 112.2 L310.7 111.9 L311.8 111.7 L312.9 111.6 L314.1 111.4 L315.2 111.3 L316.3 111.2 L317.5 111.2 L318.6 111.2 L319.7 111.2 L320.8 111.3 L322.0 111.4 L323.1 111.5 L324.2 111.7 L325.4 111.9 L326.6 112.1 L327.8 112.4 L329.0 112.7 L330.1 113.0 L331.1 113.3 L332.0 113.6 L332.8 113.8 L333.5 114.1 L334.3 114.4 L335.2 114.8 L336.2 115.2 L337.3 115.6 L338.5 116.1 L339.7 116.6 L341.0 117.1 L342.3 117.6 L343.6 118.1 L344.8 118.6 L346.1 119.0 L347.3 119.4 L348.5 119.8 L349.7 120.2 L350.9 120.6 L352.1 121.1 L353.3 121.5 L354.5 121.9 L355.8 122.4 L357.0 122.8 L358.3 123.2 L359.5 123.7 L360.8 124.0 L362.0 124.4 L363.2 124.8 L364.4 125.1 L365.6 125.5 L366.8 125.8 L368.0 126.2 L369.3 126.6 L370.5 127.0 L371.8 127.4 L373.1 127.7 L374.3 128.0 L375.6 128.3 L376.9 128.6 L378.1 128.8 L379.3 129.0 L380.6 129.3 L381.8 129.5 L383.1 129.7 L384.3 129.9 L385.5 130.0 L386.8 130.2 L388.0 130.4 L389.3 130.5 L390.5 130.7 L391.7 130.8 L393.0 130.9 L394.2 131.1 L395.4 131.2 L396.6 131.3 L397.9 131.4 L399.1 131.5 L400.3 131.6 L401.5 131.8 L402.7 131.9 L403.9 132.0 L405.1 132.2 L406.3 132.3 L407.4 132.5 L408.6 132.7 L409.8 132.9 L411.0 133.1 L412.3 133.3 L413.5 133.5 L414.6 133.7 L415.7 134.0 L416.7 134.2 L417.6 134.6 L418.5 135.0 L419.3 135.4 L420.1 135.8 L420.9 136.3 L421.7 136.8 L422.4 137.3 L423.1 137.8 L423.7 138.4 L424.4 139.0 L425.1 139.7 L425.8 140.5 L426.5 141.4 L427.3 142.3 L428.1 143.3 L428.9 144.3 L429.7 145.3 L430.4 146.3 L430.9 147.0 L431.4 147.9 L431.9 148.8 L432.5 149.9 L433.3 151.0 L434.3 152.0 L435.2 152.8 L436.2 153.5 L437.3 154.1 L438.5 154.7 L439.7 155.1 L441.0 155.4 L442.4 155.5 L443.7 155.5 L445.0 155.4 L446.3 155.2 L447.5 155.0 L448.8 154.9 L450.5 154.7 L452.3 154.4 L454.1 154.1 L455.8 153.9 L457.5 153.7 L458.9 153.7 L460.2 153.8 L461.4 153.9 L462.6 154.2 L463.9 154.5 L465.4 154.9 L467.1 155.3 L468.9 155.8 L470.8 156.3 L472.8 156.8 L474.8 157.4 L476.9 158.1 L479.0 158.7 L481.3 159.5 L483.8 160.5 L486.3 161.5 L488.8 162.4 L491.0 163.3 L493.0 164.0 L494.6 164.5 L495.8 164.9 L496.8 165.1 L497.5 165.3 L498.2 165.4 L499.0 165.7 L500.1 166.1 L501.2 166.6 L502.4 167.1 L503.6 167.6 L504.7 168.1 L505.8 168.7 L507.0 169.4 L508.2 170.2 L509.4 171.0 L510.6 171.9 L511.7 172.7 L512.7 173.5 L513.5 174.2 L514.2 174.8 L514.8 175.5 L515.5 176.1 L516.1 176.8 L516.8 177.5 L517.4 178.3 L518.1 179.1 L518.9 180.0 L519.6 181.0 L520.4 181.9 L521.2 182.8 L522.0 183.5 L522.7 184.2 L523.5 185.0 L524.3 185.7 L525.2 186.3 L526.3 186.9 L527.3 187.4 L528.3 187.9 L529.4 188.3 L530.6 188.7 L531.8 188.9 L533.2 189.2 L534.6 189.3 L536.2 189.4 L537.7 189.5 L539.3 189.5 L540.8 189.5 L542.3 189.5 L543.8 189.5 L545.3 189.5 L546.8 189.5 L548.3 189.5 L549.7 189.5 L551.0 189.5 L552.3 189.6 L553.5 189.6 L554.6 189.7 L555.7 189.8 L556.7 189.9 L557.8 190.1 L558.8 190.4 L559.9 190.7 L561.0 191.1 L562.2 191.6 L563.4 192.0 L564.6 192.5 L565.8 193.0 L567.0 193.4 L568.2 193.9 L569.4 194.5 L570.6 195.0 L571.7 195.5 L572.9 196.1 L574.1 196.6 L575.3 197.2 L576.5 197.8 L577.7 198.4 L578.9 199.1 L580.1 199.7 L581.3 200.4 L582.5 201.0 L583.8 201.7 L585.0 202.4 L586.2 203.1 L587.4 203.7 L588.7 204.3 L589.9 204.9 L591.1 205.5 L592.0 206.0 L592.7 206.3 L594.4 202.7 L593.8 202.4 L592.8 201.9 L591.7 201.4 L590.5 200.8 L589.2 200.1 L588.1 199.5 L586.9 198.9 L585.7 198.2 L584.5 197.6 L583.3 196.9 L582.0 196.2 L580.8 195.5 L579.5 194.9 L578.3 194.3 L577.1 193.6 L575.9 193.0 L574.6 192.5 L573.4 191.9 L572.2 191.3 L571.0 190.8 L569.7 190.3 L568.5 189.7 L567.3 189.2 L566.1 188.7 L564.9 188.2 L563.7 187.7 L562.4 187.2 L561.2 186.8 L559.9 186.3 L558.7 186.0 L557.4 185.7 L556.2 185.5 L555.0 185.3 L553.7 185.2 L552.5 185.1 L551.2 185.0 L549.7 184.9 L548.3 184.9 L546.8 184.9 L545.3 184.9 L543.8 184.9 L542.3 184.9 L540.8 184.9 L539.3 184.8 L537.8 184.8 L536.4 184.7 L535.0 184.6 L533.9 184.5 L532.8 184.3 L531.8 184.0 L530.9 183.7 L530.1 183.4 L529.4 183.0 L528.6 182.6 L527.9 182.2 L527.3 181.8 L526.7 181.2 L526.1 180.7 L525.5 180.0 L524.8 179.3 L524.2 178.6 L523.5 177.8 L522.8 176.9 L522.1 175.9 L521.3 175.0 L520.6 174.1 L519.9 173.3 L519.2 172.6 L518.5 171.8 L517.8 171.1 L516.9 170.3 L516.0 169.5 L514.9 168.6 L513.7 167.7 L512.4 166.8 L511.1 165.9 L509.7 165.0 L508.4 164.2 L507.1 163.5 L505.7 162.8 L504.4 162.3 L503.1 161.7 L501.9 161.3 L500.7 160.8 L499.6 160.5 L498.7 160.2 L497.9 160.0 L497.1 159.8 L496.1 159.6 L494.7 159.1 L492.9 158.4 L490.7 157.6 L488.2 156.6 L485.6 155.6 L483.1 154.7 L480.7 153.8 L478.5 153.1 L476.3 152.4 L474.2 151.8 L472.1 151.2 L470.2 150.7 L468.3 150.3 L466.7 149.9 L465.2 149.5 L463.8 149.1 L462.3 148.8 L460.7 148.6 L459.0 148.5 L457.2 148.5 L455.2 148.7 L453.3 148.9 L451.5 149.2 L449.7 149.4 L448.2 149.6 L446.8 149.7 L445.5 149.8 L444.4 150.0 L443.4 150.0 L442.6 150.0 L441.9 149.9 L441.2 149.7 L440.5 149.5 L439.9 149.1 L439.2 148.8 L438.7 148.3 L438.1 147.9 L437.7 147.4 L437.3 146.8 L436.9 146.0 L436.4 145.1 L435.7 144.0 L435.0 142.9 L434.3 141.9 L433.5 140.8 L432.6 139.7 L431.8 138.6 L430.9 137.6 L430.1 136.6 L429.3 135.8 L428.5 134.9 L427.7 134.2 L426.8 133.4 L425.9 132.7 L425.0 132.0 L424.0 131.3 L423.0 130.7 L421.9 130.2 L420.8 129.7 L419.7 129.2 L418.5 128.7 L417.2 128.4 L415.9 128.0 L414.6 127.8 L413.3 127.5 L412.0 127.3 L410.8 127.1 L409.5 126.9 L408.3 126.7 L407.0 126.6 L405.8 126.4 L404.6 126.3 L403.3 126.1 L402.1 126.0 L400.8 125.9 L399.6 125.7 L398.4 125.6 L397.2 125.5 L396.0 125.4 L394.8 125.3 L393.6 125.2 L392.3 125.0 L391.1 124.9 L390.0 124.8 L388.8 124.6 L387.6 124.5 L386.4 124.3 L385.2 124.1 L384.0 123.9 L382.8 123.7 L381.6 123.5 L380.4 123.3 L379.2 123.1 L378.0 122.9 L376.8 122.6 L375.7 122.3 L374.5 122.1 L373.4 121.7 L372.2 121.4 L371.0 121.0 L369.8 120.6 L368.6 120.2 L367.3 119.9 L366.1 119.5 L364.9 119.1 L363.7 118.8 L362.5 118.4 L361.3 118.0 L360.1 117.6 L358.9 117.2 L357.8 116.8 L356.6 116.4 L355.3 115.9 L354.1 115.5 L352.9 115.0 L351.6 114.6 L350.4 114.2 L349.2 113.8 L348.0 113.4 L346.8 112.9 L345.6 112.5 L344.4 112.1 L343.2 111.6 L341.9 111.1 L340.7 110.5 L339.5 110.1 L338.4 109.6 L337.5 109.2 L336.6 108.9 L335.8 108.5 L334.9 108.2 L333.9 107.9 L332.9 107.5 L331.7 107.2 L330.5 106.9 L329.2 106.5 L327.8 106.2 L326.5 105.9 L325.2 105.7 L323.9 105.5 L322.6 105.3 L321.3 105.2 L320.0 105.1 L318.7 105.1 L317.3 105.1 L316.0 105.1 L314.7 105.2 L313.4 105.3 L312.1 105.4 L310.8 105.6 L309.4 105.9 L308.0 106.2 L306.6 106.6 L305.3 107.0 L304.1 107.5 L303.0 107.8 L302.0 108.1 L301.0 108.3 L300.0 108.5 L299.1 108.7 L298.4 108.8 L297.6 108.9 L296.9 108.9 L296.0 108.9 L295.3 108.9 L294.6 108.8 L293.9 108.6 L293.2 108.4 L292.4 108.1 L291.5 107.7 L290.5 107.1 L289.3 106.4 L288.2 105.6 L286.9 104.8 L285.7 104.0 L284.6 103.2 L283.4 102.3 L282.2 101.4 L280.9 100.4 L279.6 99.5 L278.2 98.7 L276.8 97.9 L275.5 97.3 L274.1 96.7 L272.8 96.3 L271.5 95.8 L270.1 95.4 L268.8 95.1 L267.4 94.8 L266.1 94.6 L264.8 94.4 L263.5 94.2 L262.2 94.1 L260.9 94.0 L259.5 94.0 L258.2 93.9 L256.9 94.0 L255.7 94.0 L254.4 94.1 L253.1 94.1 L251.9 94.3 L250.6 94.4 L249.4 94.6 L248.1 94.8 L246.8 95.0 L245.3 95.2 L243.6 95.4 L241.9 95.7 L240.1 96.0 L238.5 96.3 L236.9 96.6 L235.4 96.9 L234.1 97.3 L232.8 97.6 L231.7 97.9 L230.7 98.2 L229.7 98.4 L228.5 98.6 L227.3 98.9 L226.2 99.0 L225.2 99.2 L224.2 99.2 L223.3 99.2 L222.4 99.1 L221.4 98.8 L220.4 98.6 L219.3 98.2 L218.2 97.8 L217.0 97.3 L216.0 96.9 L214.9 96.3 L213.7 95.6 L212.5 94.9 L211.2 94.2 L209.9 93.5 L208.7 92.9 L207.5 92.3 L206.2 91.6 L204.9 90.9 L203.6 90.3 L202.1 89.8 L200.7 89.3 L199.4 89.0 L198.0 88.7 L196.7 88.5 L195.4 88.3 L194.1 88.2 L192.7 88.1 L191.4 88.1 L190.1 88.1 L188.8 88.1 L187.6 88.2 L186.4 88.2 L185.1 88.3 L183.9 88.3 L182.6 88.4 L181.3 88.5 L180.0 88.7 L178.8 88.8 L177.5 89.0 L176.3 89.2 L175.0 89.4 L173.7 89.7 L172.4 90.0 L171.0 90.3 L169.7 90.7 L168.4 91.1 L167.1 91.6 L165.8 92.1 L164.6 92.6 L163.3 93.2 L162.0 93.8 L160.6 94.4 L159.3 95.1 L158.1 95.7 L157.0 96.3 L156.0 96.7 L155.1 97.1 L154.3 97.4 L153.6 97.6 L153.0 97.8 L152.5 97.9 L151.9 98.0 L151.4 98.1 L151.0 98.1 L150.6 98.0 L150.0 98.0 L149.3 97.8 L148.3 97.6 L147.1 97.4 L145.8 97.1 L144.3 96.7 L142.7 96.2 L141.1 95.7 L139.5 95.2 L137.8 94.6 L135.9 93.9 L134.0 93.2 L132.0 92.4 L129.9 91.6 L127.9 90.9 L126.0 90.2 L124.0 89.6 L122.0 88.9 L120.0 88.2 L117.9 87.7 L115.8 87.2 L113.7 86.8 L111.6 86.5 L109.6 86.3 L107.6 86.1 L105.5 85.9 L103.5 85.8 L101.4 85.8 L99.3 85.8 L97.2 85.8 L95.1 85.9 L93.1 86.0 L91.3 86.2 L89.5 86.4 L87.7 86.6 L86.1 86.9 L84.7 87.2 L83.5 87.4 L82.7 87.6 Z" fill="#fd9c5a"/>
<path d="M84.0 94.7 L84.9 94.5 L86.1 94.2 L87.4 94.0 L88.9 93.7 L90.4 93.5 L92.0 93.3 L93.7 93.1 L95.5 93.0 L97.5 92.9 L99.4 92.9 L101.4 92.9 L103.3 92.9 L105.2 93.0 L107.1 93.1 L108.9 93.2 L110.8 93.4 L112.6 93.7 L114.4 94.0 L116.2 94.5 L118.1 95.0 L119.9 95.5 L121.9 96.2 L123.8 96.8 L125.8 97.4 L127.7 98.1 L129.7 98.8 L131.7 99.5 L133.7 100.3 L135.6 101.0 L137.5 101.6 L139.3 102.1 L141.1 102.6 L142.8 103.0 L144.4 103.4 L145.8 103.7 L147.1 103.9 L148.2 104.1 L149.2 104.3 L150.1 104.4 L151.0 104.4 L151.9 104.4 L152.8 104.3 L153.8 104.1 L154.7 103.9 L155.7 103.6 L156.6 103.2 L157.5 102.9 L158.5 102.5 L159.7 101.9 L160.9 101.3 L162.2 100.6 L163.4 100.0 L164.7 99.4 L165.8 98.8 L167.0 98.4 L168.1 97.9 L169.3 97.4 L170.5 97.0 L171.6 96.6 L172.7 96.3 L173.8 96.0 L175.0 95.7 L176.1 95.5 L177.2 95.3 L178.4 95.1 L179.6 95.0 L180.8 94.8 L181.9 94.7 L183.1 94.6 L184.3 94.5 L185.4 94.5 L186.6 94.4 L187.8 94.3 L189.0 94.3 L190.2 94.3 L191.3 94.3 L192.4 94.3 L193.5 94.4 L194.7 94.5 L195.8 94.7 L196.9 94.8 L198.0 95.0 L199.1 95.3 L200.1 95.6 L201.1 96.0 L202.2 96.5 L203.4 97.1 L204.5 97.7 L205.8 98.4 L207.0 99.0 L208.1 99.7 L209.3 100.4 L210.5 101.1 L211.8 101.8 L213.1 102.5 L214.5 103.2 L215.8 103.7 L217.1 104.2 L218.4 104.7 L219.8 105.1 L221.2 105.4 L222.7 105.6 L224.2 105.7 L225.6 105.6 L227.0 105.5 L228.3 105.3 L229.6 105.1 L230.8 104.9 L232.2 104.6 L233.4 104.3 L234.6 103.9 L235.8 103.6 L237.0 103.3 L238.2 103.0 L239.6 102.8 L241.2 102.5 L242.9 102.2 L244.6 101.9 L246.2 101.7 L247.7 101.5 L249.1 101.3 L250.3 101.1 L251.5 100.9 L252.6 100.8 L253.7 100.7 L254.8 100.6 L256.0 100.5 L257.1 100.5 L258.3 100.5 L259.4 100.5 L260.5 100.5 L261.7 100.6 L262.8 100.7 L264.0 100.8 L265.1 101.0 L266.2 101.2 L267.3 101.4 L268.4 101.7 L269.5 102.0 L270.6 102.4 L271.8 102.8 L272.9 103.3 L274.0 103.8 L275.0 104.3 L276.1 105.0 L277.2 105.7 L278.4 106.6 L279.6 107.5 L280.8 108.4 L282.1 109.3 L283.4 110.1 L284.6 111.0 L285.9 111.8 L287.3 112.6 L288.6 113.3 L289.9 114.0 L291.2 114.4 L292.5 114.8 L293.6 115.0 L294.8 115.1 L295.9 115.2 L296.9 115.2 L298.1 115.2 L299.2 115.0 L300.3 114.8 L301.4 114.6 L302.4 114.4 L303.5 114.1 L304.8 113.8 L306.1 113.4 L307.3 112.9 L308.5 112.5 L309.7 112.2 L310.7 111.9 L311.8 111.7 L312.9 111.6 L314.1 111.4 L315.2 111.3 L316.3 111.2 L317.5 111.2 L318.6 111.2 L319.7 111.2 L320.8 111.3 L322.0 111.4 L323.1 111.5 L324.2 111.7 L325.4 111.9 L326.6 112.1 L327.8 112.4 L329.0 112.7 L330.1 113.0 L331.1 113.3 L332.0 113.6 L332.8 113.8 L333.5 114.1 L334.3 114.4 L335.2 114.8 L336.2 115.2 L337.3 115.6 L338.5 116.1 L339.7 116.6 L341.0 117.1 L342.3 117.6 L343.6 118.1 L344.8 118.6 L346.1 119.0 L347.3 119.4 L348.5 119.8 L349.7 120.2 L350.9 120.6 L352.1 121.1 L353.3 121.5 L354.5 121.9 L355.8 122.4 L357.0 122.8 L358.3 123.2 L359.5 123.7 L360.8 124.0 L362.0 124.4 L363.2 124.8 L364.4 125.1 L365.6 125.5 L366.8 125.8 L368.0 126.2 L369.3 126.6 L370.5 127.0 L371.8 127.4 L373.1 127.7 L374.3 128.0 L375.6 128.3 L376.9 128.6 L378.1 128.8 L379.3 129.0 L380.6 129.3 L381.8 129.5 L383.1 129.7 L384.3 129.9 L385.5 130.0 L386.8 130.2 L388.0 130.4 L389.3 130.5 L390.5 130.7 L391.7 130.8 L393.0 130.9 L394.2 131.1 L395.4 131.2 L396.6 131.3 L397.9 131.4 L399.1 131.5 L400.3 131.6 L401.5 131.8 L402.7 131.9 L403.9 132.0 L405.1 132.2 L406.3 132.3 L407.4 132.5 L408.6 132.7 L409.8 132.9 L411.0 133.1 L412.3 133.3 L413.5 133.5 L414.6 133.7 L415.7 134.0 L416.7 134.2 L417.6 134.6 L418.5 135.0 L419.3 135.4 L420.1 135.8 L420.9 136.3 L421.7 136.8 L422.4 137.3 L423.1 137.8 L423.7 138.4 L424.4 139.0 L425.1 139.7 L425.8 140.5 L426.5 141.4 L427.3 142.3 L428.1 143.3 L428.9 144.3 L429.7 145.3 L430.4 146.3 L430.9 147.0 L431.4 147.9 L431.9 148.8 L432.5 149.9 L433.3 151.0 L434.3 152.0 L435.2 152.8 L436.2 153.5 L437.3 154.1 L438.5 154.7 L439.7 155.1 L441.0 155.4 L442.4 155.5 L443.7 155.5 L445.0 155.4 L446.3 155.2 L447.5 155.0 L448.8 154.9 L450.5 154.7 L452.3 154.4 L454.1 154.1 L455.8 153.9 L457.5 153.7 L458.9 153.7 L460.2 153.8 L461.4 153.9 L462.6 154.2 L463.9 154.5 L465.4 154.9 L467.1 155.3 L468.9 155.8 L470.8 156.3 L472.8 156.8 L474.8 157.4 L476.9 158.1 L479.0 158.7 L481.3 159.5 L483.8 160.5 L486.3 161.5 L488.8 162.4 L491.0 163.3 L493.0 164.0 L494.6 164.5 L495.8 164.9 L496.8 165.1 L497.5 165.3 L498.2 165.4 L499.0 165.7 L500.1 166.1 L501.2 166.6 L502.4 167.1 L503.6 167.6 L504.7 168.1 L505.8 168.7 L507.0 169.4 L508.2 170.2 L509.4 171.0 L510.6 171.9 L511.7 172.7 L512.7 173.5 L513.5 174.2 L514.2 174.8 L514.8 175.5 L515.5 176.1 L516.1 176.8 L516.8 177.5 L517.4 178.3 L518.1 179.1 L518.9 180.0 L519.6 181.0 L520.4 181.9 L521.2 182.8 L522.0 183.5 L522.7 184.2 L523.5 185.0 L524.3 185.7 L525.2 186.3 L526.3 186.9 L527.3 187.4 L528.3 187.9 L529.4 188.3 L530.6 188.7 L531.8 188.9 L533.2 189.2 L534.6 189.3 L536.2 189.4 L537.7 189.5 L539.3 189.5 L540.8 189.5 L542.3 189.5 L543.8 189.5 L545.3 189.5 L546.8 189.5 L548.3 189.5 L549.7 189.5 L551.0 189.5 L552.3 189.6 L553.5 189.6 L554.6 189.7 L555.7 189.8 L556.7 189.9 L557.8 190.1 L558.8 190.4 L559.9 190.7 L561.0 191.1 L562.2 191.6 L563.4 192.0 L564.6 192.5 L565.8 193.0 L567.0 193.4 L568.2 193.9 L569.4 194.5 L570.6 195.0 L571.7 195.5 L572.9 196.1 L574.1 196.6 L575.3 197.2 L576.5 197.8 L577.7 198.4 L578.9 199.1 L580.1 199.7 L581.3 200.4 L582.5 201.0 L583.8 201.7 L585.0 202.4 L586.2 203.1 L587.4 203.7 L588.7 204.3 L589.9 204.9 L591.1 205.5 L592.0 206.0 L592.7 206.3 L593.8 204.0 L593.1 203.7 L592.2 203.2 L591.0 202.7 L589.8 202.1 L588.6 201.5 L587.4 200.8 L586.2 200.2 L585.0 199.5 L583.8 198.9 L582.5 198.2 L581.3 197.5 L580.1 196.8 L578.9 196.2 L577.6 195.6 L576.4 195.0 L575.2 194.4 L574.0 193.8 L572.8 193.3 L571.6 192.7 L570.4 192.2 L569.2 191.6 L567.9 191.1 L566.7 190.6 L565.5 190.2 L564.3 189.7 L563.1 189.2 L561.9 188.7 L560.7 188.2 L559.5 187.8 L558.3 187.4 L557.2 187.1 L556.0 186.9 L554.8 186.7 L553.7 186.5 L552.4 186.4 L551.1 186.2 L549.7 186.1 L548.3 186.0 L546.8 186.0 L545.3 186.0 L543.8 186.0 L542.3 186.0 L540.8 186.0 L539.3 186.0 L537.8 185.9 L536.3 185.9 L534.9 185.8 L533.7 185.6 L532.6 185.4 L531.5 185.2 L530.6 184.9 L529.7 184.5 L528.8 184.2 L528.0 183.7 L527.3 183.3 L526.6 182.8 L525.9 182.2 L525.3 181.6 L524.6 180.9 L523.9 180.2 L523.2 179.4 L522.5 178.6 L521.8 177.7 L521.0 176.8 L520.3 175.9 L519.6 175.0 L518.9 174.2 L518.2 173.5 L517.5 172.8 L516.8 172.1 L516.0 171.4 L515.1 170.6 L514.0 169.7 L512.9 168.8 L511.6 167.9 L510.3 167.0 L509.0 166.2 L507.7 165.4 L506.4 164.7 L505.2 164.1 L503.9 163.6 L502.6 163.0 L501.4 162.6 L500.3 162.1 L499.2 161.8 L498.4 161.6 L497.6 161.4 L496.7 161.2 L495.7 160.9 L494.3 160.4 L492.4 159.8 L490.2 158.9 L487.7 157.9 L485.1 156.9 L482.6 156.0 L480.3 155.1 L478.1 154.4 L475.9 153.8 L473.8 153.2 L471.8 152.6 L469.8 152.1 L468.0 151.6 L466.4 151.2 L464.9 150.8 L463.5 150.5 L462.1 150.2 L460.6 150.0 L459.0 149.9 L457.3 149.9 L455.4 150.1 L453.5 150.4 L451.7 150.6 L450.0 150.9 L448.4 151.1 L447.0 151.2 L445.7 151.4 L444.6 151.5 L443.5 151.6 L442.6 151.6 L441.6 151.5 L440.8 151.3 L439.9 151.0 L439.1 150.6 L438.3 150.2 L437.6 149.7 L436.9 149.1 L436.4 148.5 L435.9 147.7 L435.4 146.9 L434.8 145.9 L434.3 144.9 L433.6 143.9 L432.9 142.9 L432.1 141.9 L431.2 140.8 L430.4 139.8 L429.6 138.8 L428.7 137.8 L428.0 137.0 L427.2 136.2 L426.4 135.5 L425.7 134.8 L424.8 134.1 L424.0 133.5 L423.0 132.9 L422.1 132.3 L421.1 131.8 L420.1 131.3 L419.0 130.9 L417.9 130.5 L416.7 130.1 L415.5 129.8 L414.2 129.5 L413.0 129.3 L411.7 129.1 L410.5 128.9 L409.2 128.7 L408.0 128.5 L406.8 128.4 L405.6 128.2 L404.3 128.1 L403.1 127.9 L401.9 127.8 L400.7 127.7 L399.4 127.5 L398.2 127.4 L397.0 127.3 L395.8 127.2 L394.6 127.1 L393.4 127.0 L392.2 126.8 L390.9 126.7 L389.7 126.6 L388.5 126.4 L387.3 126.2 L386.1 126.1 L384.9 125.9 L383.7 125.7 L382.5 125.5 L381.3 125.3 L380.1 125.1 L378.9 124.8 L377.7 124.6 L376.5 124.3 L375.3 124.1 L374.1 123.8 L372.9 123.5 L371.7 123.1 L370.5 122.7 L369.3 122.3 L368.0 121.9 L366.8 121.5 L365.6 121.2 L364.4 120.8 L363.2 120.4 L362.0 120.1 L360.8 119.7 L359.6 119.3 L358.4 118.9 L357.2 118.5 L356.0 118.0 L354.7 117.6 L353.5 117.1 L352.3 116.7 L351.1 116.2 L349.9 115.8 L348.6 115.4 L347.4 115.0 L346.2 114.6 L345.0 114.1 L343.8 113.7 L342.6 113.2 L341.3 112.6 L340.1 112.1 L338.9 111.6 L337.8 111.2 L336.8 110.8 L336.0 110.5 L335.1 110.1 L334.3 109.8 L333.4 109.5 L332.4 109.2 L331.2 108.8 L330.0 108.5 L328.8 108.2 L327.5 107.9 L326.2 107.7 L324.9 107.5 L323.6 107.3 L322.4 107.2 L321.1 107.1 L319.9 107.1 L318.6 107.1 L317.4 107.1 L316.1 107.2 L314.9 107.3 L313.6 107.4 L312.4 107.6 L311.1 107.8 L309.9 108.0 L308.6 108.3 L307.3 108.7 L306.0 109.1 L304.8 109.5 L303.6 109.9 L302.6 110.2 L301.5 110.5 L300.5 110.7 L299.6 110.9 L298.7 111.0 L297.8 111.1 L296.9 111.1 L296.0 111.1 L295.1 111.1 L294.2 111.0 L293.4 110.8 L292.5 110.6 L291.5 110.2 L290.5 109.7 L289.3 109.1 L288.1 108.3 L286.9 107.5 L285.7 106.7 L284.4 105.8 L283.3 105.0 L282.1 104.1 L280.8 103.2 L279.6 102.3 L278.4 101.4 L277.1 100.7 L275.8 100.0 L274.5 99.4 L273.3 98.9 L272.0 98.4 L270.8 98.0 L269.5 97.6 L268.3 97.3 L267.0 97.1 L265.7 96.8 L264.5 96.7 L263.2 96.5 L262.0 96.4 L260.7 96.3 L259.5 96.3 L258.2 96.3 L257.0 96.3 L255.8 96.3 L254.5 96.4 L253.3 96.5 L252.1 96.6 L250.9 96.8 L249.7 96.9 L248.5 97.1 L247.1 97.3 L245.6 97.5 L244.0 97.8 L242.3 98.1 L240.5 98.3 L238.9 98.6 L237.4 98.9 L236.0 99.2 L234.7 99.6 L233.5 99.9 L232.3 100.2 L231.2 100.5 L230.1 100.7 L228.9 100.9 L227.7 101.1 L226.5 101.3 L225.3 101.4 L224.2 101.4 L223.1 101.4 L222.0 101.2 L220.9 100.9 L219.7 100.6 L218.6 100.2 L217.4 99.7 L216.2 99.2 L215.1 98.7 L213.9 98.1 L212.7 97.4 L211.5 96.7 L210.3 95.9 L209.0 95.3 L207.8 94.6 L206.6 94.0 L205.4 93.3 L204.1 92.7 L202.8 92.1 L201.5 91.6 L200.2 91.2 L199.0 90.8 L197.7 90.6 L196.4 90.4 L195.2 90.2 L193.9 90.1 L192.6 90.0 L191.4 90.0 L190.1 90.0 L188.9 90.0 L187.7 90.0 L186.4 90.1 L185.2 90.1 L184.0 90.2 L182.7 90.3 L181.5 90.4 L180.3 90.5 L179.0 90.6 L177.8 90.8 L176.5 91.0 L175.3 91.2 L174.0 91.5 L172.8 91.7 L171.5 92.1 L170.3 92.4 L169.0 92.9 L167.8 93.3 L166.5 93.8 L165.3 94.3 L164.0 94.8 L162.7 95.4 L161.4 96.1 L160.2 96.7 L158.9 97.4 L157.8 97.9 L156.7 98.4 L155.8 98.8 L155.0 99.1 L154.2 99.4 L153.5 99.6 L152.9 99.8 L152.2 99.9 L151.5 100.0 L151.0 100.0 L150.4 100.0 L149.8 99.9 L149.0 99.8 L148.0 99.6 L146.7 99.4 L145.3 99.0 L143.8 98.7 L142.2 98.3 L140.5 97.8 L138.8 97.3 L137.1 96.7 L135.2 96.1 L133.2 95.3 L131.2 94.6 L129.2 93.9 L127.2 93.2 L125.2 92.5 L123.3 91.9 L121.3 91.2 L119.3 90.6 L117.3 90.1 L115.3 89.6 L113.3 89.3 L111.3 89.0 L109.3 88.8 L107.4 88.6 L105.4 88.5 L103.4 88.4 L101.4 88.3 L99.3 88.3 L97.3 88.4 L95.3 88.5 L93.3 88.6 L91.6 88.7 L89.8 88.9 L88.1 89.2 L86.6 89.5 L85.2 89.7 L84.0 90.0 L83.2 90.1 Z" fill="#ff4a2c"/>
<path d="M83.4 15.6 L85.1 15.6 L87.3 15.5 L90.0 15.4 L92.9 15.4 L96.0 15.3 L99.0 15.3 L102.0 15.3 L105.1 15.3 L108.3 15.3 L111.6 15.3 L114.8 15.4 L118.1 15.4 L121.2 15.5 L124.4 15.5 L127.6 15.6 L130.8 15.7 L134.0 15.9 L137.1 16.0 L140.3 16.2 L143.5 16.4 L146.7 16.6 L149.9 16.8 L153.0 17.0 L156.2 17.2 L159.4 17.4 L162.5 17.6 L165.7 17.8 L168.9 18.1 L172.0 18.3 L175.2 18.5 L178.4 18.7 L181.7 19.0 L184.9 19.3 L188.1 19.5 L191.3 19.8 L194.2 20.0 L197.2 20.3 L200.0 20.5 L202.8 20.7 L205.5 21.0 L208.0 21.2 L210.3 21.4 L212.2 21.6 L213.7 21.7 L215.2 21.8 L216.7 21.9 L218.4 22.1 L220.7 22.3 L223.6 22.6 L226.8 23.0 L230.4 23.4 L234.0 23.8 L237.7 24.2 L241.3 24.6 L244.7 25.0 L248.1 25.5 L251.5 25.9 L254.9 26.3 L258.3 26.8 L261.7 27.2 L265.1 27.7 L268.5 28.1 L271.9 28.5 L275.3 29.0 L278.7 29.4 L282.1 29.9 L285.6 30.4 L289.0 31.0 L292.4 31.5 L295.9 32.1 L299.3 32.6 L302.7 33.2 L306.2 33.9 L309.7 34.6 L313.2 35.2 L316.6 35.9 L320.0 36.6 L323.2 37.3 L326.3 37.9 L329.3 38.5 L332.2 39.1 L335.1 39.7 L337.9 40.3 L340.6 40.9 L343.3 41.4 L345.8 42.0 L348.3 42.5 L350.7 43.0 L353.2 43.5 L355.6 44.1 L358.2 44.6 L360.8 45.2 L363.4 45.7 L366.0 46.3 L368.4 46.8 L370.6 47.3 L372.5 47.6 L374.1 48.0 L375.6 48.3 L377.1 48.6 L378.7 48.9 L380.6 49.3 L382.8 49.7 L385.3 50.2 L387.9 50.8 L390.6 51.3 L393.2 51.8 L395.6 52.4 L397.9 52.9 L400.1 53.3 L402.3 53.8 L404.5 54.3 L406.6 54.8 L408.7 55.3 L410.9 55.8 L413.0 56.4 L415.0 57.0 L417.0 57.6 L418.9 58.1 L420.8 58.6 L422.5 59.0 L424.2 59.4 L425.8 59.8 L427.4 60.2 L429.0 60.6 L430.7 61.0 L432.3 61.4 L433.9 61.8 L435.4 62.2 L437.0 62.6 L438.8 63.0 L440.7 63.5 L443.0 64.1 L445.6 64.7 L448.2 65.4 L450.9 66.1 L453.5 66.7 L455.7 67.3 L457.7 67.8 L459.4 68.2 L461.0 68.5 L462.5 68.9 L464.1 69.3 L465.7 69.7 L467.4 70.1 L469.1 70.6 L470.8 71.0 L472.5 71.5 L474.2 71.9 L475.8 72.4 L477.5 72.9 L479.2 73.4 L480.9 74.0 L482.6 74.5 L484.3 75.1 L486.0 75.7 L487.7 76.3 L489.5 76.9 L491.2 77.5 L493.0 78.2 L494.6 78.8 L496.1 79.4 L497.5 80.0 L498.8 80.6 L499.9 81.1 L501.0 81.7 L502.1 82.2 L503.3 82.8 L504.6 83.4 L505.9 84.1 L507.2 84.7 L508.5 85.4 L509.9 86.1 L511.3 86.8 L512.9 87.6 L514.5 88.4 L516.2 89.2 L517.9 90.1 L519.6 90.9 L521.3 91.7 L523.0 92.5 L524.6 93.3 L526.3 94.1 L527.9 94.8 L529.5 95.5 L531.1 96.2 L532.7 96.9 L534.4 97.5 L536.0 98.1 L537.6 98.6 L539.3 99.2 L541.0 99.8 L542.6 100.3 L544.2 100.8 L545.9 101.4 L547.6 101.9 L549.3 102.5 L551.0 103.1 L552.7 103.7 L554.4 104.4 L556.1 105.0 L557.8 105.7 L559.4 106.4 L561.1 107.0 L562.8 107.7 L564.6 108.4 L566.4 109.1 L568.2 109.8 L569.8 110.5 L571.1 111.0 L572.3 111.5 L573.2 111.9 L574.0 112.3 L574.8 112.6 L575.5 112.9 L576.2 113.3 L577.1 113.6 L577.8 114.0 L578.6 114.4 L579.4 114.7 L580.2 115.1 L581.2 115.6 L582.4 116.1 L583.7 116.7 L585.1 117.3 L586.6 117.9 L587.9 118.5 L589.2 119.0 L590.4 119.5 L591.5 120.0 L592.6 120.5 L593.7 120.9 L594.5 121.3 L595.1 121.5 L592.0 129.1 L591.4 128.8 L590.5 128.5 L589.5 128.1 L588.4 127.6 L587.2 127.1 L586.0 126.6 L584.7 126.0 L583.3 125.4 L581.9 124.8 L580.4 124.2 L579.1 123.6 L577.9 123.0 L576.8 122.6 L575.9 122.2 L575.1 121.8 L574.4 121.4 L573.6 121.1 L572.9 120.7 L572.1 120.4 L571.4 120.1 L570.7 119.8 L569.9 119.4 L569.1 119.1 L568.0 118.7 L566.6 118.1 L565.1 117.5 L563.3 116.9 L561.5 116.2 L559.7 115.5 L558.0 114.8 L556.3 114.2 L554.7 113.5 L553.0 112.9 L551.3 112.3 L549.7 111.7 L548.1 111.1 L546.5 110.6 L544.9 110.1 L543.3 109.6 L541.6 109.1 L539.9 108.6 L538.1 108.0 L536.4 107.6 L534.7 107.1 L533.0 106.6 L531.2 106.0 L529.4 105.4 L527.6 104.7 L525.9 104.0 L524.1 103.3 L522.3 102.5 L520.6 101.8 L518.9 101.1 L517.2 100.3 L515.4 99.5 L513.8 98.6 L512.2 97.3 L510.8 95.9 L509.4 94.6 L508.1 93.4 L506.7 92.5 L505.3 91.7 L504.1 90.7 L503.0 89.7 L502.0 88.7 L500.9 87.7 L499.8 86.9 L498.7 86.3 L497.7 85.8 L496.6 85.2 L495.5 84.6 L494.3 84.0 L492.8 83.4 L491.2 82.9 L489.4 82.4 L487.6 82.0 L485.8 81.6 L484.1 81.1 L482.5 80.5 L480.8 79.9 L479.2 79.4 L477.5 78.9 L475.9 78.4 L474.2 77.9 L472.6 77.4 L471.0 77.0 L469.3 76.5 L467.6 76.1 L466.0 75.6 L464.3 75.2 L462.8 74.8 L461.2 74.5 L459.7 74.1 L458.1 73.7 L456.3 73.3 L454.4 72.8 L452.1 72.3 L449.5 71.8 L446.6 71.8 L443.7 71.9 L441.0 72.0 L438.7 71.6 L436.7 71.1 L435.0 70.7 L433.4 70.3 L431.9 69.9 L430.3 69.5 L428.7 69.0 L427.1 68.6 L425.5 68.2 L423.9 67.8 L422.3 67.4 L420.5 67.0 L418.7 66.5 L416.7 66.0 L414.8 65.4 L412.8 64.8 L410.8 64.1 L408.8 63.5 L406.8 62.9 L404.8 62.3 L402.8 61.8 L400.7 61.2 L398.6 60.8 L396.3 60.3 L394.0 59.8 L391.6 59.3 L389.0 58.7 L386.4 58.2 L383.8 57.7 L381.3 57.2 L379.1 56.7 L377.2 56.3 L375.6 56.0 L374.1 55.7 L372.6 55.4 L371.0 55.1 L369.1 54.7 L366.8 54.2 L364.4 53.7 L361.8 53.2 L359.2 52.6 L356.6 52.0 L354.0 51.5 L351.6 51.0 L349.1 50.4 L346.7 49.9 L344.2 49.4 L341.7 48.9 L339.1 48.3 L336.3 47.7 L333.5 47.1 L330.7 46.5 L327.8 45.9 L324.8 45.3 L321.7 44.6 L318.5 44.0 L315.1 43.3 L311.7 42.5 L308.3 41.8 L304.8 41.2 L301.4 40.5 L298.0 39.9 L294.7 39.4 L291.3 38.8 L287.9 38.3 L284.5 37.8 L281.1 37.3 L277.7 36.8 L274.3 36.3 L270.9 35.9 L267.5 35.5 L264.1 35.1 L260.7 34.6 L257.3 34.2 L253.9 33.8 L250.5 33.3 L247.1 32.9 L243.8 32.5 L240.4 32.1 L236.8 31.7 L233.2 31.3 L229.5 30.9 L226.0 30.5 L222.7 30.1 L219.9 29.9 L217.7 29.6 L216.0 29.5 L214.6 29.4 L213.2 29.3 L211.6 29.1 L209.6 29.0 L207.3 28.8 L204.8 28.6 L202.1 28.3 L199.4 28.1 L196.5 27.8 L193.6 27.6 L190.6 27.4 L187.5 27.1 L184.3 26.9 L181.1 26.6 L177.8 26.4 L174.7 26.2 L171.5 26.0 L168.3 25.8 L165.2 25.6 L162.0 25.4 L158.9 25.2 L155.7 25.0 L152.5 24.8 L149.3 24.6 L146.2 24.3 L143.0 24.1 L139.9 24.0 L136.8 23.8 L133.6 23.7 L130.5 23.5 L127.4 23.4 L124.2 23.3 L121.1 23.3 L117.9 23.2 L114.7 23.1 L111.5 23.1 L108.3 23.1 L105.1 23.1 L102.0 23.1 L99.0 23.1 L96.1 23.1 L93.1 23.2 L90.2 23.2 L87.5 23.3 L85.3 23.4 L83.6 23.4 Z" fill="#d8d890" opacity="0.7"/>
<path d="M83.4 15.6 L85.1 15.6 L87.3 15.5 L90.0 15.4 L92.9 15.4 L96.0 15.3 L99.0 15.3 L102.0 15.3 L105.1 15.3 L108.3 15.3 L111.6 15.3 L114.8 15.4 L118.1 15.4 L121.2 15.5 L124.4 15.5 L127.6 15.6 L130.8 15.7 L134.0 15.9 L137.1 16.0 L140.3 16.2 L143.5 16.4 L146.7 16.6 L149.9 16.8 L153.0 17.0 L156.2 17.2 L159.4 17.4 L162.5 17.6 L165.7 17.8 L168.9 18.1 L172.0 18.3 L175.2 18.5 L178.4 18.7 L181.7 19.0 L184.9 19.3 L188.1 19.5 L191.3 19.8 L194.2 20.0 L197.2 20.3 L200.0 20.5 L202.8 20.7 L205.5 21.0 L208.0 21.2 L210.3 21.4 L212.2 21.6 L213.7 21.7 L215.2 21.8 L216.7 21.9 L218.4 22.1 L220.7 22.3 L223.6 22.6 L226.8 23.0 L230.4 23.4 L234.0 23.8 L237.7 24.2 L241.3 24.6 L244.7 25.0 L248.1 25.5 L251.5 25.9 L254.9 26.3 L258.3 26.8 L261.7 27.2 L265.1 27.7 L268.5 28.1 L271.9 28.5 L275.3 29.0 L278.7 29.4 L282.1 29.9 L285.6 30.4 L289.0 31.0 L292.4 31.5 L295.9 32.1 L299.3 32.6 L302.7 33.2 L306.2 33.9 L309.7 34.6 L313.2 35.2 L316.6 35.9 L320.0 36.6 L323.2 37.3 L326.3 37.9 L329.3 38.5 L332.2 39.1 L335.1 39.7 L337.9 40.3 L340.6 40.9 L343.3 41.4 L345.8 42.0 L348.3 42.5 L350.7 43.0 L353.2 43.5 L355.6 44.1 L358.2 44.6 L360.8 45.2 L363.4 45.7 L366.0 46.3 L368.4 46.8 L370.6 47.3 L372.5 47.6 L374.1 48.0 L375.6 48.3 L377.1 48.6 L378.7 48.9 L380.6 49.3 L382.8 49.7 L385.3 50.2 L387.9 50.8 L390.6 51.3 L393.2 51.8 L395.6 52.4 L397.9 52.9 L400.1 53.3 L402.3 53.8 L404.5 54.3 L406.6 54.8 L408.7 55.3 L410.9 55.8 L413.0 56.4 L415.0 57.0 L417.0 57.6 L418.9 58.1 L420.8 58.6 L422.5 59.0 L424.2 59.4 L425.8 59.8 L427.4 60.2 L429.0 60.6 L430.7 61.0 L432.3 61.4 L433.9 61.8 L435.4 62.2 L437.0 62.6 L438.8 63.0 L440.7 63.5 L443.0 64.1 L445.6 64.7 L448.2 65.4 L450.9 66.1 L453.5 66.7 L455.7 67.3 L457.7 67.8 L459.4 68.2 L461.0 68.5 L462.5 68.9 L464.1 69.3 L465.7 69.7 L467.4 70.1 L469.1 70.6 L470.8 71.0 L472.5 71.5 L474.2 71.9 L475.8 72.4 L477.5 72.9 L479.2 73.4 L480.9 74.0 L482.6 74.5 L484.3 75.1 L486.0 75.7 L487.7 76.3 L489.5 76.9 L491.2 77.5 L493.0 78.2 L494.6 78.8 L496.1 79.4 L497.5 80.0 L498.8 80.6 L499.9 81.1 L501.0 81.7 L502.1 82.2 L503.3 82.8 L504.6 83.4 L505.9 84.1 L507.2 84.7 L508.5 85.4 L509.9 86.1 L511.3 86.8 L512.9 87.6 L514.5 88.4 L516.2 89.2 L517.9 90.1 L519.6 90.9 L521.3 91.7 L523.0 92.5 L524.6 93.3 L526.3 94.1 L527.9 94.8 L529.5 95.5 L531.1 96.2 L532.7 96.9 L534.4 97.5 L536.0 98.1 L537.6 98.6 L539.3 99.2 L541.0 99.8 L542.6 100.3 L544.2 100.8 L545.9 101.4 L547.6 101.9 L549.3 102.5 L551.0 103.1 L552.7 103.7 L554.4 104.4 L556.1 105.0 L557.8 105.7 L559.4 106.4 L561.1 107.0 L562.8 107.7 L564.6 108.4 L566.4 109.1 L568.2 109.8 L569.8 110.5 L571.1 111.0 L572.3 111.5 L573.2 111.9 L574.0 112.3 L574.8 112.6 L575.5 112.9 L576.2 113.3 L577.1 113.6 L577.8 114.0 L578.6 114.4 L579.4 114.7 L580.2 115.1 L581.2 115.6 L582.4 116.1 L583.7 116.7 L585.1 117.3 L586.6 117.9 L587.9 118.5 L589.2 119.0 L590.4 119.5 L591.5 120.0 L592.6 120.5 L593.7 120.9 L594.5 121.3 L595.1 121.5 L592.6 127.6 L592.0 127.4 L591.1 127.0 L590.1 126.6 L589.0 126.1 L587.8 125.6 L586.6 125.1 L585.3 124.6 L583.9 124.0 L582.5 123.3 L581.1 122.7 L579.7 122.1 L578.5 121.6 L577.5 121.1 L576.6 120.7 L575.8 120.3 L575.0 120.0 L574.3 119.6 L573.5 119.3 L572.7 118.9 L572.0 118.6 L571.3 118.3 L570.6 118.0 L569.7 117.6 L568.6 117.2 L567.2 116.6 L565.7 116.0 L563.9 115.4 L562.1 114.7 L560.3 114.0 L558.6 113.3 L556.9 112.7 L555.2 112.0 L553.6 111.4 L551.9 110.8 L550.3 110.2 L548.7 109.6 L547.1 109.1 L545.4 108.6 L543.8 108.0 L542.1 107.5 L540.4 107.0 L538.7 106.5 L537.0 106.1 L535.3 105.6 L533.5 105.1 L531.8 104.5 L530.0 103.9 L528.3 103.3 L526.5 102.5 L524.7 101.8 L523.0 101.1 L521.3 100.4 L519.5 99.6 L517.9 98.9 L516.1 98.1 L514.5 97.1 L512.9 95.9 L511.5 94.5 L510.1 93.2 L508.8 92.0 L507.4 91.0 L506.1 90.3 L504.8 89.3 L503.7 88.3 L502.7 87.3 L501.6 86.3 L500.5 85.5 L499.4 84.9 L498.3 84.5 L497.1 84.1 L495.9 83.8 L494.5 83.4 L493.0 82.9 L491.4 82.4 L489.6 81.9 L487.8 81.5 L486.0 81.1 L484.3 80.6 L482.6 80.0 L481.0 79.5 L479.3 78.9 L477.7 78.4 L476.0 77.9 L474.4 77.4 L472.7 76.9 L471.1 76.5 L469.4 76.0 L467.8 75.6 L466.1 75.2 L464.5 74.7 L462.9 74.3 L461.3 74.0 L459.8 73.6 L458.2 73.2 L456.4 72.8 L454.5 72.3 L452.2 71.8 L449.6 71.2 L446.8 70.9 L444.0 70.8 L441.4 70.5 L439.1 70.1 L437.1 69.6 L435.4 69.1 L433.8 68.7 L432.2 68.3 L430.7 67.9 L429.1 67.5 L427.5 67.1 L425.9 66.7 L424.3 66.3 L422.6 65.9 L420.9 65.4 L419.1 65.0 L417.2 64.5 L415.2 63.9 L413.2 63.2 L411.2 62.6 L409.2 61.9 L407.2 61.3 L405.2 60.7 L403.1 60.2 L401.0 59.7 L398.9 59.2 L396.7 58.7 L394.4 58.2 L391.9 57.7 L389.4 57.2 L386.7 56.6 L384.1 56.1 L381.6 55.6 L379.4 55.1 L377.5 54.8 L375.9 54.4 L374.4 54.2 L372.9 53.9 L371.3 53.5 L369.4 53.1 L367.2 52.7 L364.7 52.2 L362.2 51.6 L359.6 51.0 L356.9 50.5 L354.4 49.9 L351.9 49.4 L349.5 48.9 L347.0 48.4 L344.6 47.8 L342.0 47.3 L339.4 46.7 L336.7 46.2 L333.9 45.6 L331.0 45.0 L328.1 44.3 L325.1 43.7 L322.0 43.1 L318.8 42.4 L315.5 41.7 L312.0 41.0 L308.6 40.3 L305.1 39.6 L301.7 39.0 L298.3 38.4 L294.9 37.8 L291.5 37.2 L288.1 36.7 L284.7 36.2 L281.3 35.7 L277.9 35.2 L274.5 34.8 L271.1 34.3 L267.7 33.9 L264.3 33.5 L260.9 33.0 L257.5 32.6 L254.1 32.2 L250.7 31.7 L247.3 31.3 L243.9 30.9 L240.6 30.5 L237.0 30.1 L233.4 29.7 L229.7 29.3 L226.2 28.9 L222.9 28.6 L220.1 28.3 L217.9 28.0 L216.1 27.9 L214.7 27.8 L213.3 27.7 L211.7 27.5 L209.7 27.4 L207.4 27.2 L204.9 27.0 L202.3 26.7 L199.5 26.5 L196.6 26.2 L193.8 26.0 L190.8 25.8 L187.6 25.5 L184.4 25.3 L181.2 25.0 L178.0 24.8 L174.8 24.6 L171.6 24.4 L168.4 24.2 L165.3 24.0 L162.1 23.8 L159.0 23.6 L155.8 23.4 L152.6 23.2 L149.4 23.0 L146.3 22.7 L143.1 22.5 L140.0 22.4 L136.8 22.2 L133.7 22.1 L130.6 21.9 L127.4 21.8 L124.2 21.7 L121.1 21.7 L117.9 21.6 L114.8 21.5 L111.5 21.5 L108.3 21.5 L105.1 21.5 L102.0 21.5 L99.0 21.5 L96.1 21.5 L93.1 21.6 L90.1 21.6 L87.5 21.7 L85.2 21.8 L83.6 21.8 Z" fill="#fca262"/>
<path d="M83.4 15.6 L85.1 15.6 L87.3 15.5 L90.0 15.4 L92.9 15.4 L96.0 15.3 L99.0 15.3 L102.0 15.3 L105.1 15.3 L108.3 15.3 L111.6 15.3 L114.8 15.4 L118.1 15.4 L121.2 15.5 L124.4 15.5 L127.6 15.6 L130.8 15.7 L134.0 15.9 L137.1 16.0 L140.3 16.2 L143.5 16.4 L146.7 16.6 L149.9 16.8 L153.0 17.0 L156.2 17.2 L159.4 17.4 L162.5 17.6 L165.7 17.8 L168.9 18.1 L172.0 18.3 L175.2 18.5 L178.4 18.7 L181.7 19.0 L184.9 19.3 L188.1 19.5 L191.3 19.8 L194.2 20.0 L197.2 20.3 L200.0 20.5 L202.8 20.7 L205.5 21.0 L208.0 21.2 L210.3 21.4 L212.2 21.6 L213.7 21.7 L215.2 21.8 L216.7 21.9 L218.4 22.1 L220.7 22.3 L223.6 22.6 L226.8 23.0 L230.4 23.4 L234.0 23.8 L237.7 24.2 L241.3 24.6 L244.7 25.0 L248.1 25.5 L251.5 25.9 L254.9 26.3 L258.3 26.8 L261.7 27.2 L265.1 27.7 L268.5 28.1 L271.9 28.5 L275.3 29.0 L278.7 29.4 L282.1 29.9 L285.6 30.4 L289.0 31.0 L292.4 31.5 L295.9 32.1 L299.3 32.6 L302.7 33.2 L306.2 33.9 L309.7 34.6 L313.2 35.2 L316.6 35.9 L320.0 36.6 L323.2 37.3 L326.3 37.9 L329.3 38.5 L332.2 39.1 L335.1 39.7 L337.9 40.3 L340.6 40.9 L343.3 41.4 L345.8 42.0 L348.3 42.5 L350.7 43.0 L353.2 43.5 L355.6 44.1 L358.2 44.6 L360.8 45.2 L363.4 45.7 L366.0 46.3 L368.4 46.8 L370.6 47.3 L372.5 47.6 L374.1 48.0 L375.6 48.3 L377.1 48.6 L378.7 48.9 L380.6 49.3 L382.8 49.7 L385.3 50.2 L387.9 50.8 L390.6 51.3 L393.2 51.8 L395.6 52.4 L397.9 52.9 L400.1 53.3 L402.3 53.8 L404.5 54.3 L406.6 54.8 L408.7 55.3 L410.9 55.8 L413.0 56.4 L415.0 57.0 L417.0 57.6 L418.9 58.1 L420.8 58.6 L422.5 59.0 L424.2 59.4 L425.8 59.8 L427.4 60.2 L429.0 60.6 L430.7 61.0 L432.3 61.4 L433.9 61.8 L435.4 62.2 L437.0 62.6 L438.8 63.0 L440.7 63.5 L443.0 64.1 L445.6 64.7 L448.2 65.4 L450.9 66.1 L453.5 66.7 L455.7 67.3 L457.7 67.8 L459.4 68.2 L461.0 68.5 L462.5 68.9 L464.1 69.3 L465.7 69.7 L467.4 70.1 L469.1 70.6 L470.8 71.0 L472.5 71.5 L474.2 71.9 L475.8 72.4 L477.5 72.9 L479.2 73.4 L480.9 74.0 L482.6 74.5 L484.3 75.1 L486.0 75.7 L487.7 76.3 L489.5 76.9 L491.2 77.5 L493.0 78.2 L494.6 78.8 L496.1 79.4 L497.5 80.0 L498.8 80.6 L499.9 81.1 L501.0 81.7 L502.1 82.2 L503.3 82.8 L504.6 83.4 L505.9 84.1 L507.2 84.7 L508.5 85.4 L509.9 86.1 L511.3 86.8 L512.9 87.6 L514.5 88.4 L516.2 89.2 L517.9 90.1 L519.6 90.9 L521.3 91.7 L523.0 92.5 L524.6 93.3 L526.3 94.1 L527.9 94.8 L529.5 95.5 L531.1 96.2 L532.7 96.9 L534.4 97.5 L536.0 98.1 L537.6 98.6 L539.3 99.2 L541.0 99.8 L542.6 100.3 L544.2 100.8 L545.9 101.4 L547.6 101.9 L549.3 102.5 L551.0 103.1 L552.7 103.7 L554.4 104.4 L556.1 105.0 L557.8 105.7 L559.4 106.4 L561.1 107.0 L562.8 107.7 L564.6 108.4 L566.4 109.1 L568.2 109.8 L569.8 110.5 L571.1 111.0 L572.3 111.5 L573.2 111.9 L574.0 112.3 L574.8 112.6 L575.5 112.9 L576.2 113.3 L577.1 113.6 L577.8 114.0 L578.6 114.4 L579.4 114.7 L580.2 115.1 L581.2 115.6 L582.4 116.1 L583.7 116.7 L585.1 117.3 L586.6 117.9 L587.9 118.5 L589.2 119.0 L590.4 119.5 L591.5 120.0 L592.6 120.5 L593.7 120.9 L594.5 121.3 L595.1 121.5 L593.0 126.7 L592.4 126.4 L591.5 126.0 L590.6 125.5 L589.5 125.0 L588.3 124.3 L587.2 123.7 L585.9 123.1 L584.6 122.5 L583.2 121.7 L581.9 120.8 L580.7 119.9 L579.6 119.2 L578.6 118.6 L577.8 118.2 L577.0 117.8 L576.2 117.4 L575.5 117.0 L574.8 116.5 L574.0 116.0 L573.4 115.6 L572.7 115.2 L572.0 114.7 L571.2 114.1 L570.2 113.4 L568.9 112.6 L567.4 111.8 L565.7 111.0 L563.9 110.3 L562.1 109.6 L560.4 108.9 L558.7 108.2 L557.0 107.5 L555.4 106.9 L553.7 106.2 L552.0 105.6 L550.3 105.0 L548.7 104.4 L547.0 103.8 L545.3 103.3 L543.6 102.7 L542.0 102.2 L540.3 101.7 L538.7 101.1 L537.0 100.5 L535.3 99.9 L533.7 99.3 L532.0 98.7 L530.4 98.1 L528.7 97.4 L527.1 96.6 L525.4 95.9 L523.8 95.1 L522.1 94.3 L520.4 93.5 L518.7 92.7 L517.0 91.9 L515.3 91.0 L513.6 90.2 L512.0 89.4 L510.4 88.6 L509.0 87.9 L507.6 87.2 L506.3 86.5 L505.0 85.9 L503.7 85.2 L502.4 84.6 L501.3 84.0 L500.1 83.5 L499.1 82.9 L497.9 82.4 L496.7 81.8 L495.4 81.3 L493.9 80.7 L492.2 80.0 L490.5 79.4 L488.8 78.8 L487.0 78.1 L485.3 77.6 L483.7 77.0 L482.0 76.4 L480.3 75.9 L478.6 75.4 L477.0 74.8 L475.3 74.3 L473.6 73.9 L471.9 73.4 L470.3 72.9 L468.6 72.5 L466.9 72.1 L465.2 71.6 L463.6 71.2 L462.1 70.9 L460.5 70.5 L458.9 70.1 L457.2 69.7 L455.2 69.2 L453.0 68.7 L450.4 68.0 L447.7 67.3 L445.1 66.7 L442.5 66.0 L440.2 65.4 L438.3 64.9 L436.5 64.5 L434.9 64.1 L433.4 63.7 L431.8 63.3 L430.2 62.9 L428.6 62.5 L427.0 62.2 L425.4 61.8 L423.7 61.4 L422.0 61.0 L420.3 60.5 L418.4 60.0 L416.5 59.5 L414.5 58.9 L412.4 58.3 L410.3 57.8 L408.2 57.2 L406.1 56.7 L404.0 56.2 L401.9 55.8 L399.7 55.3 L397.5 54.8 L395.2 54.3 L392.8 53.8 L390.2 53.3 L387.5 52.7 L384.9 52.2 L382.4 51.7 L380.2 51.2 L378.3 50.8 L376.7 50.5 L375.2 50.2 L373.7 49.9 L372.1 49.6 L370.2 49.2 L368.0 48.8 L365.6 48.2 L363.0 47.7 L360.4 47.1 L357.8 46.6 L355.2 46.0 L352.7 45.5 L350.3 45.0 L347.9 44.4 L345.4 43.9 L342.8 43.4 L340.2 42.8 L337.5 42.2 L334.7 41.7 L331.8 41.1 L328.9 40.5 L325.9 39.8 L322.8 39.2 L319.6 38.6 L316.2 37.9 L312.8 37.2 L309.3 36.5 L305.8 35.8 L302.4 35.2 L299.0 34.6 L295.5 34.0 L292.1 33.5 L288.7 32.9 L285.3 32.4 L281.8 31.9 L278.4 31.4 L275.0 31.0 L271.6 30.5 L268.2 30.1 L264.8 29.6 L261.4 29.2 L258.0 28.8 L254.6 28.3 L251.2 27.9 L247.8 27.4 L244.4 27.0 L241.0 26.6 L237.5 26.2 L233.8 25.8 L230.1 25.3 L226.6 25.0 L223.3 24.6 L220.5 24.3 L218.2 24.1 L216.5 23.9 L215.0 23.8 L213.6 23.7 L212.0 23.6 L210.1 23.4 L207.8 23.2 L205.3 23.0 L202.6 22.7 L199.9 22.5 L197.0 22.2 L194.1 22.0 L191.1 21.8 L188.0 21.5 L184.8 21.2 L181.5 21.0 L178.3 20.7 L175.1 20.5 L171.9 20.3 L168.7 20.1 L165.6 19.8 L162.4 19.6 L159.2 19.4 L156.1 19.2 L152.9 19.0 L149.7 18.8 L146.6 18.6 L143.4 18.4 L140.2 18.2 L137.0 18.0 L133.9 17.9 L130.7 17.7 L127.5 17.6 L124.4 17.5 L121.2 17.5 L118.0 17.4 L114.8 17.3 L111.5 17.3 L108.3 17.3 L105.1 17.3 L102.0 17.3 L99.0 17.3 L96.0 17.3 L93.0 17.4 L90.0 17.4 L87.4 17.5 L85.1 17.6 L83.5 17.6 Z" fill="#ff3a22"/>
<path d="M446 72.8 L455 75 L465 77.4 L475 80.3 L485 83.5 L492 86.2 L497 89" fill="none" stroke="#f8aa68" stroke-width="2"/>
</g>
<g filter="url(#blur05)">
<path d="M106.13 93.03 L107.06 93.09 L107.99 93.16 L108.91 93.24 L109.83 93.34 L110.75 93.45 L111.67 93.57 L112.58 93.71 L113.49 93.87 L114.40 94.04 L115.30 94.23 L116.21 94.45 L117.13 94.69 L118.06 94.96 L118.99 95.23 L119.94 95.53 L120.89 95.84 L121.85 96.15 L122.82 96.47 L123.80 96.80 L124.78 97.13 L125.76 97.45 L126.72 97.77 L127.69 98.10 L128.67 98.45 L129.66 98.81 L130.67 99.17 L131.67 99.54 L132.67 99.91 L133.67 100.27 L134.65 100.62 L135.63 100.96 L136.59 101.27 L137.52 101.57 L138.43 101.84 L139.33 102.10 L140.22 102.34 L141.09 102.58 L141.94 102.80 L142.78 103.00 L143.59 103.20 L144.37 103.38 L145.12 103.54 L145.84 103.69 L146.52 103.83 L147.15 103.95 L147.72 104.05 L148.25 104.15 L148.74 104.23 L149.21 104.29 L149.66 104.35 L150.12 104.39 L150.57 104.41 L151.01 104.41 L151.46 104.40 L151.91 104.37 L152.35 104.33 L152.81 104.27 L153.30 104.20 L153.79 104.10 L154.27 103.99 L154.74 103.87 L155.20 103.73 L155.66 103.58 L156.11 103.42 L156.57 103.25 L157.02 103.07 L157.49 102.88 L157.97 102.67 L158.50 102.45 L159.08 102.19 L159.68 101.91 L160.30 101.60 L160.92 101.28 L161.55 100.96 L162.19 100.63 L162.82 100.30 L163.44 99.98 L164.06 99.67 L164.66 99.37 L165.24 99.10 L165.80 98.85 L166.38 98.60 L166.97 98.35 L167.56 98.11 L166.36 95.17 L165.64 95.16 L164.90 95.12 L164.14 95.06 L163.35 94.99 L162.51 94.92 L161.66 94.85 L160.79 94.78 L159.92 94.71 L159.06 94.63 L158.23 94.55 L157.42 94.46 L156.67 94.36 L155.97 94.23 L155.36 94.09 L154.80 93.94 L154.23 93.82 L153.69 93.71 L153.20 93.60 L152.78 93.48 L152.41 93.36 L152.11 93.22 L151.86 93.07 L151.66 92.91 L151.50 92.74 L151.38 92.57 L151.27 92.39 L151.14 92.22 L150.98 92.07 L150.88 91.93 L150.86 91.79 L150.91 91.66 L150.97 91.54 L151.02 91.43 L151.02 91.32 L150.93 91.20 L150.76 91.07 L150.48 90.92 L150.11 90.76 L149.65 90.59 L149.15 90.43 L148.60 90.28 L148.01 90.15 L147.37 90.02 L146.70 89.89 L146.00 89.76 L145.27 89.63 L144.51 89.50 L143.74 89.38 L142.95 89.26 L142.15 89.15 L141.36 89.05 L140.57 88.96 L139.72 88.86 L138.81 88.75 L137.84 88.63 L136.82 88.50 L135.76 88.38 L134.66 88.27 L133.53 88.16 L132.38 88.07 L131.22 87.99 L130.05 87.93 L128.91 87.90 L127.83 87.90 L126.77 87.91 L125.68 87.92 L124.57 87.93 L123.46 87.95 L122.33 87.97 L121.19 88.01 L120.06 88.06 L118.92 88.13 L117.78 88.22 L116.65 88.33 L115.54 88.46 L114.45 88.62 L113.38 88.79 L112.33 88.97 L111.30 89.16 L110.28 89.35 L109.27 89.54 L108.27 89.72 L107.29 89.88 L106.31 90.00 Z" fill="#ff8a48" opacity="0.9"/>
<path d="M191.32 94.27 L191.88 94.29 L192.43 94.31 L192.98 94.34 L193.53 94.39 L194.10 94.44 L194.68 94.51 L195.25 94.58 L195.81 94.65 L196.37 94.74 L196.92 94.83 L197.47 94.93 L198.01 95.05 L198.55 95.17 L199.08 95.31 L199.60 95.47 L200.12 95.64 L200.63 95.82 L201.15 96.03 L201.68 96.27 L202.23 96.52 L202.79 96.80 L203.36 97.10 L203.94 97.41 L204.54 97.73 L205.14 98.06 L205.76 98.39 L206.38 98.73 L206.99 99.05 L207.57 99.36 L208.14 99.67 L208.72 100.01 L209.31 100.36 L209.92 100.71 L210.54 101.08 L211.17 101.44 L211.81 101.81 L212.47 102.17 L213.14 102.51 L213.82 102.85 L214.51 103.15 L215.16 103.43 L215.80 103.69 L216.44 103.94 L217.10 104.19 L217.76 104.43 L218.44 104.65 L219.12 104.86 L219.81 105.05 L220.52 105.22 L221.23 105.37 L221.96 105.49 L222.70 105.58 L223.45 105.64 L224.20 105.66 L224.93 105.65 L225.64 105.61 L226.34 105.55 L227.02 105.48 L227.69 105.38 L228.34 105.28 L228.98 105.18 L229.60 105.07 L230.21 104.96 L230.83 104.85 L231.49 104.73 L232.15 104.59 L232.79 104.43 L233.41 104.27 L234.02 104.11 L234.61 103.95 L235.19 103.78 L235.77 103.62 L234.99 100.73 L234.38 100.85 L233.77 100.93 L233.15 100.97 L232.53 100.96 L231.92 100.91 L231.30 100.81 L230.68 100.67 L230.04 100.48 L229.38 100.25 L228.71 100.01 L228.05 99.75 L227.41 99.47 L226.78 99.17 L226.19 98.85 L225.63 98.50 L225.12 98.14 L224.66 97.77 L224.25 97.38 L223.91 96.99 L223.61 96.60 L223.31 96.22 L223.02 95.84 L222.71 95.46 L222.40 95.10 L222.06 94.76 L221.71 94.42 L221.32 94.10 L220.91 93.80 L220.47 93.51 L220.00 93.24 L219.49 92.99 L219.00 92.79 L218.59 92.63 L218.18 92.48 L217.71 92.31 L217.19 92.12 L216.63 91.92 L216.01 91.71 L215.35 91.49 L214.65 91.27 L213.92 91.05 L213.14 90.84 L212.33 90.64 L211.54 90.48 L210.83 90.38 L210.14 90.30 L209.41 90.21 L208.66 90.12 L207.89 90.03 L207.10 89.95 L206.29 89.87 L205.48 89.80 L204.65 89.75 L203.82 89.72 L202.98 89.71 L202.16 89.74 L201.36 89.79 L200.59 89.88 L199.85 89.98 L199.12 90.09 L198.41 90.22 L197.72 90.35 L197.05 90.48 L196.39 90.61 L195.74 90.73 L195.09 90.85 L194.46 90.95 L193.83 91.04 L193.21 91.12 L192.59 91.18 L191.98 91.23 L191.37 91.26 Z" fill="#ff8a48" opacity="0.9"/>
<path d="M265.65 101.07 L266.20 101.18 L266.75 101.29 L267.30 101.41 L267.85 101.54 L268.40 101.69 L268.96 101.85 L269.52 102.02 L270.09 102.20 L270.65 102.39 L271.21 102.59 L271.76 102.80 L272.32 103.02 L272.87 103.26 L273.42 103.50 L273.96 103.76 L274.51 104.04 L275.05 104.32 L275.56 104.62 L276.09 104.95 L276.63 105.31 L277.19 105.71 L277.77 106.12 L278.35 106.56 L278.96 107.01 L279.57 107.47 L280.20 107.94 L280.84 108.41 L281.49 108.87 L282.14 109.30 L282.76 109.71 L283.38 110.11 L284.00 110.53 L284.64 110.95 L285.29 111.37 L285.94 111.79 L286.60 112.20 L287.26 112.60 L287.93 112.98 L288.60 113.34 L289.27 113.67 L289.95 113.97 L290.60 114.22 L291.23 114.44 L291.86 114.63 L292.47 114.78 L293.06 114.91 L293.65 115.01 L294.22 115.08 L294.78 115.13 L295.32 115.17 L295.86 115.19 L296.38 115.20 L296.92 115.20 L297.50 115.19 L298.09 115.15 L298.66 115.10 L299.23 115.03 L299.78 114.94 L300.32 114.85 L300.85 114.74 L301.38 114.62 L301.91 114.50 L302.44 114.38 L302.97 114.25 L303.53 114.11 L304.16 113.95 L304.80 113.76 L305.44 113.56 L306.08 113.35 L306.70 113.14 L307.32 112.93 L307.93 112.73 L308.52 112.53 L307.61 109.65 L306.95 109.76 L306.28 109.83 L305.60 109.88 L304.92 109.89 L304.26 109.87 L303.61 109.81 L302.99 109.73 L302.40 109.61 L301.81 109.48 L301.23 109.35 L300.67 109.21 L300.13 109.06 L299.63 108.89 L299.15 108.72 L298.70 108.53 L298.28 108.33 L297.90 108.11 L297.54 107.88 L297.21 107.64 L296.87 107.38 L296.48 107.12 L296.10 106.86 L295.76 106.60 L295.47 106.35 L295.22 106.10 L295.00 105.85 L294.81 105.60 L294.64 105.35 L294.48 105.10 L294.32 104.85 L294.14 104.59 L293.96 104.32 L293.77 104.05 L293.53 103.76 L293.22 103.43 L292.84 103.07 L292.41 102.70 L291.93 102.31 L291.41 101.91 L290.85 101.51 L290.24 101.11 L289.60 100.73 L288.92 100.36 L288.28 100.05 L287.71 99.81 L287.14 99.60 L286.51 99.36 L285.83 99.11 L285.09 98.84 L284.32 98.57 L283.50 98.31 L282.65 98.05 L281.76 97.81 L280.84 97.59 L279.90 97.41 L278.95 97.27 L278.05 97.20 L277.19 97.18 L276.34 97.18 L275.50 97.22 L274.68 97.28 L273.88 97.35 L273.10 97.44 L272.33 97.54 L271.59 97.65 L270.86 97.75 L270.14 97.85 L269.44 97.94 L268.75 98.01 L268.08 98.08 L267.42 98.12 L266.78 98.14 L266.16 98.11 Z" fill="#ff8a48" opacity="0.9"/>
<path d="M321.97 111.38 L322.54 111.44 L323.11 111.51 L323.68 111.58 L324.25 111.67 L324.81 111.76 L325.39 111.86 L325.98 111.97 L326.57 112.10 L327.17 112.23 L327.78 112.37 L328.37 112.52 L328.96 112.67 L329.54 112.82 L330.10 112.98 L330.64 113.13 L331.15 113.28 L331.61 113.42 L332.03 113.55 L332.42 113.69 L332.80 113.82 L333.16 113.96 L333.54 114.11 L333.92 114.26 L334.32 114.43 L334.74 114.60 L335.19 114.79 L335.68 114.99 L336.20 115.19 L336.73 115.40 L337.28 115.62 L337.86 115.85 L338.46 116.09 L339.07 116.34 L339.70 116.60 L340.34 116.86 L340.98 117.12 L341.63 117.37 L342.28 117.63 L342.92 117.87 L343.56 118.11 L344.19 118.34 L344.82 118.57 L345.44 118.79 L346.07 119.00 L346.68 119.21 L347.30 119.41 L347.91 119.62 L348.52 119.82 L349.12 120.02 L349.72 120.22 L350.32 120.43 L350.91 120.63 L351.50 120.84 L352.10 121.05 L352.70 121.27 L353.30 121.49 L353.91 121.71 L354.52 121.94 L355.14 122.16 L355.75 122.38 L356.38 122.60 L357.00 122.82 L357.63 123.04 L358.26 123.25 L358.89 123.45 L359.52 123.65 L360.15 123.85 L360.77 124.04 L361.39 124.22 L362.00 124.40 L362.61 124.58 L363.22 124.76 L363.83 124.94 L364.44 125.12 L365.04 125.29 L365.63 125.47 L366.23 125.65 L366.82 125.84 L367.42 126.03 L368.03 126.22 L368.64 126.41 L369.25 126.61 L369.88 126.80 L370.50 126.99 L371.13 127.18 L371.77 127.36 L372.41 127.54 L373.06 127.71 L373.70 127.87 L374.34 128.02 L374.97 128.16 L375.60 128.30 L376.23 128.43 L376.86 128.56 L377.49 128.68 L378.11 128.80 L378.73 128.92 L379.35 129.03 L379.96 129.14 L380.58 129.25 L381.20 129.36 L381.82 129.47 L382.44 129.57 L383.07 129.67 L383.69 129.77 L384.31 129.86 L384.93 129.95 L385.55 130.04 L386.16 130.13 L386.78 130.21 L387.40 130.29 L388.02 130.38 L388.64 130.45 L389.26 130.53 L389.88 130.60 L390.50 130.67 L391.12 130.74 L391.73 130.81 L392.35 130.87 L392.96 130.94 L393.57 131.00 L394.18 131.06 L394.79 131.12 L395.40 131.18 L395.70 128.17 L395.10 128.03 L394.50 127.88 L393.90 127.72 L393.31 127.56 L392.71 127.39 L392.11 127.22 L391.52 127.04 L390.93 126.86 L390.34 126.67 L389.75 126.48 L389.16 126.28 L388.57 126.08 L387.98 125.88 L387.39 125.68 L386.81 125.47 L386.22 125.26 L385.64 125.05 L385.06 124.83 L384.48 124.62 L383.90 124.40 L383.32 124.18 L382.74 123.96 L382.17 123.73 L381.60 123.50 L381.02 123.27 L380.44 123.04 L379.86 122.81 L379.29 122.58 L378.72 122.35 L378.15 122.12 L377.59 121.89 L377.03 121.65 L376.48 121.42 L375.93 121.18 L375.38 120.94 L374.84 120.69 L374.32 120.45 L373.79 120.20 L373.25 119.94 L372.70 119.67 L372.15 119.41 L371.59 119.14 L371.02 118.86 L370.45 118.59 L369.86 118.31 L369.26 118.04 L368.65 117.77 L368.04 117.50 L367.43 117.25 L366.83 117.00 L366.23 116.75 L365.64 116.52 L365.05 116.28 L364.46 116.05 L363.88 115.83 L363.31 115.61 L362.74 115.39 L362.18 115.17 L361.62 114.95 L361.06 114.74 L360.51 114.52 L359.95 114.30 L359.39 114.08 L358.81 113.85 L358.23 113.63 L357.63 113.40 L357.03 113.17 L356.42 112.94 L355.81 112.72 L355.18 112.50 L354.54 112.28 L353.90 112.08 L353.25 111.88 L352.61 111.70 L351.97 111.52 L351.34 111.36 L350.71 111.20 L350.09 111.06 L349.48 110.92 L348.86 110.78 L348.26 110.66 L347.65 110.53 L347.05 110.41 L346.45 110.29 L345.85 110.17 L345.22 110.04 L344.57 109.91 L343.91 109.77 L343.24 109.64 L342.57 109.51 L341.90 109.38 L341.24 109.25 L340.58 109.13 L339.93 109.01 L339.31 108.91 L338.71 108.81 L338.18 108.73 L337.68 108.66 L337.21 108.59 L336.75 108.52 L336.30 108.44 L335.83 108.37 L335.36 108.30 L334.88 108.23 L334.37 108.16 L333.84 108.11 L333.29 108.06 L332.70 108.03 L332.10 108.01 L331.48 107.99 L330.84 107.98 L330.18 107.98 L329.51 107.98 L328.83 107.99 L328.14 108.00 L327.45 108.02 L326.77 108.05 L326.09 108.08 L325.43 108.12 L324.78 108.17 L324.15 108.22 L323.52 108.27 L322.89 108.32 L322.27 108.36 Z" fill="#ff8a48" opacity="0.9"/>
<path d="M416.19 134.10 L416.65 134.25 L417.12 134.41 L417.58 134.58 L418.03 134.76 L418.46 134.95 L418.89 135.15 L419.32 135.36 L419.73 135.57 L420.14 135.80 L420.54 136.03 L420.93 136.27 L421.32 136.52 L421.70 136.77 L422.06 137.03 L422.41 137.28 L422.74 137.55 L423.07 137.82 L423.39 138.10 L423.71 138.40 L424.04 138.71 L424.37 139.04 L424.71 139.38 L425.06 139.75 L425.42 140.13 L425.79 140.53 L426.15 140.93 L426.53 141.36 L426.92 141.82 L427.31 142.30 L427.71 142.79 L428.12 143.29 L428.51 143.80 L428.91 144.31 L429.30 144.82 L429.67 145.32 L430.04 145.81 L430.36 146.25 L430.64 146.64 L430.89 147.03 L431.13 147.45 L431.38 147.89 L431.64 148.35 L431.91 148.84 L432.21 149.35 L432.52 149.87 L432.88 150.41 L433.29 150.95 L433.75 151.49 L434.26 152.00 L434.74 152.42 L435.22 152.80 L435.72 153.17 L436.23 153.51 L436.76 153.84 L437.32 154.13 L437.89 154.41 L438.48 154.66 L439.08 154.88 L439.70 155.07 L440.34 155.23 L441.01 155.36 L441.70 155.45 L442.41 155.50 L443.09 155.51 L443.75 155.48 L444.39 155.43 L445.02 155.37 L445.64 155.29 L446.25 155.21 L446.87 155.12 L447.49 155.04 L448.13 154.96 L448.83 154.88 L449.62 154.79 L450.49 154.68 L451.37 154.55 L452.26 154.41 L453.17 154.27 L454.07 154.13 L454.97 154.00 L455.85 153.89 L456.69 153.80 L457.50 153.73 L458.24 153.70 L458.94 153.70 L459.60 153.73 L460.23 153.78 L460.84 153.85 L461.43 153.94 L462.03 154.05 L462.64 154.18 L463.27 154.33 L463.98 151.42 L463.31 151.19 L462.65 150.93 L461.99 150.65 L461.31 150.36 L460.60 150.06 L459.84 149.75 L459.03 149.43 L458.14 149.12 L457.19 148.81 L456.20 148.51 L455.18 148.22 L454.15 147.94 L453.12 147.66 L452.11 147.39 L451.13 147.12 L450.21 146.87 L449.35 146.61 L448.59 146.36 L447.87 146.12 L447.09 145.92 L446.30 145.75 L445.57 145.60 L444.91 145.46 L444.33 145.33 L443.83 145.20 L443.43 145.07 L443.13 144.93 L442.93 144.80 L442.83 144.66 L442.82 144.53 L442.83 144.42 L442.80 144.30 L442.74 144.19 L442.69 144.09 L442.65 144.00 L442.61 143.92 L442.57 143.84 L442.52 143.77 L442.47 143.70 L442.41 143.62 L442.33 143.54 L442.25 143.46 L442.23 143.43 L442.33 143.54 L442.43 143.66 L442.44 143.69 L442.36 143.61 L442.22 143.42 L442.01 143.13 L441.75 142.73 L441.43 142.24 L441.05 141.67 L440.59 141.03 L440.06 140.34 L439.50 139.69 L438.99 139.17 L438.50 138.71 L437.98 138.24 L437.43 137.77 L436.86 137.31 L436.27 136.85 L435.66 136.40 L435.04 135.96 L434.41 135.53 L433.77 135.12 L433.13 134.73 L432.50 134.38 L431.90 134.08 L431.32 133.80 L430.74 133.53 L430.16 133.27 L429.57 133.02 L428.97 132.78 L428.36 132.55 L427.74 132.34 L427.11 132.16 L426.47 131.99 L425.82 131.84 L425.16 131.73 L424.51 131.64 L423.87 131.57 L423.22 131.51 L422.58 131.47 L421.94 131.43 L421.31 131.41 L420.68 131.40 L420.06 131.39 L419.44 131.39 L418.83 131.37 L418.23 131.35 L417.63 131.31 L417.04 131.22 Z" fill="#ff8a48" opacity="0.9"/>
<path d="M465.40 154.88 L466.21 155.09 L467.07 155.31 L467.96 155.53 L468.87 155.76 L469.81 156.01 L470.77 156.26 L471.75 156.53 L472.76 156.81 L473.78 157.10 L474.82 157.41 L475.87 157.72 L476.92 158.05 L477.98 158.39 L479.04 158.74 L480.13 159.12 L481.29 159.54 L482.50 159.99 L483.75 160.47 L485.02 160.96 L486.29 161.46 L487.55 161.95 L488.77 162.43 L489.94 162.88 L491.04 163.31 L492.07 163.69 L493.01 164.03 L493.84 164.31 L494.58 164.55 L495.23 164.73 L495.81 164.89 L496.32 165.01 L496.77 165.11 L497.16 165.20 L497.51 165.27 L497.83 165.35 L498.16 165.45 L498.53 165.56 L498.98 165.72 L499.52 165.92 L500.08 166.13 L500.66 166.35 L501.23 166.58 L501.82 166.81 L502.40 167.05 L502.98 167.30 L503.57 167.56 L504.14 167.83 L504.71 168.11 L505.27 168.41 L505.82 168.71 L506.38 169.03 L506.96 169.39 L507.56 169.77 L508.17 170.18 L508.78 170.60 L510.56 168.03 L509.99 167.47 L509.42 166.91 L508.85 166.37 L508.28 165.85 L507.72 165.36 L507.15 164.89 L506.58 164.44 L505.99 164.00 L505.40 163.57 L504.81 163.16 L504.21 162.77 L503.62 162.39 L503.03 162.02 L502.46 161.67 L501.89 161.34 L501.34 161.02 L500.79 160.72 L500.24 160.43 L499.73 160.19 L499.25 159.99 L498.80 159.82 L498.39 159.67 L498.01 159.53 L497.63 159.38 L497.24 159.23 L496.81 159.05 L496.31 158.83 L495.72 158.57 L495.03 158.26 L494.21 157.88 L493.27 157.45 L492.22 156.98 L491.09 156.49 L489.88 155.99 L488.63 155.50 L487.33 155.02 L486.02 154.57 L484.70 154.16 L483.40 153.79 L482.13 153.46 L480.92 153.19 L479.75 152.96 L478.59 152.77 L477.43 152.60 L476.29 152.46 L475.16 152.34 L474.05 152.24 L472.96 152.16 L471.89 152.10 L470.85 152.05 L469.83 152.02 L468.85 151.99 L467.91 151.98 L467.01 151.96 L466.17 151.94 Z" fill="#ff8a48" opacity="0.9"/>
<path d="M502.98 167.30 L503.57 167.56 L504.14 167.83 L504.71 168.11 L505.27 168.41 L505.82 168.71 L506.38 169.03 L506.96 169.39 L507.56 169.77 L508.17 170.18 L508.78 170.60 L509.40 171.03 L510.00 171.46 L510.59 171.90 L511.17 172.33 L511.72 172.75 L512.24 173.15 L512.72 173.53 L513.15 173.89 L513.53 174.22 L513.89 174.53 L514.22 174.84 L514.54 175.15 L514.85 175.45 L515.15 175.76 L515.46 176.09 L515.77 176.42 L516.09 176.77 L516.44 177.15 L516.78 177.52 L517.12 177.89 L517.45 178.27 L517.79 178.68 L518.14 179.11 L518.50 179.56 L518.87 180.02 L519.24 180.49 L519.63 180.96 L520.02 181.43 L520.42 181.90 L520.84 182.36 L521.25 182.79 L521.62 183.17 L521.98 183.53 L522.34 183.89 L522.70 184.24 L523.08 184.60 L523.47 184.96 L523.88 185.31 L524.31 185.65 L524.76 185.99 L525.24 186.32 L525.75 186.64 L526.26 186.93 L526.77 187.20 L527.28 187.45 L527.80 187.68 L528.33 187.91 L528.88 188.11 L529.44 188.31 L530.02 188.49 L530.61 188.65 L531.21 188.80 L531.84 188.94 L532.49 189.06 L533.17 189.17 L533.89 189.26 L534.64 189.34 L534.89 186.33 L534.25 186.11 L533.66 185.80 L533.12 185.45 L532.62 185.08 L532.17 184.69 L531.75 184.29 L531.37 183.89 L531.02 183.48 L530.71 183.07 L530.42 182.66 L530.16 182.25 L529.92 181.85 L529.69 181.44 L529.48 181.03 L529.33 180.65 L529.21 180.30 L529.10 179.95 L529.01 179.61 L528.91 179.27 L528.80 178.92 L528.68 178.56 L528.54 178.17 L528.38 177.77 L528.19 177.34 L527.98 176.88 L527.79 176.44 L527.64 176.05 L527.50 175.66 L527.33 175.23 L527.14 174.77 L526.91 174.28 L526.66 173.77 L526.38 173.24 L526.08 172.69 L525.74 172.12 L525.38 171.55 L524.97 170.97 L524.57 170.42 L524.22 169.97 L523.91 169.57 L523.58 169.17 L523.24 168.76 L522.86 168.35 L522.46 167.93 L522.02 167.51 L521.53 167.08 L521.01 166.67 L520.44 166.27 L519.82 165.90 L519.15 165.55 L518.45 165.26 L517.70 165.00 L516.89 164.77 L516.02 164.58 L515.11 164.42 L514.16 164.31 L513.18 164.24 L512.18 164.20 L511.19 164.20 L510.20 164.22 L509.24 164.26 L508.31 164.32 L507.42 164.39 L506.56 164.47 L505.73 164.53 L504.94 164.56 L504.21 164.52 Z" fill="#ff8a48" opacity="0.9"/>
<path d="M516.09 176.77 L516.44 177.15 L516.78 177.52 L517.12 177.89 L517.45 178.27 L517.79 178.68 L518.14 179.11 L518.50 179.56 L518.87 180.02 L519.24 180.49 L519.63 180.96 L520.02 181.43 L520.42 181.90 L520.84 182.36 L521.25 182.79 L521.62 183.17 L521.98 183.53 L522.34 183.89 L522.70 184.24 L523.08 184.60 L523.47 184.96 L523.88 185.31 L524.31 185.65 L524.76 185.99 L525.24 186.32 L525.75 186.64 L526.26 186.93 L526.77 187.20 L527.28 187.45 L527.80 187.68 L528.33 187.91 L528.88 188.11 L529.44 188.31 L530.02 188.49 L530.61 188.65 L531.21 188.80 L531.84 188.94 L532.49 189.06 L533.17 189.17 L533.89 189.26 L534.64 189.34 L535.40 189.39 L536.17 189.43 L536.94 189.45 L537.72 189.47 L538.50 189.48 L539.28 189.48 L540.04 189.48 L540.80 189.49 L541.53 189.49 L542.26 189.50 L543.02 189.51 L543.79 189.51 L544.55 189.50 L545.32 189.50 L546.08 189.49 L546.83 189.47 L547.57 189.47 L548.29 189.46 L549.00 189.46 L549.68 189.46 L550.34 189.48 L550.98 189.50 L551.63 189.53 L552.27 189.55 L552.89 189.58 L553.48 189.61 L554.05 189.64 L554.61 189.68 L555.15 189.73 L555.68 189.79 L556.20 189.85 L556.72 189.93 L557.23 190.02 L557.81 187.02 L557.24 186.76 L556.66 186.51 L556.08 186.28 L555.50 186.06 L554.91 185.86 L554.31 185.66 L553.71 185.46 L553.09 185.27 L552.47 185.09 L551.83 184.90 L551.17 184.71 L550.47 184.53 L549.75 184.35 L549.01 184.18 L548.26 184.02 L547.51 183.87 L546.75 183.73 L545.99 183.59 L545.24 183.46 L544.50 183.34 L543.77 183.22 L543.06 183.10 L542.34 182.99 L541.60 182.88 L540.83 182.79 L540.06 182.70 L539.30 182.62 L538.56 182.56 L537.83 182.49 L537.13 182.43 L536.45 182.38 L535.82 182.32 L535.23 182.27 L534.69 182.21 L534.19 182.15 L533.71 182.08 L533.24 182.02 L532.80 181.97 L532.37 181.91 L531.97 181.86 L531.57 181.80 L531.19 181.75 L530.81 181.68 L530.44 181.62 L530.06 181.54 L529.68 181.46 L529.30 181.37 L528.95 181.28 L528.62 181.19 L528.29 181.09 L527.96 180.96 L527.62 180.82 L527.27 180.65 L526.91 180.46 L526.54 180.26 L526.15 180.03 L525.74 179.78 L525.32 179.52 L524.89 179.26 L524.46 179.00 L524.03 178.72 L523.59 178.40 L523.13 178.07 L522.67 177.72 L522.20 177.35 L521.72 176.98 L521.24 176.61 L520.75 176.24 L520.26 175.88 L519.78 175.54 L519.30 175.23 L518.83 174.94 L518.39 174.66 Z" fill="#ff8a48" opacity="0.9"/>
<path d="M111.67 93.57 L112.58 93.71 L113.49 93.87 L114.40 94.04 L115.30 94.23 L116.21 94.45 L117.13 94.69 L118.06 94.96 L118.99 95.23 L119.94 95.53 L120.89 95.84 L121.85 96.15 L122.82 96.47 L123.80 96.80 L124.78 97.13 L125.76 97.45 L126.72 97.77 L127.69 98.10 L128.67 98.45 L129.66 98.81 L130.67 99.17 L131.67 99.54 L132.67 99.91 L133.67 100.27 L134.65 100.62 L135.63 100.96 L136.59 101.27 L137.52 101.57 L138.43 101.84 L139.33 102.10 L140.22 102.34 L141.09 102.58 L141.94 102.80 L142.78 103.00 L143.59 103.20 L144.37 103.38 L145.12 103.54 L145.84 103.69 L146.52 103.83 L147.15 103.95 L147.72 104.05 L148.25 104.15 L148.74 104.23 L149.21 104.29 L149.66 104.35 L150.12 104.39 L150.57 104.41 L151.01 104.41 L151.46 104.40 L151.91 104.37 L152.35 104.33 L152.81 104.27 L153.30 104.20 L153.79 104.10 L154.27 103.99 L154.74 103.87 L155.20 103.73 L155.66 103.58 L156.11 103.42 L156.57 103.25 L157.02 103.07 L157.49 102.88 L157.97 102.67 L158.50 102.45 L159.08 102.19 L159.68 101.91 L160.30 101.60 L160.92 101.28 L161.55 100.96 L162.19 100.63 L160.78 97.92 L160.01 97.99 L159.24 97.99 L158.47 97.94 L157.72 97.85 L157.03 97.73 L156.38 97.58 L155.76 97.42 L155.17 97.28 L154.63 97.13 L154.13 96.97 L153.68 96.80 L153.28 96.63 L152.92 96.44 L152.60 96.25 L152.32 96.04 L152.06 95.83 L151.83 95.61 L151.58 95.38 L151.32 95.17 L151.13 94.97 L151.01 94.79 L150.93 94.61 L150.88 94.44 L150.82 94.27 L150.73 94.10 L150.57 93.92 L150.35 93.73 L150.04 93.53 L149.65 93.32 L149.18 93.11 L148.66 92.91 L148.10 92.73 L147.48 92.59 L146.83 92.46 L146.13 92.32 L145.41 92.19 L144.65 92.06 L143.87 91.93 L143.08 91.81 L142.26 91.69 L141.44 91.58 L140.62 91.48 L139.79 91.38 L138.91 91.27 L137.97 91.16 L136.97 91.04 L135.94 90.92 L134.87 90.80 L133.77 90.69 L132.65 90.59 L131.51 90.51 L130.37 90.43 L129.22 90.38 L128.10 90.35 L127.03 90.34 L125.96 90.33 L124.88 90.33 L123.78 90.32 L122.69 90.31 L121.59 90.31 L120.49 90.32 L119.40 90.33 L118.31 90.36 L117.23 90.39 L116.17 90.43 L115.12 90.49 L114.10 90.54 L113.09 90.59 L112.10 90.59 Z" fill="#ff0a0a"/>
<path d="M196.92 94.83 L197.47 94.93 L198.01 95.05 L198.55 95.17 L199.08 95.31 L199.60 95.47 L200.12 95.64 L200.63 95.82 L201.15 96.03 L201.68 96.27 L202.23 96.52 L202.79 96.80 L203.36 97.10 L203.94 97.41 L204.54 97.73 L205.14 98.06 L205.76 98.39 L206.38 98.73 L206.99 99.05 L207.57 99.36 L208.14 99.67 L208.72 100.01 L209.31 100.36 L209.92 100.71 L210.54 101.08 L211.17 101.44 L211.81 101.81 L212.47 102.17 L213.14 102.51 L213.82 102.85 L214.51 103.15 L215.16 103.43 L215.80 103.69 L216.44 103.94 L217.10 104.19 L217.76 104.43 L218.44 104.65 L219.12 104.86 L219.81 105.05 L220.52 105.22 L221.23 105.37 L221.96 105.49 L222.70 105.58 L223.45 105.64 L224.20 105.66 L224.93 105.65 L225.64 105.61 L226.34 105.55 L227.02 105.48 L227.69 105.38 L228.34 105.28 L228.98 105.18 L228.47 102.18 L227.84 102.16 L227.21 102.07 L226.58 101.92 L225.95 101.70 L225.35 101.42 L224.77 101.09 L224.23 100.71 L223.73 100.29 L223.28 99.85 L222.85 99.38 L222.44 98.90 L222.05 98.42 L221.66 97.94 L221.27 97.49 L220.87 97.05 L220.45 96.63 L220.01 96.25 L219.55 95.90 L219.06 95.58 L218.53 95.30 L218.00 95.08 L217.53 94.90 L217.05 94.72 L216.53 94.54 L215.96 94.35 L215.35 94.15 L214.70 93.95 L214.03 93.75 L213.31 93.55 L212.58 93.36 L211.81 93.19 L211.03 93.03 L210.26 92.90 L209.53 92.82 L208.81 92.74 L208.08 92.66 L207.33 92.57 L206.58 92.49 L205.81 92.40 L205.05 92.32 L204.30 92.24 L203.54 92.18 L202.80 92.12 L202.07 92.08 L201.36 92.04 L200.67 92.02 L200.00 92.01 L199.34 91.99 L198.70 91.96 L198.07 91.92 L197.45 91.86 Z" fill="#ff0a0a"/>
<path d="M271.21 102.59 L271.76 102.80 L272.32 103.02 L272.87 103.26 L273.42 103.50 L273.96 103.76 L274.51 104.04 L275.05 104.32 L275.56 104.62 L276.09 104.95 L276.63 105.31 L277.19 105.71 L277.77 106.12 L278.35 106.56 L278.96 107.01 L279.57 107.47 L280.20 107.94 L280.84 108.41 L281.49 108.87 L282.14 109.30 L282.76 109.71 L283.38 110.11 L284.00 110.53 L284.64 110.95 L285.29 111.37 L285.94 111.79 L286.60 112.20 L287.26 112.60 L287.93 112.98 L288.60 113.34 L289.27 113.67 L289.95 113.97 L290.60 114.22 L291.23 114.44 L291.86 114.63 L292.47 114.78 L293.06 114.91 L293.65 115.01 L294.22 115.08 L294.78 115.13 L295.32 115.17 L295.86 115.19 L296.38 115.20 L296.92 115.20 L297.50 115.19 L298.09 115.15 L298.66 115.10 L299.23 115.03 L299.78 114.94 L300.32 114.85 L300.85 114.74 L301.38 114.62 L301.91 114.50 L302.44 114.38 L301.73 111.44 L301.20 111.49 L300.68 111.49 L300.17 111.46 L299.66 111.40 L299.17 111.31 L298.68 111.19 L298.22 111.03 L297.76 110.85 L297.32 110.64 L296.89 110.41 L296.44 110.15 L296.01 109.90 L295.61 109.63 L295.23 109.36 L294.89 109.08 L294.57 108.79 L294.27 108.49 L293.99 108.18 L293.72 107.87 L293.45 107.54 L293.18 107.20 L292.91 106.86 L292.63 106.50 L292.31 106.12 L291.95 105.72 L291.54 105.30 L291.08 104.87 L290.59 104.44 L290.05 104.02 L289.47 103.60 L288.86 103.20 L288.21 102.82 L287.52 102.48 L286.85 102.20 L286.22 101.98 L285.57 101.78 L284.88 101.58 L284.13 101.37 L283.35 101.16 L282.54 100.96 L281.70 100.76 L280.84 100.58 L279.97 100.42 L279.10 100.29 L278.23 100.18 L277.38 100.11 L276.56 100.08 L275.78 100.05 L275.02 100.03 L274.29 100.00 L273.58 99.96 L272.90 99.88 L272.25 99.76 Z" fill="#ff0a0a"/>
<path d="M327.78 112.37 L328.37 112.52 L328.96 112.67 L329.54 112.82 L330.10 112.98 L330.64 113.13 L331.15 113.28 L331.61 113.42 L332.03 113.55 L332.42 113.69 L332.80 113.82 L333.16 113.96 L333.54 114.11 L333.92 114.26 L334.32 114.43 L334.74 114.60 L335.19 114.79 L335.68 114.99 L336.20 115.19 L336.73 115.40 L337.28 115.62 L337.86 115.85 L338.46 116.09 L339.07 116.34 L339.70 116.60 L340.34 116.86 L340.98 117.12 L341.63 117.37 L342.28 117.63 L342.92 117.87 L343.56 118.11 L344.19 118.34 L344.82 118.57 L345.44 118.79 L346.07 119.00 L346.68 119.21 L347.30 119.41 L347.91 119.62 L348.52 119.82 L349.12 120.02 L349.72 120.22 L350.32 120.43 L350.91 120.63 L351.50 120.84 L352.10 121.05 L352.70 121.27 L353.30 121.49 L353.91 121.71 L354.52 121.94 L355.14 122.16 L355.75 122.38 L356.38 122.60 L357.00 122.82 L357.63 123.04 L358.26 123.25 L358.89 123.45 L359.52 123.65 L360.15 123.85 L360.77 124.04 L361.39 124.22 L362.00 124.40 L362.61 124.58 L363.22 124.76 L363.83 124.94 L364.44 125.12 L365.04 125.29 L365.63 125.47 L366.23 125.65 L366.82 125.84 L367.42 126.03 L368.03 126.22 L368.64 126.41 L369.25 126.61 L369.88 126.80 L370.50 126.99 L371.13 127.18 L371.77 127.36 L372.41 127.54 L373.06 127.71 L373.70 127.87 L374.34 128.02 L374.97 128.16 L375.60 128.30 L376.23 128.43 L376.86 128.56 L377.49 128.68 L378.11 128.80 L378.73 128.92 L379.35 129.03 L379.96 129.14 L380.58 129.25 L381.20 129.36 L381.82 129.47 L382.44 129.57 L383.07 129.67 L383.69 129.77 L384.31 129.86 L384.93 129.95 L385.55 130.04 L386.16 130.13 L386.78 130.21 L387.40 130.29 L388.02 130.38 L388.64 130.45 L389.26 130.53 L389.62 127.53 L389.02 127.40 L388.42 127.25 L387.82 127.11 L387.22 126.95 L386.63 126.79 L386.03 126.63 L385.43 126.46 L384.84 126.29 L384.25 126.12 L383.65 125.94 L383.06 125.76 L382.47 125.57 L381.88 125.39 L381.30 125.19 L380.71 125.00 L380.12 124.80 L379.53 124.61 L378.94 124.41 L378.36 124.21 L377.77 124.01 L377.19 123.80 L376.61 123.59 L376.04 123.38 L375.47 123.16 L374.89 122.94 L374.33 122.72 L373.77 122.49 L373.21 122.26 L372.64 122.02 L372.07 121.77 L371.50 121.52 L370.93 121.27 L370.35 121.01 L369.76 120.75 L369.17 120.50 L368.57 120.24 L367.97 119.99 L367.36 119.74 L366.76 119.51 L366.16 119.27 L365.56 119.04 L364.96 118.82 L364.37 118.59 L363.78 118.37 L363.19 118.16 L362.60 117.94 L362.02 117.73 L361.44 117.51 L360.86 117.30 L360.29 117.09 L359.72 116.87 L359.14 116.65 L358.56 116.43 L357.97 116.20 L357.38 115.97 L356.78 115.75 L356.18 115.52 L355.57 115.29 L354.95 115.07 L354.33 114.85 L353.71 114.64 L353.08 114.43 L352.44 114.24 L351.81 114.05 L351.18 113.88 L350.56 113.71 L349.93 113.55 L349.31 113.40 L348.69 113.25 L348.07 113.11 L347.46 112.96 L346.84 112.83 L346.23 112.69 L345.62 112.55 L345.00 112.41 L344.36 112.26 L343.70 112.11 L343.04 111.95 L342.37 111.80 L341.71 111.65 L341.04 111.49 L340.38 111.35 L339.74 111.21 L339.11 111.07 L338.50 110.94 L337.92 110.83 L337.38 110.72 L336.89 110.62 L336.42 110.52 L335.97 110.43 L335.52 110.33 L335.08 110.24 L334.64 110.15 L334.19 110.07 L333.73 109.99 L333.24 109.91 L332.73 109.84 L332.18 109.78 L331.61 109.72 L331.02 109.66 L330.40 109.60 L329.77 109.54 L329.13 109.47 L328.49 109.41 Z" fill="#ff0a0a"/>
<path d="M421.70 136.77 L422.06 137.03 L422.41 137.28 L422.74 137.55 L423.07 137.82 L423.39 138.10 L423.71 138.40 L424.04 138.71 L424.37 139.04 L424.71 139.38 L425.06 139.75 L425.42 140.13 L425.79 140.53 L426.15 140.93 L426.53 141.36 L426.92 141.82 L427.31 142.30 L427.71 142.79 L428.12 143.29 L428.51 143.80 L428.91 144.31 L429.30 144.82 L429.67 145.32 L430.04 145.81 L430.36 146.25 L430.64 146.64 L430.89 147.03 L431.13 147.45 L431.38 147.89 L431.64 148.35 L431.91 148.84 L432.21 149.35 L432.52 149.87 L432.88 150.41 L433.29 150.95 L433.75 151.49 L434.26 152.00 L434.74 152.42 L435.22 152.80 L435.72 153.17 L436.23 153.51 L436.76 153.84 L437.32 154.13 L437.89 154.41 L438.48 154.66 L439.08 154.88 L439.70 155.07 L440.34 155.23 L441.01 155.36 L441.70 155.45 L442.41 155.50 L443.09 155.51 L443.75 155.48 L444.39 155.43 L445.02 155.37 L445.64 155.29 L446.25 155.21 L446.87 155.12 L447.49 155.04 L448.13 154.96 L448.83 154.88 L449.62 154.79 L450.49 154.68 L451.37 154.55 L452.26 154.41 L453.17 154.27 L454.07 154.13 L454.97 154.00 L455.85 153.89 L456.69 153.80 L457.50 153.73 L457.30 150.67 L456.39 150.58 L455.44 150.45 L454.47 150.30 L453.48 150.12 L452.50 149.93 L451.54 149.73 L450.61 149.51 L449.73 149.29 L448.92 149.07 L448.16 148.84 L447.40 148.63 L446.64 148.45 L445.93 148.29 L445.28 148.14 L444.68 148.00 L444.14 147.86 L443.68 147.72 L443.28 147.57 L442.97 147.42 L442.73 147.27 L442.55 147.12 L442.41 146.97 L442.23 146.81 L442.05 146.66 L441.88 146.51 L441.72 146.37 L441.57 146.23 L441.42 146.09 L441.28 145.95 L441.12 145.82 L440.97 145.68 L440.81 145.53 L440.64 145.37 L440.52 145.26 L440.50 145.24 L440.47 145.22 L440.38 145.13 L440.24 144.96 L440.04 144.71 L439.79 144.38 L439.51 143.98 L439.17 143.51 L438.79 142.99 L438.34 142.43 L437.83 141.83 L437.29 141.28 L436.76 140.82 L436.24 140.40 L435.68 139.98 L435.09 139.57 L434.48 139.16 L433.85 138.76 L433.21 138.37 L432.55 138.00 L431.89 137.64 L431.24 137.31 L430.59 136.99 L429.96 136.71 L429.36 136.46 L428.78 136.22 L428.21 135.99 L427.65 135.77 L427.10 135.56 L426.56 135.36 L426.02 135.16 L425.49 134.98 L424.97 134.80 L424.45 134.62 L423.94 134.44 L423.44 134.25 Z" fill="#ff0a0a"/>
<path d="M471.75 156.53 L472.76 156.81 L473.78 157.10 L474.82 157.41 L475.87 157.72 L476.92 158.05 L477.98 158.39 L479.04 158.74 L480.13 159.12 L481.29 159.54 L482.50 159.99 L483.75 160.47 L485.02 160.96 L486.29 161.46 L487.55 161.95 L488.77 162.43 L489.94 162.88 L491.04 163.31 L492.07 163.69 L493.01 164.03 L493.84 164.31 L494.58 164.55 L495.23 164.73 L495.81 164.89 L496.32 165.01 L496.77 165.11 L497.16 165.20 L497.51 165.27 L497.83 165.35 L498.16 165.45 L498.53 165.56 L498.98 165.72 L499.52 165.92 L500.08 166.13 L500.66 166.35 L501.23 166.58 L501.82 166.81 L502.40 167.05 L502.98 167.30 L503.57 167.56 L504.82 164.82 L504.22 164.49 L503.61 164.18 L503.01 163.87 L502.42 163.58 L501.83 163.30 L501.25 163.03 L500.69 162.77 L500.14 162.52 L499.62 162.30 L499.15 162.12 L498.72 161.97 L498.32 161.84 L497.93 161.73 L497.54 161.61 L497.14 161.50 L496.70 161.36 L496.21 161.20 L495.65 161.01 L495.00 160.77 L494.25 160.48 L493.38 160.13 L492.41 159.72 L491.33 159.28 L490.18 158.81 L488.97 158.32 L487.72 157.83 L486.43 157.34 L485.14 156.87 L483.85 156.42 L482.58 156.00 L481.36 155.63 L480.20 155.30 L479.08 155.00 L477.97 154.73 L476.86 154.47 L475.76 154.23 L474.68 154.00 L473.61 153.79 L472.56 153.59 Z" fill="#ff0a0a"/>
<path d="M508.78 170.60 L509.40 171.03 L510.00 171.46 L510.59 171.90 L511.17 172.33 L511.72 172.75 L512.24 173.15 L512.72 173.53 L513.15 173.89 L513.53 174.22 L513.89 174.53 L514.22 174.84 L514.54 175.15 L514.85 175.45 L515.15 175.76 L515.46 176.09 L515.77 176.42 L516.09 176.77 L516.44 177.15 L516.78 177.52 L517.12 177.89 L517.45 178.27 L517.79 178.68 L518.14 179.11 L518.50 179.56 L518.87 180.02 L519.24 180.49 L519.63 180.96 L520.02 181.43 L520.42 181.90 L520.84 182.36 L521.25 182.79 L521.62 183.17 L521.98 183.53 L522.34 183.89 L522.70 184.24 L523.08 184.60 L523.47 184.96 L523.88 185.31 L524.31 185.65 L524.76 185.99 L525.24 186.32 L525.75 186.64 L526.26 186.93 L526.77 187.20 L527.28 187.45 L527.80 187.68 L529.00 184.93 L528.60 184.65 L528.24 184.30 L527.91 183.92 L527.61 183.52 L527.35 183.11 L527.13 182.70 L526.93 182.29 L526.74 181.87 L526.57 181.44 L526.41 181.01 L526.24 180.56 L526.07 180.10 L525.90 179.63 L525.71 179.13 L525.53 178.64 L525.37 178.16 L525.22 177.67 L525.05 177.17 L524.87 176.64 L524.67 176.10 L524.45 175.54 L524.21 174.98 L523.95 174.41 L523.67 173.84 L523.35 173.26 L523.01 172.70 L522.66 172.16 L522.34 171.70 L522.05 171.29 L521.74 170.88 L521.41 170.48 L521.06 170.09 L520.68 169.69 L520.26 169.30 L519.78 168.94 L519.25 168.62 L518.65 168.33 L517.98 168.10 L517.24 167.93 L516.42 167.84 L515.54 167.80 L514.59 167.81 L513.59 167.86 L512.57 167.93 L511.57 167.97 L510.62 167.94 Z" fill="#ff0a0a"/>
<path d="M521.98 183.53 L522.34 183.89 L522.70 184.24 L523.08 184.60 L523.47 184.96 L523.88 185.31 L524.31 185.65 L524.76 185.99 L525.24 186.32 L525.75 186.64 L526.26 186.93 L526.77 187.20 L527.28 187.45 L527.80 187.68 L528.33 187.91 L528.88 188.11 L529.44 188.31 L530.02 188.49 L530.61 188.65 L531.21 188.80 L531.84 188.94 L532.49 189.06 L533.17 189.17 L533.89 189.26 L534.64 189.34 L535.40 189.39 L536.17 189.43 L536.94 189.45 L537.72 189.47 L538.50 189.48 L539.28 189.48 L540.04 189.48 L540.80 189.49 L541.53 189.49 L542.26 189.50 L543.02 189.51 L543.79 189.51 L544.55 189.50 L545.32 189.50 L546.08 189.49 L546.83 189.47 L547.57 189.47 L548.29 189.46 L549.00 189.46 L549.68 189.46 L550.34 189.48 L550.98 189.50 L551.63 189.53 L551.76 186.49 L551.10 186.37 L550.42 186.26 L549.72 186.15 L549.00 186.04 L548.27 185.95 L547.53 185.86 L546.78 185.77 L546.02 185.69 L545.27 185.61 L544.52 185.53 L543.78 185.46 L543.04 185.38 L542.31 185.30 L541.57 185.23 L540.82 185.16 L540.06 185.10 L539.29 185.05 L538.54 185.00 L537.79 184.95 L537.06 184.91 L536.35 184.86 L535.67 184.81 L535.02 184.76 L534.41 184.69 L533.83 184.62 L533.28 184.55 L532.74 184.47 L532.23 184.40 L531.74 184.33 L531.26 184.26 L530.80 184.18 L530.34 184.09 L529.89 184.00 L529.45 183.89 L529.01 183.78 L528.56 183.66 L528.12 183.53 L527.69 183.39 L527.28 183.23 L526.87 183.06 L526.48 182.87 L526.09 182.66 L525.70 182.43 L525.31 182.19 L524.92 181.94 L524.52 181.67 L524.12 181.39 Z" fill="#ff0a0a"/>
</g>
</g>
<g filter="url(#blur15)">
<ellipse cx="156" cy="85" rx="10" ry="12" fill="#5cc8e0" opacity="0.55"/>
<ellipse cx="154" cy="89" rx="7" ry="6.5" fill="#2a94e6" opacity="0.9"/>
<ellipse cx="159" cy="79" rx="6" ry="5.5" fill="#50c4e8" opacity="0.8"/>
<ellipse cx="164" cy="82" rx="2.5" ry="2" fill="#f0b070" opacity="0.6"/>
<ellipse cx="228" cy="90" rx="9" ry="10" fill="#5ccce0" opacity="0.8"/>
<ellipse cx="227" cy="93" rx="5" ry="4" fill="#48b4e4" opacity="0.6"/>
<ellipse cx="299" cy="100" rx="8" ry="5.5" fill="#4cc0e6" opacity="0.6"/>
<ellipse cx="298" cy="100" rx="5" ry="3.5" fill="#1a88e6" opacity="0.95"/>
<ellipse cx="379" cy="117" rx="10" ry="4.5" fill="#50c4e6" opacity="0.5"/>
<ellipse cx="377" cy="117" rx="6" ry="2.6" fill="#1a88e6" opacity="0.95"/>
<ellipse cx="447" cy="141" rx="8" ry="6" fill="#50c4e6" opacity="0.6"/>
<ellipse cx="446" cy="141" rx="5" ry="3.5" fill="#1a80e8" opacity="0.95"/>
<ellipse cx="536" cy="170" rx="9" ry="6.5" fill="#3c9ce8" opacity="0.6"/>
<ellipse cx="534" cy="170" rx="6.5" ry="4.5" fill="#4462ea" opacity="0.95"/>
<ellipse cx="550" cy="164" rx="8" ry="3" fill="#60d0e4" opacity="0.6"/>
<ellipse cx="501" cy="89" rx="7" ry="2.5" fill="#60c8e8" opacity="0.8"/>
</g>
<g fill="none" stroke="#f2bc78" stroke-linecap="round" opacity="0.9" filter="url(#blur05)">
<path d="M151.5 64.0 L148.0 80.0 L146.0 96.0" stroke-width="2.8"/>
<path d="M227.5 69.0 L223.0 82.0 L219.0 96.0" stroke-width="2.8"/>
<path d="M297.5 78.0 L294.0 90.0 L291.0 103.0" stroke-width="2.8"/>
<path d="M375.5 95.0 L371.0 106.0 L366.5 118.0" stroke-width="2.8"/>
<path d="M450.0 117.0 L447.0 125.0 L444.0 133.0" stroke-width="2.8"/>
<path d="M538.0 150.0 L533.0 160.0 L527.0 172.0" stroke-width="2.8"/>
</g>
</g>
<g fill="#000">
<path d="M83.5 324.5 L90.0 325.5 L95.0 327.5 L93.0 331.0 L96.0 334.0 L92.0 337.5 L86.0 339.0 L83.5 339.0 Z"/>
<path d="M152.0 322.0 L158.0 318.0 L165.0 319.5 L172.0 320.5 L178.0 322.5 L185.0 324.5 L190.0 326.0 L194.0 328.0 L194.0 330.0 L188.0 330.2 L182.0 331.0 L188.0 333.5 L190.0 335.5 L184.0 336.5 L178.0 337.5 L172.0 340.0 L166.0 343.5 L160.0 346.5 L154.0 347.0 L150.0 344.0 L149.0 338.0 L150.0 330.0 L151.0 325.0 Z"/>
<path d="M229.0 322.5 L236.0 325.0 L244.0 329.0 L252.0 332.5 L260.0 335.0 L268.0 337.0 L276.0 339.0 L284.0 341.5 L283.0 343.0 L272.0 343.0 L262.0 342.5 L254.0 342.0 L247.0 343.5 L242.0 341.0 L240.0 336.0 L236.0 331.0 L232.0 327.5 L229.0 325.0 Z"/>
<path d="M300.0 342.0 L306.0 341.5 L312.0 342.5 L318.0 344.5 L325.0 346.5 L332.0 349.0 L340.0 351.5 L348.0 353.5 L356.0 355.5 L362.0 357.0 L368.0 358.5 L373.0 360.0 L373.0 368.0 L366.0 366.5 L358.0 364.0 L350.0 361.5 L342.0 359.5 L334.0 357.5 L326.0 356.0 L318.0 355.5 L311.0 355.0 L306.0 353.0 L303.0 350.0 L301.0 346.0 Z"/>
<path d="M368.0 361.0 L375.0 360.5 L383.0 361.0 L392.0 362.0 L400.0 363.5 L407.0 365.5 L412.5 368.5 L412.0 370.5 L405.0 369.2 L398.0 368.6 L390.0 367.8 L383.0 367.3 L378.0 367.8 L374.0 370.0 L370.0 369.0 Z"/>
<path d="M378.0 371.5 L385.0 371.0 L393.0 372.5 L394.0 374.5 L386.0 374.5 L379.0 374.0 Z"/>
<path d="M428.3 379.0 L431.0 379.5 L433.8 382.0 L433.8 384.8 L431.0 385.0 L428.5 382.5 Z"/>
<path d="M450.0 379.0 L453.0 380.0 L455.5 383.0 L455.0 386.0 L457.0 388.5 L455.0 391.0 L456.0 395.0 L457.0 397.5 L452.0 397.5 L452.5 394.0 L453.0 390.0 L451.0 387.0 L450.0 384.0 L449.0 381.5 Z"/>
<path d="M459.0 395.0 L462.0 394.5 L463.0 397.5 L459.5 398.0 Z"/>
<path d="M465.5 396.0 L469.5 396.5 L470.5 399.0 L466.0 399.0 Z"/>
<path d="M454.0 318.5 L460.0 319.5 L466.0 321.5 L469.0 323.5 L466.0 324.5 L461.0 323.5 L456.0 322.0 L453.0 320.5 Z"/>
<path d="M496.0 334.0 L502.0 335.0 L507.0 337.5 L510.0 339.5 L506.0 340.5 L501.0 339.5 L497.0 337.5 Z"/>
<path d="M138.0 267.2 L148.0 267.6 L148.0 269.2 L138.0 268.8 Z"/>
<path d="M537.0 415.0 L540.0 413.0 L545.0 413.0 L549.0 415.5 L551.0 419.5 L549.0 424.0 L544.0 425.5 L539.0 423.5 L536.5 419.5 Z"/>
<path d="M557.0 430.5 L565.0 432.5 L575.0 436.5 L585.0 441.5 L591.0 445.5 L591.0 449.0 L585.0 447.0 L575.0 442.5 L565.0 438.0 L557.0 435.0 Z"/>
<ellipse cx="87" cy="267.00" rx="0.84" ry="0.76"/><ellipse cx="94" cy="267.00" rx="0.84" ry="0.76"/><ellipse cx="105" cy="267.00" rx="0.73" ry="0.66"/><ellipse cx="117" cy="268.00" rx="0.95" ry="0.85"/><ellipse cx="123" cy="268.00" rx="0.84" ry="0.76"/><ellipse cx="152" cy="270.00" rx="0.95" ry="0.85"/><ellipse cx="156" cy="270.00" rx="0.95" ry="0.85"/><ellipse cx="170" cy="269.50" rx="0.84" ry="0.76"/><ellipse cx="174" cy="269.50" rx="0.73" ry="0.66"/><ellipse cx="181" cy="270.00" rx="0.84" ry="0.76"/><ellipse cx="185" cy="270.50" rx="0.84" ry="0.76"/><ellipse cx="196" cy="271.50" rx="0.73" ry="0.66"/><ellipse cx="198" cy="271.50" rx="0.73" ry="0.66"/><ellipse cx="94" cy="288.00" rx="0.95" ry="0.85"/><ellipse cx="142" cy="282.00" rx="0.95" ry="0.85"/><ellipse cx="205" cy="280.00" rx="0.84" ry="0.76"/><ellipse cx="154" cy="313.00" rx="0.95" ry="0.85"/><ellipse cx="157" cy="312.00" rx="0.84" ry="0.76"/><ellipse cx="160" cy="313.00" rx="0.84" ry="0.76"/><ellipse cx="232" cy="318.00" rx="1.16" ry="1.04"/><ellipse cx="229" cy="320.00" rx="0.84" ry="0.76"/><ellipse cx="298" cy="329.00" rx="0.95" ry="0.85"/><ellipse cx="375" cy="345.00" rx="0.84" ry="0.76"/><ellipse cx="380" cy="349.00" rx="0.95" ry="0.85"/><ellipse cx="451.5" cy="369.50" rx="1.05" ry="0.95"/><ellipse cx="537" cy="404.00" rx="0.84" ry="0.76"/><ellipse cx="543" cy="403.00" rx="0.73" ry="0.66"/><ellipse cx="383" cy="302.00" rx="0.84" ry="0.76"/><ellipse cx="387" cy="303.00" rx="0.84" ry="0.76"/><ellipse cx="391" cy="304.00" rx="0.73" ry="0.66"/><ellipse cx="453" cy="319.50" rx="1.05" ry="0.95"/><ellipse cx="456" cy="320.00" rx="1.16" ry="1.04"/><ellipse cx="459" cy="321.00" rx="1.05" ry="0.95"/><ellipse cx="462" cy="322.00" rx="0.95" ry="0.85"/><ellipse cx="466" cy="323.50" rx="0.84" ry="0.76"/><ellipse cx="480" cy="326.00" rx="0.73" ry="0.66"/><ellipse cx="489" cy="330.00" rx="0.84" ry="0.76"/><ellipse cx="492" cy="331.00" rx="0.95" ry="0.85"/><ellipse cx="496" cy="334.00" rx="1.05" ry="0.95"/><ellipse cx="500" cy="337.00" rx="1.89" ry="1.71"/><ellipse cx="503" cy="337.50" rx="1.37" ry="1.23"/><ellipse cx="506" cy="339.00" rx="0.95" ry="0.85"/><ellipse cx="509" cy="340.00" rx="0.84" ry="0.76"/><ellipse cx="300" cy="292.00" rx="0.84" ry="0.76"/><ellipse cx="330" cy="297.00" rx="0.73" ry="0.66"/><ellipse cx="345" cy="302.00" rx="0.73" ry="0.66"/><ellipse cx="482" cy="404.50" rx="0.73" ry="0.66"/><ellipse cx="486" cy="405.50" rx="0.73" ry="0.66"/><ellipse cx="490" cy="406.50" rx="0.73" ry="0.66"/><ellipse cx="495" cy="408.00" rx="0.73" ry="0.66"/><ellipse cx="500" cy="409.50" rx="0.73" ry="0.66"/><ellipse cx="505" cy="411.00" rx="0.73" ry="0.66"/><ellipse cx="509" cy="412.50" rx="0.84" ry="0.76"/><ellipse cx="544" cy="429.00" rx="0.84" ry="0.76"/><ellipse cx="548" cy="431.00" rx="0.73" ry="0.66"/>
<ellipse cx="100" cy="333.50" rx="1.16" ry="1.04"/><ellipse cx="113" cy="334.50" rx="0.84" ry="0.76"/><ellipse cx="128" cy="335.00" rx="0.95" ry="0.85"/><ellipse cx="140" cy="334.50" rx="1.26" ry="1.14"/>
</g>
<g fill="none" stroke="#000" stroke-linecap="round" stroke-linejoin="round">
<path d="M84.0 326.0 L90.0 327.3 L97.0 328.6 L105.0 329.8 L115.0 331.0 L125.0 332.0 L133.0 333.0 L139.0 333.2 L145.0 332.0" stroke-width="3.8"/>
<path d="M84.0 332.5 L90.0 333.2 L96.0 333.8 L101.0 334.3" stroke-width="1.8"/>
<path d="M106.0 334.8 L115.0 335.4 L125.0 335.9 L135.0 336.2 L143.0 335.7" stroke-width="1.0"/>
<path d="M139.0 331.0 L143.0 333.0 L146.0 335.5" stroke-width="2.5"/>
<path d="M150.0 331.0 L149.0 336.0 L149.5 341.0 L152.0 344.0 L156.0 345.5" stroke-width="1.2"/>
<path d="M153.0 333.0 L155.0 337.0 L152.0 340.0" stroke-width="1.0"/>
<path d="M229.0 325.0 L225.0 328.0 L222.0 331.0 L221.0 336.0 L220.5 341.0 L222.0 345.5" stroke-width="1.6"/>
<path d="M230.0 330.0 L233.0 334.0 L230.0 338.0 L233.0 341.0 L229.0 344.0" stroke-width="1.4"/>
<path d="M225.0 346.5 L230.0 347.5 L236.0 347.0" stroke-width="1.2"/>
<path d="M293.0 343.0 L297.0 341.0 L301.0 342.0" stroke-width="1.3"/>
<path d="M294.0 347.0 L298.0 346.0 L300.0 350.0" stroke-width="1.0"/>
<path d="M296.0 354.0 L303.0 355.0" stroke-width="1.2"/>
<path d="M441.0 386.0 L439.5 390.0 L441.0 394.0" stroke-width="1.2"/>
<path d="M537.0 416.0 L540.0 413.5 L545.0 413.5 L549.0 416.0 L550.5 420.0 L548.0 424.0 L543.0 425.0 L538.5 423.0 L536.5 419.5 L537.0 416.0" stroke-width="3.4"/>
<path d="M538.0 411.0 L542.0 410.0 L547.0 410.5 L551.0 412.5 L553.5 416.0" stroke-width="1.3"/>
<path d="M526.0 418.0 L527.5 424.0 L532.0 428.5 L538.0 430.5 L545.0 430.5 L552.0 430.5 L556.0 432.0" stroke-width="1.4"/>
<path d="M530.0 427.0 L536.0 426.5 L541.0 427.0" stroke-width="1.0"/>
<path d="M557.5 420.0 L561.0 423.0 L564.0 426.5 L567.0 429.0" stroke-width="1.0"/>
<path d="M556.0 425.0 L560.0 428.0 L563.0 430.0" stroke-width="1.0"/>
</g>
<g filter="url(#blur05)">
<ellipse cx="152.5" cy="340" rx="2.5" ry="4" fill="#50d0e0"/>
<ellipse cx="155" cy="334" rx="1.5" ry="2" fill="#60d8e0"/>
<ellipse cx="165" cy="329" rx="2.5" ry="1.8" fill="#d8e088"/>
<ellipse cx="171" cy="333" rx="1.2" ry="1" fill="#c0e890"/>
<ellipse cx="160" cy="324" rx="1.5" ry="1" fill="#a8f0b0"/>
<ellipse cx="176" cy="327" rx="1.5" ry="0.8" fill="#b0f0a8"/>
<ellipse cx="158" cy="338" rx="1.2" ry="1.5" fill="#60d0e0"/>
<ellipse cx="236" cy="333" rx="1.5" ry="2" fill="#c8e890"/>
<ellipse cx="224.5" cy="338" rx="2.5" ry="4" fill="#50d0e0"/>
<ellipse cx="298" cy="348" rx="3.5" ry="3" fill="#3cb8e8"/>
<ellipse cx="297.5" cy="348" rx="1.8" ry="1.5" fill="#2080e8"/>
<ellipse cx="318" cy="352" rx="2.5" ry="1" fill="#c8e890"/>
<ellipse cx="385" cy="367.5" rx="3" ry="0.8" fill="#60d8e0"/>
<ellipse cx="445" cy="388" rx="3" ry="2" fill="#2a80ee"/>
<ellipse cx="443" cy="391" rx="2.5" ry="3" fill="#60d8e0"/>
<ellipse cx="533" cy="417" rx="3.5" ry="3.5" fill="#3a6cf0"/>
<ellipse cx="543.8" cy="419.0" rx="3.0" ry="2.0" fill="#d8d890"/>
</g>
<path d="M208.5 35.3 L212.2 42.8 L204.8 42.8 Z" fill="#f00"/>
<text x="204.0" y="58.0" text-anchor="middle" class="st" textLength="25.6" lengthAdjust="spacingAndGlyphs">313</text>
<path d="M564.3 125.3 L568.0 132.8 L560.6 132.8 Z" fill="#f00"/>
<text x="559.8" y="148.0" text-anchor="middle" class="st" textLength="25.6" lengthAdjust="spacingAndGlyphs">312</text>
<path d="M208.5 283.6 L212.2 291.1 L204.8 291.1 Z" fill="#f00"/>
<text x="204.0" y="306.2" text-anchor="middle" class="st" textLength="25.6" lengthAdjust="spacingAndGlyphs">313</text>
<path d="M564.3 373.6 L568.0 381.1 L560.6 381.1 Z" fill="#f00"/>
<text x="559.8" y="396.2" text-anchor="middle" class="st" textLength="25.6" lengthAdjust="spacingAndGlyphs">312</text>
<rect x="67.9" y="14.5" width="549.0" height="206.8" fill="none" stroke="#848484" stroke-width="1"/>
<line x1="90.8" y1="221.3" x2="90.8" y2="219.70000000000002" stroke="#777" stroke-width="0.9"/>
<line x1="90.8" y1="14.5" x2="90.8" y2="16.1" stroke="#777" stroke-width="0.9"/>
<line x1="113.7" y1="221.3" x2="113.7" y2="219.70000000000002" stroke="#777" stroke-width="0.9"/>
<line x1="113.7" y1="14.5" x2="113.7" y2="16.1" stroke="#777" stroke-width="0.9"/>
<line x1="136.6" y1="221.3" x2="136.6" y2="218.5" stroke="#777" stroke-width="0.9"/>
<line x1="136.6" y1="14.5" x2="136.6" y2="17.3" stroke="#777" stroke-width="0.9"/>
<line x1="159.5" y1="221.3" x2="159.5" y2="219.70000000000002" stroke="#777" stroke-width="0.9"/>
<line x1="159.5" y1="14.5" x2="159.5" y2="16.1" stroke="#777" stroke-width="0.9"/>
<line x1="182.4" y1="221.3" x2="182.4" y2="219.70000000000002" stroke="#777" stroke-width="0.9"/>
<line x1="182.4" y1="14.5" x2="182.4" y2="16.1" stroke="#777" stroke-width="0.9"/>
<line x1="205.3" y1="221.3" x2="205.3" y2="219.70000000000002" stroke="#777" stroke-width="0.9"/>
<line x1="205.3" y1="14.5" x2="205.3" y2="16.1" stroke="#777" stroke-width="0.9"/>
<line x1="228.2" y1="221.3" x2="228.2" y2="219.70000000000002" stroke="#777" stroke-width="0.9"/>
<line x1="228.2" y1="14.5" x2="228.2" y2="16.1" stroke="#777" stroke-width="0.9"/>
<line x1="251.1" y1="221.3" x2="251.1" y2="218.5" stroke="#777" stroke-width="0.9"/>
<line x1="251.1" y1="14.5" x2="251.1" y2="17.3" stroke="#777" stroke-width="0.9"/>
<line x1="274.0" y1="221.3" x2="274.0" y2="219.70000000000002" stroke="#777" stroke-width="0.9"/>
<line x1="274.0" y1="14.5" x2="274.0" y2="16.1" stroke="#777" stroke-width="0.9"/>
<line x1="296.9" y1="221.3" x2="296.9" y2="219.70000000000002" stroke="#777" stroke-width="0.9"/>
<line x1="296.9" y1="14.5" x2="296.9" y2="16.1" stroke="#777" stroke-width="0.9"/>
<line x1="319.8" y1="221.3" x2="319.8" y2="219.70000000000002" stroke="#777" stroke-width="0.9"/>
<line x1="319.8" y1="14.5" x2="319.8" y2="16.1" stroke="#777" stroke-width="0.9"/>
<line x1="342.7" y1="221.3" x2="342.7" y2="219.70000000000002" stroke="#777" stroke-width="0.9"/>
<line x1="342.7" y1="14.5" x2="342.7" y2="16.1" stroke="#777" stroke-width="0.9"/>
<line x1="365.5" y1="221.3" x2="365.5" y2="218.5" stroke="#777" stroke-width="0.9"/>
<line x1="365.5" y1="14.5" x2="365.5" y2="17.3" stroke="#777" stroke-width="0.9"/>
<line x1="388.4" y1="221.3" x2="388.4" y2="219.70000000000002" stroke="#777" stroke-width="0.9"/>
<line x1="388.4" y1="14.5" x2="388.4" y2="16.1" stroke="#777" stroke-width="0.9"/>
<line x1="411.3" y1="221.3" x2="411.3" y2="219.70000000000002" stroke="#777" stroke-width="0.9"/>
<line x1="411.3" y1="14.5" x2="411.3" y2="16.1" stroke="#777" stroke-width="0.9"/>
<line x1="434.2" y1="221.3" x2="434.2" y2="219.70000000000002" stroke="#777" stroke-width="0.9"/>
<line x1="434.2" y1="14.5" x2="434.2" y2="16.1" stroke="#777" stroke-width="0.9"/>
<line x1="457.1" y1="221.3" x2="457.1" y2="219.70000000000002" stroke="#777" stroke-width="0.9"/>
<line x1="457.1" y1="14.5" x2="457.1" y2="16.1" stroke="#777" stroke-width="0.9"/>
<line x1="480.0" y1="221.3" x2="480.0" y2="218.5" stroke="#777" stroke-width="0.9"/>
<line x1="480.0" y1="14.5" x2="480.0" y2="17.3" stroke="#777" stroke-width="0.9"/>
<line x1="502.9" y1="221.3" x2="502.9" y2="219.70000000000002" stroke="#777" stroke-width="0.9"/>
<line x1="502.9" y1="14.5" x2="502.9" y2="16.1" stroke="#777" stroke-width="0.9"/>
<line x1="525.8" y1="221.3" x2="525.8" y2="219.70000000000002" stroke="#777" stroke-width="0.9"/>
<line x1="525.8" y1="14.5" x2="525.8" y2="16.1" stroke="#777" stroke-width="0.9"/>
<line x1="548.7" y1="221.3" x2="548.7" y2="219.70000000000002" stroke="#777" stroke-width="0.9"/>
<line x1="548.7" y1="14.5" x2="548.7" y2="16.1" stroke="#777" stroke-width="0.9"/>
<line x1="571.6" y1="221.3" x2="571.6" y2="219.70000000000002" stroke="#777" stroke-width="0.9"/>
<line x1="571.6" y1="14.5" x2="571.6" y2="16.1" stroke="#777" stroke-width="0.9"/>
<line x1="594.5" y1="221.3" x2="594.5" y2="218.5" stroke="#777" stroke-width="0.9"/>
<line x1="594.5" y1="14.5" x2="594.5" y2="17.3" stroke="#777" stroke-width="0.9"/>
<line x1="67.9" y1="24.8" x2="69.2" y2="24.8" stroke="#888" stroke-width="0.9"/>
<line x1="616.9" y1="24.8" x2="615.6" y2="24.8" stroke="#888" stroke-width="0.9"/>
<line x1="67.9" y1="35.2" x2="69.2" y2="35.2" stroke="#888" stroke-width="0.9"/>
<line x1="616.9" y1="35.2" x2="615.6" y2="35.2" stroke="#888" stroke-width="0.9"/>
<line x1="67.9" y1="45.5" x2="69.2" y2="45.5" stroke="#888" stroke-width="0.9"/>
<line x1="616.9" y1="45.5" x2="615.6" y2="45.5" stroke="#888" stroke-width="0.9"/>
<line x1="67.9" y1="55.9" x2="70.10000000000001" y2="55.9" stroke="#888" stroke-width="0.9"/>
<line x1="616.9" y1="55.9" x2="614.6999999999999" y2="55.9" stroke="#888" stroke-width="0.9"/>
<line x1="67.9" y1="66.2" x2="69.2" y2="66.2" stroke="#888" stroke-width="0.9"/>
<line x1="616.9" y1="66.2" x2="615.6" y2="66.2" stroke="#888" stroke-width="0.9"/>
<line x1="67.9" y1="76.5" x2="69.2" y2="76.5" stroke="#888" stroke-width="0.9"/>
<line x1="616.9" y1="76.5" x2="615.6" y2="76.5" stroke="#888" stroke-width="0.9"/>
<line x1="67.9" y1="86.9" x2="69.2" y2="86.9" stroke="#888" stroke-width="0.9"/>
<line x1="616.9" y1="86.9" x2="615.6" y2="86.9" stroke="#888" stroke-width="0.9"/>
<line x1="67.9" y1="97.2" x2="70.10000000000001" y2="97.2" stroke="#888" stroke-width="0.9"/>
<line x1="616.9" y1="97.2" x2="614.6999999999999" y2="97.2" stroke="#888" stroke-width="0.9"/>
<line x1="67.9" y1="107.6" x2="69.2" y2="107.6" stroke="#888" stroke-width="0.9"/>
<line x1="616.9" y1="107.6" x2="615.6" y2="107.6" stroke="#888" stroke-width="0.9"/>
<line x1="67.9" y1="117.9" x2="69.2" y2="117.9" stroke="#888" stroke-width="0.9"/>
<line x1="616.9" y1="117.9" x2="615.6" y2="117.9" stroke="#888" stroke-width="0.9"/>
<line x1="67.9" y1="128.2" x2="69.2" y2="128.2" stroke="#888" stroke-width="0.9"/>
<line x1="616.9" y1="128.2" x2="615.6" y2="128.2" stroke="#888" stroke-width="0.9"/>
<line x1="67.9" y1="138.6" x2="70.10000000000001" y2="138.6" stroke="#888" stroke-width="0.9"/>
<line x1="616.9" y1="138.6" x2="614.6999999999999" y2="138.6" stroke="#888" stroke-width="0.9"/>
<line x1="67.9" y1="148.9" x2="69.2" y2="148.9" stroke="#888" stroke-width="0.9"/>
<line x1="616.9" y1="148.9" x2="615.6" y2="148.9" stroke="#888" stroke-width="0.9"/>
<line x1="67.9" y1="159.3" x2="69.2" y2="159.3" stroke="#888" stroke-width="0.9"/>
<line x1="616.9" y1="159.3" x2="615.6" y2="159.3" stroke="#888" stroke-width="0.9"/>
<line x1="67.9" y1="169.6" x2="69.2" y2="169.6" stroke="#888" stroke-width="0.9"/>
<line x1="616.9" y1="169.6" x2="615.6" y2="169.6" stroke="#888" stroke-width="0.9"/>
<line x1="67.9" y1="179.9" x2="70.10000000000001" y2="179.9" stroke="#888" stroke-width="0.9"/>
<line x1="616.9" y1="179.9" x2="614.6999999999999" y2="179.9" stroke="#888" stroke-width="0.9"/>
<line x1="67.9" y1="190.3" x2="69.2" y2="190.3" stroke="#888" stroke-width="0.9"/>
<line x1="616.9" y1="190.3" x2="615.6" y2="190.3" stroke="#888" stroke-width="0.9"/>
<line x1="67.9" y1="200.6" x2="69.2" y2="200.6" stroke="#888" stroke-width="0.9"/>
<line x1="616.9" y1="200.6" x2="615.6" y2="200.6" stroke="#888" stroke-width="0.9"/>
<line x1="67.9" y1="211.0" x2="69.2" y2="211.0" stroke="#888" stroke-width="0.9"/>
<line x1="616.9" y1="211.0" x2="615.6" y2="211.0" stroke="#888" stroke-width="0.9"/>
<text x="66" y="20.3" text-anchor="end" class="tl" textLength="45" lengthAdjust="spacingAndGlyphs">4.3412</text>
<text x="66" y="61.7" text-anchor="end" class="tl" textLength="45" lengthAdjust="spacingAndGlyphs">4.3410</text>
<text x="66" y="103.0" text-anchor="end" class="tl" textLength="45" lengthAdjust="spacingAndGlyphs">4.3408</text>
<text x="66" y="144.4" text-anchor="end" class="tl" textLength="45" lengthAdjust="spacingAndGlyphs">4.3406</text>
<text x="66" y="185.7" text-anchor="end" class="tl" textLength="45" lengthAdjust="spacingAndGlyphs">4.3404</text>
<text x="66" y="227.1" text-anchor="end" class="tl" textLength="45" lengthAdjust="spacingAndGlyphs">4.3402</text>
<text x="136.6" y="235.1" text-anchor="middle" class="tl" textLength="48.5" lengthAdjust="spacingAndGlyphs">428000</text>
<text x="251.1" y="235.1" text-anchor="middle" class="tl" textLength="48.5" lengthAdjust="spacingAndGlyphs">428500</text>
<text x="365.5" y="235.1" text-anchor="middle" class="tl" textLength="48.5" lengthAdjust="spacingAndGlyphs">429000</text>
<text x="480.0" y="235.1" text-anchor="middle" class="tl" textLength="48.5" lengthAdjust="spacingAndGlyphs">429500</text>
<text x="594.5" y="235.1" text-anchor="middle" class="tl" textLength="48.5" lengthAdjust="spacingAndGlyphs">430000</text>
<text x="68.9" y="14.6" class="ex" style="font-size:16px">×</text>
<text x="79.0" y="12.9" class="ex" textLength="13.4" lengthAdjust="spacingAndGlyphs">10</text>
<text x="93.3" y="7.3" class="sup">6</text>
<text x="342.5" y="253.8" text-anchor="middle" class="at" textLength="85" lengthAdjust="spacingAndGlyphs">Easting (m)</text>
<text transform="translate(13.3 118.4) rotate(-90)" text-anchor="middle" class="at" textLength="94.6" lengthAdjust="spacingAndGlyphs">Northing (m)</text>
<text x="594.6" y="37.1" text-anchor="middle" class="pl" textLength="21.5" lengthAdjust="spacingAndGlyphs">(a)</text>
<rect x="67.9" y="262.75" width="549.0" height="206.8" fill="none" stroke="#848484" stroke-width="1"/>
<line x1="90.8" y1="469.55" x2="90.8" y2="467.95" stroke="#777" stroke-width="0.9"/>
<line x1="90.8" y1="262.75" x2="90.8" y2="264.35" stroke="#777" stroke-width="0.9"/>
<line x1="113.7" y1="469.55" x2="113.7" y2="467.95" stroke="#777" stroke-width="0.9"/>
<line x1="113.7" y1="262.75" x2="113.7" y2="264.35" stroke="#777" stroke-width="0.9"/>
<line x1="136.6" y1="469.55" x2="136.6" y2="466.75" stroke="#777" stroke-width="0.9"/>
<line x1="136.6" y1="262.75" x2="136.6" y2="265.55" stroke="#777" stroke-width="0.9"/>
<line x1="159.5" y1="469.55" x2="159.5" y2="467.95" stroke="#777" stroke-width="0.9"/>
<line x1="159.5" y1="262.75" x2="159.5" y2="264.35" stroke="#777" stroke-width="0.9"/>
<line x1="182.4" y1="469.55" x2="182.4" y2="467.95" stroke="#777" stroke-width="0.9"/>
<line x1="182.4" y1="262.75" x2="182.4" y2="264.35" stroke="#777" stroke-width="0.9"/>
<line x1="205.3" y1="469.55" x2="205.3" y2="467.95" stroke="#777" stroke-width="0.9"/>
<line x1="205.3" y1="262.75" x2="205.3" y2="264.35" stroke="#777" stroke-width="0.9"/>
<line x1="228.2" y1="469.55" x2="228.2" y2="467.95" stroke="#777" stroke-width="0.9"/>
<line x1="228.2" y1="262.75" x2="228.2" y2="264.35" stroke="#777" stroke-width="0.9"/>
<line x1="251.1" y1="469.55" x2="251.1" y2="466.75" stroke="#777" stroke-width="0.9"/>
<line x1="251.1" y1="262.75" x2="251.1" y2="265.55" stroke="#777" stroke-width="0.9"/>
<line x1="274.0" y1="469.55" x2="274.0" y2="467.95" stroke="#777" stroke-width="0.9"/>
<line x1="274.0" y1="262.75" x2="274.0" y2="264.35" stroke="#777" stroke-width="0.9"/>
<line x1="296.9" y1="469.55" x2="296.9" y2="467.95" stroke="#777" stroke-width="0.9"/>
<line x1="296.9" y1="262.75" x2="296.9" y2="264.35" stroke="#777" stroke-width="0.9"/>
<line x1="319.8" y1="469.55" x2="319.8" y2="467.95" stroke="#777" stroke-width="0.9"/>
<line x1="319.8" y1="262.75" x2="319.8" y2="264.35" stroke="#777" stroke-width="0.9"/>
<line x1="342.7" y1="469.55" x2="342.7" y2="467.95" stroke="#777" stroke-width="0.9"/>
<line x1="342.7" y1="262.75" x2="342.7" y2="264.35" stroke="#777" stroke-width="0.9"/>
<line x1="365.5" y1="469.55" x2="365.5" y2="466.75" stroke="#777" stroke-width="0.9"/>
<line x1="365.5" y1="262.75" x2="365.5" y2="265.55" stroke="#777" stroke-width="0.9"/>
<line x1="388.4" y1="469.55" x2="388.4" y2="467.95" stroke="#777" stroke-width="0.9"/>
<line x1="388.4" y1="262.75" x2="388.4" y2="264.35" stroke="#777" stroke-width="0.9"/>
<line x1="411.3" y1="469.55" x2="411.3" y2="467.95" stroke="#777" stroke-width="0.9"/>
<line x1="411.3" y1="262.75" x2="411.3" y2="264.35" stroke="#777" stroke-width="0.9"/>
<line x1="434.2" y1="469.55" x2="434.2" y2="467.95" stroke="#777" stroke-width="0.9"/>
<line x1="434.2" y1="262.75" x2="434.2" y2="264.35" stroke="#777" stroke-width="0.9"/>
<line x1="457.1" y1="469.55" x2="457.1" y2="467.95" stroke="#777" stroke-width="0.9"/>
<line x1="457.1" y1="262.75" x2="457.1" y2="264.35" stroke="#777" stroke-width="0.9"/>
<line x1="480.0" y1="469.55" x2="480.0" y2="466.75" stroke="#777" stroke-width="0.9"/>
<line x1="480.0" y1="262.75" x2="480.0" y2="265.55" stroke="#777" stroke-width="0.9"/>
<line x1="502.9" y1="469.55" x2="502.9" y2="467.95" stroke="#777" stroke-width="0.9"/>
<line x1="502.9" y1="262.75" x2="502.9" y2="264.35" stroke="#777" stroke-width="0.9"/>
<line x1="525.8" y1="469.55" x2="525.8" y2="467.95" stroke="#777" stroke-width="0.9"/>
<line x1="525.8" y1="262.75" x2="525.8" y2="264.35" stroke="#777" stroke-width="0.9"/>
<line x1="548.7" y1="469.55" x2="548.7" y2="467.95" stroke="#777" stroke-width="0.9"/>
<line x1="548.7" y1="262.75" x2="548.7" y2="264.35" stroke="#777" stroke-width="0.9"/>
<line x1="571.6" y1="469.55" x2="571.6" y2="467.95" stroke="#777" stroke-width="0.9"/>
<line x1="571.6" y1="262.75" x2="571.6" y2="264.35" stroke="#777" stroke-width="0.9"/>
<line x1="594.5" y1="469.55" x2="594.5" y2="466.75" stroke="#777" stroke-width="0.9"/>
<line x1="594.5" y1="262.75" x2="594.5" y2="265.55" stroke="#777" stroke-width="0.9"/>
<line x1="67.9" y1="273.1" x2="69.2" y2="273.1" stroke="#888" stroke-width="0.9"/>
<line x1="616.9" y1="273.1" x2="615.6" y2="273.1" stroke="#888" stroke-width="0.9"/>
<line x1="67.9" y1="283.4" x2="69.2" y2="283.4" stroke="#888" stroke-width="0.9"/>
<line x1="616.9" y1="283.4" x2="615.6" y2="283.4" stroke="#888" stroke-width="0.9"/>
<line x1="67.9" y1="293.8" x2="69.2" y2="293.8" stroke="#888" stroke-width="0.9"/>
<line x1="616.9" y1="293.8" x2="615.6" y2="293.8" stroke="#888" stroke-width="0.9"/>
<line x1="67.9" y1="304.1" x2="70.10000000000001" y2="304.1" stroke="#888" stroke-width="0.9"/>
<line x1="616.9" y1="304.1" x2="614.6999999999999" y2="304.1" stroke="#888" stroke-width="0.9"/>
<line x1="67.9" y1="314.4" x2="69.2" y2="314.4" stroke="#888" stroke-width="0.9"/>
<line x1="616.9" y1="314.4" x2="615.6" y2="314.4" stroke="#888" stroke-width="0.9"/>
<line x1="67.9" y1="324.8" x2="69.2" y2="324.8" stroke="#888" stroke-width="0.9"/>
<line x1="616.9" y1="324.8" x2="615.6" y2="324.8" stroke="#888" stroke-width="0.9"/>
<line x1="67.9" y1="335.1" x2="69.2" y2="335.1" stroke="#888" stroke-width="0.9"/>
<line x1="616.9" y1="335.1" x2="615.6" y2="335.1" stroke="#888" stroke-width="0.9"/>
<line x1="67.9" y1="345.5" x2="70.10000000000001" y2="345.5" stroke="#888" stroke-width="0.9"/>
<line x1="616.9" y1="345.5" x2="614.6999999999999" y2="345.5" stroke="#888" stroke-width="0.9"/>
<line x1="67.9" y1="355.8" x2="69.2" y2="355.8" stroke="#888" stroke-width="0.9"/>
<line x1="616.9" y1="355.8" x2="615.6" y2="355.8" stroke="#888" stroke-width="0.9"/>
<line x1="67.9" y1="366.1" x2="69.2" y2="366.1" stroke="#888" stroke-width="0.9"/>
<line x1="616.9" y1="366.1" x2="615.6" y2="366.1" stroke="#888" stroke-width="0.9"/>
<line x1="67.9" y1="376.5" x2="69.2" y2="376.5" stroke="#888" stroke-width="0.9"/>
<line x1="616.9" y1="376.5" x2="615.6" y2="376.5" stroke="#888" stroke-width="0.9"/>
<line x1="67.9" y1="386.8" x2="70.10000000000001" y2="386.8" stroke="#888" stroke-width="0.9"/>
<line x1="616.9" y1="386.8" x2="614.6999999999999" y2="386.8" stroke="#888" stroke-width="0.9"/>
<line x1="67.9" y1="397.2" x2="69.2" y2="397.2" stroke="#888" stroke-width="0.9"/>
<line x1="616.9" y1="397.2" x2="615.6" y2="397.2" stroke="#888" stroke-width="0.9"/>
<line x1="67.9" y1="407.5" x2="69.2" y2="407.5" stroke="#888" stroke-width="0.9"/>
<line x1="616.9" y1="407.5" x2="615.6" y2="407.5" stroke="#888" stroke-width="0.9"/>
<line x1="67.9" y1="417.9" x2="69.2" y2="417.9" stroke="#888" stroke-width="0.9"/>
<line x1="616.9" y1="417.9" x2="615.6" y2="417.9" stroke="#888" stroke-width="0.9"/>
<line x1="67.9" y1="428.2" x2="70.10000000000001" y2="428.2" stroke="#888" stroke-width="0.9"/>
<line x1="616.9" y1="428.2" x2="614.6999999999999" y2="428.2" stroke="#888" stroke-width="0.9"/>
<line x1="67.9" y1="438.5" x2="69.2" y2="438.5" stroke="#888" stroke-width="0.9"/>
<line x1="616.9" y1="438.5" x2="615.6" y2="438.5" stroke="#888" stroke-width="0.9"/>
<line x1="67.9" y1="448.9" x2="69.2" y2="448.9" stroke="#888" stroke-width="0.9"/>
<line x1="616.9" y1="448.9" x2="615.6" y2="448.9" stroke="#888" stroke-width="0.9"/>
<line x1="67.9" y1="459.2" x2="69.2" y2="459.2" stroke="#888" stroke-width="0.9"/>
<line x1="616.9" y1="459.2" x2="615.6" y2="459.2" stroke="#888" stroke-width="0.9"/>
<text x="66" y="268.6" text-anchor="end" class="tl" textLength="45" lengthAdjust="spacingAndGlyphs">4.3412</text>
<text x="66" y="309.9" text-anchor="end" class="tl" textLength="45" lengthAdjust="spacingAndGlyphs">4.3410</text>
<text x="66" y="351.3" text-anchor="end" class="tl" textLength="45" lengthAdjust="spacingAndGlyphs">4.3408</text>
<text x="66" y="392.6" text-anchor="end" class="tl" textLength="45" lengthAdjust="spacingAndGlyphs">4.3406</text>
<text x="66" y="434.0" text-anchor="end" class="tl" textLength="45" lengthAdjust="spacingAndGlyphs">4.3404</text>
<text x="66" y="475.4" text-anchor="end" class="tl" textLength="45" lengthAdjust="spacingAndGlyphs">4.3402</text>
<text x="136.6" y="483.4" text-anchor="middle" class="tl" textLength="48.5" lengthAdjust="spacingAndGlyphs">428000</text>
<text x="251.1" y="483.4" text-anchor="middle" class="tl" textLength="48.5" lengthAdjust="spacingAndGlyphs">428500</text>
<text x="365.5" y="483.4" text-anchor="middle" class="tl" textLength="48.5" lengthAdjust="spacingAndGlyphs">429000</text>
<text x="480.0" y="483.4" text-anchor="middle" class="tl" textLength="48.5" lengthAdjust="spacingAndGlyphs">429500</text>
<text x="594.5" y="483.4" text-anchor="middle" class="tl" textLength="48.5" lengthAdjust="spacingAndGlyphs">430000</text>
<text x="68.9" y="262.9" class="ex" style="font-size:16px">×</text>
<text x="79.0" y="261.1" class="ex" textLength="13.4" lengthAdjust="spacingAndGlyphs">10</text>
<text x="93.3" y="255.6" class="sup">6</text>
<text x="342.5" y="502.1" text-anchor="middle" class="at" textLength="85" lengthAdjust="spacingAndGlyphs">Easting (m)</text>
<text transform="translate(13.3 366.6) rotate(-90)" text-anchor="middle" class="at" textLength="94.6" lengthAdjust="spacingAndGlyphs">Northing (m)</text>
<text x="596.5" y="285.9" text-anchor="middle" class="pl" textLength="23.0" lengthAdjust="spacingAndGlyphs">(b)</text>
<defs><linearGradient id="cbg14" x1="0" y1="0" x2="0" y2="1"><stop offset="0.000" stop-color="#ff0000"/><stop offset="0.025" stop-color="#ff140a"/><stop offset="0.050" stop-color="#ff2814"/><stop offset="0.075" stop-color="#ff3c1e"/><stop offset="0.100" stop-color="#ff4f28"/><stop offset="0.125" stop-color="#ff6232"/><stop offset="0.150" stop-color="#ff743c"/><stop offset="0.175" stop-color="#ff8545"/><stop offset="0.200" stop-color="#ff964f"/><stop offset="0.225" stop-color="#ffa658"/><stop offset="0.250" stop-color="#ffb462"/><stop offset="0.275" stop-color="#f2c26b"/><stop offset="0.300" stop-color="#e5ce74"/><stop offset="0.325" stop-color="#d9d97d"/><stop offset="0.350" stop-color="#cce385"/><stop offset="0.375" stop-color="#bfec8e"/><stop offset="0.400" stop-color="#b2f396"/><stop offset="0.425" stop-color="#a6f89e"/><stop offset="0.450" stop-color="#99fca6"/><stop offset="0.475" stop-color="#8cfead"/><stop offset="0.500" stop-color="#80ffb4"/><stop offset="0.525" stop-color="#73febb"/><stop offset="0.550" stop-color="#66fcc2"/><stop offset="0.575" stop-color="#59f8c8"/><stop offset="0.600" stop-color="#4df3ce"/><stop offset="0.625" stop-color="#40ecd4"/><stop offset="0.650" stop-color="#33e3d9"/><stop offset="0.675" stop-color="#26d9de"/><stop offset="0.700" stop-color="#1acee3"/><stop offset="0.725" stop-color="#0dc2e8"/><stop offset="0.750" stop-color="#00b4ec"/><stop offset="0.775" stop-color="#0da6ef"/><stop offset="0.800" stop-color="#1a96f3"/><stop offset="0.825" stop-color="#2685f5"/><stop offset="0.850" stop-color="#3374f8"/><stop offset="0.875" stop-color="#4062fa"/><stop offset="0.900" stop-color="#4d4ffc"/><stop offset="0.925" stop-color="#593cfd"/><stop offset="0.950" stop-color="#6628fe"/><stop offset="0.975" stop-color="#7314ff"/><stop offset="1.000" stop-color="#8000ff"/></linearGradient></defs>
<rect x="651" y="23.9" width="11" height="188.0" fill="url(#cbg14)"/>
<path d="M651 23.9 L656.5 14.7 L662 23.9 Z" fill="#ff0000"/>
<path d="M651 211.9 L656.5 221.1 L662 211.9 Z" fill="#8000ff"/>
<text x="664.6" y="29.0" class="cl" textLength="19.4" lengthAdjust="spacingAndGlyphs">210</text>
<text x="664.6" y="76.0" class="cl" textLength="19.4" lengthAdjust="spacingAndGlyphs">205</text>
<text x="664.6" y="123.0" class="cl" textLength="19.4" lengthAdjust="spacingAndGlyphs">200</text>
<text x="664.6" y="170.0" class="cl" textLength="19.4" lengthAdjust="spacingAndGlyphs">195</text>
<text x="664.6" y="217.0" class="cl" textLength="19.4" lengthAdjust="spacingAndGlyphs">190</text>
<line x1="660.8" y1="23.9" x2="662" y2="23.9" stroke="#333" stroke-width="0.6"/>
<line x1="660.8" y1="33.3" x2="662" y2="33.3" stroke="#333" stroke-width="0.6"/>
<line x1="660.8" y1="42.7" x2="662" y2="42.7" stroke="#333" stroke-width="0.6"/>
<line x1="660.8" y1="52.1" x2="662" y2="52.1" stroke="#333" stroke-width="0.6"/>
<line x1="660.8" y1="61.5" x2="662" y2="61.5" stroke="#333" stroke-width="0.6"/>
<line x1="660.8" y1="70.9" x2="662" y2="70.9" stroke="#333" stroke-width="0.6"/>
<line x1="660.8" y1="80.3" x2="662" y2="80.3" stroke="#333" stroke-width="0.6"/>
<line x1="660.8" y1="89.7" x2="662" y2="89.7" stroke="#333" stroke-width="0.6"/>
<line x1="660.8" y1="99.1" x2="662" y2="99.1" stroke="#333" stroke-width="0.6"/>
<line x1="660.8" y1="108.5" x2="662" y2="108.5" stroke="#333" stroke-width="0.6"/>
<line x1="660.8" y1="117.9" x2="662" y2="117.9" stroke="#333" stroke-width="0.6"/>
<line x1="660.8" y1="127.3" x2="662" y2="127.3" stroke="#333" stroke-width="0.6"/>
<line x1="660.8" y1="136.7" x2="662" y2="136.7" stroke="#333" stroke-width="0.6"/>
<line x1="660.8" y1="146.1" x2="662" y2="146.1" stroke="#333" stroke-width="0.6"/>
<line x1="660.8" y1="155.5" x2="662" y2="155.5" stroke="#333" stroke-width="0.6"/>
<line x1="660.8" y1="164.9" x2="662" y2="164.9" stroke="#333" stroke-width="0.6"/>
<line x1="660.8" y1="174.3" x2="662" y2="174.3" stroke="#333" stroke-width="0.6"/>
<line x1="660.8" y1="183.7" x2="662" y2="183.7" stroke="#333" stroke-width="0.6"/>
<line x1="660.8" y1="193.1" x2="662" y2="193.1" stroke="#333" stroke-width="0.6"/>
<line x1="660.8" y1="202.5" x2="662" y2="202.5" stroke="#333" stroke-width="0.6"/>
<line x1="660.8" y1="211.9" x2="662" y2="211.9" stroke="#333" stroke-width="0.6"/>
<text transform="translate(641.4 124.3) rotate(-90)" text-anchor="middle" class="at" textLength="132.2" lengthAdjust="spacingAndGlyphs">Bed elevation (m)c</text>
<defs><linearGradient id="cbg262" x1="0" y1="0" x2="0" y2="1"><stop offset="0.000" stop-color="#ff0000"/><stop offset="0.025" stop-color="#ff140a"/><stop offset="0.050" stop-color="#ff2814"/><stop offset="0.075" stop-color="#ff3c1e"/><stop offset="0.100" stop-color="#ff4f28"/><stop offset="0.125" stop-color="#ff6232"/><stop offset="0.150" stop-color="#ff743c"/><stop offset="0.175" stop-color="#ff8545"/><stop offset="0.200" stop-color="#ff964f"/><stop offset="0.225" stop-color="#ffa658"/><stop offset="0.250" stop-color="#ffb462"/><stop offset="0.275" stop-color="#f2c26b"/><stop offset="0.300" stop-color="#e5ce74"/><stop offset="0.325" stop-color="#d9d97d"/><stop offset="0.350" stop-color="#cce385"/><stop offset="0.375" stop-color="#bfec8e"/><stop offset="0.400" stop-color="#b2f396"/><stop offset="0.425" stop-color="#a6f89e"/><stop offset="0.450" stop-color="#99fca6"/><stop offset="0.475" stop-color="#8cfead"/><stop offset="0.500" stop-color="#80ffb4"/><stop offset="0.525" stop-color="#73febb"/><stop offset="0.550" stop-color="#66fcc2"/><stop offset="0.575" stop-color="#59f8c8"/><stop offset="0.600" stop-color="#4df3ce"/><stop offset="0.625" stop-color="#40ecd4"/><stop offset="0.650" stop-color="#33e3d9"/><stop offset="0.675" stop-color="#26d9de"/><stop offset="0.700" stop-color="#1acee3"/><stop offset="0.725" stop-color="#0dc2e8"/><stop offset="0.750" stop-color="#00b4ec"/><stop offset="0.775" stop-color="#0da6ef"/><stop offset="0.800" stop-color="#1a96f3"/><stop offset="0.825" stop-color="#2685f5"/><stop offset="0.850" stop-color="#3374f8"/><stop offset="0.875" stop-color="#4062fa"/><stop offset="0.900" stop-color="#4d4ffc"/><stop offset="0.925" stop-color="#593cfd"/><stop offset="0.950" stop-color="#6628fe"/><stop offset="0.975" stop-color="#7314ff"/><stop offset="1.000" stop-color="#8000ff"/></linearGradient></defs>
<rect x="651" y="272.1" width="11" height="188.0" fill="url(#cbg262)"/>
<path d="M651 272.1 L656.5 262.9 L662 272.1 Z" fill="#ff0000"/>
<path d="M651 460.2 L656.5 469.4 L662 460.2 Z" fill="#8000ff"/>
<text x="664.6" y="277.2" class="cl" textLength="19.4" lengthAdjust="spacingAndGlyphs">210</text>
<text x="664.6" y="324.2" class="cl" textLength="19.4" lengthAdjust="spacingAndGlyphs">205</text>
<text x="664.6" y="371.2" class="cl" textLength="19.4" lengthAdjust="spacingAndGlyphs">200</text>
<text x="664.6" y="418.3" class="cl" textLength="19.4" lengthAdjust="spacingAndGlyphs">195</text>
<text x="664.6" y="465.3" class="cl" textLength="19.4" lengthAdjust="spacingAndGlyphs">190</text>
<line x1="660.8" y1="272.1" x2="662" y2="272.1" stroke="#333" stroke-width="0.6"/>
<line x1="660.8" y1="281.5" x2="662" y2="281.5" stroke="#333" stroke-width="0.6"/>
<line x1="660.8" y1="290.9" x2="662" y2="290.9" stroke="#333" stroke-width="0.6"/>
<line x1="660.8" y1="300.3" x2="662" y2="300.3" stroke="#333" stroke-width="0.6"/>
<line x1="660.8" y1="309.8" x2="662" y2="309.8" stroke="#333" stroke-width="0.6"/>
<line x1="660.8" y1="319.1" x2="662" y2="319.1" stroke="#333" stroke-width="0.6"/>
<line x1="660.8" y1="328.6" x2="662" y2="328.6" stroke="#333" stroke-width="0.6"/>
<line x1="660.8" y1="337.9" x2="662" y2="337.9" stroke="#333" stroke-width="0.6"/>
<line x1="660.8" y1="347.4" x2="662" y2="347.4" stroke="#333" stroke-width="0.6"/>
<line x1="660.8" y1="356.8" x2="662" y2="356.8" stroke="#333" stroke-width="0.6"/>
<line x1="660.8" y1="366.1" x2="662" y2="366.1" stroke="#333" stroke-width="0.6"/>
<line x1="660.8" y1="375.6" x2="662" y2="375.6" stroke="#333" stroke-width="0.6"/>
<line x1="660.8" y1="385.0" x2="662" y2="385.0" stroke="#333" stroke-width="0.6"/>
<line x1="660.8" y1="394.4" x2="662" y2="394.4" stroke="#333" stroke-width="0.6"/>
<line x1="660.8" y1="403.8" x2="662" y2="403.8" stroke="#333" stroke-width="0.6"/>
<line x1="660.8" y1="413.2" x2="662" y2="413.2" stroke="#333" stroke-width="0.6"/>
<line x1="660.8" y1="422.6" x2="662" y2="422.6" stroke="#333" stroke-width="0.6"/>
<line x1="660.8" y1="432.0" x2="662" y2="432.0" stroke="#333" stroke-width="0.6"/>
<line x1="660.8" y1="441.4" x2="662" y2="441.4" stroke="#333" stroke-width="0.6"/>
<line x1="660.8" y1="450.8" x2="662" y2="450.8" stroke="#333" stroke-width="0.6"/>
<line x1="660.8" y1="460.2" x2="662" y2="460.2" stroke="#333" stroke-width="0.6"/>
<text transform="translate(641.4 367.3) rotate(-90)" text-anchor="middle" class="at" textLength="124.6" lengthAdjust="spacingAndGlyphs">Bed elevation (m)</text>
</svg></body></html>
